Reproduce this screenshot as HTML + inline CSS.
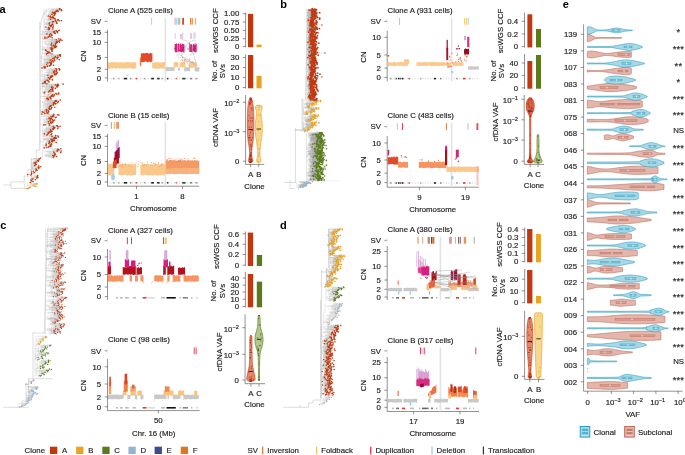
<!DOCTYPE html>
<html><head><meta charset="utf-8"><style>
html,body{margin:0;padding:0;background:#fff;}
svg{display:block;font-family:"Liberation Sans", sans-serif;will-change:transform;}
text{stroke:#231f20;stroke-width:0.18px;}
text.b{stroke:none;}
</style></head><body>
<svg width="685" height="455" viewBox="0 0 685 455">
<rect width="685" height="455" fill="#fff"/>
<text class="b" x="-0.6" y="12.9" font-size="11" text-anchor="start" font-weight="bold" fill="#000">a</text>
<text class="b" x="280.2" y="7.6" font-size="11" text-anchor="start" font-weight="bold" fill="#000">b</text>
<text class="b" x="0.2" y="229" font-size="11" text-anchor="start" font-weight="bold" fill="#000">c</text>
<text class="b" x="280" y="228.5" font-size="11" text-anchor="start" font-weight="bold" fill="#000">d</text>
<text class="b" x="562.8" y="7.6" font-size="11" text-anchor="start" font-weight="bold" fill="#000">e</text>
<line x1="39.8" y1="22" x2="39.8" y2="150" stroke="#a8a8a8" stroke-width="0.4"/>
<line x1="36.3" y1="150" x2="39.8" y2="150" stroke="#a8a8a8" stroke-width="0.4"/>
<line x1="36.3" y1="150" x2="36.3" y2="165" stroke="#a8a8a8" stroke-width="0.4"/>
<line x1="31.9" y1="163" x2="36.3" y2="163" stroke="#a8a8a8" stroke-width="0.4"/>
<line x1="31.9" y1="163" x2="31.9" y2="172" stroke="#a8a8a8" stroke-width="0.4"/>
<line x1="28" y1="170" x2="31.9" y2="170" stroke="#a8a8a8" stroke-width="0.4"/>
<line x1="28" y1="170" x2="28" y2="178" stroke="#a8a8a8" stroke-width="0.4"/>
<line x1="24.2" y1="176" x2="28" y2="176" stroke="#a8a8a8" stroke-width="0.4"/>
<line x1="24.2" y1="176" x2="24.2" y2="183" stroke="#a8a8a8" stroke-width="0.4"/>
<line x1="3.3" y1="185" x2="11" y2="185" stroke="#a8a8a8" stroke-width="0.4"/>
<line x1="11" y1="181.8" x2="11" y2="188.4" stroke="#a8a8a8" stroke-width="0.4"/>
<line x1="11" y1="181.8" x2="24.2" y2="181.8" stroke="#a8a8a8" stroke-width="0.4"/>
<line x1="11" y1="188.4" x2="27" y2="188.4" stroke="#a8a8a8" stroke-width="0.4"/>
<line x1="40" y1="30" x2="41.5" y2="20" stroke="#a8a8a8" stroke-width="0.4"/>
<line x1="41.5" y1="20" x2="44" y2="13" stroke="#a8a8a8" stroke-width="0.4"/>
<line x1="44" y1="13" x2="47.5" y2="9" stroke="#a8a8a8" stroke-width="0.4"/>
<g stroke="#aaaaaa" stroke-width="0.28" fill="none">
<path d="M44 8.6v21.4M46.1 8.6v10.7M44 14h2.1M47.8 8.8h11.7M51.6 9.1h8.4M49.8 9.5h9.9M57 9.9h4.7M57 9.9v-2.1M51.7 10.2h5.5M48.3 10.6h13.3M48.3 10.6v-1.8M50.3 10.9h5.9M50.3 10.9v1.8M52.2 11.3h6.1M45.5 11.6h11.4M50.1 12h5.1M50.1 12v1M50 12.4h2.8M51.7 12.7h2.6M48.6 13.1h6.8M49.3 13.4h5.5M47.2 13.8h6.7M49.4 14.1h5.6M48 14.5h4M49.1 14.9h5.7M48.3 15.2h6.1M46.9 15.6h7.4M45.5 15.9h3M49.4 16.3h1.2M47.3 16.6h5.6M47.1 17h3M47.1 17v-1M48.4 17.4h4.3M48.4 17.4v2.2M47.5 17.7h3.7M47 18.1h6.7M48.5 18.4h4.7M48.5 18.4v2M47.9 18.8h7.2M49.6 19.2h1M44.7 19.3v10.7M44 24.7h0.7M47.3 19.5h11M47.3 19.5v1.9M49.5 19.9h5.7M46.2 20.2h11.4M46.2 20.2v-1.3M52.8 20.6h6.5M48.9 20.9h12.5M48.9 20.9v-1.8M50.4 21.3h5.4M49.8 21.6h4M46.7 22h5.8M46.7 22v1.7M49.3 22.4h7.5M45.6 22.7h4M45.6 22.7v2.4M49.2 23.1h7.4M46 23.4h10.9M47.7 23.8h1.3M47 24.1h5.4M47 24.1v0.5M45.9 24.5h6M46.5 24.8h6.5M46.7 25.2h3M46.7 25.2v-3M47.5 25.6h3.7M48.3 25.9h2M48.3 25.9v0.4M50.1 26.3h3.1M48 26.6h2.9M44.6 27h1.3M49 27.3h3.8M49 27.3v0.4M44.6 27.7h3.9M44.6 27.7v-0.3M46.5 28h2.7M46.3 28.4h3.3M46.3 28.4v2.3M46.8 28.8h2.6M48 29.1h4.9M44.3 29.5h4M46.1 29.8h2.9M40.5 30v70M42.5 30v8.9M40.5 34.4h2M49.9 30.2h9.4M49.9 30.2v-2.1M52.1 30.5h6.7M52.1 30.5v-2.7M46.7 30.9h9.4M41.9 31.2h14.7M43.2 31.6h11.2M43.2 31.6v0.2M45.6 31.9h11.8M45.6 31.9v-1.8M47.5 32.3h6.1M47.5 32.3v-0.9M44.1 32.7h13.3M42 33h12.5M51.2 33.4h4.1M48 33.7h2.6M44 34.1h2.9M44 34.1v-2.2M43.9 34.4h7.7M42.4 34.8h7.2M42.4 34.8v-1.2M49.7 35.1h2.1M49.8 35.5h2.1M46.6 35.8h5M46.6 35.8v0M43.5 36.2h5.6M46.4 36.6h3.8M44 36.9h4.3M43.9 37.3h1M46.8 37.6h5.4M44.5 38h2.5M42.2 38.3h2.8M42.9 38.7h2.1M42.5 38.9v15.5M40.5 46.6h2M48.2 39h10.5M51.2 39.4h9.6M43.5 39.7h12.8M43.5 39.7v-1.4M46.8 40.1h13.3M50.6 40.4h11.4M53.1 40.8h6.5M44.8 41.2h13.9M44.8 41.2v1M48.8 41.5h8.4M43 41.9h13.1M51.6 42.2h7.9M53.7 42.6h3.5M53.7 42.6v0.5M48.8 42.9h3M43.2 43.3h12.4M48.2 43.6h8M46.8 44h9M52.2 44.3h3.2M45.7 44.7h5.6M45.6 45h7.5M45.6 45v-2.4M50.8 45.4h2.7M50.8 45.4v-1.4M48.2 45.7h6.6M49.1 46.1h6.5M51.3 46.4h5.2M51.2 46.8h2.9M51.2 46.8v-0.2M42.7 47.1h9.2M47.5 47.5h8.2M47.5 47.5v-2M51.1 47.8h3.1M44.4 48.2h6.2M44.4 48.2v-0.9M49.2 48.5h2.6M47.3 48.9h5.5M41.9 49.2h10.5M42.3 49.6h9M42.3 49.6v-1.5M43.2 50h2.4M43.2 50v-2.8M44 50.3h7.7M43.4 50.7h2.7M44.6 51h7.7M45.9 51.4h6.1M45.8 51.7h1.8M45.8 51.7v2.5M45.6 52.1h2.5M45.6 52.4h3.5M44.3 52.8h4M45.7 53.1h4.5M42 53.5h5.3M42 53.5v-0M45.2 53.8h6.8M44.2 54.2h2.5M41.6 54.4v14.1M40.5 61.4h1.1M56.1 54.5h4.1M44.5 54.9h15M46.4 55.2h14M46.1 55.6h13.6M43.9 55.9h14M51.6 56.3h8.7M47.3 56.6h8M47.3 56.6v1M43.1 57h12.8M43.1 57v-0.9M54.4 57.3h3.7M54.4 57.3v-0.9M48.4 57.7h9M46.1 58.1h8.1M41.4 58.4h11.2M41.4 58.4v-2.6M51.4 58.8h5.9M43.2 59.1h11.1M43.4 59.5h16.1M44.1 59.8h6.9M43.1 60.2h7.2M43.1 60.2v-0.4M46.9 60.5h7.7M43.3 60.9h9.3M48.7 61.2h4.2M48.7 61.2v-2.6M44.9 61.6h6.7M43.6 61.9h9.9M44.2 62.3h7.3M44.3 62.6h5.4M44.3 62.6v2M43.9 63h4M48 63.3h2.5M49.6 63.7h2.1M41.6 64h9.2M43.9 64.4h2.8M43.9 64.4v-1.2M48.7 64.7h2.3M45 65.1h8.6M42.2 65.4h8.2M43.8 65.8h5.7M45.1 66.1h2.6M45.1 66.1v-1.1M42.9 66.5h4.5M42.9 66.5v-2.4M42.1 66.8h1.9M42.8 67.2h2.7M43.5 67.6h0.8M43.6 67.9h1.3M43.6 67.9v-3M41.9 68.3h0.1M42.1 68.4v15.4M40.5 76.1h1.6M42.3 68.6h16.6M48.5 69h7.4M51.8 69.3h4.9M46.6 69.7h13.2M46.6 69.7v2.6M48 70h11.7M51.9 70.4h4.4M46.7 70.7h7.6M49.2 71.1h7.3M49.2 71.1v0.4M51.8 71.4h4.4M51.8 71.4v0.6M48 71.8h5.7M46.7 72.1h6.7M46.7 72.1v0.7M44.8 72.5h9.9M44.8 72.5v-0.2M48.3 72.8h9.2M48.3 72.8v-0.3M51 73.2h5.6M47.7 73.5h6.7M47.5 73.9h8.5M45.5 74.2h10.6M41.7 74.6h12.9M52 74.9h3.7M52 74.9v1.9M43.7 75.3h4.1M44.4 75.6h7.7M44.4 75.6v2.6M41.9 76h10.9M48.3 76.3h2.5M45.1 76.7h7M48.7 77h1.7M47.6 77.4h3.4M47.6 77.4v1.9M45.2 77.7h3.2M43.8 78.1h6.5M47.9 78.4h2.2M47.9 78.4v-1.6M43.5 78.8h6.4M45.9 79.1h3.6M45.9 79.1v0.7M44.2 79.5h8.2M44.2 79.5v0.8M43.8 79.8h8.8M43.8 79.8v-2.9M42.4 80.2h4.6M46.3 80.5h1.5M46.3 80.5v0.2M40.9 80.9h7.3M43.7 81.2h5M43.2 81.6h2.2M42.5 81.9h2.1M46.4 82.3h2.6M42.7 82.6h1.5M42.7 82.6v-1M41.5 83h3.9M41.3 83.3h1.5M41.3 83.3v0.9M43.5 83.7h3.5M43.5 83.7v1.5M42.6 83.8v9.2M40.5 88.4h2.1M48.1 84h15.1M45.8 84.4h11.9M44.8 84.7h10.6M42.1 85.1h15.2M45.4 85.4h13.2M51.1 85.8h6M41.9 86.1h14.8M42 86.5h15.5M41.8 86.8h10.3M41.8 86.8v-2.3M48.8 87.2h8.2M44.1 87.5h7.4M45.5 87.9h7.6M45.5 87.9v1.3M52.5 88.2h2.9M46.7 88.6h6M44.6 88.9h7.7M44.6 88.9v2.2M45 89.3h7.7M46.1 89.6h4.4M49.1 90h3M49.1 90v2.7M48.6 90.3h4.2M44.5 90.7h5.2M45.1 91h4.1M45.1 91.4h7.8M45.1 91.4v2.4M48.6 91.8h2.4M48.6 91.8v-0.2M42.4 92.1h6M42.2 92.5h2.4M42.9 92.8h1.4M45 93v7M40.5 96.5h4.5M49.9 93.2h8.9M49.9 93.2v-2.1M48.6 93.5h7.3M48.6 93.5v2.9M55.6 93.9h3.1M55.6 93.9v-0.7M47.8 94.2h9.1M47.8 94.6h4.7M47.8 94.6v-0.6M44.7 94.9h9.5M44.7 94.9v0.6M47 95.3h5.3M50.5 95.6h3.6M46.2 96h5.3M41.6 96.3h9.8M45.5 96.7h7.6M45.5 96.7v-0.5M46.2 97h4.4M46.2 97v0.9M47.3 97.4h2.9M45.9 97.7h4.1M47.5 98.1h2.8M46 98.4h1.7M42.2 98.8h4.6M46.7 99.1h4.2M46.4 99.5h2.1M44.8 99.8h3.3M40 100v48M40.5 100v14.2M40 107.1h0.5M50.3 100.2h10M50.3 100.2v2.8M44.9 100.5h11.1M44.9 100.5v0.3M43.7 100.9h11.5M44.2 101.2h12.4M44.2 101.2v1.3M46.1 101.6h12.3M51.4 101.9h3.6M47.9 102.3h6.5M42.3 102.7h15.2M42.7 103h10.6M42.7 103v-1.6M47.2 103.4h7.6M47.2 103.4v2.3M46.7 103.7h9.3M45.3 104.1h10.1M44.7 104.4h8.5M44.7 104.4v-1.6M43.1 104.8h10.2M49.7 105.1h3.9M49.7 105.1v2M42.7 105.5h7.7M46.6 105.8h5.1M42.3 106.2h7.7M47.5 106.6h2.6M47.5 106.6v1.3M44.4 106.9h5.1M46.2 107.3h8.4M43.2 107.6h8.5M47.2 108h1.9M45 108.3h4.3M47 108.7h4.2M42.9 109h8M44.6 109.4h4.9M42.5 109.7h4M41.9 110.1h4.4M44.5 110.5h3.6M43.8 110.8h4.1M42.9 111.2h3.5M44.6 111.5h4.1M44.6 111.5v-2.3M40.7 111.9h1.6M42.3 112.2h1.6M42 112.6h5.8M42 112.6v-3M45.5 112.9h1.4M45.5 112.9v2.2M45.1 113.3h2.9M45.1 113.3v-2.7M42.5 113.6h2.3M41.5 114h0.3M41.5 114v2.8M44.1 114.2v11.2M40 119.8h4.1M41.3 114.3h12.5M46.1 114.7h11.8M52.7 115h6.3M52.7 115v1.8M47.6 115.4h6M44.6 115.7h8.2M44.6 115.7v-2.6M49.2 116.1h4.6M42.4 116.5h8.6M46.6 116.8h5.5M47.6 117.2h8.6M51.9 117.5h3.6M45.8 117.9h4M45.3 118.2h6.2M47.2 118.6h1.8M45.7 118.9h4.8M45.7 118.9v1.5M45.2 119.3h5.5M46.7 119.6h5.8M46.6 120h8.1M46.6 120v-1.9M46.9 120.3h3.2M46.9 120.3v-2.7M45.8 120.7h7.7M48.1 121h4.6M48.1 121v-2.8M44.2 121.4h9M45.3 121.7h5.9M44.7 122.1h3.7M44.7 122.1v-1.9M43.8 122.4h8.8M47.6 122.8h3.2M48 123.1h3.2M46.2 123.5h2.9M46.2 123.5v2.8M45.9 123.8h3.4M40.7 124.2h8.8M44.4 124.5h0.9M40.8 124.9h3M45.2 125.2h4.5M42.8 125.4v9.9M40 130.4h2.8M51.6 125.6h5.8M51.6 125.6v-2.8M49 125.9h7.7M49 125.9v-0.3M50.4 126.3h9.8M48.5 126.6h4.8M48.5 126.6v-1.7M46.4 127h11.7M46.4 127v2.2M50.2 127.3h3.4M46.7 127.7h8.1M46.1 128.1h8.5M46.1 128.1v-0.1M45.4 128.4h8.1M47.4 128.8h10.4M42.7 129.1h10.1M43.9 129.5h9.3M45.9 129.8h4.5M48 130.2h2.9M44.2 130.5h6.9M44.8 130.9h6.1M44.2 131.2h7.9M42.4 131.6h7.9M43.6 132h5.9M48.3 132.3h2.6M45.7 132.7h2.6M45.7 132.7v0.1M44 133h4.1M42.2 133.4h6.4M47 133.7h4.9M44.1 134.1h0.4M44.1 134.1v-1.9M43.7 134.4h4.1M47.1 134.8h4M43 135.1h3.8M43 135.1v-2.3M43.2 135.3v12.7M40 141.7h3.2M45.7 135.5h10.1M42.5 135.8h15.4M49.1 136.2h9M42.8 136.6h9.1M42.8 136.6v-1M49 136.9h9.3M52.6 137.3h2.8M49.2 137.6h5M44.7 138h11.6M44.7 138v2.8M46 138.3h9M42.8 138.7h11.4M50.6 139h2.5M42.3 139.4h8.8M48.1 139.7h4.5M45.1 140.1h7.2M45.1 140.1v-2.2M46.6 140.4h7.9M46.6 140.4v-2.5M48.9 140.8h4.5M48.9 140.8v1.3M46.4 141.1h2.9M46.2 141.5h5.2M49.7 141.8h2.7M49.7 141.8v0.3M47.2 142.2h2.2M47.2 142.2v-2.6M45.1 142.5h11.1M48.5 142.9h1.5M45.2 143.2h3.7M48.4 143.6h3.2M45.1 143.9h1M48.6 144.3h3.1M44.2 144.7h7.3M46.1 145h4M44.2 145.4h1.7M42 145.7h4.1M44.7 146.1h5.8M48.5 146.4h2.4M45.5 146.8h3.5M47.4 147.1h1.4M42.3 147.5h4.5M43.6 147.8h0.7M42.5 148.5v9M45.6 148.7h15.2M51.2 149.2h6.3M51.9 149.6h6.3M55.4 150.1h3.5M53.2 150.5h4.1M46.4 151h14.7M46.4 151v0.1M45.8 151.4h11.3M43.3 151.9h10.6M53.1 152.3h7.6M53.1 152.3v-1.2M47.7 152.8h6.4M46.6 153.2h7.9M50.2 153.7h4.5M50.2 153.7v-2.4M51.2 154.1h4.2M45.3 154.6h9.5M45.9 155h8.4M45.9 155v2.4M43.9 155.5h8.9M46.1 155.9h8.7M45.6 156.4h10.9M48.3 156.8h5.3M49 157.3h4.3M49 157.3v-1.1M31 158v25M31.5 158v7.9M31 162h0.5M33 158.3h7.6M32.6 158.8h6.5M32.6 158.8v2M33.4 159.3h6.1M33.4 159.3v-1.6M35.7 159.8h2.9M35.7 159.8v-1.4M34 160.4h3.6M33 160.9h5.7M33.5 161.4h5.1M33.5 161.4v-0.3M33.1 162h3.6M31.7 162.5h3.7M33.2 163h1M32.7 163.5h2.5M33.9 164.1h1.9M33.9 164.1v0.4M33 164.6h3.4M33 164.6v-1.1M32.9 165.1h2.2M32.8 165.7h1.7M32.8 165.7v-1.3M31.5 165.9v9.4M31 170.6h0.5M32.5 166.2h6.4M32.5 166.7h8.3M32.5 166.7v2.5M33.1 167.2h6M33.1 167.2v-1.2M33.6 167.8h4.6M32.5 168.3h6.4M31.9 168.8h3.9M33.2 169.3h3.5M33.2 169.3v-1.5M31.9 169.8h4.5M35 170.4h2.1M34.8 170.9h1M32 171.4h1.5M31.2 171.9h0.4M33.3 172.5h1.2M33.4 173h0.5M31.6 173.5h0.1M31.6 173.5v-1.1M31.2 174h0.3M31.2 174v-1.5M30.3 174.5h-2.7M31.3 175.1h-0.4M31.5 175.3v7.7M31 179.2h0.5M34.4 175.6h3.3M34.4 175.6v-1.3M32.3 176.1h5M32.3 176.1v-1.8M33.8 176.6h3.1M32.1 177.1h5.1M33.6 177.6h4.6M33.6 177.6v-0.1M34 178.1h2.7M34 178.1v2.5M31.4 178.7h1.6M31.4 178.7v-2.2M31.7 179.2h0.6M31.7 179.2v-1.9M34.1 179.7h1.4M31.3 180.2h-0.5M31.5 180.7h0M31.5 180.7v-2.8M32.1 181.2h1.1M31.8 181.7h1M31.8 181.7v0.5M30.9 182.2h-0.6M31.3 182.7h-0.8M24.5 183.2v6M30.9 183.5h5.9M28.7 184.1h6.5M30.8 184.7h6.2M27.6 185.3h5.8M27.6 185.3v-2.5M32.3 185.9h2.2M30.1 186.5h5.7M30.1 186.5v1.1M27.5 187.1h3M28.1 187.7h1.4M28.1 187.7v-1.9M25.1 188.3h3.2M25.8 188.9h1.3"/>
</g>
<path d="M59.4 8.6h0M60.1 9h0M59.7 9.7h0M61.6 9.7h0M57.2 10.2h0M61.6 10.6h0M56.3 11h0M58.2 11.4h0M56.9 11.7h0M55.2 12.1h0M52.8 12.4h0M54.3 12.7h0M55.4 13.2h0M54.8 13.2h0M53.9 13.6h0M55 14h0M52 14.4h0M54.8 15h0M54.4 15.3h0M54.3 15.5h0M48.5 16h0M50.6 16.4h0M52.9 16.5h0M50 16.8h0M52.7 17.4h0M51.2 17.7h0M53.7 17.9h0M53.3 18.3h0M55.1 18.6h0M50.6 19.2h0M58.3 19.7h0M55.2 20h0M57.6 20.1h0M59.3 20.8h0M61.5 20.8h0M55.8 21.3h0M53.7 21.8h0M52.5 21.9h0M56.7 22.4h0M49.6 22.8h0M56.6 23.1h0M56.9 23.5h0M49 23.7h0M52.4 24h0M51.9 24.5h0M53 24.8h0M49.7 25.3h0M51.3 25.6h0M50.3 25.8h0M53.2 26.3h0M50.9 26.6h0M45.9 27h0M52.8 27.5h0M48.4 27.5h0M49.2 27.9h0M49.6 28.6h0M49.4 28.9h0M52.9 29h0M48.3 29.4h0M49 29.8h0M59.2 30.3h0M58.8 30.6h0M56.1 30.7h0M56.6 31.2h0M54.4 31.5h0M57.4 31.9h0M53.6 32.1h0M57.4 32.7h0M54.5 33h0M55.3 33.4h0M50.5 33.8h0M46.9 33.9h0M51.6 34.6h0M49.6 34.8h0M51.8 35.2h0M51.9 35.4h0M51.6 35.7h0M49.1 36h0M50.3 36.7h0M48.3 36.9h0M44.9 37.1h0M52.2 37.7h0M47 38.1h0M45 38.4h0M45 38.5h0M58.8 38.8h0M60.8 39.2h0M56.3 39.8h0M60.1 40.1h0M62 40.5h0M59.5 40.8h0M58.8 41.2h0M57.2 41.4h0M56.1 42h0M59.5 42.1h0M57.2 42.4h0M51.8 43.1h0M55.6 43.3h0M56.2 43.5h0M55.7 43.8h0M55.4 44.5h0M51.3 44.9h0M53.2 45.2h0M53.4 45.4h0M54.8 45.8h0M55.6 46.2h0M56.6 46.3h0M54.2 46.7h0M51.9 47.1h0M55.7 47.4h0M54.2 47.8h0M50.6 48h0M51.7 48.5h0M52.8 48.8h0M52.5 49.3h0M51.3 49.6h0M45.7 50h0M51.7 50.1h0M46.2 50.6h0M52.3 51.1h0M52.1 51.4h0M47.6 51.8h0M48.1 51.9h0M49.1 52.4h0M48.3 53h0M50.2 53h0M47.3 53.5h0M52 54h0M46.6 54.1h0M60.3 54.7h0M59.6 54.9h0M60.4 55.3h0M59.7 55.4h0M57.9 56.1h0M60.3 56.2h0M55.4 56.6h0M55.9 57.2h0M58.1 57.5h0M57.4 57.9h0M54.1 57.9h0M52.6 58.6h0M57.3 58.7h0M54.2 59h0M59.5 59.6h0M51 60h0M50.3 60.2h0M54.6 60.6h0M52.5 60.8h0M52.9 61h0M51.5 61.7h0M53.5 62h0M51.5 62.3h0M49.7 62.5h0M47.9 62.9h0M50.5 63.3h0M51.6 63.6h0M50.8 64.2h0M46.7 64.2h0M51 64.9h0M53.6 65.3h0M50.4 65.3h0M49.6 65.9h0M47.6 66h0M47.4 66.5h0M44.1 66.8h0M45.5 67.1h0M44.3 67.5h0M44.9 68.1h0M42 68.1h0M59 68.6h0M55.9 68.8h0M56.7 69.2h0M59.8 69.6h0M59.6 69.9h0M56.3 70.2h0M54.3 70.7h0M56.5 71.2h0M56.2 71.4h0M53.7 71.8h0M53.5 72.1h0M54.7 72.3h0M57.5 72.8h0M56.7 73.2h0M54.4 73.7h0M56 73.7h0M56.1 74.4h0M54.7 74.7h0M55.6 74.8h0M47.9 75.2h0M52 75.7h0M52.8 76h0M50.8 76.3h0M52 76.8h0M50.4 76.9h0M51 77.3h0M48.4 77.8h0M50.2 78h0M50.1 78.5h0M49.9 78.6h0M49.5 79.1h0M52.4 79.6h0M52.5 79.9h0M47 80.2h0M47.8 80.5h0M48.3 81h0M48.7 81.2h0M45.4 81.4h0M44.6 81.7h0M49 82.1h0M44.2 82.7h0M45.4 82.9h0M42.8 83.5h0M47 83.8h0M63.2 84.1h0M57.7 84.4h0M55.5 84.7h0M57.3 84.9h0M58.6 85.4h0M57.1 85.8h0M56.7 86.1h0M57.4 86.6h0M52 86.6h0M57.1 87.1h0M51.5 87.4h0M53.1 87.8h0M55.4 88.4h0M52.7 88.5h0M52.3 88.8h0M52.7 89.5h0M50.6 89.8h0M52.1 89.9h0M52.9 90.2h0M49.7 90.7h0M49.2 91.2h0M52.9 91.4h0M51 91.8h0M48.5 92h0M44.6 92.3h0M44.2 93h0M58.8 93.1h0M55.9 93.6h0M58.7 94.1h0M56.9 94.1h0M52.4 94.7h0M54.2 94.9h0M52.3 95.3h0M54.1 95.7h0M51.5 96h0M51.4 96.4h0M53.1 96.6h0M50.6 97.1h0M50.2 97.2h0M50 97.6h0M50.3 98.1h0M47.7 98.3h0M46.7 98.6h0M51 98.9h0M48.5 99.4h0M48 99.7h0M60.3 100.1h0M56.1 100.4h0M55.3 100.8h0M56.6 101.2h0M58.4 101.6h0M55 101.8h0M54.3 102.2h0M57.6 102.7h0M53.3 103.1h0M54.8 103.4h0M56 103.8h0M55.4 104h0M53.2 104.3h0M53.2 104.8h0M53.6 105.1h0M50.4 105.7h0M51.6 105.7h0M50.1 106.2h0M50.1 106.6h0M49.5 107h0M54.6 107.3h0M51.6 107.5h0M49 108.1h0M49.3 108.4h0M51.3 108.7h0M51 109.1h0M49.5 109.4h0M46.5 109.6h0M46.3 109.9h0M48.1 110.4h0M48 110.7h0M46.4 111.3h0M48.7 111.6h0M42.3 111.9h0M43.9 112.2h0M47.9 112.7h0M46.9 112.8h0M48 113.4h0M44.8 113.5h0M41.9 114.1h0M53.8 114.4h0M57.8 114.7h0M59 115h0M53.6 115.6h0M52.8 115.9h0M53.7 116.2h0M51 116.6h0M52.1 116.7h0M56.2 117.2h0M55.5 117.6h0M49.7 118h0M51.5 118.3h0M49 118.4h0M50.4 119h0M50.7 119.4h0M52.6 119.6h0M54.6 120h0M50.1 120.5h0M53.5 120.8h0M52.8 121.2h0M53.2 121.3h0M51.1 121.9h0M48.4 121.9h0M52.7 122.6h0M50.8 122.6h0M51.2 123.2h0M49.1 123.7h0M49.3 124h0M49.5 124.2h0M45.2 124.7h0M43.8 125h0M49.6 125.1h0M57.4 125.7h0M56.8 125.8h0M60.2 126.3h0M53.3 126.5h0M58.1 126.9h0M53.6 127.2h0M54.8 127.5h0M54.6 128h0M53.5 128.6h0M57.8 128.6h0M52.8 128.9h0M53.2 129.5h0M50.5 129.7h0M50.9 130.1h0M51 130.5h0M50.9 130.9h0M52.2 131.2h0M50.3 131.7h0M49.5 131.9h0M50.9 132.2h0M48.3 132.6h0M48.1 132.9h0M48.7 133.2h0M51.9 133.7h0M44.5 133.9h0M47.7 134.3h0M51.1 134.8h0M46.8 135.1h0M55.7 135.6h0M57.9 136h0M58.1 136.2h0M51.9 136.5h0M58.3 137h0M55.4 137.2h0M54.2 137.6h0M56.4 138.1h0M55 138.5h0M54.2 138.6h0M53.2 138.9h0M51.1 139.4h0M52.6 139.7h0M52.3 140h0M54.5 140.4h0M53.4 140.8h0M49.3 141.1h0M51.4 141.3h0M52.4 141.8h0M49.4 142.3h0M56.2 142.5h0M50 142.8h0M48.8 143.3h0M51.6 143.7h0M46.2 144.1h0M51.7 144.3h0M51.4 144.8h0M50.1 145.1h0M46 145.3h0M46.1 145.6h0M50.5 146.1h0M50.8 146.6h0M49 146.6h0M48.8 147.1h0M46.8 147.5h0M44.3 147.9h0M60.8 148.7h0M57.5 149.2h0M58.2 149.6h0M59 150.1h0M57.3 150.7h0M61.1 151h0M57.2 151.5h0M53.9 152h0M60.7 152.5h0M54.2 152.7h0M54.6 153.3h0M54.7 153.5h0M55.4 154.2h0M54.8 154.5h0M54.3 155.1h0M52.8 155.5h0M54.8 155.8h0M56.6 156.5h0M53.6 156.8h0M53.3 157.4h0" stroke="#c1380f" stroke-width="1.6" stroke-linecap="round" fill="none"/>
<path d="M40.6 158.1h0M39.1 158.7h0M39.5 159.1h0M38.6 160h0M37.6 160.5h0M38.7 160.8h0M38.5 161.3h0M36.7 161.9h0M35.4 162.3h0M34.2 163.1h0M35.1 163.4h0M35.8 164h0M36.4 164.5h0M35.1 165.2h0M34.5 165.5h0M38.8 166.1h0M40.8 166.8h0M39.1 167.2h0M38.2 167.6h0M38.8 168.4h0M35.9 168.9h0M36.6 169.2h0M36.4 169.9h0M37.2 170.3h0M35.8 171.1h0M33.4 171.2h0M31.6 172.1h0M34.5 172.4h0M33.9 173h0M31.7 173.4h0M31.5 174h0M27.6 174.4h0M30.8 175.1h0M37.6 175.5h0M37.4 176.2h0M37 176.5h0M37.2 177.2h0M38.1 177.6h0M36.8 178.2h0M33 178.5h0M32.3 179.2h0M35.5 179.8h0M30.8 180.1h0M31.5 180.7h0M33.2 181.4h0M32.8 181.6h0M30.2 182.4h0M30.5 182.5h0" stroke="#c1380f" stroke-width="1.5" stroke-linecap="round" fill="none"/>
<path d="M36.8 183.5h0M35.2 184.1h0M36.9 184.6h0M33.4 185.2h0M34.5 186h0M35.8 186.5h0M30.5 187.1h0M29.5 187.8h0M28.3 188.2h0M27.1 188.7h0" stroke="#eba21f" stroke-width="1.5" stroke-linecap="round" fill="none"/>
<line x1="305" y1="180.7" x2="339.3" y2="180.7" stroke="#cfcfcf" stroke-width="0.3"/>
<line x1="308" y1="9" x2="305.4" y2="100" stroke="#a8a8a8" stroke-width="0.4"/>
<line x1="302" y1="98" x2="302" y2="132" stroke="#a8a8a8" stroke-width="0.4"/>
<line x1="302" y1="100" x2="305.4" y2="100" stroke="#a8a8a8" stroke-width="0.4"/>
<line x1="295.4" y1="128" x2="295.4" y2="183" stroke="#a8a8a8" stroke-width="0.4"/>
<line x1="295.4" y1="130" x2="302" y2="130" stroke="#a8a8a8" stroke-width="0.4"/>
<line x1="290" y1="182.5" x2="295.4" y2="182.5" stroke="#a8a8a8" stroke-width="0.4"/>
<line x1="284.4" y1="182.5" x2="290" y2="182.5" stroke="#a8a8a8" stroke-width="0.4"/>
<line x1="290" y1="180" x2="290" y2="188.4" stroke="#a8a8a8" stroke-width="0.4"/>
<line x1="290" y1="188.4" x2="295" y2="188.4" stroke="#a8a8a8" stroke-width="0.4"/>
<line x1="295.4" y1="130" x2="305.5" y2="130" stroke="#a8a8a8" stroke-width="0.4"/>
<g stroke="#a0a0a0" stroke-width="0.28" fill="none">
<path d="M306.6 8.8v91.7M310.8 8.9h1.6M310.3 9h4.1M310.3 9v-0.1M309.4 9.2h2.8M309.4 9.2v0.1M310.1 9.3h5.1M310.3 9.5h4.2M310.3 9.5v2.9M308.8 9.6h7.8M307.7 9.8h8M310.2 9.9h3.4M310.2 9.9v-1.2M313 10.1h2.5M307 10.2h2.1M308.7 10.4h2.9M308.6 10.5h2.4M308.6 10.5v0.6M312.7 10.6h3.1M312.7 10.6v2.6M311.2 10.8h2.1M308 10.9h6.7M307.9 11.1h3.8M307.9 11.1v2.3M309.7 11.2h3.1M311 11.4h1.8M311.8 11.5h2.5M308.1 11.7h4.1M308.9 11.8h4.7M308.9 11.8v2.4M310 12h4.6M307.3 12.1h6.4M307.3 12.3h8.4M307.3 12.3v1M309.8 12.4h3.9M309.8 12.4v0.4M313 12.6h6.6M308.6 12.7h3M310 12.9h2.6M311.4 13h5.7M307.3 13.2h4.5M309.4 13.3h6.1M307.3 13.5h6.2M310.9 13.6h4.4M311.7 13.8h3.3M312.2 13.9h1.9M308.6 14.1h6M307.4 14.2h8.5M308 14.3h5.1M308 14.3v1.2M308.6 14.5h6.4M310 14.6h2.5M309.6 14.8h2.7M309.7 14.9h4.6M312.3 15.1h3.4M308.9 15.2h3.6M308.9 15.2v0.8M309.2 15.4h2.4M309.2 15.4v-0.2M307.3 15.5h8.4M307.5 15.7h4.6M307.5 15.7v-2.1M311.4 15.8h5.2M310 16h5.5M309.7 16.1h3.5M309.6 16.3h7.1M309.6 16.3v0.1M310.5 16.4h3.1M307.8 16.6h5.8M310.2 16.7h4.3M308.3 16.9h5.2M308.3 16.9v-1.9M311.7 17h2.8M311.7 17v2.9M308.1 17.2h4.7M309.5 17.3h1.8M309.5 17.3v0.9M307.5 17.5h9.9M308.5 17.6h9.2M308.5 17.6v-1.4M307.6 17.7h3.3M309 17.9h2.4M309 17.9v2.2M314.9 18h4.9M307.4 18.2h4.8M311.1 18.3h4.4M310.9 18.5h3.9M310.9 18.5v2.2M307.2 18.6h4.8M307.2 18.6v2.8M307.4 18.8h7M307.4 18.8v1.1M311.1 18.9h1.6M311.4 19.1h2.5M308.4 19.2h4.9M316 19.4h3.7M316 19.4v-0.1M308.3 19.5h5.9M308.9 19.7h4.3M307.7 19.8h3.2M308.5 20h4.7M308.5 20v-2.7M309.1 20.1h2.6M309.3 20.3h2.9M308.3 20.4h2.2M307.3 20.6h1.1M307.1 20.7h9M308.4 20.9h4.9M308.4 20.9v-2.3M311.9 21h4.3M311.9 21v1.2M310.6 21.1h1.1M310.6 21.1v1.5M309 21.3h2.3M309.2 21.4h1.8M308.4 21.6h2.4M307.6 21.7h4.3M308.7 21.9h4.2M311.2 22h5.2M308.9 22.2h8.2M308.8 22.3h2M308.8 22.3v-0.7M307 22.5h3.3M307 22.5v-1.5M308.4 22.6h2.6M308.4 22.6v-0.6M309.5 22.8h6.8M308.3 22.9h5.1M308.5 23.1h3.7M308.3 23.2h5.9M309.1 23.4h6.8M308.2 23.5h2.4M307.1 23.7h3.1M310.1 23.8h2.8M309.1 24h2.5M312.3 24.1h4.3M308.2 24.3h4.6M311.5 24.4h4.7M307.9 24.6h3.4M309.6 24.7h1.4M307.6 24.8h6.7M308.4 25h5.3M308.4 25v1.9M308.6 25.1h1.2M307.3 25.3h4.6M309.6 25.4h0.7M307.4 25.6h7.1M309.2 25.7h5.6M309.2 25.7v2.2M308 25.9h3.1M307.9 26h5.3M307.9 26v-2.7M309.2 26.2h2.5M312.8 26.3h2.2M309.4 26.5h2.9M308.5 26.6h7.2M308 26.8h3.4M309.6 26.9h2.5M309.6 26.9v2.2M308.6 27.1h3.6M309.1 27.2h3.5M309.1 27.2v-1.7M308.2 27.4h7.9M308.2 27.4v1.7M312.5 27.5h4.6M312.5 27.5v2.4M307.1 27.7h6.6M310.3 27.8h3.6M313 28h2.9M313 28v1.8M307.9 28.1h9.2M309.6 28.2h4.1M307.7 28.4h8.3M311 28.5h8.5M311 28.5v-0.9M309.2 28.7h0.9M309.2 28.7v-0.1M307.5 28.8h3.7M307.5 28.8v2.4M310.5 29h1.3M310.5 29v0.6M306.9 29.1h3.6M313.4 29.3h4.1M313.4 29.3v1.7M311 29.4h4.7M307.6 29.6h6.9M308.7 29.7h3.9M307.9 29.9h4.5M308.4 30h7.2M308.4 30v2.3M308.1 30.2h1.6M308.1 30.2v-0.2M307.6 30.3h3.3M308.2 30.5h4.5M308.8 30.6h4.8M307.7 30.8h5.3M309.7 30.9h3.6M309.7 30.9v2.3M308.5 31.1h5.3M310 31.2h3.1M309.2 31.4h3.4M307 31.5h7.1M307.3 31.7h3.8M307.3 31.7v1.4M308.5 31.8h6M308.5 31.8v-1M310.6 31.9h4.3M309.6 32.1h4.5M309.6 32.1v0.8M306.8 32.2h2M311 32.4h5.2M311 32.4v2M311.8 32.5h6.1M308.9 32.7h2.5M308.5 32.8h3.6M313.7 33h3.2M313.7 33v-1.8M309.3 33.1h3.3M309.6 33.3h3.2M307.9 33.4h3.4M307.9 33.4v0.9M309.1 33.6h2.7M309.1 33.6v-0.1M312.7 33.7h3M308.3 33.9h3.2M307.8 34h6M307.8 34v1.2M309.3 34.2h2M309.3 34.2v1.9M309.3 34.3h0.8M309 34.5h6.5M310.4 34.6h1M310.4 34.6v2M311.7 34.8h1.6M308.9 34.9h4.4M308.9 34.9v0.3M309.1 35.1h2.1M308.5 35.2h4.6M309 35.3h2.7M308.1 35.5h2.7M310 35.6h4.9M308.4 35.8h2.1M308.4 35.8v-1M312.2 35.9h5.3M310 36.1h2M309.3 36.2h4.1M308.7 36.4h2.9M307.9 36.5h4.6M307.5 36.7h2.7M307.5 36.7v0.1M309.3 36.8h5.8M309.3 36.8v-1.2M312.2 37h4M312.2 37v-1.1M307.9 37.1h6M307.9 37.1v-0.6M308.3 37.3h6.8M308.3 37.3v2.5M308.4 37.4h6.4M308.4 37.4v1.5M308.9 37.6h1.8M307.7 37.7h2.5M307.3 37.9h9.5M307.6 38h2.7M307.6 38v0.3M309.5 38.2h7.7M308.8 38.3h3.4M313.8 38.5h2.3M307.5 38.6h2.9M311.7 38.8h3.9M309.4 38.9h3.4M309.4 39h4.5M307.8 39.2h7.6M309.2 39.3h1M307.6 39.5h7M307.4 39.6h3.1M307.4 39.6v0.6M307.7 39.8h5.4M308.6 39.9h6.1M310.7 40.1h3.5M310.7 40.1v-1.3M309.1 40.2h2.6M310.5 40.4h3.3M308.1 40.5h4.3M307.7 40.7h7.6M308 40.8h2.1M308 40.8v0.8M309.1 41h2.4M309.1 41v2.2M309.8 41.1h2.4M310.3 41.3h5.1M309.2 41.4h5.1M309.2 41.4v-0.6M309.8 41.6h4.6M309.8 41.6v1.2M311.5 41.7h5M309.5 41.9h3.6M306.8 42h1.4M307.8 42.2h4.3M307.3 42.3h4.7M307.3 42.3v-0.9M307.9 42.4h6.1M307.9 42.4v1.7M309.1 42.6h2M310.1 42.7h3.6M307.3 42.9h5M314.1 43h4.7M307.2 43.2h4.1M307.2 43.2v-1.7M309.7 43.3h3.3M309 43.5h4.5M309 43.5v-1.1M308 43.6h7.1M308 43.6v2.4M309.2 43.8h2.5M309.2 43.8v-1.8M307.8 43.9h2.9M307.8 43.9v1.3M308.5 44.1h3.2M308.7 44.2h4.7M308.7 44.2v2.5M309.2 44.4h7.1M308.1 44.5h2.3M313.6 44.7h1.9M308 44.8h6.7M310.6 45h3.2M310.6 45v-2.1M309.5 45.1h3.7M309.5 45.1v1.8M307.6 45.3h4.7M309 45.4h4.4M309.1 45.6h4.1M310 45.7h5.7M310 45.7v1.5M310.3 45.8h3.8M307.6 46h4.8M307.5 46.1h4.6M308.8 46.3h5M310 46.4h2.4M309.5 46.6h4.7M310.3 46.7h3.4M309.8 46.9h3M308.1 47h1.4M311.8 47.2h3.6M311.8 47.2v-1.2M308.5 47.3h9.3M308.6 47.5h1.9M307.3 47.6h1.9M308.3 47.8h5.5M311.9 47.9h5.6M308.5 48.1h5.6M309 48.2h2.6M310.3 48.4h4.9M308.3 48.5h4.1M307.5 48.7h5.5M311.2 48.8h5.4M307.7 49h5.5M307.7 49v2.8M310.6 49.1h3.1M307.3 49.3h5.7M309.9 49.4h4.1M307.6 49.5h5.1M309.6 49.7h7.2M307.2 49.8h7.8M309.5 50h3M307.7 50.1h6.9M307.6 50.3h5.7M307.6 50.3v-2.4M307.7 50.4h3.2M307.7 50.4v-2.9M313.3 50.6h2M309.8 50.7h5.8M312.8 50.9h3.2M312.8 50.9v-0.7M309.1 51h4.3M312.3 51.2h2.3M312.3 51.2v1M307.8 51.3h5.5M307.9 51.5h5.8M307.6 51.6h5.9M309.7 51.8h5.7M309.7 51.8v-1.7M308 51.9h1.3M308 51.9v2.7M307.7 52.1h3.9M309 52.2h5.6M309 52.4h5M309 52.4v1M309.1 52.5h8.5M309.1 52.5v0.9M311.2 52.7h6.1M309.4 52.8h4.1M309.4 52.8v1.8M311.3 52.9h4.3M311.9 53.1h1.9M311.9 53.1v-1.7M308.2 53.2h6.4M308.2 53.2v1.5M307.1 53.4h8.1M309.3 53.5h3.2M313.1 53.7h3M313.1 53.7v3M311.6 53.8h1.5M308.4 54h3.1M308.4 54v2M308.4 54.1h7.4M307.8 54.3h5.2M309.2 54.4h2.9M310.7 54.6h3.9M309.6 54.7h4.2M307.4 54.9h5.2M310.1 55h8.1M310.1 55v2.8M308.7 55.2h2.2M308.7 55.3h5.7M307.8 55.5h6.8M307.8 55.5v2.4M308 55.6h1M308 55.6v-1.6M308.7 55.8h1.3M309.6 55.9h3.1M309.6 55.9v-0.1M311.1 56.1h1.3M309.4 56.2h0.8M309.4 56.2v-0.5M308.5 56.4h5.9M308.1 56.5h4.2M308.1 56.5v-1.4M307.8 56.6h6.8M309.5 56.8h5.3M311 56.9h3.3M311 56.9v-0.8M311.1 57.1h4.3M309.8 57.2h1.8M307.1 57.4h0.8M309.2 57.5h2.8M307.2 57.7h5.2M307.2 57.7v1.2M310.6 57.8h2.8M310.6 57.8v-2.3M307.7 58h7.1M308.2 58.1h4.1M308.2 58.1v-2.5M311.2 58.3h4M309.9 58.4h4.1M309.9 58.4v2.6M307.3 58.6h2.6M309.7 58.7h3.2M309.7 58.7v0.5M309.1 58.9h2.6M308.4 59h7.4M308.4 59v0.5M308.1 59.2h6.8M308.1 59.2v-0.5M307.7 59.3h5.4M307.7 59.3v0.8M309.9 59.5h2.8M309.9 59.5v-1.1M310.8 59.6h2.3M310.4 59.8h4M307.2 59.9h5.8M307.2 59.9v0.1M309.7 60h2.7M309.6 60.2h5.4M307.5 60.3h7.4M307.5 60.3v-0.7M308.7 60.5h4.4M309.1 60.6h7.2M310.5 60.8h5.4M310.8 60.9h1.2M307.2 61.1h3.2M307.8 61.2h6M311.2 61.4h2.6M311.2 61.4v-2.4M309.6 61.5h3.4M309.4 61.7h5.5M309.4 61.7v-1.5M309.3 61.8h7M309.9 62h5.3M309.9 62v-0.2M307.2 62.1h4.6M307.2 62.1v2.7M308.6 62.3h5.3M310 62.4h1.5M309.2 62.6h3.9M307.1 62.7h4.1M314.1 62.9h3.3M307.9 63h2.2M308.7 63.2h5.6M308 63.3h6.1M311.5 63.5h5M311.5 63.5v0.9M307.4 63.6h5.6M310.4 63.7h3.6M308.8 63.9h2.6M311 64h6.2M310.7 64.2h3.7M310.7 64.2v-1M311.9 64.3h2.8M311.9 64.3v-2.6M307.8 64.5h6.4M311.1 64.6h3.8M307.3 64.8h0.9M310.5 64.9h1.8M311 65.1h1.7M308.9 65.2h3M308.9 65.2v2.5M309.9 65.4h4.8M310.8 65.5h4.5M310.5 65.7h4M310.5 65.7v2.3M309.2 65.8h2M309.2 65.8v-1.2M307.7 66h6.3M310.2 66.1h2.4M310.7 66.3h1.5M307.9 66.4h6.6M307.9 66.4v0M309.5 66.6h2.2M309.3 66.7h2.8M308.4 66.9h4.3M308.5 67h3.7M308.5 67.1h4.9M308.1 67.3h1.4M308.3 67.4h2.1M308.3 67.4v2M308.4 67.6h9.5M308.4 67.6v1.8M310.1 67.7h4.7M307.7 67.9h3.6M307.7 67.9v-0.5M308.7 68h7.6M308.7 68v-2.5M309 68.2h3.1M313.3 68.3h2.1M307.4 68.5h4.7M308.7 68.6h3.8M310.7 68.8h1.7M308.7 68.9h2.5M309.2 69.1h5.8M309.8 69.2h2.4M309.8 69.2v-0.8M308.3 69.4h5.5M307.5 69.5h3M307.5 69.5v2.4M310.3 69.7h4.6M309.8 69.8h3.6M309.1 70h2.2M309.1 70.1h4.3M309.9 70.3h1.6M309.9 70.3v1.1M307.5 70.4h5.3M310.7 70.5h2.6M309.2 70.7h4.7M311.9 70.8h3.2M310.5 71h1.6M307.9 71.1h5.8M307.9 71.1v1.2M308 71.3h5.1M308 71.3v0.7M309 71.4h6M311.4 71.6h1.3M309.1 71.7h4.7M311 71.9h3.3M311 71.9v-0.4M308.3 72h2.8M309.5 72.2h2.6M310.9 72.3h3.1M310.9 72.3v1.8M307.4 72.5h6.8M308 72.6h3.8M308.2 72.8h2.5M309.5 72.9h3.1M309.1 73.1h8.5M308.4 73.2h3.8M308.4 73.2v2.5M309.3 73.4h3.1M309.3 73.4v1.6M313.3 73.5h2.2M313.3 73.5v1.7M307.5 73.7h4.1M309.2 73.8h3.7M309.2 73.8v-0M309.3 74h2.2M309.3 74v-0.8M313.3 74.1h6.7M309.4 74.2h1.2M307.3 74.4h4.8M308.9 74.5h4.4M310.1 74.7h1.7M310.1 74.7v-0.1M309.3 74.8h2.3M309.3 74.8v-0.2M311 75h1.4M311 75v-2.2M307.3 75.1h2.4M312.5 75.3h3.2M312.5 75.3v2.5M310.7 75.4h6.5M308 75.6h3.3M308 75.6v2.5M308.7 75.7h2.5M308.7 75.7v-0.2M313 75.9h4.7M307.7 76h4.3M310.6 76.2h2.3M308.7 76.3h6.4M308.8 76.5h6.1M308.7 76.6h6.5M308.7 76.6v-1.3M307 76.8h1.3M309.8 76.9h1.3M307.5 77.1h4.2M309.2 77.2h2.8M309.2 77.2v0M311.1 77.4h3.6M306.8 77.5h3.6M306.8 77.5v-0.4M308.7 77.6h3.3M307.1 77.8h8.5M307.1 77.8v-1.9M314.1 77.9h3M309.2 78.1h6.8M312.4 78.2h3.5M312.4 78.2v-2.1M307.4 78.4h0.6M309.2 78.5h1.7M307.4 78.7h3.5M307.4 78.7v-2.1M308.1 78.8h1.8M308.8 79h2.3M308.8 79v-2.7M311.2 79.1h2.2M311.2 79.1v-2.4M310 79.3h6.7M308.7 79.4h2.5M307 79.6h2.6M307 79.6v-1M309 79.7h2.8M308.1 79.9h3.2M307.4 80h5.1M307.4 80v2.1M308.9 80.2h2M308.9 80.2v0M309.7 80.3h6.2M309.7 80.3v1M307.5 80.5h7.7M307.7 80.6h5.7M309.1 80.8h6.1M307.4 80.9h3.1M307.4 80.9v0.3M307.5 81.1h7.5M311.6 81.2h2.5M311.6 81.2v2.6M308.5 81.3h7.5M310.7 81.5h1.1M310.7 81.5v1.3M307.7 81.6h2.4M307.7 81.6v0.5M309.4 81.8h1.9M309.4 81.8v2.9M308.1 81.9h7.6M309.1 82.1h3.2M309.1 82.1v-0.7M307.3 82.2h4.8M310.6 82.4h4.3M309.2 82.5h3.8M309.1 82.7h4.9M308.9 82.8h6.6M308.9 82.8v0M308.4 83h2M308.4 83v1.6M309.3 83.1h5.3M309.3 83.1v2.6M309.7 83.3h2.1M307.9 83.4h6.4M309.2 83.6h3.2M309.2 83.6v-1.6M310.1 83.7h4.8M307.4 83.9h5.6M310.8 84h3M309.3 84.2h3.2M309.8 84.3h4.1M310.1 84.5h5.4M307.2 84.6h2.4M307.2 84.6v2.5M307.9 84.7h3.2M307.9 84.7v1.6M314 84.9h2.7M308.5 85h3.2M310.1 85.2h2M309.7 85.3h2.4M310.4 85.5h1.7M307.1 85.6h3.6M308.3 85.8h3.4M308.3 85.8v-1.7M307.1 85.9h4.2M308 86.1h6.1M308.6 86.2h8.1M307.2 86.4h6.8M308 86.5h2.5M307.7 86.7h2.8M308.4 86.8h5.5M308.4 86.8v-2.4M309.2 87h3.8M307.4 87.1h4.9M309.4 87.3h1.2M309.4 87.3v2.3M308.1 87.4h3.5M308.1 87.4v2.7M311.6 87.6h3.9M308.4 87.7h2.8M308.7 87.9h7.9M309.5 88h1.5M311 88.2h2.8M311 88.2v-1.7M308.8 88.3h2.9M308.8 88.3v-2M307.3 88.4h2.9M308.4 88.6h3.7M309.6 88.7h2.6M309.6 88.7v-1.1M307.9 88.9h2.3M307.9 88.9v-0.3M310.1 89h2.1M307.7 89.2h9.2M309.9 89.3h2.4M309 89.5h4.8M309 89.5v2.3M308.9 89.6h3.1M307.5 89.8h6.8M312.4 89.9h5M312.4 89.9v-2M309.6 90.1h2.6M308.9 90.2h8.8M311.3 90.4h1.6M307.2 90.5h4.3M312 90.7h1.6M312 90.7v1.5M309.1 90.8h1.7M310 91h4.1M311.9 91.1h6.2M309.5 91.3h4.1M312.8 91.4h2.1M308.3 91.6h5.1M309.4 91.7h2.3M307.1 91.8h4.6M308.6 92h3.7M312.9 92.1h2.7M309.2 92.3h6.4M309.7 92.4h3.7M309.7 92.4v-1.7M308.1 92.6h5.8M308.1 92.6v0.5M308.3 92.7h2.1M307.7 92.9h5.7M307.7 92.9v1.6M307.7 93h3.9M310 93.2h2.7M307.8 93.3h8M311.8 93.5h2.4M307.6 93.6h5.4M309.7 93.8h4.2M307.3 93.9h5.6M309.2 94.1h2.8M314 94.2h2.4M312.1 94.4h1.7M307.6 94.5h2.1M307.6 94.5v-0.6M311 94.7h3.4M310.1 94.8h1.5M310.1 94.8v-0.8M306.9 95h5.4M309 95.1h5.3M309 95.2h2M311.1 95.4h4.2M308 95.5h5.3M308.3 95.7h1.1M308.3 95.7v2.6M307.9 95.8h4M307.9 95.8v-0.6M308.3 96h3.8M308.4 96.1h5.2M309.1 96.3h1.5M309.1 96.3v-2.3M308.9 96.4h0.9M308.9 96.4v-0.4M309.1 96.6h3.7M310.3 96.7h3.9M307.6 96.9h1M307.5 97h7.1M310.2 97.2h4.8M310.2 97.2v-2.1M307.7 97.3h5.6M307.7 97.3v0.1M308.6 97.5h5.4M307.1 97.6h4M307 97.8h2.6M307.4 97.9h3.2M308.1 98.1h3.3M308.1 98.1v0.9M308.9 98.2h4.8M308.9 98.2v-2.3M307.8 98.4h1.9M310 98.5h2.9M307.6 98.7h5.2M310.3 98.8h6.6M310.3 98.8v2.2M309.2 98.9h3.6M307.6 99.1h8.3M311.4 99.2h1.4M310 99.4h2.4M307.6 99.5h3.2M311.4 99.7h3.2M310.3 99.8h2.9M313 100h3.4M308.6 100.1h1.9M311.2 100.3h4.6M311.2 100.3v-1M312.3 100.4h2.5M303 100.5v30.8M306.8 100.5v7.1M303 104h3.8M307.5 100.6h13.1M307.5 100.6v2.8M313.4 100.9h4.5M310.1 101.2h7.8M316.4 101.5h4.3M316.4 101.5v1.3M307.8 101.8h8.8M308.7 102.1h6.4M308 102.3h7.7M314 102.6h2.4M310.6 102.9h2.6M305.9 103.2h6.9M307.5 103.5h3.5M304.3 103.7h9.7M304.3 103.7v-0M310.9 104h5.3M304.4 104.3h8.2M304.4 104.3v-0.3M308.8 104.6h3.3M308.7 104.9h5.5M308.4 105.2h1.3M306.9 105.4h0.3M306.9 105.4v-2.4M307.4 105.7h0.3M307.3 106h4.8M303.5 106.3h5.1M307.8 106.6h0.6M308.4 106.8h1.5M305.7 107.1h3.7M305.7 107.1v2.5M304 107.4h4.4M303.5 107.6v6.9M303 111h0.5M307.8 107.7h8.5M304 108h14.7M307 108.2h8.8M307.9 108.5h3.7M307.9 108.5v-1.1M311.7 108.8h6.6M306.8 109.1h9.4M311.1 109.3h2.3M308 109.6h5.3M310.3 109.9h3.8M307.4 110.2h4.9M311.2 110.4h2.6M311.2 110.4v-1M305.8 110.7h5.1M305.6 111h8.5M311.2 111.3h2.5M304.2 111.5h10.3M306.9 111.8h3.8M308.5 112.1h3.6M304.4 112.4h2.1M304.4 112.4v0.3M308.2 112.6h3.3M304.5 112.9h1.6M306.4 113.2h1.4M306.4 113.2v-2.4M304.1 113.5h6.7M304.1 113.5v1.5M305.6 113.7h1.6M303.9 114h2.6M304.5 114.3h2.8M305.2 114.4v7.5M303 118.2h2.2M304.9 114.6h9.5M310 114.9h8.3M309.8 115.1h4.7M312.1 115.4h3.9M312.1 115.4v-0.4M309.4 115.7h7.1M308.4 116h6.4M310 116.2h5.6M310 116.2v-0.3M307.6 116.5h10.2M306.8 116.8h5.6M308.7 117.1h5.7M310.5 117.4h3.1M304.1 117.6h10.2M309.4 117.9h6.5M306.9 118.2h8M306.9 118.2v0.1M310.2 118.5h1.3M306 118.7h5M307.4 119h4.7M306.3 119.3h7.1M306.3 119.3v-0.9M304.4 119.6h6.3M305.7 119.8h2.9M308.6 120.1h1.2M304.5 120.4h7.4M304.5 120.4v-0.1M305.9 120.7h4.5M305.9 120.7v-0.3M305 121h4.7M305.6 121.2h4.3M304.9 121.5h2.6M306.1 121.8h1.7M306.1 121.8v2.1M303.5 121.9v9.4M303 126.6h0.5M311.1 122.1h5.2M311.1 122.1v1.3M307.3 122.4h7.5M309.7 122.6h2.5M309.7 122.6v0.3M306.5 122.9h12.3M306.5 122.9v1.7M310.9 123.2h4.2M310.9 123.2v-0.2M308.7 123.5h4M304.4 123.8h7.3M304.9 124.1h10M307.4 124.3h7.5M307.4 124.3v1.4M304.5 124.6h9.7M304.5 124.6v-1.5M304.9 124.9h7.5M307 125.2h9M305.9 125.5h7.7M309.2 125.8h2.6M305.1 126h7.4M305.4 126.3h4.9M306.1 126.6h3.8M306.3 126.9h5.9M304 127.2h8.3M308.6 127.5h3.6M308.6 127.5v0.2M303.8 127.8h4.2M304.1 128h6.3M305.8 128.3h2.6M305.8 128.3v1.8M306.1 128.6h2.8M306.1 128.6v-1.7M303.6 128.9h0.2M305.8 129.2h2.3M305.8 129.2v0.3M306 129.5h3.5M303.6 129.7h5.2M304.6 130h0.6M304.6 130v2.6M304.6 130.3h3.6M303.8 130.6h1.4M304.7 130.9h0.3M304.6 131.2h2.5M304.6 131.2v2.5M306.5 132.4v48.1M316.9 132.5h5.1M316.9 132.5v-2.8M317.2 132.6h2.7M316.9 132.8h3.9M307.3 132.9h14.6M308.2 133h13.9M310.8 133.2h9.1M314.9 133.3h4.3M314.9 133.3v2.3M313.8 133.5h5.9M313.6 133.6h8.4M309.5 133.7h12.9M310.8 133.9h9.4M314.4 134h5M314.4 134v0.3M307.8 134.2h7.7M310.4 134.3h12M310.4 134.3v1.3M309.6 134.5h3.4M312.8 134.6h10.6M308.7 134.7h9.4M310.3 134.9h6.4M308 135h13.4M308 135v1.3M309.2 135.2h7.3M309.2 135.2v2.2M312.7 135.3h8.4M311.4 135.4h12.6M310.3 135.6h6.4M310.3 135.6v1.8M317.8 135.7h3M308.3 135.9h10.6M317.3 136h4.1M311.5 136.1h4.7M311 136.3h12.8M311.2 136.4h6.8M313.9 136.6h5.5M310.8 136.7h6.8M312.9 136.9h6.6M312.9 136.9v-1.2M311.2 137h9.3M311.2 137v0.5M312.1 137.1h8.1M308.8 137.3h9.6M308.8 137.3v-1M311.6 137.4h8.4M314.4 137.6h2.7M314.4 137.6v2.9M308.9 137.7h9.9M309.8 137.8h7.6M311.5 138h9.4M311.5 138v1.3M310.9 138.1h11.2M310.9 138.1v1.9M310.2 138.3h8.8M313.1 138.4h8.6M310.4 138.6h10.1M312.1 138.7h8.3M312.1 138.7v2.9M309 138.8h10.5M310 139h10.6M315.2 139.1h6.1M310.7 139.3h10.2M310.7 139.3v2.9M311.1 139.4h6.8M312.8 139.5h5.4M310 139.7h12.2M310 139.7v0.1M317.7 139.8h7.2M312.4 140h12.4M312.4 140v0.6M311 140.1h10.2M311 140.3h12M311 140.3v1M309.9 140.4h12.5M310.6 140.5h6.6M318.2 140.7h3.8M311.5 140.8h8.7M311.5 140.8v-1.5M308.8 141h7.7M314.7 141.1h8.6M316.5 141.2h5.8M310.3 141.4h8.7M313.2 141.5h7.9M314.1 141.7h3.2M311.3 141.8h11.8M316.5 141.9h2.9M316.5 141.9v1.9M313.4 142.1h7.5M310.1 142.2h14.8M313.6 142.4h9.4M308.5 142.5h13.2M312.8 142.7h7.1M314.9 142.8h2.5M315.8 142.9h5.9M309.4 143.1h6.8M320 143.2h4M320 143.2v2.4M309.2 143.4h5.3M317.3 143.5h2.8M311.1 143.6h9.5M311.1 143.6v-0.3M313.7 143.8h6.9M315.9 143.9h2.6M308 144.1h15.2M308 144.1v-0.9M310.1 144.2h2.7M310.1 144.2v-1.7M308.9 144.4h14.6M310.1 144.5h8M309.6 144.6h7M309 144.8h13.7M313.5 144.9h7M307.9 145.1h11.2M307.9 145.1v-0.9M309.6 145.2h14.5M309.9 145.3h11.9M307.5 145.5h10.9M313.6 145.6h12.5M308.9 145.8h10.2M308.9 145.8v2.7M314.7 145.9h2.7M314.8 146.1h4M314.8 146.1v-0.5M310 146.2h9.6M318.3 146.3h4M318.3 146.3v1.2M313.3 146.5h7.1M314.4 146.6h6.2M308.9 146.8h3.3M315 146.9h3.8M315 146.9v2.2M313.8 147h2.5M312.9 147.2h6M311.2 147.3h12.1M308.8 147.5h13.3M308.8 147.5v1.5M309.9 147.6h9.4M308.6 147.7h11.5M309.6 147.9h10.5M312.6 148h9.9M313.9 148.2h6.3M313.7 148.3h4.3M311.4 148.5h10.9M311 148.6h11.4M311 148.6v-0.2M313.1 148.7h13.5M313.1 148.7v0.8M311.1 148.9h3.3M314.8 149h7.5M314.8 149v-0.9M310.3 149.2h8.3M307 149.3h8.5M307 149.3v-2.8M310.5 149.4h4.6M310.2 149.6h11.2M313.6 149.7h3.9M313.6 149.7v-1.5M311.3 149.9h10.7M313.6 150h3.9M312.4 150.2h4.7M308.4 150.3h12.7M308.4 150.3v2M315.1 150.4h2.9M310.4 150.6h7.5M310.4 150.6v2.9M308.9 150.7h10.9M312.8 150.9h6.6M312.8 150.9v-2.9M310.7 151h11.7M307.4 151.1h8M317.4 151.3h2.9M307.3 151.4h7.5M307.5 151.6h11M311.4 151.7h10.4M314.8 151.9h5.1M313.9 152h3.3M308.2 152.1h8.5M315.5 152.3h6M312.1 152.4h8.7M312.1 152.4v0.4M310 152.6h13.7M313.2 152.7h7.9M313.2 152.7v-1.2M315.6 152.8h3.3M307.4 153h8.1M308.4 153.1h8.8M308.4 153.1v0.9M311.1 153.3h11.6M310.3 153.4h9.7M310.3 153.4v-1.1M314.4 153.5h3.6M310.4 153.7h11M308.2 153.8h12.7M312.3 154h12.1M308 154.1h8.9M308 154.1v2M307.4 154.3h9.4M312.5 154.4h6M309.3 154.5h11.7M315.3 154.7h4.6M315.3 154.7v-2.2M312.8 154.8h9.4M309.4 155h10.2M309.4 155v-2.1M314.6 155.1h3.1M308.1 155.2h12.1M308.1 155.2v0.4M317.1 155.4h5.9M317.1 155.4v0.5M310.3 155.5h5.7M315.3 155.7h9.8M310.5 155.8h4.6M310.5 155.8v0.4M311.5 156h2.8M311.5 156v1.3M312 156.1h3.7M315 156.2h6.4M311 156.4h6.1M312.6 156.5h7.8M312.6 156.5v-2M310.6 156.7h7M310.6 156.7v-2.9M309.7 156.8h12.4M307.2 156.9h12.2M307.2 156.9v-1.8M310.1 157.1h6.2M309.1 157.2h4.2M314.1 157.4h2.3M315.9 157.5h7.7M315.9 157.5v2.5M317.2 157.7h4.1M317.2 157.7v-1.4M315.9 157.8h4.9M315.9 157.8v-0.5M312.7 157.9h6.6M312.7 157.9v2.3M310.9 158.1h9.7M310.9 158.1v-2.1M308.7 158.2h8M312.5 158.4h8M312.5 158.4v-1.4M310.4 158.5h7.9M318.2 158.6h4.8M318.2 158.6v-1.6M312.5 158.8h5.9M311.5 158.9h10.7M316.1 159.1h6.6M316.1 159.1v-0.7M308.1 159.2h11.1M311.7 159.4h12.2M311.7 159.4v-0.3M317 159.5h2.8M317 159.5v0.7M309.7 159.6h8.1M308.8 159.8h12M308.8 159.8v-0.7M313.5 159.9h4.6M313.5 159.9v0.1M311.7 160.1h10.6M309.1 160.2h12.4M309.1 160.2v-1.4M308.9 160.3h17.5M315.7 160.5h2.3M311.7 160.6h8M317.7 160.8h3.1M317.7 160.8v-1.4M312.5 160.9h10.6M312.7 161h9.8M307.8 161.2h13M307.8 161.2v-1.5M311.5 161.3h9.2M309.8 161.5h9.8M313.1 161.6h9.8M313.1 161.6v0.5M310.5 161.8h4.7M310.7 161.9h9.4M309.8 162h9.5M311 162.2h11.6M314.5 162.3h6.8M314.5 162.3v2.1M311.4 162.5h7.2M310.1 162.6h6.1M310.1 162.6v-1.7M315.5 162.7h7.4M309.8 162.9h3.9M309.8 162.9v-0.2M307.6 163h9.7M314.4 163.2h2.7M312.8 163.3h4.3M314.8 163.5h3.8M315.9 163.6h3.4M311 163.7h6.7M311.1 163.9h2.3M308.8 164h13.4M311.7 164.2h4.5M311.7 164.2v0.5M308.1 164.3h10.5M313.2 164.4h7.5M313.2 164.4v2.2M315.8 164.6h6.4M315.8 164.6v2.9M310.2 164.7h7.9M311.3 164.9h7.3M310.9 165h5.6M314.1 165.2h4.3M320.6 165.3h5.8M313.1 165.4h5.1M307.6 165.6h8.1M309.7 165.7h6.7M310.5 165.9h7.5M310.5 165.9v3M308.9 166h9.5M311.8 166.1h6.2M311.8 166.1v2M311.5 166.3h8M309.8 166.4h4.4M314.4 166.6h5.7M309.6 166.7h9M310.2 166.8h14.5M308.1 167h8.9M316.3 167.1h3.2M316.3 167.1v2.1M314.3 167.3h2.4M313.2 167.4h2.8M315.8 167.6h5.1M309.9 167.7h10.3M313.7 167.8h6M313.7 167.8v0.4M314.2 168h7.6M312.3 168.1h10.8M309.9 168.3h6.6M308.6 168.4h7.8M318 168.5h3.5M311.2 168.7h9M309.4 168.8h3.3M313.1 169h7.9M319.9 169.1h5.2M319.9 169.1v0.9M312.4 169.3h9.1M309.6 169.4h7.3M313.3 169.5h7.3M319 169.7h4.2M313 169.8h7.2M313 169.8v1M312.4 170h6.2M308.2 170.1h8.9M308.2 170.1v-2.1M317 170.2h3.8M317 170.2v-1.5M315.9 170.4h6.9M314 170.5h6.7M309.7 170.7h5.8M312.8 170.8h5.7M309.8 171h8.5M309.8 171v-2.2M309.7 171.1h2.8M308.8 171.2h10M310.4 171.4h6M310.4 171.4v0.3M313.7 171.5h3M314.5 171.7h3.7M314.5 171.7v0.9M309 171.8h13.6M310.7 171.9h9.2M307.2 172.1h10.3M307.2 172.1v1.2M310.5 172.2h11M308.4 172.4h12.7M315.1 172.5h2.8M311.6 172.6h9.4M311.6 172.6v-2.8M308.2 172.8h12.8M308.2 172.8v0.9M313 172.9h9.2M307.6 173.1h14.5M311 173.2h7.3M311 173.2v0.5M311.2 173.4h7.4M312.9 173.5h4.7M310.7 173.6h10.6M308.5 173.8h6.5M312.2 173.9h9.5M312.6 174.1h2.5M312.6 174.1v-2.9M318.6 174.2h4.8M318.6 174.2v-2.2M310.8 174.3h11.3M313.1 174.5h9M313.3 174.6h4.8M308.2 174.8h8.5M308.3 174.9h10.1M309 175.1h4.9M310.6 175.2h9.1M313 175.3h4.4M308 175.5h12.1M307.4 175.6h5.2M307.4 175.6v-2.1M307.9 175.8h9.3M307.9 175.8v0.1M309.3 175.9h7.8M316.5 176h8.1M316.5 176v0.3M311.3 176.2h7.7M311.3 176.2v-1.9M307.2 176.3h8.1M311 176.5h2.7M310 176.6h10.2M308.1 176.8h10.1M309.3 176.9h8.3M315.6 177h5.2M315.6 177v1.5M310.7 177.2h7.8M310.7 177.2v-0.2M312.8 177.3h6M312.8 177.3v2.5M310.9 177.5h5M310.9 177.5v-1.1M315.3 177.6h5M317.6 177.7h4.9M314.3 177.9h5.1M317 178h6.2M317 178v0.8M311.7 178.2h6.8M309.4 178.3h7.3M309.8 178.4h9.8M313.5 178.6h7.4M313.5 178.6v2.6M315.1 178.7h6.5M315.1 178.7v2.5M316.4 178.9h4.8M307.5 179h10.2M309.6 179.2h4.2M312.1 179.3h9.8M308.4 179.4h2.4M311.8 179.6h6.9M316.5 179.7h7.7M316.5 179.7v-0.3M310.2 179.9h9.6M314 180h7.9M317.9 180.1h3.5M307.7 180.3h10.2M307.7 180.3v-2.4M308.4 180.4h10.6M297 181.6v6M299.4 181.7h13.2M298.8 181.9h7.8M299 182.1h8.2M299 182.1v-0.1M306.1 182.3h3.5M306.1 182.3v1.5M302.4 182.5h5.9M302.7 182.7h1.7M304.2 182.9h5.7M300.9 183.1h8M306 183.3h4.9M302.8 183.5h5.2M302 183.7h4.8M303.1 183.9h2.7M304 184.1h2.6M299.7 184.3h7M300.5 184.5h4.6M298.6 184.7h7.2M298.6 184.7v1.8M302.7 184.9h2.9M297.9 185.1h5.6M301.5 185.3h5.2M301.5 185.3v-2.4M298.4 185.5h6.7M300.3 185.7h5M300.1 185.9h6.1M299.5 186.1h4.7M299.5 186.1v0.1M300.4 186.3h4.2M300.4 186.3v0M299.3 186.5h3.2M299.8 186.7h3.8M299.8 186.7v-1.4M298.6 186.9h2.1M298.6 186.9v3M297.4 187.1h2.6M301.3 187.3h1.7M299 187.5h3.8"/>
</g>
<path d="M312.3 8.7h0M314.4 9h0M312.2 9.2h0M315.3 9.3h0M314.4 9.6h0M316.6 9.6h0M315.8 9.6h0M313.6 10h0M315.4 10.2h0M309.1 10.1h0M311.6 10.2h0M311 10.3h0M315.8 10.7h0M313.4 10.6h0M314.8 10.8h0M311.8 11.1h0M312.8 11h0M312.7 11.2h0M314.4 11.5h0M312.2 11.7h0M313.6 11.9h0M314.6 11.9h0M313.7 12.1h0M315.7 12.2h0M313.7 12.4h0M319.7 12.7h0M311.6 12.7h0M312.6 12.8h0M317 13.1h0M311.8 13.1h0M315.5 13.2h0M313.6 13.4h0M315.3 13.5h0M315 13.9h0M314.1 13.7h0M314.6 14h0M315.9 14.4h0M313.1 14.2h0M315 14.6h0M312.5 14.5h0M312.3 14.6h0M314.4 14.8h0M315.8 15h0M312.5 15.2h0M311.7 15.2h0M315.8 15.6h0M312.1 15.8h0M316.6 15.8h0M315.4 16.1h0M313.2 16.2h0M316.7 16.4h0M313.6 16.4h0M313.6 16.4h0M314.5 16.6h0M313.6 17h0M314.5 17h0M312.8 17.1h0M311.3 17.3h0M317.4 17.4h0M317.8 17.6h0M310.9 17.8h0M311.3 18h0M319.8 18h0M312.2 18.2h0M315.5 18.2h0M314.8 18.7h0M312 18.4h0M314.4 18.6h0M312.7 19.1h0M313.9 18.9h0M313.3 19.1h0M319.7 19.2h0M314.2 19.4h0M313.2 19.8h0M310.9 20h0M313.2 20h0M311.7 19.9h0M312.2 20.5h0M310.5 20.3h0M308.4 20.4h0M316.1 20.9h0M313.3 21h0M316.2 20.9h0M311.7 21.3h0M311.2 21.2h0M311 21.5h0M310.8 21.6h0M311.9 21.7h0M312.9 21.8h0M316.4 22.2h0M317.1 22.2h0M310.8 22.5h0M310.3 22.3h0M311 22.8h0M316.3 22.9h0M313.4 22.8h0M312.1 22.9h0M314.2 23.1h0M315.9 23.2h0M310.6 23.6h0M310.2 23.6h0M312.9 23.8h0M311.6 23.8h0M316.6 23.9h0M312.7 24.3h0M316.2 24.4h0M311.3 24.7h0M311.1 24.8h0M314.2 24.9h0M313.8 24.8h0M309.8 25h0M311.9 25.3h0M310.3 25.6h0M314.5 25.5h0M314.8 25.8h0M311.1 26h0M313.2 26h0M311.7 26.3h0M315 26.1h0M312.3 26.4h0M315.7 26.7h0M311.4 26.6h0M312.1 26.7h0M312.2 27.1h0M312.6 27.3h0M316.2 27.5h0M317 27.6h0M313.7 27.6h0M313.9 27.8h0M315.9 28.1h0M317.1 28.2h0M313.8 28.2h0M315.9 28.2h0M319.5 28.6h0M310.1 28.8h0M311.2 29h0M311.8 29.2h0M310.5 29.1h0M317.5 29.2h0M315.7 29.5h0M314.4 29.4h0M312.6 29.8h0M312.4 29.8h0M315.6 29.9h0M309.7 30h0M310.9 30.2h0M312.8 30.5h0M313.6 30.6h0M313.1 30.6h0M313.3 30.7h0M313.8 31.2h0M313.1 31h0M312.6 31.3h0M314.2 31.5h0M311.1 31.7h0M314.4 32h0M314.9 31.9h0M314.1 32.2h0M308.8 32.2h0M316.2 32.6h0M317.9 32.7h0M311.4 32.6h0M312.1 32.7h0M316.9 33h0M312.6 33.2h0M312.8 33.5h0M311.3 33.6h0M311.8 33.4h0M315.7 33.8h0M311.5 33.9h0M313.8 34h0M311.3 34h0M310.1 34.2h0M315.5 34.6h0M311.4 34.5h0M313.2 34.9h0M313.3 35h0M311.3 34.9h0M313.1 35.1h0M311.7 35.5h0M310.8 35.3h0M314.9 35.8h0M310.5 35.6h0M317.5 35.8h0M312 36h0M313.4 36.3h0M311.5 36.6h0M312.5 36.7h0M310.2 36.8h0M315.1 36.8h0M316.2 37.2h0M313.9 37.1h0M315 37.3h0M314.8 37.4h0M310.7 37.5h0M310.2 37.6h0M316.8 37.9h0M310.3 38.1h0M317.2 38h0M312.2 38.4h0M316.1 38.4h0M310.3 38.6h0M315.6 38.6h0M312.9 39h0M313.9 39h0M315.3 39.3h0M310.2 39.4h0M314.6 39.6h0M310.5 39.8h0M313.1 40h0M314.7 39.8h0M314.2 39.9h0M311.7 40h0M313.7 40.3h0M312.4 40.4h0M315.3 40.5h0M310 40.9h0M311.4 41.2h0M312.2 41.3h0M315.4 41.3h0M314.3 41.3h0M314.4 41.4h0M316.5 41.9h0M313.2 41.7h0M308.1 42.1h0M312.1 42.3h0M312.1 42.5h0M314 42.4h0M311.1 42.6h0M313.7 42.6h0M312.3 43h0M318.8 43.2h0M311.3 43.2h0M313 43.2h0M313.4 43.5h0M315.1 43.6h0M311.7 43.8h0M310.7 43.7h0M311.7 44.2h0M313.4 44.3h0M316.3 44.3h0M310.4 44.3h0M315.6 44.5h0M314.7 45h0M313.7 44.8h0M313.3 45h0M312.3 45.4h0M313.4 45.4h0M313.2 45.4h0M315.7 45.5h0M314.1 45.7h0M312.4 46h0M312.1 46.3h0M313.8 46.2h0M312.4 46.2h0M314.2 46.6h0M313.7 46.9h0M312.8 46.7h0M309.5 47.2h0M315.4 47.1h0M317.8 47.5h0M310.5 47.6h0M309.2 47.4h0M313.8 47.9h0M317.6 47.8h0M314.1 48.3h0M311.6 48.2h0M315.2 48.2h0M312.4 48.3h0M313 48.7h0M316.5 48.7h0M313.2 49h0M313.7 49.2h0M313 49.1h0M313.9 49.5h0M312.7 49.5h0M316.8 49.5h0M315 49.7h0M312.4 49.9h0M314.6 50.2h0M313.3 50.5h0M311 50.6h0M315.3 50.7h0M315.6 50.6h0M316 51h0M313.4 51.1h0M314.6 51.3h0M313.3 51.4h0M313.7 51.3h0M313.5 51.6h0M315.5 51.9h0M309.3 51.9h0M311.6 51.9h0M314.6 52h0M314 52.3h0M317.6 52.5h0M317.3 52.7h0M313.5 53h0M315.7 53.1h0M313.8 52.9h0M314.6 53.3h0M315.2 53.3h0M312.4 53.5h0M316.1 53.7h0M313.1 53.8h0M311.5 53.8h0M315.8 54.2h0M312.9 54.1h0M312.1 54.6h0M314.6 54.5h0M313.7 54.9h0M312.6 54.7h0M318.2 55.2h0M310.9 55.2h0M314.4 55.4h0M314.6 55.5h0M308.9 55.6h0M310.1 55.7h0M312.7 56h0M312.4 55.9h0M310.3 56.4h0M314.4 56.5h0M312.3 56.3h0M314.6 56.8h0M314.8 56.8h0M314.3 57.1h0M315.3 57.1h0M311.7 57.1h0M307.9 57.5h0M312 57.4h0M312.4 57.5h0M313.4 58h0M314.8 58h0M312.3 58h0M315.2 58.2h0M314.1 58.4h0M309.9 58.5h0M312.9 58.6h0M311.7 58.8h0M315.8 58.9h0M314.9 59.2h0M313.1 59.4h0M312.7 59.5h0M313.1 59.7h0M314.4 59.7h0M313 59.8h0M312.5 59.9h0M315 60.2h0M314.9 60.3h0M313.1 60.6h0M316.3 60.8h0M315.8 60.7h0M312 60.8h0M310.3 61.2h0M313.8 61.1h0M313.8 61.2h0M313 61.4h0M314.8 61.9h0M316.3 62h0M315.1 62.1h0M311.8 62h0M313.9 62.5h0M311.4 62.3h0M313.1 62.7h0M311.2 62.8h0M317.3 62.8h0M310.1 63h0M314.3 63.3h0M314.1 63.4h0M316.5 63.4h0M313 63.5h0M314 63.6h0M311.4 64h0M317.2 64.2h0M314.4 64.1h0M314.7 64.2h0M314.3 64.4h0M314.8 64.6h0M308.2 64.9h0M312.3 64.9h0M312.7 65h0M311.9 65h0M314.7 65.3h0M315.3 65.4h0M314.6 65.9h0M311.3 65.7h0M314 66h0M312.6 66.2h0M312.1 66.4h0M314.5 66.6h0M311.7 66.7h0M312.1 66.7h0M312.7 66.9h0M312.2 67.1h0M313.3 67h0M309.5 67.4h0M310.4 67.6h0M317.9 67.7h0M314.8 67.9h0M311.3 67.9h0M316.2 67.9h0M312.1 68.4h0M315.4 68.2h0M312.2 68.7h0M312.5 68.6h0M312.4 68.6h0M311.2 69h0M315 69.1h0M312.1 69.4h0M313.9 69.4h0M310.4 69.6h0M315 69.8h0M313.4 69.9h0M311.3 69.9h0M313.4 70.3h0M311.5 70.1h0M312.7 70.3h0M313.2 70.7h0M313.8 70.5h0M315.1 70.8h0M312.1 71h0M313.7 71.2h0M313 71.4h0M315.1 71.3h0M312.7 71.7h0M313.7 71.6h0M314.3 72h0M311.1 72h0M312.1 72.2h0M313.9 72.4h0M314.1 72.4h0M311.8 72.8h0M310.7 72.7h0M312.6 73.1h0M317.6 73h0M312.2 73h0M312.3 73.4h0M315.4 73.3h0M311.6 73.6h0M312.9 73.9h0M311.5 74.1h0M320 74.2h0M310.5 74.4h0M312.1 74.2h0M313.3 74.4h0M311.8 74.5h0M311.6 74.8h0M312.4 75.1h0M309.8 75.1h0M315.6 75.2h0M317.3 75.5h0M311.3 75.7h0M311.2 75.9h0M317.7 75.8h0M312 76h0M312.9 76h0M315.1 76.5h0M314.9 76.4h0M315.2 76.7h0M308.4 76.8h0M311.1 76.9h0M311.7 76.9h0M312 77.1h0M314.7 77.4h0M310.4 77.7h0M312 77.7h0M315.6 77.9h0M317 77.9h0M316 77.9h0M316 78.2h0M307.9 78.6h0M310.9 78.5h0M311 78.5h0M309.9 78.9h0M311.1 78.9h0M313.4 79.1h0M316.6 79.2h0M311.2 79.5h0M309.6 79.4h0M311.8 79.6h0M311.3 80h0M312.5 80.1h0M310.9 80.1h0M315.9 80.3h0M315.2 80.3h0M313.4 80.8h0M315.2 80.6h0M310.5 81.1h0M315 81h0M314.2 81.3h0M316 81.2h0M311.8 81.6h0M310.1 81.7h0M311.2 81.8h0M315.7 82.1h0M312.3 82.2h0M312.2 82.4h0M314.9 82.4h0M313 82.6h0M313.9 82.7h0M315.5 82.8h0M310.4 83.1h0M314.6 83.1h0M311.8 83.3h0M314.3 83.4h0M312.4 83.7h0M314.9 83.8h0M313 83.9h0M313.8 83.9h0M312.5 84.1h0M313.9 84.5h0M315.5 84.6h0M309.6 84.7h0M311.1 84.7h0M316.6 84.9h0M311.7 84.8h0M312.2 85.3h0M312.1 85.3h0M312.1 85.4h0M310.7 85.7h0M311.7 85.7h0M311.3 85.8h0M314.1 86h0M316.7 86.2h0M313.9 86.3h0M310.5 86.6h0M310.5 86.6h0M314 86.7h0M313 86.9h0M312.3 87.1h0M310.6 87.2h0M311.6 87.4h0M315.5 87.5h0M311.1 87.7h0M316.6 87.9h0M311 88.1h0M313.8 88.3h0M311.8 88.4h0M310.2 88.3h0M312.1 88.4h0M312.2 88.8h0M310.3 89h0M312.2 89h0M316.9 89h0M312.3 89.2h0M313.8 89.5h0M312 89.8h0M314.4 89.6h0M317.3 89.8h0M312.2 90h0M317.7 90.3h0M312.9 90.4h0M311.5 90.5h0M313.6 90.8h0M310.8 90.7h0M314.1 90.8h0M318.1 91.1h0M313.5 91.3h0M314.9 91.4h0M313.4 91.4h0M311.7 91.7h0M311.7 91.7h0M312.3 92h0M315.6 92.2h0M315.6 92.5h0M313.4 92.6h0M313.9 92.5h0M310.5 92.5h0M313.4 92.9h0M311.6 92.9h0M312.7 93.2h0M315.8 93.4h0M314.2 93.3h0M313 93.5h0M313.9 93.9h0M312.9 93.8h0M312 93.9h0M316.5 94.1h0M313.8 94.3h0M309.7 94.7h0M314.4 94.6h0M311.6 95h0M312.3 95h0M314.3 95.2h0M311 95.3h0M315.3 95.2h0M313.3 95.5h0M309.4 95.5h0M311.9 95.8h0M312.1 95.9h0M313.6 96.1h0M310.6 96.1h0M309.9 96.5h0M312.8 96.7h0M314.2 96.5h0M308.6 96.7h0M314.6 97.1h0M315 97.1h0M313.3 97.2h0M314 97.3h0M311 97.6h0M309.6 97.8h0M310.6 97.8h0M311.4 97.9h0M313.7 98.2h0M309.7 98.3h0M312.9 98.7h0M312.8 98.7h0M316.9 98.7h0M312.8 98.8h0M315.9 99.2h0M312.8 99.2h0M312.4 99.5h0M310.8 99.7h0M314.6 99.8h0M313.2 100h0M316.5 99.9h0M310.5 100h0M315.8 100.1h0M314.9 100.6h0" stroke="#c1380f" stroke-width="1.7" stroke-linecap="round" fill="none"/>
<path d="M320.6 100.5h0M317.9 100.9h0M317.9 101.2h0M320.7 101.6h0M316.5 101.6h0M315.1 102.1h0M315.7 102.5h0M316.4 102.5h0M313.2 103h0M312.7 103.3h0M311 103.6h0M314.1 103.7h0M316.2 104.1h0M312.6 104.1h0M312.1 104.6h0M314.2 104.9h0M309.7 105.1h0M307.2 105.3h0M307.8 105.9h0M312.1 105.9h0M308.6 106.2h0M308.4 106.6h0M309.9 107h0M309.4 107.3h0M308.5 107.4h0M316.3 107.7h0M318.7 108h0M315.8 108.3h0M311.5 108.7h0M318.3 108.7h0M316.2 109.1h0M313.5 109.5h0M313.3 109.6h0M314.1 109.7h0M312.3 110h0M313.8 110.3h0M311 110.8h0M314.2 111.1h0M313.6 111.2h0M314.5 111.7h0M310.6 111.8h0M312.1 112.2h0M306.4 112.2h0M311.6 112.5h0M306.1 112.8h0M307.8 113.1h0M310.8 113.3h0M307.2 113.7h0M306.4 113.9h0M307.3 114.1h0M314.4 114.5h0M318.3 115h0M314.5 115h0M316 115.6h0M316.5 115.8h0M314.7 116h0M315.6 116.2h0M317.8 116.4h0M312.4 116.8h0M314.4 117.2h0M313.6 117.3h0M314.3 117.5h0M315.9 118.1h0M314.9 118.2h0M311.5 118.4h0M311.1 118.7h0M312.1 119h0M313.5 119.4h0M310.7 119.5h0M308.6 119.9h0M309.8 120h0M311.9 120.2h0M310.5 120.6h0M309.7 120.9h0M309.9 121.2h0M307.5 121.6h0M307.8 121.6h0M316.3 122h0M314.8 122.6h0M312.2 122.6h0M318.9 122.9h0M315.1 123h0M312.7 123.5h0M311.7 123.8h0M314.9 124h0M314.9 124.2h0M314.1 124.6h0M312.4 125h0M316 125.4h0M313.6 125.6h0M311.9 125.6h0M312.5 125.9h0M310.2 126.3h0M310 126.8h0M312.2 126.8h0M312.3 127.3h0M312.2 127.6h0M308 127.7h0M310.4 127.9h0M308.3 128.2h0M308.9 128.7h0M303.9 128.8h0M308.1 129.3h0M309.4 129.3h0M308.9 129.8h0M305.2 130h0M308.2 130.2h0M305.2 130.7h0M305.1 131.1h0M307.1 131.1h0" stroke="#eba21f" stroke-width="1.6" stroke-linecap="round" fill="none"/>
<path d="M322.1 132.6h0M319.9 132.5h0M320.8 132.8h0M321.9 132.7h0M322 133.2h0M319.9 133h0M319.2 133.3h0M319.8 133.6h0M322 133.5h0M322.4 133.6h0M320.2 134h0M319.4 134.1h0M315.4 134.3h0M322.5 134.4h0M312.9 134.5h0M323.4 134.7h0M318.1 134.7h0M316.8 134.8h0M321.4 135h0M316.5 135.3h0M321.1 135.1h0M323.9 135.6h0M316.7 135.7h0M320.8 135.7h0M318.9 135.7h0M321.4 136.1h0M316.2 136h0M323.9 136.3h0M318 136.3h0M319.5 136.6h0M317.5 136.8h0M319.5 136.9h0M320.5 136.9h0M320.2 137h0M318.4 137.2h0M320.1 137.6h0M317.2 137.6h0M318.8 137.6h0M317.5 137.7h0M321 138h0M322.1 138.1h0M318.9 138.4h0M321.7 138.5h0M320.5 138.7h0M320.4 138.8h0M319.4 138.7h0M320.6 138.9h0M321.3 139.2h0M320.9 139.1h0M317.9 139.3h0M318.2 139.5h0M322.2 139.7h0M324.8 139.8h0M324.8 140.1h0M321.2 140.2h0M323 140.2h0M322.4 140.2h0M317.3 140.4h0M322.1 140.8h0M320.1 140.7h0M316.5 141h0M323.2 141h0M322.3 141.2h0M319 141.3h0M321.1 141.7h0M317.3 141.7h0M323.1 141.9h0M319.4 142h0M320.9 142.1h0M324.9 142.3h0M323 142.2h0M321.8 142.6h0M319.9 142.8h0M317.3 142.9h0M321.6 143.1h0M316.1 143.2h0M324 143.3h0M314.5 143.5h0M320.1 143.3h0M320.5 143.5h0M320.5 143.8h0M318.4 144h0M323.2 143.9h0M312.8 144h0M323.4 144.3h0M318.2 144.6h0M316.7 144.6h0M322.7 144.9h0M320.5 144.8h0M319.2 145h0M324.1 145.1h0M321.8 145.4h0M318.4 145.6h0M326 145.6h0M319.1 145.7h0M317.3 146.1h0M318.8 146.2h0M319.6 146.3h0M322.3 146.3h0M320.4 146.6h0M320.6 146.5h0M312.1 146.7h0M318.8 146.7h0M316.3 146.9h0M318.9 147h0M323.3 147.5h0M322 147.5h0M319.3 147.8h0M320.1 147.6h0M320.2 147.9h0M322.5 148h0M320.2 148.3h0M318 148.3h0M322.2 148.5h0M322.3 148.6h0M326.6 148.8h0M314.4 148.8h0M322.3 149.2h0M318.6 149.3h0M315.4 149.3h0M315.1 149.3h0M321.4 149.6h0M317.4 149.7h0M322 150h0M317.5 150h0M317.1 150.2h0M321 150.4h0M318 150.2h0M317.9 150.7h0M319.7 150.8h0M319.4 150.7h0M322.4 150.9h0M315.4 151.1h0M320.3 151.5h0M314.8 151.3h0M318.5 151.4h0M321.8 151.7h0M319.9 152h0M317.2 152h0M316.7 152h0M321.5 152.3h0M320.8 152.4h0M323.7 152.6h0M321.1 152.7h0M318.9 152.9h0M315.5 153.1h0M317.2 153h0M322.7 153.1h0M320 153.4h0M318 153.5h0M321.4 153.7h0M320.9 153.9h0M324.4 154h0M317 154.3h0M316.8 154.1h0M318.5 154.4h0M321 154.6h0M319.8 154.6h0M322.2 155h0M319.6 154.8h0M317.7 154.9h0M320.2 155.3h0M323.1 155.4h0M316 155.7h0M325 155.8h0M315.1 155.8h0M314.3 156h0M315.7 156.2h0M321.4 156.4h0M317.1 156.3h0M320.3 156.5h0M317.7 156.7h0M322.1 156.7h0M319.3 156.9h0M316.3 157.1h0M313.3 157.2h0M316.3 157.4h0M323.6 157.5h0M321.3 157.6h0M320.8 157.9h0M319.3 157.9h0M320.7 158.1h0M316.7 158.2h0M320.5 158.5h0M318.3 158.6h0M322.9 158.5h0M318.4 158.8h0M322.2 159.1h0M322.8 159h0M319.3 159.4h0M323.9 159.4h0M319.8 159.3h0M317.7 159.5h0M320.8 160h0M318.1 159.9h0M322.3 160.1h0M321.5 160.3h0M326.4 160.4h0M318 160.3h0M319.7 160.4h0M320.8 160.9h0M323.1 160.7h0M322.5 161.1h0M320.8 161.3h0M320.7 161.4h0M319.6 161.5h0M322.9 161.5h0M315.2 161.8h0M320.1 161.8h0M319.3 162h0M322.6 162.3h0M321.3 162.4h0M318.6 162.3h0M316.2 162.5h0M322.9 162.9h0M313.7 163.1h0M317.3 162.9h0M317.1 163h0M317.1 163.4h0M318.6 163.3h0M319.3 163.5h0M317.7 163.6h0M313.4 163.7h0M322.1 164.2h0M316.2 164h0M318.6 164.4h0M320.7 164.5h0M322.2 164.6h0M318.1 164.8h0M318.6 164.8h0M316.4 164.8h0M318.3 165h0M326.5 165.1h0M318.2 165.3h0M315.7 165.7h0M316.4 165.7h0M318 166h0M318.4 166.1h0M318 166.2h0M319.5 166.1h0M314.1 166.4h0M320 166.6h0M318.6 166.6h0M324.7 166.7h0M317.1 167.2h0M319.5 167.3h0M316.7 167.2h0M316 167.3h0M320.9 167.6h0M320.2 167.9h0M319.7 167.9h0M321.8 168.2h0M323.1 168.2h0M316.5 168.4h0M316.3 168.2h0M321.5 168.5h0M320.2 168.7h0M312.7 168.7h0M320.9 168.9h0M325.1 169h0M321.5 169.2h0M316.8 169.3h0M320.6 169.6h0M323.2 169.7h0M320.2 169.8h0M318.6 170h0M317.1 170h0M320.8 170.1h0M322.8 170.3h0M320.7 170.5h0M315.4 170.6h0M318.5 170.8h0M318.3 171h0M312.5 171.2h0M318.8 171.4h0M316.4 171.3h0M316.7 171.7h0M318.2 171.7h0M322.6 171.8h0M319.9 171.8h0M317.5 172.1h0M321.5 172.2h0M321.2 172.4h0M317.9 172.5h0M321 172.7h0M321 172.8h0M322.1 172.7h0M322.2 173.1h0M318.3 173.1h0M318.6 173.5h0M317.6 173.7h0M321.2 173.8h0M315.1 173.9h0M321.7 174h0M315 174h0M323.4 174.3h0M322.1 174.4h0M322.2 174.6h0M318.1 174.7h0M316.7 174.9h0M318.4 175h0M313.8 175.1h0M319.8 175.2h0M317.4 175.4h0M320 175.4h0M312.6 175.8h0M317.2 175.6h0M317.1 175.7h0M324.6 176h0M319 176.3h0M315.4 176.2h0M313.7 176.4h0M320.2 176.6h0M318.3 176.9h0M317.7 176.7h0M320.8 176.8h0M318.6 177.1h0M318.8 177.5h0M315.9 177.3h0M320.3 177.7h0M322.6 177.8h0M319.4 177.7h0M323.2 178h0M318.5 178h0M316.7 178.2h0M319.6 178.5h0M320.9 178.6h0M321.5 178.8h0M321.2 178.8h0M317.7 178.9h0M313.8 179.3h0M321.9 179.4h0M310.8 179.3h0M318.7 179.6h0M324.2 179.9h0M319.8 179.7h0M321.9 179.9h0M321.4 180.2h0M317.9 180.4h0M319 180.4h0" stroke="#5a7a1c" stroke-width="1.56" stroke-linecap="round" fill="none"/>
<path d="M312.6 181.8h0M306.6 182h0M307.2 181.9h0M309.6 182.4h0M308.3 182.5h0M304.4 182.7h0M309.9 183h0M308.9 182.9h0M310.9 183.4h0M308 183.5h0M306.9 183.6h0M305.8 183.8h0M306.6 184.3h0M306.7 184.1h0M305.1 184.4h0M305.8 184.9h0M305.5 185h0M303.5 185h0M306.7 185.4h0M305.2 185.4h0M305.3 185.7h0M306.2 185.9h0M304.2 186h0M304.6 186.3h0M302.5 186.6h0M303.5 186.6h0M300.7 187h0M300.1 187.3h0M303.1 187.2h0M302.8 187.6h0" stroke="#93b4d1" stroke-width="1.4" stroke-linecap="round" fill="none"/>
<line x1="316" y1="53" x2="325" y2="53" stroke="#aaa" stroke-width="0.3"/>
<circle cx="325" cy="53" r="0.7" fill="#c1380f"/>
<line x1="316" y1="77" x2="322" y2="77" stroke="#aaa" stroke-width="0.3"/>
<circle cx="322" cy="77" r="0.7" fill="#c1380f"/>
<line x1="318" y1="25" x2="322" y2="25" stroke="#aaa" stroke-width="0.3"/>
<circle cx="322" cy="25" r="0.7" fill="#c1380f"/>
<line x1="47.5" y1="228" x2="44.2" y2="334" stroke="#a8a8a8" stroke-width="0.4"/>
<line x1="33" y1="332.6" x2="33" y2="378.7" stroke="#a8a8a8" stroke-width="0.4"/>
<line x1="33" y1="333" x2="44.2" y2="333" stroke="#a8a8a8" stroke-width="0.4"/>
<line x1="28.6" y1="378" x2="28.6" y2="401" stroke="#a8a8a8" stroke-width="0.4"/>
<line x1="28.6" y1="378.7" x2="33" y2="378.7" stroke="#a8a8a8" stroke-width="0.4"/>
<line x1="3.3" y1="407.3" x2="28.6" y2="407.3" stroke="#a8a8a8" stroke-width="0.4"/>
<line x1="22" y1="401" x2="22" y2="407.3" stroke="#a8a8a8" stroke-width="0.4"/>
<line x1="22" y1="401" x2="28.6" y2="401" stroke="#a8a8a8" stroke-width="0.4"/>
<line x1="33" y1="378.7" x2="52.7" y2="378.7" stroke="#a8a8a8" stroke-width="0.4"/>
<g stroke="#a9a9a9" stroke-width="0.28" fill="none">
<path d="M45.5 227.8v106.2M53.9 227.8v12.4M45.5 234h8.4M50.5 228h16.6M50.5 228v2M60.6 228.3h4.7M60.6 228.3v2.8M55.1 228.6h7.6M55.1 228.6v-0.5M62.8 228.9h2.5M48.5 229.2h17.1M48.5 229.2v-2.8M61.8 229.5h2.7M48 229.8h15.7M48 229.8v-0.7M61.8 230.1h4M60.5 230.4h4.3M60.3 230.7h2.8M46.8 231h17.1M48.2 231.4h14.3M48.2 231.4v0.8M57.3 231.7h1.5M51 232h7.9M54.8 232.3h6.4M56 232.6h4.4M60.2 232.9h2.8M60.2 232.9v0.1M59.7 233.2h1.7M54.8 233.5h4M51.8 233.8h11.1M50.3 234.1h8.2M52.7 234.4h10.1M52.7 234.4v-0.1M54.4 234.8h7.3M54.4 234.8v1.6M55.6 235.1h2.5M55.8 235.4h2.2M56.2 235.7h7M56.2 235.7v-1.7M51.6 236h4.7M54.9 236.3h1.5M54.9 236.3v-2.2M55.9 236.6h4.3M49.4 236.9h10.3M49.4 236.9v-0.1M46.5 237.2h12.2M46.5 237.2v-2.6M57.6 237.5h4M50 237.8h7.3M50 237.8v-0.4M54.8 238.2h1.3M57.4 238.5h2.1M54.6 238.8h0.6M54.6 238.8v-1.8M57.4 239.1h2.1M57.4 239.1v2.3M53.9 239.4h8M46.2 239.7h9.3M55.3 240h1.6M51.1 240.2v12.5M45.5 246.4h5.6M58.2 240.3h3.4M52.9 240.6h7.7M52.9 240.6v-1.3M49.9 240.9h13.2M51.5 241.3h14.1M51.5 241.3v0.4M46.5 241.6h12.9M53.9 241.9h5.7M51.4 242.2h11.5M54.7 242.5h7.3M52.7 242.8h6.4M53.5 243.1h10M49.1 243.4h17M49.1 243.4v0.8M56.8 243.8h7.2M55.7 244.1h5.2M51.8 244.4h6.6M47.6 244.7h16M47.6 244.7v-2.9M48.2 245h7.2M50.8 245.3h10.6M50.8 245.3v2.3M47.4 245.6h13.2M47.4 245.6v1.7M46.5 245.9h15.3M46.5 245.9v-1.1M55.1 246.3h6.8M53.7 246.6h7.5M53.7 246.6v-1.5M52.2 246.9h6M56.8 247.2h1.7M50.5 247.5h8.3M54 247.8h6M57.1 248.1h3.6M53.3 248.4h5.7M53 248.8h8.7M52.2 249.1h5.2M52.2 249.4h3M52.2 249.4v1.5M53.3 249.7h2.3M53.3 249.7v-1.4M48.3 250h6.8M53.7 250.3h1.4M54.4 250.6h2.4M50 250.9h5.6M48.9 251.3h8.5M48.9 251.3v-0.7M52.5 251.6h3.2M52.5 251.6v0.8M46.1 251.9h9.7M46.1 251.9v-2.9M52 252.2h2.4M46.9 252.5h14.2M51.1 252.7v11.6M45.5 258.5h5.6M53.7 252.8h11.1M54.5 253.1h9.6M56 253.4h5.5M49 253.8h11.3M57.4 254.1h4.6M48.4 254.4h11.7M48.4 254.4v-0.6M59.5 254.7h2.3M56.3 255h5.2M56.3 255v2.9M52.4 255.3h9.5M52.4 255.3v-1M56.8 255.6h5.8M52.5 256h10.8M52.5 256v0.9M58.2 256.3h3.1M58.2 256.3v0.9M48.6 256.6h7.4M51 256.9h8.5M51 256.9v-1.4M54.2 257.2h7.1M54.8 257.5h10.6M54.8 257.5v-0.3M52.2 257.8h5.8M52.2 257.8v-2.8M54 258.2h5.2M49.7 258.5h10.7M46.8 258.8h9.1M46.8 258.8v2.4M46.4 259.1h9.8M51.9 259.4h6.5M47.9 259.7h7M58.3 260h1.8M55.1 260.3h2.5M56.3 260.7h2.7M50.8 261h5.1M53.1 261.3h2.2M47.9 261.6h8.7M49.3 261.9h5.3M51.9 262.2h7.3M53.7 262.5h3.4M52.9 262.9h1M49 263.2h3.8M55 263.5h3.6M55 263.5v0.3M57.6 263.8h1.6M48.7 264.1h8.1M48.7 264.1v2.1M53.3 264.3v8.1M45.5 268.3h7.8M57 264.4h5.1M55.4 264.7h8.1M55.4 264.7v1.6M48.9 265h12.4M50.7 265.3h10.9M51.4 265.7h11.4M50 266h12.7M56.6 266.3h5.1M56.7 266.6h1.5M56.7 266.6v2.9M56.9 266.9h2.1M55.1 267.2h5.3M55.1 267.2v2.1M53.8 267.5h4.6M57.4 267.8h4.4M52.4 268.1h8M50.1 268.4h8.3M55.3 268.8h0.6M52.5 269.1h5.9M56.5 269.4h1.5M56.5 269.4v2.1M53.8 269.7h3.9M53.8 269.7v-1.4M55.7 270h4.3M47.2 270.3h11M47.2 270.3v0.5M46.6 270.6h12.1M55.3 270.9h3.2M55.3 270.9v-2.5M51.7 271.2h9.2M48.4 271.5h6M51.9 271.9h4.6M54.7 272.2h4.2M53 272.3v9.2M45.5 276.9h7.5M55.8 272.5h3.5M55.8 272.5v0.9M55 272.8h5.5M50.7 273.1h14.3M57.7 273.4h1.4M57.7 273.4v-0.6M54.3 273.7h8.1M51.9 274h7.9M59 274.3h1.9M54.6 274.6h8.8M50.3 274.9h10.9M53.7 275.2h7.3M51.1 275.5h7.2M55.8 275.9h3M58.2 276.2h2.3M50.2 276.5h7.2M47.7 276.8h10.9M47.7 276.8v-2.2M56 277.1h4.1M53.6 277.4h3.7M53.6 277.4v-0.6M54.2 277.7h4.2M46.7 278h11.3M57.2 278.3h1.6M57.2 278.3v1.3M56.7 278.6h4.3M53.3 278.9h2.1M53.3 278.9v-2.2M50.4 279.2h6.5M54.8 279.5h4.2M57.1 279.8h1.5M57.1 279.8v1.7M55.5 280.2h1.1M47.2 280.5h4.9M46.1 280.8h8.6M54.7 281.1h1.8M54.7 281.1v2.1M50.6 281.4h6.2M50.8 281.5v7M45.5 285.1h5.3M58.4 281.7h5.8M53.4 282h8M47.5 282.3h18M47.5 282.3v0.8M49.5 282.6h15.7M53.4 282.9h9.7M52.4 283.2h8.1M56.6 283.5h4.8M54.6 283.8h8.7M49 284.1h5.5M49 284.1v2.4M55.1 284.4h3.4M55.1 284.4v1.5M52.2 284.7h9.5M59 285.1h3.9M49.3 285.4h11.2M49.3 285.4v-0.3M52.3 285.7h7.2M51 286h8.1M51 286v0.8M47.3 286.3h10.2M54.8 286.6h1.6M54.8 286.6v-0.1M51.3 286.9h4.8M51.3 286.9v2.1M51.6 287.2h4.6M53.3 287.5h5.3M53.3 287.5v-1.1M51.9 287.8h4.3M52.3 288.1h1.2M52.3 288.1v2.4M56.1 288.4h5.6M51.8 288.6v8.2M45.5 292.7h6.3M53.8 288.7h10.9M53.8 288.7v-0.2M56 289h7.1M56 289v1.1M59.9 289.4h3.7M59.9 289.4v0.6M53.8 289.7h8M55.8 290h2.5M57.7 290.3h2.2M56.3 290.6h1.3M56.7 290.9h2.5M56.5 291.3h5.5M56.5 291.3v-2M50.1 291.6h12.6M47 291.9h13.7M56.9 292.2h4.8M54.2 292.5h8.5M47.3 292.8h7.1M47.3 293.1h15.2M53.8 293.5h3.2M51.8 293.8h5.5M51.8 293.8v-2.9M53.7 294.1h5.7M53.7 294.1v-0.4M52.8 294.4h8.5M52.8 294.4v2.3M55.2 294.7h2.3M55.2 294.7v-0.9M54.8 295h4.6M53.6 295.4h5.2M53.1 295.7h4.4M54.5 296h2.9M47.8 296.3h8M47.8 296.3v-1.8M52.3 296.6h1.1M53.5 296.8v9M45.5 301.3h8M54.6 296.9h7.5M60.8 297.2h5.2M60.8 297.2v-1.9M54.3 297.6h11.1M61.4 297.9h5.2M56.3 298.2h8.2M62.9 298.5h2.5M62.9 298.5v-0.6M58.1 298.8h1.9M58.1 298.8v0.5M55 299.1h5.5M61.3 299.4h2.2M61.3 299.4v-1.7M47 299.7h13.1M56.8 300.1h6.3M56.3 300.4h5.2M56.3 300.7h2.3M56.3 300.7v0.9M48.7 301h13.4M56.5 301.3h5.2M55.2 301.6h2.3M53.2 301.9h-0.2M53.2 301.9v0.3M51.2 302.2h10M51 302.5h7.3M50.6 302.9h7.6M49.7 303.2h8.3M51.3 303.5h7.6M49.6 303.8h5.6M51.7 304.1h10.3M55.5 304.4h3.4M55.5 304.4v0.6M53.6 304.7h0.5M53.6 304.7v2M53.6 305h0.9M53.6 305v-3M56 305.4h2.6M56 305.4v0.9M46.7 305.7h10.4M46.7 305.7v-2.4M52.3 305.8v8.1M45.5 309.9h6.8M53.2 306h8.1M53.2 306v0.5M52.9 306.3h12M55.5 306.6h4.2M55.5 306.6v1M46.4 306.9h14.5M51.4 307.2h11.3M47.9 307.5h14.7M52.4 307.8h8.1M49.1 308.1h10.4M54 308.5h2.2M49.5 308.8h13.2M56.2 309.1h5.6M56.2 309.1v1.3M47.5 309.4h14.1M47.5 309.4v0.5M52.2 309.7h6.7M53.7 310h3.1M53.7 310v1.2M56.1 310.3h1.3M50.9 310.6h6.2M54.7 310.9h2.9M57.5 311.2h1.5M57.5 311.2v-1.3M54.7 311.6h3.8M54.4 311.9h6.8M50.6 312.2h9.4M47.9 312.5h10.1M52.9 312.8h1.9M47 313.1h12.3M56.3 313.4h1.6M56.3 313.4v-0.3M53.6 313.7h1.4M51 313.9v9.9M45.5 318.8h5.5M56.3 314h3.7M54.5 314.3h7.2M54.5 314.3v1.6M52.5 314.7h6.9M51.2 315h11.5M57 315.3h3.4M53.5 315.6h9.3M57 315.9h2M52.8 316.2h8.7M57.1 316.5h4.1M57.1 316.5v0.6M60.1 316.8h4.2M47.6 317.1h12.1M47.6 317.1v-1.6M58.4 317.4h4.3M51 317.7h8.1M51 317.7v1M50.3 318h8.9M49.3 318.3h11M48.4 318.7h14.2M47.8 319h7.2M47.8 319v-1.5M53.6 319.3h7.2M47.7 319.6h9.4M55.3 319.9h1.8M52.7 320.2h7.2M51.3 320.5h5.8M50.1 320.8h8.6M54.6 321.1h3.3M51.1 321.4h6.3M51.9 321.7h3.8M51.8 322h3.2M54.4 322.4h1.4M54.4 322.4v-1.6M52.5 322.7h0.5M52.5 323h2.3M52.5 323v-1.4M50.7 323.3h4.2M50.7 323.3v-0.5M53.3 323.6h6.4M53.3 323.6v0.2M51.9 323.7v10.3M45.5 328.9h6.4M50.5 323.9h12.8M50.5 323.9v0.4M59.4 324.2h5.1M49.4 324.5h12M58.2 324.8h6.1M55.2 325.1h5.1M55.2 325.1v0.3M53.6 325.5h7M52.3 325.8h11.3M54.3 326.1h8.8M59.1 326.4h2.3M53.8 326.7h2.1M59.6 327h3.4M57.2 327.3h3M57.2 327.3v2.7M51.4 327.6h9.6M56.4 327.9h5M54.2 328.2h1.6M48.5 328.6h12.9M53 328.9h4.8M54 329.2h1.7M54 329.2v-2.7M54.7 329.5h4.3M46.7 329.8h10.9M50.1 330.1h3.7M47.3 330.4h7.3M50.1 330.7h8M53.5 331h5.9M53.5 331v2.2M54.5 331.4h5.7M54.5 331.4v-2.3M51 331.7h4M51 331.7v2.6M49.1 332h4.9M49.1 332v-2.4M53.8 332.3h6.2M52.5 332.6h5M52.5 332.6v0.3M52.9 332.9h7.5M51 333.2h3.9M48.1 333.5h7.6M53.7 333.8h2.5M36 335.9v8.8M37 336.3h8.6M43.3 337h3.3M41.6 337.7h4M39.1 338.5h4.3M37.7 339.2h4.7M37.7 339.2v0.3M38.7 339.9h4.2M38.8 340.7h4.5M37.1 341.4h3.6M37.1 341.4v-2.5M38 342.1h3.1M37.3 342.9h3.3M37.4 343.6h1.5M37.4 343.6v1.5M36.4 344.3h3M36.4 344.3v2.6M35 344.7v31.8M38.4 344.7v7.6M35 348.5h3.4M39.7 345h11.2M39.7 345v0.7M40.9 345.5h9.9M41.2 346.1h8.5M40.5 346.6h4.8M40.3 347.1h7.2M38.6 347.7h7M41.2 348.2h3.6M44.9 348.8h1.8M39.8 349.3h4.8M40.6 349.8h2.2M40.6 349.8v1M39.8 350.4h3.8M39.8 350.4v-0.2M35.4 350.9h5.2M35.4 350.9v0M37.3 351.5h5.5M37.3 351.5v-2.2M39.2 352h2M35.5 352.3v7.7M35 356.1h0.5M38.3 352.5h8.6M41.3 353.1h7.5M41.3 353.1v2.5M37 353.6h10.6M39.4 354.2h6.1M39.4 354.2v-1.1M37.2 354.7h5.1M37.2 354.7v2.2M36.2 355.3h7.9M40.2 355.8h5.4M40.2 356.4h1.4M37.3 356.9h4.9M35.7 357.5h2.6M37.4 358h4.9M37.4 358v-2.4M40.1 358.6h2.8M36.2 359.1h2.9M36.2 359.1v-0.9M37.1 359.7h0.7M37.2 359.9v8.9M35 364.4h2.2M41.6 360.2h6.8M41.6 360.2v-0.1M41.3 360.7h8.8M41.1 361.3h7.4M41.1 361.3v1.5M39.4 361.8h5.9M45.7 362.3h2.7M38.7 362.8h8M39.6 363.3h5.9M42.3 363.9h2.6M42.5 364.4h5.2M39 364.9h3.9M38.4 365.4h4.6M38.7 365.9h4.3M39.5 366.5h1.3M36.9 367h7.4M37.9 367.5h4.7M37.9 367.5v1M41.7 368h1.6M35.7 368.6h4.8M35.7 368.6v2.3M36.9 368.8v7.7M35 372.7h1.9M41.6 369.1h7.8M45.4 369.6h6.1M38.1 370.1h8.6M39.1 370.6h9.4M36.4 371.1h11.4M38 371.6h9.6M38.7 372.1h5.5M43.9 372.7h1.9M38.7 373.2h3.3M40 373.7h3.1M40 373.7v-0.2M38.1 374.2h6M42.6 374.7h1.5M42.6 374.7v-3M38.4 375.2h2.9M38.4 375.2v1.8M38.3 375.7h1.4M38 376.2h2.4M28.8 379.8v5.5M32.1 380.1h1.7M32.1 380.1v1.1M32.5 380.6h1.5M30.7 381.2h2.1M30.7 381.2v1.2M29.6 381.7h1.7M29.6 381.7v-1.9M30.1 382.3h1.3M30.3 382.8h1.4M29 383.4h2.4M27.4 383.9h-1.4M28.7 384.5h-1.9M26.9 385h-1.5M26 386.4v15.4M28.4 386.4v5.9M26 389.4h2.4M28.4 386.6h9.6M28.4 386.6v-0.3M26.8 387h11.2M26.8 387v-0.8M29.4 387.4h6.5M31 387.8h6.1M32.1 388.2h4.3M34.9 388.6h2.2M34.9 388.6v0.3M30.7 389h5.7M32.5 389.4h4.3M30.8 389.8h0.7M30.8 389.8v1.5M28.3 390.2h4.8M29.2 390.6h3.6M30.7 390.9h0.7M30.7 390.9v2.8M31.2 391.3h2.5M31.2 391.3v0M26.8 391.7h5.8M29.1 392.1h0.4M29.1 392.1v0.4M26.5 392.3v9.5M26 397.1h0.5M33.1 392.5h2.7M33.1 392.5v-0.7M29.2 392.9h4.5M28.5 393.3h6.3M33.3 393.7h4.4M33.3 393.7v1.8M28.7 394h8M30.6 394.4h2.1M31.2 394.8h2M29.8 395.2h2.4M27.4 395.5h2.4M26.3 395.9h5.8M31.2 396.3h1.2M28.8 396.7h3.8M28.8 396.7v2.4M28.1 397.1h4.2M29.4 397.4h1.7M27.5 397.8h0.6M27.9 398.2h1.9M26.7 398.6h1.6M26.7 398.6v1.6M28.4 399h3.2M28.4 399v2M28.4 399.3h2.9M26.9 399.7h1.7M26.9 399.7v-1.3M27.5 400.1h3.5M27.5 400.1v0.1M27 400.5h2.3M27.2 400.9h2M27.2 400.9v0.8M26.7 401.2h1.6M26.1 401.6h0.9M18 402.5v5M23.5 402.8h5.3M19.2 403.4h8M22.4 404.1h3.5M20.8 404.7h5.1M21.6 405.3h2.7M21 405.9h2M18.8 406.6h2.5M18.8 406.6v0.9M19.1 407.2h0.8"/>
</g>
<path d="M67.1 228.1h0M65.3 228.3h0M62.7 228.8h0M65.3 229h0M65.6 229.2h0M64.4 229.4h0M63.8 229.9h0M65.8 229.9h0M64.8 230.5h0M63.1 230.6h0M63.9 230.9h0M62.5 231.4h0M58.8 231.6h0M58.9 232.1h0M61.2 232.2h0M60.4 232.7h0M62.9 233h0M61.4 233.3h0M58.9 233.5h0M62.9 233.7h0M58.5 234h0M62.9 234.6h0M61.7 234.6h0M58.1 235.2h0M57.9 235.2h0M63.2 235.7h0M56.3 236.2h0M56.5 236.4h0M60.2 236.6h0M59.6 236.9h0M58.7 237.2h0M61.7 237.7h0M57.3 237.9h0M56.1 238.1h0M59.5 238.6h0M55.2 238.6h0M59.5 238.9h0M61.8 239.4h0M55.5 239.8h0M57 240.1h0M61.6 240.4h0M60.6 240.5h0M63.1 241h0M65.6 241.2h0M59.5 241.5h0M59.7 242.1h0M62.9 242.1h0M62.1 242.6h0M59.1 242.6h0M63.5 243h0M66.1 243.6h0M64 243.6h0M60.9 244.3h0M58.4 244.4h0M63.6 244.7h0M55.4 244.9h0M61.4 245.1h0M60.6 245.6h0M61.8 246.1h0M61.9 246.1h0M61.1 246.7h0M58.2 247h0M58.5 247.1h0M58.8 247.6h0M59.9 248h0M60.7 248.3h0M59 248.5h0M61.7 248.6h0M57.4 249.3h0M55.2 249.4h0M55.6 249.8h0M55 250h0M55 250.2h0M56.8 250.6h0M55.6 251h0M57.4 251.3h0M55.7 251.7h0M55.8 251.9h0M54.4 252h0M61.1 252.5h0M64.7 252.7h0M64.1 253.2h0M61.5 253.3h0M60.4 253.9h0M62 254h0M60.1 254.4h0M61.8 254.8h0M61.5 255.1h0M61.9 255.4h0M62.5 255.6h0M63.3 255.9h0M61.3 256.1h0M56.1 256.6h0M59.5 257.1h0M61.3 257.2h0M65.5 257.4h0M58 257.7h0M59.2 258.3h0M60.4 258.3h0M55.9 258.9h0M56.2 258.9h0M58.4 259.6h0M54.9 259.8h0M60.1 260h0M57.6 260.3h0M59 260.8h0M55.9 261.2h0M55.3 261.1h0M56.6 261.4h0M54.6 261.7h0M59.3 262.2h0M57.1 262.6h0M53.9 262.9h0M52.8 263.1h0M58.6 263.7h0M59.3 263.9h0M56.8 264.3h0M62.1 264.5h0M63.5 264.7h0M61.3 265h0M61.6 265.5h0M62.8 265.8h0M62.7 265.9h0M61.7 266.2h0M58.2 266.7h0M59 266.8h0M60.4 267.3h0M58.4 267.5h0M61.8 267.7h0M60.5 267.9h0M58.4 268.5h0M55.9 268.7h0M58.4 268.9h0M58 269.3h0M57.7 269.7h0M60 269.9h0M58.2 270.4h0M58.7 270.7h0M58.5 270.9h0M60.9 271.2h0M54.4 271.7h0M56.6 271.8h0M58.9 272.3h0M59.2 272.5h0M60.4 272.7h0M65 273h0M59.1 273.3h0M62.3 273.7h0M59.8 273.9h0M60.9 274.3h0M63.4 274.7h0M61.2 274.9h0M60.9 275.3h0M58.2 275.4h0M58.7 275.7h0M60.5 276.3h0M57.4 276.3h0M58.6 276.6h0M60 276.9h0M57.3 277.3h0M58.3 277.8h0M58 278.1h0M58.8 278.5h0M61 278.6h0M55.4 279.1h0M56.8 279.1h0M59 279.5h0M58.6 279.9h0M56.6 280.3h0M52.1 280.5h0M54.7 280.9h0M56.5 281h0M56.8 281.3h0M64.2 281.7h0M61.4 282.1h0M65.6 282.2h0M65.2 282.6h0M63.1 283.1h0M60.5 283h0M61.4 283.5h0M63.3 283.8h0M54.5 284h0M58.5 284.5h0M61.7 284.9h0M62.9 285.1h0M60.5 285.2h0M59.5 285.6h0M59.1 286h0M57.5 286.4h0M56.4 286.6h0M56.2 286.9h0M56.3 287.3h0M58.6 287.5h0M56.2 287.6h0M53.5 287.9h0M61.8 288.3h0M64.7 288.9h0M63.1 289h0M63.6 289.3h0M61.8 289.8h0M58.3 289.9h0M59.8 290.5h0M57.6 290.7h0M59.2 291.1h0M62 291.2h0M62.7 291.6h0M60.7 291.7h0M61.8 292.3h0M62.7 292.7h0M54.4 292.8h0M62.4 293.2h0M56.9 293.4h0M57.3 294h0M59.4 294.1h0M61.3 294.5h0M57.5 294.7h0M59.4 295h0M58.9 295.4h0M57.5 295.5h0M57.4 296h0M55.9 296.5h0M53.4 296.6h0M62.1 297h0M66 297.2h0M65.4 297.5h0M66.6 297.8h0M64.5 298.2h0M65.4 298.5h0M60 298.7h0M60.6 299.2h0M63.5 299.3h0M60.1 299.8h0M63.2 300.2h0M61.5 300.3h0M58.6 300.7h0M62.2 300.9h0M61.7 301.5h0M57.5 301.8h0M53 301.8h0M61.2 302.3h0M58.3 302.6h0M58.2 302.8h0M58 303.4h0M58.9 303.7h0M55.2 303.8h0M62 304.2h0M58.9 304.4h0M54.1 304.7h0M54.5 305.2h0M58.6 305.4h0M57.1 305.6h0M61.4 306.1h0M64.9 306.4h0M59.7 306.7h0M60.9 307h0M62.7 307h0M62.6 307.5h0M60.5 307.7h0M59.5 308.2h0M56.2 308.3h0M62.7 308.6h0M61.8 309.2h0M61.5 309.2h0M58.9 309.8h0M56.8 310.1h0M57.5 310.2h0M57.1 310.8h0M57.6 311.1h0M58.9 311.4h0M58.6 311.5h0M61.3 311.7h0M60 312.4h0M58 312.3h0M54.8 313h0M59.3 313h0M57.8 313.6h0M54.9 313.7h0M60 313.9h0M61.6 314.4h0M59.4 314.5h0M62.7 315.1h0M60.5 315.4h0M62.8 315.7h0M58.9 315.9h0M61.4 316.4h0M61.2 316.6h0M64.3 316.7h0M59.7 317.2h0M62.7 317.4h0M59.2 317.6h0M59.3 318.1h0M60.4 318.5h0M62.6 318.8h0M55 319h0M60.8 319.1h0M57.1 319.5h0M57.1 319.8h0M60 320.3h0M57.2 320.4h0M58.7 320.9h0M57.8 321h0M57.4 321.4h0M55.7 321.7h0M55 322h0M55.8 322.2h0M53.1 322.8h0M54.8 323.1h0M54.9 323.4h0M59.8 323.6h0M63.3 323.8h0M64.5 324.1h0M61.3 324.4h0M64.3 324.9h0M60.3 325.2h0M60.6 325.6h0M63.6 325.8h0M63.1 326.2h0M61.3 326.2h0M55.9 326.6h0M63 326.9h0M60.2 327.1h0M61.1 327.5h0M61.4 327.9h0M55.8 328.2h0M61.5 328.4h0M57.8 328.8h0M55.6 329.3h0M59 329.4h0M57.6 329.6h0M53.7 330.3h0M54.7 330.6h0M58.1 330.7h0M59.4 331h0M60.2 331.5h0M55 331.6h0M54 331.9h0M60 332.2h0M57.5 332.4h0M60.4 333h0M54.9 333.4h0M55.7 333.5h0M56.2 334h0" stroke="#c1380f" stroke-width="1.1" stroke-linecap="round" fill="none"/>
<path d="M45.6 336.4h0M46.6 337h0M45.6 337.7h0M43.4 338.6h0M42.4 339.1h0M42.9 339.9h0M43.3 340.8h0M40.6 341.3h0M41 342h0M40.6 342.9h0M38.8 343.5h0M39.4 344.2h0" stroke="#eba21f" stroke-width="1.4" stroke-linecap="round" fill="none"/>
<path d="M50.9 345.1h0M50.7 345.3h0M49.7 345.9h0M45.3 346.6h0M47.5 347.1h0M45.6 347.7h0M44.8 348.3h0M46.7 348.8h0M44.6 349.3h0M42.8 349.9h0M43.7 350.4h0M40.6 351.1h0M42.9 351.5h0M41.2 352.1h0M46.9 352.6h0M48.8 353.1h0M47.6 353.8h0M45.5 354.2h0M42.3 354.8h0M44 355.2h0M45.5 355.8h0M41.6 356.6h0M42.2 357.1h0M38.2 357.6h0M42.2 358.2h0M42.9 358.6h0M39.1 359.1h0M37.8 359.8h0M48.5 360.2h0M50.1 360.8h0M48.5 361.4h0M45.3 362h0M48.4 362.4h0M46.7 362.8h0M45.5 363.4h0M44.9 364h0M47.7 364.4h0M42.9 365h0M43 365.4h0M42.9 365.9h0M40.8 366.4h0M44.3 367.1h0M42.6 367.5h0M43.3 368h0M40.5 368.5h0M49.5 369h0M51.5 369.4h0M46.7 370.3h0M48.5 370.5h0M47.8 371h0M47.6 371.7h0M44.2 372.3h0M45.8 372.6h0M42 373.2h0M43.1 373.6h0M44.1 374.3h0M44.2 374.7h0M41.3 375.4h0M39.8 375.6h0M40.4 376.1h0" stroke="#5a7a1c" stroke-width="1.3" stroke-linecap="round" fill="none"/>
<path d="M33.8 379.9h0M34 380.6h0M32.8 381.1h0M31.3 381.9h0M31.4 382.3h0M31.6 383h0M31.4 383.5h0M26 383.9h0M26.8 384.3h0M25.4 384.9h0" stroke="#888" stroke-width="0.9" stroke-linecap="round" fill="none"/>
<path d="M38 386.8h0M38 387h0M35.9 387.3h0M37.1 387.8h0M36.3 388.2h0M37.1 388.4h0M36.4 389.1h0M36.7 389.3h0M31.4 389.7h0M33 390.1h0M32.8 390.4h0M31.4 390.9h0M33.7 391.4h0M32.6 391.7h0M29.5 392h0M35.7 392.4h0M33.8 392.8h0M34.8 393.4h0M37.7 393.5h0M36.7 394.2h0M32.8 394.3h0M33.2 394.7h0M32.1 395.1h0M29.9 395.7h0M32.1 395.8h0M32.5 396.3h0M32.6 396.6h0M32.2 396.9h0M31.1 397.6h0M28.1 398h0M29.8 398.1h0M28.3 398.5h0M31.5 399.1h0M31.3 399.1h0M28.6 399.8h0M31 400h0M29.3 400.5h0M29.2 400.7h0M28.3 401.1h0M27 401.7h0" stroke="#93b4d1" stroke-width="1.3" stroke-linecap="round" fill="none"/>
<path d="M28.8 402.9h0M27.2 403.3h0M25.9 404h0M25.9 404.8h0M24.2 405.4h0M23 406.1h0M21.3 406.4h0M19.9 407.2h0" stroke="#777" stroke-width="0.9" stroke-linecap="round" fill="none"/>
<line x1="329" y1="229" x2="329" y2="268" stroke="#a8a8a8" stroke-width="0.4"/>
<line x1="326.4" y1="268" x2="326.4" y2="287" stroke="#a8a8a8" stroke-width="0.4"/>
<line x1="326.4" y1="270" x2="329" y2="270" stroke="#a8a8a8" stroke-width="0.4"/>
<line x1="321.5" y1="270" x2="321.5" y2="398.5" stroke="#a8a8a8" stroke-width="0.4"/>
<line x1="321.5" y1="272" x2="326.4" y2="272" stroke="#a8a8a8" stroke-width="0.4"/>
<line x1="320.5" y1="300" x2="320.5" y2="398" stroke="#a8a8a8" stroke-width="0.4"/>
<line x1="283.3" y1="407.3" x2="308.6" y2="407.3" stroke="#a8a8a8" stroke-width="0.4"/>
<line x1="308.6" y1="403" x2="308.6" y2="407.3" stroke="#a8a8a8" stroke-width="0.4"/>
<line x1="308.6" y1="403" x2="313" y2="403" stroke="#a8a8a8" stroke-width="0.4"/>
<line x1="313" y1="400" x2="313" y2="403" stroke="#a8a8a8" stroke-width="0.4"/>
<line x1="313" y1="400" x2="320.5" y2="400" stroke="#a8a8a8" stroke-width="0.4"/>
<line x1="300" y1="405" x2="300" y2="407.3" stroke="#a8a8a8" stroke-width="0.4"/>
<g stroke="#aaaaaa" stroke-width="0.28" fill="none">
<path d="M328.5 228.6v26.4M329 228.6v6.6M328.5 231.9h0.5M333.8 228.7h6.2M332.2 229h10.3M332.2 229v-0.4M329.9 229.3h9.8M329.9 229.3v-1.8M331.3 229.5h7.5M329.4 229.8h12.9M334.2 230.1h5.2M333.5 230.3h4.6M332.1 230.6h2.5M332.1 230.6v2.4M334.5 230.9h2.4M334.5 230.9v-0.7M332.4 231.1h5.6M332.6 231.4h3.5M331 231.6h6.4M328.9 231.9h4.6M329.7 232.2h6.2M331.5 232.4h2.4M331.5 232.4v1.5M329.8 232.7h4.2M330.3 233h2.7M330.8 233.2h5.8M329.8 233.5h4.7M331.6 233.8h1.6M331.6 233.8v2.9M330.7 234h2.6M330.6 234.3h4M330.6 234.3v-2.5M329.9 234.6h4.7M329.9 234.6v0.2M329.4 234.8h3M328.5 235.1h-0.2M329 235.2v11.1M328.5 240.8h0.5M334.3 235.4h4.5M334.3 235.4v-1.7M331.7 235.6h8.8M331.7 235.6v0.5M333.4 235.9h4M332.8 236.2h2M332.8 236.4h2.5M332.8 236.4v-0.5M329.8 236.7h8.8M329.8 236.7v-1.7M329.6 236.9h5.2M331.3 237.2h2.1M331.3 237.2v1.8M331.4 237.5h1.9M333.2 237.7h3.4M333 238h4.3M330.1 238.3h3.1M330.1 238.3v-2.3M329.7 238.5h4.8M333.2 238.8h4M333.2 238.8v-2.6M332.9 239.1h2M329.7 239.3h5.1M330.3 239.6h2.6M330.3 239.6v-2.3M329.1 239.9h7.5M329.1 239.9v0.1M329.5 240.1h2.4M331.4 240.4h2.6M330.2 240.7h1.1M330.2 240.7v-0.1M331.8 240.9h5.1M330.3 241.2h4.4M330.3 241.2v-2.4M331 241.5h1.1M330.7 241.7h2.8M331 242h5.5M329.8 242.2h1.7M329.8 242.2v1.6M329.5 242.5h3.5M329.5 242.5v1.7M330.2 242.8h1.4M329.4 243h0.3M329.4 243v-2.7M331.5 243.3h1.7M329.2 243.6h2.7M329.2 243.6v-2.3M331.7 243.8h3.4M331.7 243.8v2.5M329.4 244.1h4.7M329.4 244.1v-2.2M328.9 244.4h1.8M328.9 244.4v0.1M330.5 244.6h2.7M330.5 244.6v-2.3M328.7 244.9h0.3M328.7 244.9v2.5M328.9 245.2h-0.3M328.4 245.4h-0.6M328.4 245.4v-1.6M330.7 245.7h1.4M331 246h1.1M330.2 246.2h2.6M329 246.4v8.6M328.5 250.7h0.5M337.4 246.5h3.3M332.7 246.7h5.8M332.9 247h6.1M332.4 247.3h6.7M331.7 247.5h2.4M330.3 247.8h7.8M331.4 248.1h5.5M333.5 248.3h4.4M333.2 248.6h6.6M330.4 248.8h7.7M332.2 249.1h4.5M332.2 249.1v-2.2M334.5 249.4h1.5M330.2 249.6h4.8M330 249.9h3.7M330.5 250.2h4.6M330.5 250.2v1.3M332.2 250.4h8.7M332.2 250.4v-1.7M329.4 250.7h3.9M329.4 250.7v-0.5M330 250.9h4.9M330 250.9v1M328.9 251.2h1.3M329.7 251.5h4.4M329.7 251.5v-2.1M329.2 251.7h3.7M331.9 252h1.8M329.6 252.2h3.3M329.6 252.2v-2.5M329.9 252.5h3.1M329.2 252.8h3M330.7 253h2.5M329.7 253.3h4.4M329.7 253.3v2.5M329.4 253.6h0.7M329.4 253.6v2.8M330.3 253.8h1.4M330.2 254.1h1.8M329.3 254.3h1.3M331.4 254.6h0.8M329.4 254.9h1.2M328.5 255v13M330.7 255v8.3M328.5 259.2h2.2M338 255.1h3.2M338 255.1v-0.2M333.1 255.4h10.9M333.1 255.4v0.5M332.1 255.6h7.6M333.4 255.9h7.5M333.5 256.2h9.3M333.5 256.2v-1.3M334.7 256.4h10.1M334.7 256.4v-1.9M333.9 256.7h4.3M335.6 256.9h4.9M338.8 257.2h3M329.2 257.5h10.9M329.5 257.7h12.5M329.5 257.7v1.7M330.4 258h7.3M334.7 258.2h6.6M333.9 258.5h4M333.9 258.5v1M332.3 258.8h3M332.7 259h4.8M332.1 259.3h11.1M332.1 259.3v-1M332.2 259.5h7.9M333.2 259.8h3.5M336.3 260.1h2.6M336.3 260.1v-2.6M334.9 260.3h2.6M330.3 260.6h10.2M330.3 260.6v2.9M332.5 260.8h5.8M333 261.1h2.9M333 261.4h4.2M333 261.4v0.3M330.8 261.6h3.2M335.7 261.9h5.1M335.7 261.9v2M329.7 262.1h7.2M329.7 262.1v0M336.9 262.4h1.6M336.9 262.4v-0.4M331 262.7h5.7M333.7 262.9h3.8M329.6 263.2h7.6M331.4 263.3v4.7M328.5 265.7h2.9M335.2 263.4h3M333.2 263.7h4.4M333.2 263.7v-1.5M332.6 264h5.5M332.5 264.2h6.8M334 264.5h5.8M335.7 264.7h5.9M335.7 264.7v2.7M331.8 265h3.5M334.6 265.3h4.1M333.5 265.5h3.9M333.5 265.5v0.6M332.5 265.8h1.4M332.4 266h3.7M336.1 266.3h1.6M336.1 266.3v2.4M332.5 266.6h0.5M332.5 266.6v-0M335.1 266.8h5.6M335.1 266.8v2.6M330.1 267.1h6.5M332 267.3h0.6M331.8 267.6h1.4M330.6 267.9h4.9M326.6 268v19M327.1 268v9.6M326.6 272.8h0.5M332.8 268.1h4.2M332.8 268.1v0.8M337.4 268.4h3M337.4 268.4v1.5M331.5 268.7h6M331.5 268.7v3M333.7 269h2.1M328.8 269.2h6.5M333.6 269.5h3.8M333.6 269.5v-1.8M329.3 269.8h9.3M329.3 269.8v-2.2M329.4 270.1h4.5M335.8 270.3h2.4M332.4 270.6h2.9M334.2 270.9h3.2M330.5 271.2h4.1M328.1 271.4h5.9M328.3 271.7h3M328.3 271.7v0.3M327.9 272h7.5M330.1 272.3h3.3M330.1 272.3v-1.1M329.2 272.5h5.6M329.2 272.8h2.8M329.2 273.1h4M329.2 273.1v-2.7M328.5 273.4h2.8M328.2 273.6h3.2M332 273.9h3.7M328.6 274.2h3.8M328.9 274.5h2.9M330.1 274.7h2.5M330.1 274.7v2.3M329.4 275h1.3M328.6 275.3h1.7M327 275.6h0.5M327.8 275.8h2M329.5 276.1h2.4M326.9 276.4h2.4M327.5 276.7h0.3M327.2 276.9h2.7M327.6 277.2h2M329 277.5h0.7M329 277.5v1.2M327.1 277.6v9.4M326.6 282.3h0.5M328.2 277.8h5.9M330.9 278h4.3M330.9 278v-1.2M333.7 278.3h2.6M333.7 278.3v2.6M328.6 278.6h7.8M329.1 278.8h8.1M329.1 278.8v-0.9M328.2 279.1h5.4M330.9 279.4h1.3M329.1 279.6h4M329.1 279.6v-0.1M328.4 279.9h2.5M328.4 279.9v-1.7M327.8 280.2h4.3M330.3 280.4h1.4M327.8 280.7h1.5M329.8 281h2.2M331.1 281.2h3.8M327.3 281.5h0.2M327.3 281.5v-1.1M328.1 281.8h1.4M328.1 281.8v-1.4M329.2 282h2.7M329.2 282v-1.2M328.8 282.3h1.7M328.8 282.3v0.7M329.2 282.6h2.2M328.4 282.9h4.1M327.2 283.1h0.1M327.2 283.4h1.5M327 283.7h1.9M328.7 283.9h3M327.1 284.2h0.4M329.2 284.5h1.1M329.2 284.5v2.3M326 284.7h-0.3M326 284.7v-2.6M327.6 285h1.4M327.2 285.3h0.2M327.2 285.3v2.9M327.5 285.5h1.8M329.6 285.8h0.7M328.1 286.1h1M328.1 286.1v2.3M327.2 286.3h0.8M326.6 286.6h-1.2M326.6 286.6v-2.4M326.1 286.9h-1.2M326 287v14M329.1 287v7.8M326 290.9h3.1M331.5 287.2h12M331.5 287.2v-1.8M332.7 287.5h6.1M339.7 287.9h4.4M330 288.2h10.9M333.2 288.6h8.7M335.4 289h4M335.4 289v2.8M327.9 289.3h10.2M327.9 289.3v2.1M331 289.7h10.4M332.4 290h6M332.4 290v-2.1M327.4 290.4h10.4M332.9 290.7h4.2M332.9 290.7v2.5M328.5 291.1h8.3M331.5 291.4h3.5M330.2 291.8h6.1M330.2 291.8v-0M329.9 292.1h3.1M335.1 292.5h2.5M330.6 292.9h5.6M336.1 293.2h1.9M336.1 293.2v1.6M330 293.6h4M327.6 293.9h8.5M330.6 294.3h6.7M330.6 294.3v2.6M330 294.6h5.6M329.6 294.8v6.2M326 297.9h3.6M338 295h2.4M338 295v1.2M332.1 295.3h8.9M335.3 295.7h6.6M331.5 296h7.3M331.5 296v-0.7M326.8 296.4h12.4M335.4 296.7h4M334.4 297h3.2M332.4 297.4h2M332 297.7h6.5M331.1 298.1h5.5M327.2 298.4h8.2M333.8 298.8h1.4M333.8 298.8v3M327.5 299.1h6.7M329 299.5h5.4M330.1 299.8h5.1M330.1 299.8v2M331 300.1h4.1M328.2 300.5h6.4M332.3 300.8h1.7M325 303.3v9.9M333.9 303.5h8.6M332.4 304h7.5M334.6 304.5h5.8M332.2 305h9.5M328.3 305.5h11.2M331.8 306h9.9M326.1 306.5h13.9M331 307h8.6M331 307v0.7M332.2 307.5h5.8M335.1 308h3.9M331.1 308.5h7.2M328 309h7.2M328 309v0.2M332.1 309.5h5.6M333.4 310h4.1M334.7 310.5h3.2M330.7 311h9.3M332.5 311.5h6M328.6 312h8.9M329.8 312.5h5.7M331 313h5.1M323.5 313.2v11.8M330.3 313.6h6.7M329 314.3h7M327.2 315h11.8M325.3 315.8h10.9M328.8 316.5h6.3M328.8 316.5v1.6M329.4 317.3h8M325 318h9M327.7 318.7h6.2M326.3 319.5h6.4M324.7 320.2h6.9M328.4 320.9h3.6M324.2 321.7h5.2M324.2 321.7v1.4M324.4 322.4h3.4M324.4 322.4v-0.6M326.4 323.2h2.5M326.4 323.2v0.9M328.4 323.9h1.3M328.4 323.9v-0.3M326.2 324.6h2.1M321.5 325v15M332.6 325.1h5.4M332.6 325.1v0.3M328.6 325.4h12.2M333 325.8h3M323.6 326.1h14.2M327.6 326.4h10.1M327.6 326.4v1M329.9 326.6h7.8M331.8 326.9h6.7M331.8 326.9v-2.4M327.9 327.2h6.7M327.9 327.2v-1.7M327.8 327.6h7.8M323.6 327.9h13.1M323.6 327.9v-1.9M332.3 328.1h3.5M327.3 328.4h10.8M325.9 328.8h11.1M322.8 329.1h14.3M322.8 329.1v0.8M330.2 329.4h6.9M327.5 329.6h10.3M326 329.9h10.2M324.7 330.2h11.7M330.9 330.6h3.3M332.1 330.9h4.5M333.3 331.1h3.3M327.1 331.4h10.8M323.3 331.8h14.9M323.2 332.1h9.4M323.2 332.1v1.1M329.1 332.4h5.8M323.2 332.6h12.1M330 332.9h5.7M326.7 333.2h4.9M327.6 333.6h5.4M330.9 333.9h4.4M329.4 334.1h3.9M329.4 334.1v-0.6M328.2 334.4h3M324.9 334.8h9.2M325.8 335.1h9.7M324.2 335.4h9.7M328.1 335.6h7.2M328.1 335.6v0.9M331.4 335.9h4.4M331.4 335.9v-1.8M330.8 336.2h3.5M330.8 336.2v-0.1M322.2 336.6h7.8M322.2 336.6v-1.9M328.2 336.9h5.6M328.2 336.9v2.4M326.2 337.1h5.1M326.4 337.4h3.5M325.3 337.8h8.9M324.4 338.1h7.4M326.2 338.4h5.4M324.3 338.6h7.2M324.3 338.9h9.9M329.7 339.2h5.2M323 339.6h11.2M327.6 339.9h4.7M321.2 340v55M324.3 340.1h2.5M325.9 340.4h5.4M326.2 340.6h6M326.2 340.6v0.6M322 340.9h2.5M322.4 341.1h3.2M324.8 341.4h5.3M324.8 341.4v-3M323.4 341.6h5.8M328.3 341.9h6.7M322.6 342.1h5.6M322.6 342.1v-2.2M323.2 342.4h8.7M326.9 342.6h3.7M330.5 342.9h2.7M321.9 343.1h5.3M324 343.4h6.2M322.9 343.6h7.6M323 343.9h1.5M323 343.9v-1.2M324.1 344.1h3.4M324.1 344.1v1.1M324.1 344.4h5.8M323.8 344.6h9.3M327.6 344.9h4.5M327.6 344.9v1.9M326.9 345.1h4.3M326.6 345.4h2.7M324.7 345.6h7M323.9 345.9h5.8M322.7 346.1h5M325.9 346.4h3.9M324.2 346.6h4.3M321.9 346.9h6.2M321.9 346.9v-1.6M324.5 347.1h7.7M322 347.4h6.6M322.9 347.6h5.3M325 347.9h4.3M322 348.1h8.9M327.3 348.4h4.4M327.3 348.4v-0.7M324 348.6h6.6M324 348.6v1.7M325.1 348.9h5M325.1 348.9v-1.5M330.2 349.1h4.3M323.4 349.4h7.1M325.6 349.6h2.3M323.7 349.9h5.5M323.7 349.9v-1.7M321.9 350.1h5.3M321.9 350.1v0.5M330.4 350.4h4.6M323.3 350.6h6.1M323.5 350.9h7.4M322.3 351.1h3.8M323 351.4h7M323.9 351.6h2.1M323.9 351.6v-1.8M322.1 351.9h4.1M322.1 351.9v2.1M324.5 352.1h4.1M324.5 352.1v-0.8M324.8 352.4h3.1M324.8 352.4v3M327.7 352.6h2.6M322.7 352.9h4.9M328.5 353.1h3.8M322 353.4h4.3M325.5 353.6h5.9M325.2 353.9h3.7M325.2 353.9v-1.2M323.5 354.1h3.8M323.5 354.1v2.8M326.9 354.4h3.3M326.9 354.4v2M325.1 354.6h6.9M325.1 354.6v-2.8M322.7 354.9h10M323.3 355.1h6.7M326.4 355.4h4.3M326.4 355.4v0.4M323.9 355.6h7.2M329.2 355.9h2.5M329.2 355.9v-2.2M323.8 356.1h5.4M326.7 356.4h2.4M323.5 356.6h6.6M322.5 356.9h5.3M322 357.1h4.4M325.2 357.4h3.8M325 357.6h3.2M323.8 357.9h3.6M323.8 357.9v-2.4M324 358.1h8.5M325.8 358.4h1.2M326.9 358.6h2M322.7 358.9h7.6M324.6 359.1h6.3M324 359.4h4.5M322.7 359.6h1M322.7 359.6v-0.2M324 359.9h3.4M323.2 360.1h5.6M322 360.4h4.5M326 360.6h8M326 360.6v2.3M324.2 360.9h6M321.8 361.1h4M327.2 361.4h2.4M324.1 361.6h1.2M324.1 361.6v-2M326.4 361.9h2M326.4 361.9v2.3M323.6 362.1h4M323.6 362.1v-1M323.1 362.4h4.6M323.1 362.4v1.2M323.4 362.6h5.8M323.4 362.6v1.3M325.7 362.9h1.2M326.6 363.1h5.8M322.7 363.4h4.8M328.1 363.6h2.7M328.1 363.6v-0.1M324 363.9h4.4M323 364.1h4.4M322.5 364.4h5.9M331.1 364.6h2.6M323 364.9h7.8M323.1 365.1h3.1M323.1 365.1v1.7M321.4 365.4h1.8M324.3 365.6h6M326 365.9h3.2M326 365.9v-1.7M322.7 366.1h7.1M322.7 366.1v1.2M327.9 366.4h5.2M322.7 366.6h11M326 366.9h2.4M322.4 367.1h8.9M324.1 367.4h7.4M323.2 367.6h5.8M325.2 367.9h5.6M325.2 367.9v-2.1M322.9 368.1h5M322.9 368.1v0.1M321.7 368.4h4.2M321.7 368.4v1.8M324.1 368.6h5.8M321.8 368.9h4.4M321.8 368.9v0.8M326.4 369.1h5.1M326.2 369.4h8.1M326.2 369.4v0.7M322.3 369.6h5.9M323.8 369.9h3.4M328.1 370.1h2.8M328.1 370.1v-1.8M323.7 370.4h3M325.1 370.6h2.5M325.1 370.6v-0.7M324.6 370.9h6.7M324.6 370.9v-0.6M324.8 371.1h1.8M324.8 371.1v-0.7M324.4 371.4h5.7M321.9 371.6h0.2M321.8 371.9h5.5M322.5 372.1h3.2M325.7 372.4h3.3M325.7 372.4v-3M326.2 372.6h2.9M324.8 372.9h6.2M324.7 373.1h4.1M324.7 373.1v-1.6M324.3 373.4h2.3M324.3 373.4v-1.8M324.3 373.6h7.2M323.6 373.9h3.5M324 374.1h6M322.3 374.4h2.7M325.3 374.6h2.2M325.3 374.6v-0.9M324.4 374.9h4.3M325 375.1h1.5M324.7 375.4h4.7M324.7 375.4v-0.5M322.9 375.6h8.3M321.9 375.9h9.6M324.2 376.1h5.2M324.2 376.1v-1.6M326.1 376.4h4.4M322 376.6h6.1M322.8 376.9h1.8M322.8 376.9v1.9M323.5 377.1h6.7M322.1 377.4h2.3M324.6 377.6h3.5M324 377.9h3.6M325.4 378.1h5.1M325.4 378.1v-0.9M324.4 378.4h6.6M323.2 378.6h7.2M323.2 378.6v-2.5M323.5 378.9h6.1M323.5 378.9v-2.5M321.6 379.1h3.8M326.2 379.4h3.8M323.8 379.6h8.5M323.8 379.6v-3M322.9 379.9h3.8M322.9 379.9v-2.1M324.7 380.1h4M324.7 380.1v-0.9M321.9 380.4h5.5M323.5 380.6h6.6M326.6 380.9h2.8M325.1 381.1h4.3M325.1 381.1v-0.3M321.3 381.4h1M323.6 381.6h8M326.4 381.9h1.5M324.6 382.1h4.9M325.9 382.4h4.1M322.7 382.6h9.7M325.1 382.9h5.1M322.7 383.1h6.3M324.1 383.4h7.4M324.1 383.4v-2.6M325.2 383.6h4.4M321.8 383.9h5.6M323.8 384.1h6.8M325.1 384.4h3.8M325.1 384.4v-2.1M325.1 384.6h4.8M321.6 384.9h0.9M321.6 384.9v0.6M324.7 385.1h4.4M323.2 385.4h2.5M323.3 385.6h2.5M323.3 385.6v-0M322.2 385.9h6.2M321.6 386.1h6.6M326.9 386.4h4.3M326.9 386.4v1.9M325 386.6h3.6M325 386.6v-1.4M324.4 386.9h4.9M326.8 387.1h4.1M322.1 387.4h7.8M325.9 387.6h2.1M325 387.9h5.9M322 388.1h5.9M323.6 388.4h1.8M328.8 388.6h2.4M322.6 388.9h9.8M322.8 389.1h7.5M322.8 389.1v-0.3M323.6 389.4h6.2M322.8 389.6h3.9M321.8 389.9h8.8M321.8 390.1h3.7M324.8 390.4h6.5M327.4 390.6h4.8M323.3 390.9h4M324.3 391.1h3.1M322.6 391.4h2.9M327.4 391.6h2.7M325.8 391.9h1.7M325.8 391.9v-2M323.7 392.1h4.3M323.7 392.1v1.7M324.6 392.4h2M324.6 392.4v-1.2M326.7 392.6h7.2M323.8 392.9h5.7M322.6 393.1h5.8M323.9 393.4h8.4M323.5 393.6h8.3M322.4 393.9h0.6M327.8 394.1h5.3M327.8 394.1v0.6M321.9 394.4h4.6M324.9 394.6h4M324 394.9h1.6M320.8 395v10M325.5 395.4h7.5M328.2 396.1h4.8M328.2 396.1v-1.4M324.1 396.8h4.9M324.4 397.5h7M324.4 398.2h4.8M324 398.9h3.8M322.6 399.6h7M322.6 399.6v-0.2M322 400.4h4.7M324 401.1h2.9M323.2 401.8h3.5M321.5 402.5h2.4M322.5 403.2h1.9M321.2 403.9h1.6M321.2 403.9v-0.5M320.3 404.6h-0.8"/>
</g>
<path d="M340 228.5h0M342.4 229.1h0M339.7 229.4h0M338.9 229.4h0M342.3 229.7h0M339.4 230.2h0M338.1 230.3h0M334.6 230.7h0M336.9 230.9h0M338 231h0M336.1 231.5h0M337.4 231.8h0M333.5 231.8h0M335.9 232.4h0M333.9 232.3h0M333.9 232.5h0M332.9 233.1h0M336.6 233.3h0M334.6 233.3h0M333.1 233.7h0M333.3 234.1h0M334.5 234.2h0M334.6 234.4h0M332.4 235h0M328.2 235.2h0M338.8 235.5h0M340.6 235.5h0M337.3 235.8h0M334.8 236.3h0M335.3 236.5h0M338.5 236.8h0M334.9 236.8h0M333.5 237.1h0M333.3 237.3h0M336.6 237.8h0M337.2 238h0M333.3 238.2h0M334.5 238.7h0M337.2 238.7h0M334.8 239.2h0M334.8 239.3h0M332.8 239.7h0M336.5 239.8h0M331.9 240.3h0M334 240.4h0M331.3 240.6h0M336.9 240.9h0M334.6 241.4h0M332.1 241.5h0M333.6 241.9h0M336.5 242.1h0M331.5 242.2h0M333 242.6h0M331.6 242.9h0M329.7 243.2h0M333.3 243.5h0M331.9 243.5h0M335.2 243.7h0M334.1 244.1h0M330.7 244.3h0M333.3 244.7h0M329 244.9h0M328.6 245.4h0M327.8 245.3h0M332.1 245.8h0M332.1 245.9h0M332.8 246.2h0M340.7 246.6h0M338.5 246.6h0M339 247h0M339.2 247.1h0M334 247.5h0M338.1 247.9h0M336.9 247.9h0M337.9 248.5h0M339.8 248.7h0M338 248.7h0M336.8 249.3h0M336 249.5h0M335 249.7h0M333.7 250.1h0M335.1 250.3h0M340.9 250.3h0M333.3 250.5h0M334.8 250.8h0M330.1 251.2h0M334.1 251.3h0M332.9 251.8h0M333.8 252h0M332.9 252.1h0M333 252.6h0M332.2 252.9h0M333.2 253.2h0M334.1 253.3h0M330 253.5h0M331.6 253.8h0M332 254h0M330.7 254.2h0M332.3 254.7h0M330.5 254.9h0M341.2 255h0M344 255.5h0M339.7 255.7h0M340.9 255.9h0M342.8 256.2h0M344.8 256.4h0M338.2 256.5h0M340.5 256.8h0M341.8 257.2h0M340 257.6h0M342 257.6h0M337.7 258.1h0M341.3 258.4h0M337.9 258.4h0M335.2 258.7h0M337.5 259.2h0M343.2 259.2h0M340 259.5h0M336.7 260h0M338.9 259.9h0M337.5 260.5h0M340.5 260.7h0M338.3 260.7h0M336 261.2h0M337.2 261.2h0M333.9 261.5h0M340.8 261.8h0M336.8 262h0M338.5 262.3h0M336.8 262.7h0M337.5 262.8h0M337.3 263h0M338.2 263.4h0M337.5 263.8h0M338.1 263.9h0M339.3 264.2h0M339.8 264.4h0M341.5 264.6h0M335.3 265h0M338.7 265.1h0M337.4 265.4h0M333.9 265.9h0M336.1 265.9h0M337.7 266.2h0M333 266.4h0M340.7 266.8h0M336.7 267h0M332.6 267.5h0M333.3 267.8h0M335.5 267.9h0M337 268.1h0M340.5 268.5h0M337.5 268.5h0M335.8 269h0M335.3 269.1h0M337.4 269.5h0M338.5 269.7h0M333.9 269.9h0M338.2 270.3h0M335.3 270.7h0M337.4 270.8h0M334.7 271.3h0M334 271.3h0M331.3 271.7h0M335.4 272h0M333.4 272.3h0M334.7 272.4h0M332 272.8h0M333.2 273.1h0M331.3 273.3h0M331.5 273.6h0M335.7 274h0M332.4 274.2h0M331.7 274.3h0M332.7 274.9h0M330.7 275.1h0M330.3 275.4h0M327.5 275.4h0M329.8 275.7h0M331.9 276.3h0M329.3 276.2h0M327.9 276.8h0M329.9 276.8h0M329.6 277.4h0M329.7 277.6h0M334 277.8h0M335.3 278.1h0M336.2 278.5h0M336.5 278.4h0M337.1 279h0M333.7 278.9h0M332.2 279.6h0M333.1 279.8h0M330.9 279.8h0M332.1 280.4h0M331.7 280.6h0M329.3 280.6h0M332.1 280.9h0M334.9 281.4h0M327.5 281.5h0M329.5 281.9h0M331.9 282.1h0M330.4 282.4h0M331.5 282.6h0M332.5 282.8h0M327.3 283.1h0M328.8 283.3h0M328.9 283.7h0M331.7 283.7h0M327.5 284.3h0M330.3 284.5h0M325.8 284.8h0M328.9 285h0M327.4 285.4h0M329.2 285.7h0M330.3 285.8h0M329.1 286h0M328 286.4h0M325.4 286.5h0M324.9 286.7h0" stroke="#eba21f" stroke-width="1.5" stroke-linecap="round" fill="none"/>
<path d="M343.5 287h0M338.8 287.4h0M344 287.8h0M340.9 288.2h0M341.9 288.5h0M339.3 289h0M338.1 289.5h0M341.4 289.5h0M338.4 290h0M337.8 290.2h0M337.1 290.9h0M336.9 291.1h0M334.9 291.6h0M336.2 291.9h0M333 292.1h0M337.6 292.5h0M336.1 292.8h0M337.9 293.2h0M334 293.7h0M336.1 293.9h0M337.3 294.4h0M335.7 294.7h0M340.4 295h0M341.1 295.2h0M341.8 295.6h0M338.8 295.9h0M339.2 296.2h0M339.4 296.9h0M337.5 296.9h0M334.3 297.5h0M338.5 297.6h0M336.7 297.9h0M335.5 298.2h0M335.2 298.8h0M334.2 299.2h0M334.3 299.6h0M335.2 299.9h0M335.1 300.2h0M334.5 300.3h0M334 300.9h0" stroke="#5a7a1c" stroke-width="1.44" stroke-linecap="round" fill="none"/>
<path d="M342.5 303.6h0M339.9 303.9h0M340.3 304.6h0M341.7 305h0M339.5 305.6h0M341.7 306.1h0M339.9 306.4h0M339.6 306.9h0M338 307.4h0M339 308.2h0M338.3 308.5h0M335.2 309h0M337.7 309.3h0M337.5 310h0M337.9 310.5h0M340 310.9h0M338.4 311.4h0M337.5 312h0M335.5 312.6h0M336.1 313.1h0" stroke="#93b4d1" stroke-width="1.44" stroke-linecap="round" fill="none"/>
<path d="M337.1 313.5h0M336 314.1h0M339 315.2h0M336.1 315.8h0M335.1 316.6h0M337.3 317.3h0M334.1 318h0M333.8 318.8h0M332.7 319.5h0M331.7 320.1h0M332 320.8h0M329.4 321.8h0M327.8 322.3h0M328.9 323h0M329.7 324h0M328.3 324.7h0M333 395.3h0M333 396h0M329 396.9h0M331.4 397.6h0M329.2 398h0M327.8 398.8h0M329.6 399.5h0M326.7 400.2h0M326.9 400.9h0M326.7 401.7h0M323.8 402.7h0M324.4 403.1h0M322.8 404.1h0M319.5 404.7h0" stroke="#888" stroke-width="0.9" stroke-linecap="round" fill="none"/>
<path d="M337.9 325.2h0M340.8 325.4h0M335.9 325.6h0M337.7 326.2h0M337.7 326.5h0M337.6 326.7h0M338.5 326.8h0M334.6 327.3h0M335.6 327.5h0M336.6 327.8h0M335.8 328.1h0M338.1 328.5h0M337.1 328.7h0M337 329.1h0M337.1 329.4h0M337.8 329.7h0M336.2 330.1h0M336.4 330.4h0M334.3 330.7h0M336.7 330.8h0M336.6 331.1h0M337.9 331.6h0M338.3 331.9h0M332.6 332.2h0M334.9 332.2h0M335.3 332.7h0M335.7 332.8h0M331.6 333.1h0M333 333.6h0M335.3 333.7h0M333.3 334.3h0M331.2 334.6h0M334.2 334.7h0M335.5 335.2h0M333.9 335.3h0M335.3 335.5h0M335.7 335.8h0M334.3 336.3h0M330.1 336.7h0M333.8 337h0M331.3 337.3h0M329.9 337.6h0M334.2 337.8h0M331.7 338.2h0M331.6 338.2h0M331.5 338.6h0M334.1 339h0M334.9 339.4h0M334.1 339.5h0M332.3 339.8h0M326.8 339.9h0M331.3 340.3h0M332.2 340.8h0M324.5 340.8h0M325.7 341.2h0M330.1 341.5h0M329.3 341.7h0M335 341.7h0M328.2 342.1h0M331.9 342.5h0M330.6 342.4h0M333.3 342.9h0M327.2 343.2h0M330.2 343.5h0M330.5 343.7h0M324.5 343.8h0M327.5 343.9h0M329.9 344.5h0M333.1 344.8h0M332.1 344.9h0M331.1 345.2h0M329.3 345.3h0M331.7 345.7h0M329.7 345.8h0M327.7 346.1h0M329.8 346.5h0M328.5 346.7h0M328.1 347h0M332.2 347.2h0M328.6 347.3h0M328.2 347.5h0M329.3 347.7h0M330.9 348h0M331.7 348.5h0M330.6 348.8h0M330.1 348.8h0M334.5 349.1h0M330.5 349.4h0M327.9 349.6h0M329.2 350.1h0M327.2 350.1h0M335 350.5h0M329.5 350.7h0M330.9 350.9h0M326.1 351.3h0M330 351.4h0M326.1 351.5h0M326.1 351.9h0M328.6 352h0M327.9 352.6h0M330.4 352.7h0M327.6 352.7h0M332.3 353.2h0M326.3 353.3h0M331.4 353.8h0M328.9 353.9h0M327.3 354.2h0M330.1 354.5h0M332 354.7h0M332.6 354.9h0M330 355h0M330.7 355.3h0M331.1 355.4h0M331.6 355.9h0M329.2 356.3h0M329.1 356.2h0M330.1 356.6h0M327.9 357h0M326.3 357h0M328.9 357.5h0M328.2 357.7h0M327.4 357.9h0M332.5 358h0M327 358.5h0M329 358.8h0M330.3 358.7h0M330.9 358.9h0M328.5 359.3h0M323.7 359.5h0M327.4 360h0M328.8 360h0M326.5 360.3h0M334 360.6h0M330.2 361h0M325.8 361.2h0M329.6 361.6h0M325.3 361.6h0M328.4 361.8h0M327.5 362h0M327.7 362.3h0M329.2 362.8h0M326.9 362.7h0M332.4 363h0M327.5 363.4h0M330.8 363.5h0M328.4 363.7h0M327.4 364.3h0M328.4 364.3h0M333.6 364.6h0M330.8 364.8h0M326.2 365.3h0M323.2 365.3h0M330.3 365.5h0M329.2 365.8h0M329.8 366.2h0M333.1 366.4h0M333.7 366.6h0M328.4 366.7h0M331.3 367h0M331.5 367.2h0M329 367.6h0M330.9 367.9h0M327.9 368.1h0M325.9 368.5h0M329.9 368.8h0M326.2 368.9h0M331.5 369.3h0M334.3 369.4h0M328.2 369.7h0M327.2 369.8h0M331 370h0M326.7 370.4h0M327.6 370.5h0M331.3 370.7h0M326.6 370.9h0M330.1 371.3h0M322.1 371.6h0M327.4 372h0M325.7 372.1h0M329 372.3h0M329.1 372.6h0M331 372.8h0M328.8 373h0M326.6 373.3h0M331.5 373.8h0M327.1 373.8h0M329.9 374.2h0M325 374.5h0M327.5 374.6h0M328.7 374.9h0M326.5 375h0M329.4 375.5h0M331.2 375.4h0M331.5 376h0M329.3 376.3h0M330.5 376.3h0M328.1 376.6h0M324.6 377h0M330.2 377.3h0M324.4 377.5h0M328.1 377.7h0M327.6 378h0M330.6 378.1h0M331.1 378.5h0M330.4 378.8h0M329.5 378.8h0M325.4 379h0M330 379.3h0M332.3 379.5h0M326.7 380h0M328.7 380.1h0M327.5 380.6h0M330.1 380.5h0M329.4 380.8h0M329.4 381.3h0M322.3 381.5h0M331.6 381.5h0M327.9 381.9h0M329.6 382h0M330 382.3h0M332.4 382.7h0M330.2 383.1h0M329 383.2h0M331.5 383.5h0M329.6 383.7h0M327.3 383.9h0M330.5 384h0M328.8 384.3h0M329.9 384.7h0M322.5 384.9h0M329.1 385.3h0M325.8 385.3h0M325.8 385.5h0M328.4 385.7h0M328.2 386h0M331.2 386.4h0M328.5 386.5h0M329.3 386.9h0M330.8 387.1h0M329.9 387.5h0M328.1 387.8h0M330.9 387.9h0M327.9 388.3h0M325.4 388.4h0M331.2 388.7h0M332.4 388.9h0M330.3 388.9h0M329.8 389.4h0M326.7 389.7h0M330.5 389.7h0M325.5 390.1h0M331.2 390.4h0M332.1 390.8h0M327.2 390.9h0M327.3 391.3h0M325.5 391.3h0M330.1 391.8h0M327.5 391.9h0M328 392.2h0M326.6 392.5h0M333.9 392.4h0M329.5 392.7h0M328.5 393.1h0M332.3 393.3h0M331.9 393.6h0M323 393.8h0M333.1 394.2h0M326.6 394.3h0M328.9 394.7h0M325.6 395.1h0" stroke="#c1380f" stroke-width="1.5" stroke-linecap="round" fill="none"/>
<text x="107.9" y="13.2" font-size="7.8" text-anchor="start" font-weight="normal" fill="#231f20">Clone A (525 cells)</text>
<text x="101.2" y="24.05" font-size="7.8" text-anchor="end" font-weight="normal" fill="#231f20">SV</text>
<line x1="104.7" y1="21.3" x2="107.5" y2="21.3" stroke="#4a4a4a" stroke-width="0.6"/>
<line x1="107.5" y1="18.3" x2="107.5" y2="24.3" stroke="#dddddd" stroke-width="0.5"/>
<line x1="107.5" y1="29.8" x2="107.5" y2="81.6" stroke="#4a4a4a" stroke-width="0.6"/>
<line x1="104.7" y1="32.3" x2="107.5" y2="32.3" stroke="#4a4a4a" stroke-width="0.6"/>
<text x="101.2" y="35.05" font-size="7.8" text-anchor="end" font-weight="normal" fill="#231f20">15</text>
<line x1="104.7" y1="42.4" x2="107.5" y2="42.4" stroke="#4a4a4a" stroke-width="0.6"/>
<text x="101.2" y="45.15" font-size="7.8" text-anchor="end" font-weight="normal" fill="#231f20">10</text>
<line x1="104.7" y1="57.4" x2="107.5" y2="57.4" stroke="#4a4a4a" stroke-width="0.6"/>
<text x="101.2" y="60.15" font-size="7.8" text-anchor="end" font-weight="normal" fill="#231f20">5</text>
<line x1="104.7" y1="69.3" x2="107.5" y2="69.3" stroke="#4a4a4a" stroke-width="0.6"/>
<text x="101.2" y="72.05" font-size="7.8" text-anchor="end" font-weight="normal" fill="#231f20">2</text>
<line x1="104.7" y1="77.9" x2="107.5" y2="77.9" stroke="#4a4a4a" stroke-width="0.6"/>
<text x="101.2" y="80.65" font-size="7.8" text-anchor="end" font-weight="normal" fill="#231f20">0</text>
<text x="86" y="56.2" font-size="7.8" text-anchor="middle" font-weight="normal" fill="#231f20" transform="rotate(-90 86 56.2)">CN</text>
<rect x="164.6" y="17.8" width="1.6" height="63.8" fill="#e3e3e3"/>
<path d="M108 62.1 108.5 62 109 62.7 109.5 62.7 110 62.7 110.5 62.3 111 62 111.5 61.9 112 62.2 112.5 62 113.1 62.3 113.6 62.4 114.1 62.5 114.6 62.1 115.1 62.6 115.6 62.2 116.1 62 116.6 62.2 117.1 62.3 117.6 62.7 118.1 62.3 118.6 62 119.1 62.7 119.6 62.4 120.1 62 120.6 62.2 121.1 62.5 121.6 62.5 122.2 62.5 122.7 62.2 123.2 62.1 123.7 62.7 124.2 62.5 124.7 62.4 125.2 62.2 125.7 62.7 126.2 62.1 126.7 62.1 127.2 61.8 127.7 62 128.2 61.9 128.7 62.1 129.2 62.2 129.7 62.4 130.2 62.5 130.7 62.2 131.2 62.5 131.8 62.5 132.3 62 132.8 62 133.3 62.5 133.8 61.8 134.3 62.4 134.8 62.7 135.3 62 135.8 62 136.3 62 136.3 68.2 135.8 68.3 135.3 68.2 134.8 68.3 134.3 68.9 133.8 68.9 133.3 68.2 132.8 68.9 132.3 68.6 131.8 68.6 131.2 68.8 130.7 68.1 130.2 68.1 129.7 68.2 129.2 68.2 128.7 68.1 128.2 68.9 127.7 68.5 127.2 68.1 126.7 68.1 126.2 68.8 125.7 68.6 125.2 68.7 124.7 68.9 124.2 68.3 123.7 68.6 123.2 68.3 122.7 68.6 122.2 68.4 121.6 68.3 121.1 68.4 120.6 68.2 120.1 68.1 119.6 68.9 119.1 68.2 118.6 68.1 118.1 68.6 117.6 68.1 117.1 68.2 116.6 68.9 116.1 68.7 115.6 68.1 115.1 68.9 114.6 68.2 114.1 68.3 113.6 68.2 113.1 68.3 112.5 68.4 112 68.5 111.5 68.4 111 68.3 110.5 68.2 110 68.7 109.5 68.6 109 68.9 108.5 68.9 108 68.5Z" fill="#fbc88c"/>
<path d="M140.8 53.2 141.3 53.2 141.8 53.7 142.3 52.9 142.8 53.5 143.3 53.3 143.8 53 144.3 52.9 144.8 53.7 145.3 53.2 145.8 53.1 146.3 53 146.9 53.1 147.4 52.8 147.9 53.2 148.4 53.5 148.9 53.5 149.4 53.5 149.9 53.2 150.4 52.8 150.9 53 151.4 53.7 151.9 52.9 152.4 53.3 152.4 61.6 151.9 61.6 151.4 62.1 150.9 62.4 150.4 62.2 149.9 61.5 149.4 61.8 148.9 61.5 148.4 62.4 147.9 62.3 147.4 61.9 146.9 61.7 146.3 61.5 145.8 61.6 145.3 61.5 144.8 61.5 144.3 61.9 143.8 62.2 143.3 61.7 142.8 62.2 142.3 62 141.8 62.2 141.3 62.3 140.8 62Z" fill="#e04a2a"/>
<path d="M139.8 57.5 140.5 57.6 141.2 57.7 141.2 66.4 140.5 66.1 139.8 66.2Z" fill="#f07a40"/>
<path d="M152.2 62.4 152.7 62.7 153.2 62.4 153.7 62.4 154.2 62.6 154.7 62.6 155.2 62.4 155.7 62.1 156.2 62 156.7 62.4 157.2 62.2 157.7 61.9 158.2 62.2 158.7 62.3 159.2 62.7 159.7 62.3 160.2 61.9 160.7 62.6 161.2 62.7 161.7 62.7 162.2 62.3 162.7 62.1 163.2 62 163.7 62.1 164.2 62.1 164.7 62.2 165.2 62.5 165.2 68.4 164.7 68.8 164.2 68.4 163.7 68.8 163.2 68.6 162.7 68.7 162.2 68.2 161.7 68.3 161.2 68.2 160.7 68.6 160.2 68.3 159.7 68.9 159.2 68.7 158.7 68.2 158.2 68.9 157.7 68.7 157.2 68.6 156.7 68.8 156.2 68.9 155.7 68.3 155.2 69 154.7 68.3 154.2 68.6 153.7 68.4 153.2 68.2 152.7 68.6 152.2 68.3Z" fill="#fbc88c"/>
<path d="M165.8 67.4 166.3 67.3 166.8 67.3 167.3 66.8 167.8 66.7 168.4 67 168.9 67 169.4 67.3 169.9 67.2 170.4 67.3 170.9 66.8 171.4 67.3 171.9 67.2 172.5 66.8 173 67.1 173.5 67.3 174 67.1 174.5 67.2 174.5 71.1 174 70.7 173.5 71 173 71.1 172.5 71.1 171.9 71 171.4 70.8 170.9 71 170.4 71.2 169.9 70.8 169.4 71.1 168.9 71.3 168.4 71 167.8 71.2 167.3 70.9 166.8 70.8 166.3 71 165.8 71.1Z" fill="#c8c8c8"/>
<path d="M173.6 62 174.1 62.5 174.6 62.4 175.2 61.7 175.7 61.8 176.2 61.9 176.7 62 177.3 62.3 177.8 62.2 178.3 62.4 178.3 67.1 177.8 67.3 177.3 67.2 176.7 66.9 176.2 67.6 175.7 67.1 175.2 67.5 174.6 66.9 174.1 67.3 173.6 67.1Z" fill="#fbc88c"/>
<path d="M179.6 62.5 180.1 62.4 180.7 62.5 181.2 62.3 181.7 62.1 182.3 62.1 182.8 62.3 183.4 61.9 183.9 62.2 184.4 62 185 61.9 185.5 61.9 185.5 67.2 185 67.5 184.4 67.2 183.9 67.3 183.4 67.3 182.8 67.4 182.3 67.5 181.7 66.9 181.2 67.3 180.7 67.6 180.1 67.1 179.6 67.2Z" fill="#fbc88c"/>
<path d="M178 67.5 178.6 67.4 179.2 67.6 179.8 67.5 179.8 70.7 179.2 70.6 178.6 70.7 178 70.5Z" fill="#c8c8c8"/>
<path d="M184.2 67.5 184.7 67.6 185.3 67.1 185.8 67.3 186.3 67 186.9 67.4 187.4 67.1 188 67.2 188.5 67.5 189 67.3 189.6 67.5 190.1 67.3 190.1 71.4 189.6 71.4 189 70.9 188.5 71.3 188 71.1 187.4 70.9 186.9 71 186.3 71.3 185.8 71.6 185.3 71.5 184.7 71.1 184.2 71.5Z" fill="#c8c8c8"/>
<path d="M188.8 62 189.3 62.2 189.9 62.3 190.4 61.7 190.9 62 191.4 61.7 192 62.5 192.5 62 193 62.4 193.5 62.1 194.1 62.4 194.6 62.5 195.1 62.4 195.6 62.4 196.2 62 196.7 61.9 196.7 67.4 196.2 67.7 195.6 67.9 195.1 67.4 194.6 67.7 194.1 67.5 193.5 67.6 193 67.5 192.5 68 192 67.9 191.4 67.6 190.9 67.7 190.4 67.6 189.9 67.5 189.3 67.9 188.8 67.4Z" fill="#fbc88c"/>
<path d="M194.7 67.3 195.2 67.6 195.7 67.3 196.3 67.6 196.8 67.1 197.3 67.3 197.8 67.3 198.4 67.4 198.9 67.2 199.4 67.2 199.4 71.6 198.9 71.3 198.4 71.7 197.8 71.5 197.3 71.5 196.8 71.5 196.3 71.7 195.7 71.3 195.2 71.2 194.7 71.7Z" fill="#c8c8c8"/>
<path d="M174.6 44h0.7v7.8h-0.7zM175.2 44.1h0.7v8.1h-0.7zM175.9 43.2h0.7v9.2h-0.7zM176.5 43.8h0.7v8.1h-0.7z" fill="#d81f7c"/>
<path d="M177.6 44h0.7v8.3h-0.7zM178.2 43.2h0.7v8.4h-0.7zM178.9 44h0.7v7.4h-0.7z" fill="#d81f7c"/>
<path d="M180 43.8h0.7v7.7h-0.7zM180.6 43.3h0.7v8.6h-0.7zM181.3 45h0.7v7.2h-0.7zM181.9 43.5h0.7v8.7h-0.7zM182.5 44h0.7v7.4h-0.7zM183.1 43.9h0.7v8.4h-0.7zM183.8 44.7h0.7v7.8h-0.7z" fill="#d81f7c"/>
<path d="M189.3 42.8h0.7v9.2h-0.7zM189.9 43.7h0.7v8.2h-0.7zM190.6 44.8h0.7v7.2h-0.7zM191.2 44.1h0.7v8.2h-0.7zM191.8 44.9h0.7v7.2h-0.7z" fill="#d81f7c"/>
<path d="M192.9 44.1h0.7v7.5h-0.7zM193.5 43.7h0.7v7.9h-0.7zM194.2 44.7h0.7v7.6h-0.7zM194.8 43.1h0.7v9h-0.7zM195.4 44.9h0.7v7.5h-0.7zM196 43.7h0.7v8.1h-0.7z" fill="#d81f7c"/>
<path d="M174.8 33.3h0.7v5.7h-0.7z" fill="#d2aede"/>
<path d="M180.2 34.1h0.7v5.2h-0.7zM181.3 34h0.7v5.5h-0.7zM182.4 32.4h0.7v7h-0.7z" fill="#d2aede"/>
<path d="M190.2 32.9h0.7v5.8h-0.7zM191.3 33.4h0.7v5.5h-0.7z" fill="#d2aede"/>
<path d="M193.6 32.6h0.7v6.9h-0.7zM194.7 32.6h0.7v6h-0.7z" fill="#d2aede"/>
<rect x="182.75" y="50.62" width="1" height="1" fill="#a01040"/>
<rect x="191.41" y="48.77" width="1" height="1" fill="#a01040"/>
<rect x="182.98" y="47.2" width="1" height="1" fill="#a01040"/>
<rect x="191.25" y="50.29" width="1" height="1" fill="#a01040"/>
<rect x="179.07" y="49.84" width="1" height="1" fill="#a01040"/>
<rect x="193.25" y="48.3" width="1" height="1" fill="#a01040"/>
<rect x="179.36" y="50.22" width="1" height="1" fill="#a01040"/>
<rect x="187.58" y="48.47" width="1" height="1" fill="#a01040"/>
<rect x="174.59" y="48.12" width="1" height="1" fill="#a01040"/>
<rect x="189.29" y="47.44" width="1" height="1" fill="#a01040"/>
<rect x="184.62" y="59.48" width="0.9" height="0.9" fill="#f08050"/>
<rect x="181.55" y="53.68" width="0.9" height="0.9" fill="#f08050"/>
<rect x="189.1" y="58.72" width="0.9" height="0.9" fill="#f08050"/>
<rect x="187.54" y="60.72" width="0.9" height="0.9" fill="#f08050"/>
<rect x="182.09" y="57.14" width="0.9" height="0.9" fill="#f08050"/>
<rect x="183.95" y="60.25" width="0.9" height="0.9" fill="#f08050"/>
<rect x="181.14" y="54.72" width="0.9" height="0.9" fill="#f08050"/>
<rect x="182.02" y="59.97" width="0.9" height="0.9" fill="#f08050"/>
<rect x="190.64" y="54.23" width="0.9" height="0.9" fill="#f08050"/>
<rect x="192.34" y="61.44" width="0.9" height="0.9" fill="#f08050"/>
<g stroke="#9a9a9a" stroke-width="0.35" fill="none">
<path d="M183 40 Q189.5 37 196 63"/>
<path d="M183 52 Q189.5 38 196 41"/>
<path d="M180 60 Q188 57 196 66"/>
<path d="M176 55 Q183 52 190 68"/>
<path d="M182 47 Q188 44 194 55"/>
<path d="M183 62 Q190.5 59 198 66"/>
<path d="M178 58 Q185 55 192 63"/>
</g>
<rect x="151.1" y="17.9" width="1" height="6.8" fill="#f6c662"/>
<rect x="174.5" y="17.9" width="1" height="6.8" fill="#e8a0b0"/>
<rect x="175.7" y="17.9" width="1" height="6.8" fill="#8fcbe6"/>
<rect x="177.7" y="17.9" width="1" height="6.8" fill="#aaa"/>
<rect x="179.2" y="17.9" width="1" height="6.8" fill="#9ab08a"/>
<rect x="182.2" y="17.9" width="1" height="6.8" fill="#e0461e"/>
<rect x="183" y="17.9" width="1" height="6.8" fill="#e0461e"/>
<rect x="190.1" y="17.9" width="1" height="6.8" fill="#d9772a"/>
<rect x="191.7" y="17.9" width="1" height="6.8" fill="#d9772a"/>
<rect x="194.9" y="17.9" width="1" height="6.8" fill="#f0a060"/>
<rect x="108.8" y="77.9" width="0.9" height="1.4" fill="#d6d6d6"/>
<rect x="111.4" y="77.9" width="0.9" height="1.4" fill="#d6d6d6"/>
<rect x="114" y="77.9" width="0.9" height="1.4" fill="#d6d6d6"/>
<rect x="116.6" y="77.9" width="0.9" height="1.4" fill="#d6d6d6"/>
<rect x="119.2" y="77.9" width="0.9" height="1.4" fill="#d6d6d6"/>
<rect x="121.8" y="77.9" width="0.9" height="1.4" fill="#d6d6d6"/>
<rect x="124.4" y="77.9" width="0.9" height="1.4" fill="#d6d6d6"/>
<rect x="127" y="77.9" width="0.9" height="1.4" fill="#d6d6d6"/>
<rect x="129.6" y="77.9" width="0.9" height="1.4" fill="#d6d6d6"/>
<rect x="132.2" y="77.9" width="0.9" height="1.4" fill="#d6d6d6"/>
<rect x="134.8" y="77.9" width="0.9" height="1.4" fill="#d6d6d6"/>
<rect x="137.4" y="77.9" width="0.9" height="1.4" fill="#d6d6d6"/>
<rect x="140" y="77.9" width="0.9" height="1.4" fill="#d6d6d6"/>
<rect x="142.6" y="77.9" width="0.9" height="1.4" fill="#d6d6d6"/>
<rect x="145.2" y="77.9" width="0.9" height="1.4" fill="#d6d6d6"/>
<rect x="147.8" y="77.9" width="0.9" height="1.4" fill="#d6d6d6"/>
<rect x="150.4" y="77.9" width="0.9" height="1.4" fill="#d6d6d6"/>
<rect x="153" y="77.9" width="0.9" height="1.4" fill="#d6d6d6"/>
<rect x="155.6" y="77.9" width="0.9" height="1.4" fill="#d6d6d6"/>
<rect x="158.2" y="77.9" width="0.9" height="1.4" fill="#d6d6d6"/>
<rect x="160.8" y="77.9" width="0.9" height="1.4" fill="#d6d6d6"/>
<rect x="163.4" y="77.9" width="0.9" height="1.4" fill="#d6d6d6"/>
<rect x="166" y="77.9" width="0.9" height="1.4" fill="#d6d6d6"/>
<rect x="168.6" y="77.9" width="0.9" height="1.4" fill="#d6d6d6"/>
<rect x="171.2" y="77.9" width="0.9" height="1.4" fill="#d6d6d6"/>
<rect x="173.8" y="77.9" width="0.9" height="1.4" fill="#d6d6d6"/>
<rect x="176.4" y="77.9" width="0.9" height="1.4" fill="#d6d6d6"/>
<rect x="179" y="77.9" width="0.9" height="1.4" fill="#d6d6d6"/>
<rect x="181.6" y="77.9" width="0.9" height="1.4" fill="#d6d6d6"/>
<rect x="184.2" y="77.9" width="0.9" height="1.4" fill="#d6d6d6"/>
<rect x="186.8" y="77.9" width="0.9" height="1.4" fill="#d6d6d6"/>
<rect x="189.4" y="77.9" width="0.9" height="1.4" fill="#d6d6d6"/>
<rect x="192" y="77.9" width="0.9" height="1.4" fill="#d6d6d6"/>
<rect x="194.6" y="77.9" width="0.9" height="1.4" fill="#d6d6d6"/>
<rect x="197.2" y="77.9" width="0.9" height="1.4" fill="#d6d6d6"/>
<rect x="123.8" y="77.8" width="3.3" height="1.6" fill="#222"/>
<rect x="135.7" y="77.8" width="1.5" height="1.6" fill="#e0403a"/>
<rect x="151.2" y="77.8" width="2.7" height="1.6" fill="#222"/>
<rect x="157.2" y="77.8" width="2.4" height="1.6" fill="#222"/>
<rect x="167" y="77.8" width="1.4" height="1.6" fill="#333"/>
<rect x="175.6" y="77.8" width="1.4" height="1.6" fill="#e0603a"/>
<rect x="182.2" y="77.8" width="3.3" height="1.6" fill="#333"/>
<rect x="190" y="77.8" width="2" height="1.6" fill="#888"/>
<rect x="195.4" y="77.8" width="2" height="1.6" fill="#aaa"/>
<rect x="113" y="77.8" width="1.5" height="1.6" fill="#aaa"/>
<rect x="118" y="77.8" width="1.5" height="1.6" fill="#bbb"/>
<rect x="130" y="77.8" width="1.5" height="1.6" fill="#999"/>
<rect x="144" y="77.8" width="1.5" height="1.6" fill="#aaa"/>
<rect x="161.5" y="77.8" width="1.5" height="1.6" fill="#aaa"/>
<rect x="126.51" y="74.87" width="1" height="1" fill="#8ec3e4"/>
<rect x="127.58" y="74.35" width="1" height="1" fill="#8ec3e4"/>
<text x="107.9" y="117.8" font-size="7.8" text-anchor="start" font-weight="normal" fill="#231f20">Clone B (15 cells)</text>
<text x="101.2" y="128.15" font-size="7.8" text-anchor="end" font-weight="normal" fill="#231f20">SV</text>
<line x1="104.7" y1="125.4" x2="107.5" y2="125.4" stroke="#4a4a4a" stroke-width="0.6"/>
<line x1="107.5" y1="122.4" x2="107.5" y2="128.4" stroke="#dddddd" stroke-width="0.5"/>
<line x1="107.5" y1="133.8" x2="107.5" y2="186.2" stroke="#4a4a4a" stroke-width="0.6"/>
<line x1="104.7" y1="136.3" x2="107.5" y2="136.3" stroke="#4a4a4a" stroke-width="0.6"/>
<text x="101.2" y="139.05" font-size="7.8" text-anchor="end" font-weight="normal" fill="#231f20">15</text>
<line x1="104.7" y1="146.4" x2="107.5" y2="146.4" stroke="#4a4a4a" stroke-width="0.6"/>
<text x="101.2" y="149.15" font-size="7.8" text-anchor="end" font-weight="normal" fill="#231f20">10</text>
<line x1="104.7" y1="161.5" x2="107.5" y2="161.5" stroke="#4a4a4a" stroke-width="0.6"/>
<text x="101.2" y="164.25" font-size="7.8" text-anchor="end" font-weight="normal" fill="#231f20">5</text>
<line x1="104.7" y1="173.4" x2="107.5" y2="173.4" stroke="#4a4a4a" stroke-width="0.6"/>
<text x="101.2" y="176.15" font-size="7.8" text-anchor="end" font-weight="normal" fill="#231f20">2</text>
<line x1="104.7" y1="182" x2="107.5" y2="182" stroke="#4a4a4a" stroke-width="0.6"/>
<text x="101.2" y="184.75" font-size="7.8" text-anchor="end" font-weight="normal" fill="#231f20">0</text>
<text x="86" y="160.4" font-size="7.8" text-anchor="middle" font-weight="normal" fill="#231f20" transform="rotate(-90 86 160.4)">CN</text>
<line x1="107.5" y1="186.2" x2="199.2" y2="186.2" stroke="#4a4a4a" stroke-width="0.6"/>
<line x1="136.5" y1="186.2" x2="136.5" y2="189" stroke="#4a4a4a" stroke-width="0.6"/>
<text x="136.5" y="198.7" font-size="7.8" text-anchor="middle" font-weight="normal" fill="#231f20">1</text>
<line x1="182.5" y1="186.2" x2="182.5" y2="189" stroke="#4a4a4a" stroke-width="0.6"/>
<text x="182.5" y="198.7" font-size="7.8" text-anchor="middle" font-weight="normal" fill="#231f20">8</text>
<text x="153.5" y="210.8" font-size="7.8" text-anchor="middle" font-weight="normal" fill="#231f20">Chromosome</text>
<rect x="164.6" y="121.8" width="1.6" height="64.4" fill="#e3e3e3"/>
<path d="M108 164.5 108.5 163.7 109 163.8 109.6 163.8 110.1 163.9 110.6 163.6 111.2 163.7 111.7 163.7 112.2 164.6 112.7 164.1 113.2 164.4 113.8 164.6 114.3 163.8 114.3 174.9 113.8 175.5 113.2 174.5 112.7 175.6 112.2 175.5 111.7 174.5 111.2 174.8 110.6 175.5 110.1 175.4 109.6 175.3 109 175.4 108.5 174.8 108 174.4Z" fill="#fbc88c"/>
<path d="M118.5 164 119 163.7 119.5 164.5 120 164.2 120.5 163.9 121 163.8 121.5 164.3 122 163.9 122.5 163.8 123.1 164.4 123.6 163.8 124.1 163.9 124.6 163.6 125.1 163.7 125.6 164.2 126.1 164.5 126.6 164.5 127.1 164.1 127.6 163.9 128.1 164.1 128.6 164.1 129.1 164.4 129.6 164.4 130.1 164.2 130.6 164 131.1 164.1 131.6 164.4 132.2 164.1 132.7 164.2 133.2 163.6 133.7 163.8 134.2 164.4 134.7 163.6 135.2 164.1 135.7 164 136.2 164.1 136.2 174.7 135.7 175.3 135.2 175.1 134.7 175 134.2 175 133.7 175.2 133.2 174.7 132.7 174.9 132.2 175.2 131.6 175.4 131.1 175.8 130.6 175.8 130.1 175.3 129.6 175.2 129.1 175 128.6 175.2 128.1 175.4 127.6 175.8 127.1 175.5 126.6 175.4 126.1 175 125.6 174.9 125.1 175.1 124.6 175.5 124.1 175.2 123.6 174.8 123.1 175.2 122.5 175.1 122 175.5 121.5 175.7 121 175 120.5 174.8 120 175.2 119.5 175.2 119 175 118.5 174.7Z" fill="#fbc88c"/>
<path d="M140.3 164.7 140.8 164.8 141.3 164.4 141.8 164.4 142.3 164.6 142.8 164 143.3 163.8 143.9 164.1 144.4 164 144.9 164.1 145.4 164.3 145.9 164 146.4 164.3 146.9 164 147.4 164.4 147.9 164 148.4 164.2 148.9 164.1 149.4 164.4 150 164.3 150.5 163.8 151 164.6 151.5 163.8 152 164.6 152.5 163.7 153 164.4 153.5 164.5 154 164.6 154.5 164.4 155 163.9 155.5 164.1 156.1 164.1 156.6 163.9 157.1 164.2 157.6 164.1 158.1 163.7 158.6 164.2 159.1 163.9 159.6 164.6 160.1 164.6 160.6 164.8 161.1 163.8 161.6 163.7 162.2 164 162.7 164.7 163.2 164.7 163.7 163.9 164.2 164.3 164.7 163.7 165.2 163.6 165.2 174.6 164.7 175.6 164.2 175.1 163.7 175.8 163.2 175.4 162.7 174.8 162.2 174.9 161.6 175.6 161.1 175.2 160.6 175.7 160.1 175.6 159.6 175.4 159.1 175 158.6 175.4 158.1 174.9 157.6 175.1 157.1 175.2 156.6 175.8 156.1 174.7 155.5 175 155 175.3 154.5 175.6 154 175.1 153.5 175.7 153 175.6 152.5 175.6 152 175.6 151.5 175.5 151 174.9 150.5 174.7 150 175.7 149.4 174.9 148.9 175.8 148.4 175.4 147.9 175 147.4 174.9 146.9 175.5 146.4 175.2 145.9 175.8 145.4 174.9 144.9 174.8 144.4 175 143.9 174.7 143.3 175.8 142.8 175.5 142.3 175 141.8 174.7 141.3 175.5 140.8 175.2 140.3 175.4Z" fill="#fbc88c"/>
<rect x="162.45" y="163.62" width="0.9" height="0.9" fill="#f49a68"/>
<rect x="155.16" y="162.59" width="0.9" height="0.9" fill="#f49a68"/>
<rect x="143.23" y="165.31" width="0.9" height="0.9" fill="#f49a68"/>
<rect x="151.53" y="165.03" width="0.9" height="0.9" fill="#f49a68"/>
<rect x="122.18" y="166.12" width="0.9" height="0.9" fill="#f49a68"/>
<rect x="120.6" y="165.65" width="0.9" height="0.9" fill="#f49a68"/>
<rect x="144.33" y="164.66" width="0.9" height="0.9" fill="#f49a68"/>
<rect x="128.38" y="165.49" width="0.9" height="0.9" fill="#f49a68"/>
<rect x="153.39" y="162.8" width="0.9" height="0.9" fill="#f49a68"/>
<rect x="161.29" y="163.63" width="0.9" height="0.9" fill="#f49a68"/>
<rect x="158.04" y="162.71" width="0.9" height="0.9" fill="#f49a68"/>
<rect x="135.42" y="162.61" width="0.9" height="0.9" fill="#f49a68"/>
<rect x="119.65" y="162.26" width="0.9" height="0.9" fill="#f49a68"/>
<rect x="125.17" y="164.13" width="0.9" height="0.9" fill="#f49a68"/>
<rect x="140.48" y="162.08" width="0.9" height="0.9" fill="#f49a68"/>
<rect x="160.68" y="164.72" width="0.9" height="0.9" fill="#f49a68"/>
<rect x="142.13" y="162.92" width="0.9" height="0.9" fill="#f49a68"/>
<rect x="137.47" y="166.1" width="0.9" height="0.9" fill="#f49a68"/>
<rect x="137.76" y="164.06" width="0.9" height="0.9" fill="#f49a68"/>
<rect x="160.95" y="163.55" width="0.9" height="0.9" fill="#f49a68"/>
<rect x="157.73" y="161.89" width="0.9" height="0.9" fill="#f49a68"/>
<rect x="151" y="162.15" width="0.9" height="0.9" fill="#f49a68"/>
<rect x="130.76" y="161.98" width="0.9" height="0.9" fill="#f49a68"/>
<rect x="159.02" y="166.02" width="0.9" height="0.9" fill="#f49a68"/>
<rect x="154.94" y="164.04" width="0.9" height="0.9" fill="#f49a68"/>
<rect x="123.24" y="164.15" width="0.9" height="0.9" fill="#f49a68"/>
<rect x="159.85" y="165.16" width="0.9" height="0.9" fill="#f49a68"/>
<rect x="118.13" y="166.49" width="0.9" height="0.9" fill="#f49a68"/>
<rect x="162.16" y="164.49" width="0.9" height="0.9" fill="#f49a68"/>
<rect x="119.08" y="165.12" width="0.9" height="0.9" fill="#f49a68"/>
<rect x="147.09" y="161.57" width="0.9" height="0.9" fill="#f49a68"/>
<rect x="138.7" y="161.64" width="0.9" height="0.9" fill="#f49a68"/>
<rect x="120.93" y="164.94" width="0.9" height="0.9" fill="#f49a68"/>
<rect x="153.64" y="163.18" width="0.9" height="0.9" fill="#f49a68"/>
<rect x="125.32" y="162.92" width="0.9" height="0.9" fill="#f49a68"/>
<rect x="128.66" y="164.33" width="0.9" height="0.9" fill="#f49a68"/>
<rect x="130.76" y="166.11" width="0.9" height="0.9" fill="#f49a68"/>
<rect x="118.77" y="162.7" width="0.9" height="0.9" fill="#f49a68"/>
<rect x="147.08" y="163.79" width="0.9" height="0.9" fill="#f49a68"/>
<rect x="121.91" y="163.49" width="0.9" height="0.9" fill="#f49a68"/>
<rect x="131.16" y="174.39" width="0.8" height="0.8" fill="#cccccc"/>
<rect x="129.24" y="173.84" width="0.8" height="0.8" fill="#cccccc"/>
<rect x="149.48" y="173.06" width="0.8" height="0.8" fill="#cccccc"/>
<rect x="120.21" y="173.47" width="0.8" height="0.8" fill="#cccccc"/>
<rect x="123.13" y="172.44" width="0.8" height="0.8" fill="#cccccc"/>
<rect x="161.1" y="172.21" width="0.8" height="0.8" fill="#cccccc"/>
<rect x="162.63" y="172.16" width="0.8" height="0.8" fill="#cccccc"/>
<rect x="119.57" y="171.71" width="0.8" height="0.8" fill="#cccccc"/>
<rect x="157.12" y="174.74" width="0.8" height="0.8" fill="#cccccc"/>
<rect x="130.76" y="172.81" width="0.8" height="0.8" fill="#cccccc"/>
<rect x="133.96" y="173.82" width="0.8" height="0.8" fill="#cccccc"/>
<rect x="132.23" y="173.24" width="0.8" height="0.8" fill="#cccccc"/>
<rect x="148.43" y="172.56" width="0.8" height="0.8" fill="#cccccc"/>
<rect x="124.35" y="173.89" width="0.8" height="0.8" fill="#cccccc"/>
<rect x="148.4" y="171.61" width="0.8" height="0.8" fill="#cccccc"/>
<rect x="138.23" y="174.56" width="0.8" height="0.8" fill="#cccccc"/>
<rect x="145.7" y="173.96" width="0.8" height="0.8" fill="#cccccc"/>
<rect x="163.49" y="172.31" width="0.8" height="0.8" fill="#cccccc"/>
<rect x="136.48" y="172.12" width="0.8" height="0.8" fill="#cccccc"/>
<rect x="159.87" y="173.65" width="0.8" height="0.8" fill="#cccccc"/>
<path d="M165.6 159.8 166.1 160.5 166.6 160.6 167.1 160.1 167.6 160.7 168.1 160.2 168.6 160.9 169.1 160.9 169.6 159.9 170.1 160.4 170.6 160.2 171.1 159.8 171.6 160.5 172.1 160.1 172.6 160 173.1 159.8 173.6 160.3 174.1 160.5 174.6 159.8 175.1 160.2 175.6 160.2 176.1 160.8 176.6 160.6 177.1 160.9 177.6 160.5 178.1 161 178.6 159.8 179.1 160.5 179.6 160.6 180.1 159.7 180.6 160.3 181.1 159.9 181.6 160.6 182.1 160.4 182.7 160.4 183.2 160.1 183.7 160.6 184.2 160.7 184.7 159.8 185.2 160.2 185.7 159.7 186.2 160.8 186.7 161 187.2 160 187.7 160.4 188.2 159.9 188.7 160.2 189.2 160.1 189.7 160.8 190.2 160.3 190.7 160.6 191.2 160.9 191.7 159.8 192.2 160 192.7 160.4 193.2 160.9 193.7 160.8 194.2 160 194.7 160.1 195.2 160.2 195.7 160.2 196.2 160.6 196.7 160.8 197.2 159.9 197.7 160.2 198.2 160.8 198.7 161 199.2 160.8 199.2 173.2 198.7 173.8 198.2 172.9 197.7 173.3 197.2 173.1 196.7 173.7 196.2 173.3 195.7 173.6 195.2 173.4 194.7 173.5 194.2 173.1 193.7 173.9 193.2 173.2 192.7 174 192.2 173.8 191.7 173.2 191.2 174 190.7 173.7 190.2 174.1 189.7 172.9 189.2 173.6 188.7 173.1 188.2 173.9 187.7 174.1 187.2 173.1 186.7 174.2 186.2 173.7 185.7 173.6 185.2 173.2 184.7 173.4 184.2 173.1 183.7 173.1 183.2 173.3 182.7 173 182.1 172.9 181.6 173.2 181.1 173.8 180.6 173.4 180.1 173.7 179.6 173.1 179.1 173.7 178.6 173.4 178.1 173.8 177.6 174.1 177.1 174.2 176.6 173.6 176.1 173.3 175.6 173.7 175.1 173 174.6 173.4 174.1 173.2 173.6 173.3 173.1 172.9 172.6 173.7 172.1 173.1 171.6 172.9 171.1 173.7 170.6 174.2 170.1 173.7 169.6 173.3 169.1 173.7 168.6 173.5 168.1 173.7 167.6 173.8 167.1 173.9 166.6 173.5 166.1 173.8 165.6 173.7Z" fill="#f49a66"/>
<path d="M165.6 168.1 166.1 168.1 166.6 168.4 167.1 168 167.6 168.3 168.1 168 168.6 168.6 169.1 168.2 169.6 168.6 170.1 168.5 170.6 168.4 171.1 168.3 171.6 168.2 172.1 167.7 172.6 168.5 173.1 168.5 173.6 167.9 174.1 168.1 174.6 167.9 175.1 168 175.6 167.9 176.1 168.3 176.6 167.7 177.1 167.7 177.6 168 178.1 168.4 178.6 168 179.1 168.4 179.6 167.8 180.1 168.5 180.6 168.6 181.1 168.4 181.6 168.1 182.1 168.2 182.7 167.8 183.2 168.6 183.7 167.9 184.2 167.7 184.7 167.8 185.2 167.7 185.7 168 186.2 168.4 186.7 168.5 187.2 167.7 187.7 168.2 188.2 168.4 188.7 168.4 189.2 168.1 189.7 168.1 190.2 168.2 190.7 167.8 191.2 168.1 191.7 168.3 192.2 168.3 192.7 167.9 193.2 168 193.7 168.5 194.2 168.1 194.7 167.7 195.2 167.7 195.7 167.9 196.2 167.7 196.7 168.3 197.2 168 197.7 168.4 198.2 167.7 198.7 167.7 199.2 167.7 199.2 173.5 198.7 174.2 198.2 173.8 197.7 174.1 197.2 173.5 196.7 173.9 196.2 173.5 195.7 174.3 195.2 174.3 194.7 174.1 194.2 173.5 193.7 174.1 193.2 173.6 192.7 174.3 192.2 173.5 191.7 173.5 191.2 174.1 190.7 174.2 190.2 173.8 189.7 173.8 189.2 173.8 188.7 173.8 188.2 173.8 187.7 173.7 187.2 174.1 186.7 173.8 186.2 173.8 185.7 174.2 185.2 174.3 184.7 173.5 184.2 174.3 183.7 174.2 183.2 173.9 182.7 174.3 182.1 173.4 181.6 173.8 181.1 174.2 180.6 173.8 180.1 173.9 179.6 173.5 179.1 173.5 178.6 173.8 178.1 173.6 177.6 173.7 177.1 174.1 176.6 173.7 176.1 174.2 175.6 173.7 175.1 174.2 174.6 174.2 174.1 174.1 173.6 174.3 173.1 174.1 172.6 174.1 172.1 173.8 171.6 173.6 171.1 173.6 170.6 173.9 170.1 173.9 169.6 174.2 169.1 173.4 168.6 173.7 168.1 173.9 167.6 174.1 167.1 174.3 166.6 174 166.1 173.8 165.6 173.5Z" fill="#f7b27e"/>
<rect x="178.23" y="160.2" width="0.9" height="0.9" fill="#ee7a48"/>
<rect x="192.36" y="160.88" width="0.9" height="0.9" fill="#ee7a48"/>
<rect x="169.52" y="160.26" width="0.9" height="0.9" fill="#ee7a48"/>
<rect x="166.39" y="158.79" width="0.9" height="0.9" fill="#ee7a48"/>
<rect x="167.27" y="159.59" width="0.9" height="0.9" fill="#ee7a48"/>
<rect x="169.71" y="160.19" width="0.9" height="0.9" fill="#ee7a48"/>
<rect x="179.01" y="160.79" width="0.9" height="0.9" fill="#ee7a48"/>
<rect x="176.24" y="161.51" width="0.9" height="0.9" fill="#ee7a48"/>
<rect x="169.47" y="157.88" width="0.9" height="0.9" fill="#ee7a48"/>
<rect x="182.05" y="159.56" width="0.9" height="0.9" fill="#ee7a48"/>
<rect x="193.43" y="157.66" width="0.9" height="0.9" fill="#ee7a48"/>
<rect x="171.51" y="158.53" width="0.9" height="0.9" fill="#ee7a48"/>
<rect x="179.87" y="160.83" width="0.9" height="0.9" fill="#ee7a48"/>
<rect x="187.45" y="158.5" width="0.9" height="0.9" fill="#ee7a48"/>
<rect x="178.35" y="160.62" width="0.9" height="0.9" fill="#ee7a48"/>
<rect x="183.9" y="157.98" width="0.9" height="0.9" fill="#ee7a48"/>
<rect x="177.44" y="157.65" width="0.9" height="0.9" fill="#ee7a48"/>
<rect x="180.59" y="158.48" width="0.9" height="0.9" fill="#ee7a48"/>
<rect x="175.49" y="158.91" width="0.9" height="0.9" fill="#ee7a48"/>
<rect x="194.09" y="157.88" width="0.9" height="0.9" fill="#ee7a48"/>
<rect x="168.5" y="158.08" width="0.9" height="0.9" fill="#ee7a48"/>
<rect x="179.68" y="159.29" width="0.9" height="0.9" fill="#ee7a48"/>
<ellipse cx="113" cy="177.2" rx="1.9" ry="3.1" fill="#a6cfe6"/>
<path d="M115.8 143.7h0.7v7.5h-0.7zM116.4 141.6h0.7v9h-0.7zM117.1 141.4h0.7v9.9h-0.7zM117.7 140h0.7v11.2h-0.7zM118.3 139.6h0.7v11.9h-0.7z" fill="#dab0da"/>
<path d="M114.6 152.1h0.7v7.1h-0.7zM115.2 151.3h0.7v8h-0.7zM115.9 150.2h0.7v8.9h-0.7zM116.5 150.5h0.7v8.4h-0.7zM117.1 149.4h0.7v9.3h-0.7zM117.7 148.1h0.7v10.6h-0.7zM118.4 147.7h0.7v10.9h-0.7zM119 147h0.7v11.1h-0.7z" fill="#960f50"/>
<path d="M113.8 157.6h0.7v8h-0.7zM114.4 157.7h0.7v7.7h-0.7zM115.1 157.5h0.7v7.8h-0.7zM115.7 155.9h0.7v8.5h-0.7zM116.3 156h0.7v8.6h-0.7zM116.9 155.3h0.7v8.4h-0.7zM117.6 155h0.7v8.4h-0.7zM118.2 153.8h0.7v9.7h-0.7z" fill="#a50f1e"/>
<path d="M112.8 162.1h0.7v6.1h-0.7zM113.4 161.1h0.7v6.8h-0.7zM114.1 160.6h0.7v7.7h-0.7zM114.7 160.6h0.7v7.5h-0.7zM115.3 159.5h0.7v8.5h-0.7zM115.9 159.5h0.7v8.6h-0.7z" fill="#e0502a"/>
<rect x="110.85" y="122" width="0.9" height="6.8" fill="#999"/>
<rect x="113.85" y="122" width="0.9" height="6.8" fill="#e0b050"/>
<rect x="116.55" y="122" width="0.9" height="6.8" fill="#e0203a"/>
<rect x="117.85" y="122" width="0.9" height="6.8" fill="#d9772a"/>
<rect x="108.8" y="182.1" width="0.9" height="1.4" fill="#d6d6d6"/>
<rect x="111.4" y="182.1" width="0.9" height="1.4" fill="#d6d6d6"/>
<rect x="114" y="182.1" width="0.9" height="1.4" fill="#d6d6d6"/>
<rect x="116.6" y="182.1" width="0.9" height="1.4" fill="#d6d6d6"/>
<rect x="119.2" y="182.1" width="0.9" height="1.4" fill="#d6d6d6"/>
<rect x="121.8" y="182.1" width="0.9" height="1.4" fill="#d6d6d6"/>
<rect x="124.4" y="182.1" width="0.9" height="1.4" fill="#d6d6d6"/>
<rect x="127" y="182.1" width="0.9" height="1.4" fill="#d6d6d6"/>
<rect x="129.6" y="182.1" width="0.9" height="1.4" fill="#d6d6d6"/>
<rect x="132.2" y="182.1" width="0.9" height="1.4" fill="#d6d6d6"/>
<rect x="134.8" y="182.1" width="0.9" height="1.4" fill="#d6d6d6"/>
<rect x="137.4" y="182.1" width="0.9" height="1.4" fill="#d6d6d6"/>
<rect x="140" y="182.1" width="0.9" height="1.4" fill="#d6d6d6"/>
<rect x="142.6" y="182.1" width="0.9" height="1.4" fill="#d6d6d6"/>
<rect x="145.2" y="182.1" width="0.9" height="1.4" fill="#d6d6d6"/>
<rect x="147.8" y="182.1" width="0.9" height="1.4" fill="#d6d6d6"/>
<rect x="150.4" y="182.1" width="0.9" height="1.4" fill="#d6d6d6"/>
<rect x="153" y="182.1" width="0.9" height="1.4" fill="#d6d6d6"/>
<rect x="155.6" y="182.1" width="0.9" height="1.4" fill="#d6d6d6"/>
<rect x="158.2" y="182.1" width="0.9" height="1.4" fill="#d6d6d6"/>
<rect x="160.8" y="182.1" width="0.9" height="1.4" fill="#d6d6d6"/>
<rect x="163.4" y="182.1" width="0.9" height="1.4" fill="#d6d6d6"/>
<rect x="166" y="182.1" width="0.9" height="1.4" fill="#d6d6d6"/>
<rect x="168.6" y="182.1" width="0.9" height="1.4" fill="#d6d6d6"/>
<rect x="171.2" y="182.1" width="0.9" height="1.4" fill="#d6d6d6"/>
<rect x="173.8" y="182.1" width="0.9" height="1.4" fill="#d6d6d6"/>
<rect x="176.4" y="182.1" width="0.9" height="1.4" fill="#d6d6d6"/>
<rect x="179" y="182.1" width="0.9" height="1.4" fill="#d6d6d6"/>
<rect x="181.6" y="182.1" width="0.9" height="1.4" fill="#d6d6d6"/>
<rect x="184.2" y="182.1" width="0.9" height="1.4" fill="#d6d6d6"/>
<rect x="186.8" y="182.1" width="0.9" height="1.4" fill="#d6d6d6"/>
<rect x="189.4" y="182.1" width="0.9" height="1.4" fill="#d6d6d6"/>
<rect x="192" y="182.1" width="0.9" height="1.4" fill="#d6d6d6"/>
<rect x="194.6" y="182.1" width="0.9" height="1.4" fill="#d6d6d6"/>
<rect x="197.2" y="182.1" width="0.9" height="1.4" fill="#d6d6d6"/>
<rect x="123.8" y="182" width="3.3" height="1.6" fill="#222"/>
<rect x="135.7" y="182" width="1.5" height="1.6" fill="#e0403a"/>
<rect x="151.2" y="182" width="2.7" height="1.6" fill="#222"/>
<rect x="157.2" y="182" width="2.4" height="1.6" fill="#222"/>
<rect x="167" y="182" width="1.4" height="1.6" fill="#333"/>
<rect x="175.6" y="182" width="1.4" height="1.6" fill="#e0603a"/>
<rect x="182.2" y="182" width="3.3" height="1.6" fill="#333"/>
<rect x="190" y="182" width="2" height="1.6" fill="#888"/>
<rect x="195.4" y="182" width="2" height="1.6" fill="#aaa"/>
<rect x="113" y="182" width="1.5" height="1.6" fill="#aaa"/>
<rect x="118" y="182" width="1.5" height="1.6" fill="#bbb"/>
<rect x="130" y="182" width="1.5" height="1.6" fill="#999"/>
<rect x="144" y="182" width="1.5" height="1.6" fill="#aaa"/>
<rect x="161.5" y="182" width="1.5" height="1.6" fill="#aaa"/>
<line x1="245.6" y1="12.6" x2="245.6" y2="47.4" stroke="#4a4a4a" stroke-width="0.6"/>
<line x1="242.8" y1="13.7" x2="245.6" y2="13.7" stroke="#4a4a4a" stroke-width="0.6"/>
<text x="239.3" y="16.45" font-size="7.8" text-anchor="end" font-weight="normal" fill="#231f20">1.00</text>
<line x1="242.8" y1="22" x2="245.6" y2="22" stroke="#4a4a4a" stroke-width="0.6"/>
<text x="239.3" y="24.75" font-size="7.8" text-anchor="end" font-weight="normal" fill="#231f20">0.75</text>
<line x1="242.8" y1="30.4" x2="245.6" y2="30.4" stroke="#4a4a4a" stroke-width="0.6"/>
<text x="239.3" y="33.15" font-size="7.8" text-anchor="end" font-weight="normal" fill="#231f20">0.50</text>
<line x1="242.8" y1="38.7" x2="245.6" y2="38.7" stroke="#4a4a4a" stroke-width="0.6"/>
<text x="239.3" y="41.45" font-size="7.8" text-anchor="end" font-weight="normal" fill="#231f20">0.25</text>
<line x1="242.8" y1="46.4" x2="245.6" y2="46.4" stroke="#4a4a4a" stroke-width="0.6"/>
<text x="239.3" y="49.15" font-size="7.8" text-anchor="end" font-weight="normal" fill="#231f20">0</text>
<rect x="248" y="13.9" width="5.2" height="33.3" fill="#c1380f"/>
<rect x="256.5" y="44.6" width="5.1" height="2.6" fill="#eba21f"/>
<text x="217.8" y="30.6" font-size="7.8" text-anchor="middle" font-weight="normal" fill="#231f20" transform="rotate(-90 217.8 30.6)">scWGS CCF</text>
<line x1="245.6" y1="54.5" x2="245.6" y2="88.6" stroke="#4a4a4a" stroke-width="0.6"/>
<line x1="242.8" y1="57.6" x2="245.6" y2="57.6" stroke="#4a4a4a" stroke-width="0.6"/>
<text x="239.3" y="60.35" font-size="7.8" text-anchor="end" font-weight="normal" fill="#231f20">30</text>
<line x1="242.8" y1="67.5" x2="245.6" y2="67.5" stroke="#4a4a4a" stroke-width="0.6"/>
<text x="239.3" y="70.25" font-size="7.8" text-anchor="end" font-weight="normal" fill="#231f20">20</text>
<line x1="242.8" y1="77.4" x2="245.6" y2="77.4" stroke="#4a4a4a" stroke-width="0.6"/>
<text x="239.3" y="80.15" font-size="7.8" text-anchor="end" font-weight="normal" fill="#231f20">10</text>
<line x1="242.8" y1="87.5" x2="245.6" y2="87.5" stroke="#4a4a4a" stroke-width="0.6"/>
<text x="239.3" y="90.25" font-size="7.8" text-anchor="end" font-weight="normal" fill="#231f20">0</text>
<rect x="248" y="55" width="5.2" height="33.3" fill="#c1380f"/>
<rect x="256.5" y="75.8" width="5.1" height="12.5" fill="#eba21f"/>
<text x="216.6" y="71.2" font-size="7.8" text-anchor="middle" font-weight="normal" fill="#231f20" transform="rotate(-90 216.6 71.2)">No. of</text>
<text x="224.6" y="71.2" font-size="7.8" text-anchor="middle" font-weight="normal" fill="#231f20" transform="rotate(-90 224.6 71.2)">SVs</text>
<line x1="245.6" y1="95" x2="245.6" y2="164.4" stroke="#4a4a4a" stroke-width="0.6"/>
<line x1="242.8" y1="102.2" x2="245.6" y2="102.2" stroke="#4a4a4a" stroke-width="0.6"/>
<text x="239.3" y="106.15" font-size="7.8" text-anchor="end" fill="#231f20">10<tspan font-size="5.62" dy="-3">−2</tspan></text>
<line x1="242.8" y1="131.7" x2="245.6" y2="131.7" stroke="#4a4a4a" stroke-width="0.6"/>
<text x="239.3" y="135.65" font-size="7.8" text-anchor="end" fill="#231f20">10<tspan font-size="5.62" dy="-3">−3</tspan></text>
<line x1="242.8" y1="161.2" x2="245.6" y2="161.2" stroke="#4a4a4a" stroke-width="0.6"/>
<text x="239.3" y="163.95" font-size="7.8" text-anchor="end" font-weight="normal" fill="#231f20">0</text>
<line x1="245.6" y1="164.4" x2="264.3" y2="164.4" stroke="#4a4a4a" stroke-width="0.6"/>
<line x1="250.6" y1="164.4" x2="250.6" y2="167.2" stroke="#4a4a4a" stroke-width="0.6"/>
<text x="250.6" y="176.8" font-size="7.8" text-anchor="middle" font-weight="normal" fill="#231f20">A</text>
<line x1="258.8" y1="164.4" x2="258.8" y2="167.2" stroke="#4a4a4a" stroke-width="0.6"/>
<text x="258.8" y="176.8" font-size="7.8" text-anchor="middle" font-weight="normal" fill="#231f20">B</text>
<text x="254.5" y="188.7" font-size="7.8" text-anchor="middle" font-weight="normal" fill="#231f20">Clone</text>
<text x="218.4" y="127.5" font-size="7.8" text-anchor="middle" font-weight="normal" fill="#231f20" transform="rotate(-90 218.4 127.5)">cfDNA VAF</text>
<path d="M250.1 97.8 L249.98 97.97 L249.8 98.21 L249.6 98.55 L249.4 99 L249.21 99.55 L249.01 100.2 L248.8 101 L248.6 102 L248.39 103.2 L248.17 104.56 L247.97 106.15 L247.8 108 L247.66 110.17 L247.55 112.62 L247.46 115.27 L247.4 118 L247.36 120.91 L247.34 124 L247.35 127.09 L247.4 130 L247.49 132.69 L247.62 135.25 L247.79 137.69 L248 140 L248.28 142.19 L248.61 144.25 L248.94 146.19 L249.2 148 L249.38 149.69 L249.51 151.25 L249.59 152.69 L249.6 154 L249.52 155.18 L249.36 156.22 L249.17 157.15 L249 158 L248.83 158.76 L248.64 159.42 L248.48 159.99 L248.4 160.5 L248.41 160.93 L248.49 161.28 L248.62 161.56 L248.8 161.8 L249.07 161.99 L249.42 162.13 L249.77 162.23 L250 162.3 L251.2 162.3 L251.43 162.23 L251.78 162.13 L252.13 161.99 L252.4 161.8 L252.58 161.56 L252.71 161.28 L252.79 160.93 L252.8 160.5 L252.72 159.99 L252.56 159.42 L252.37 158.76 L252.2 158 L252.03 157.15 L251.84 156.22 L251.68 155.18 L251.6 154 L251.61 152.69 L251.69 151.25 L251.82 149.69 L252 148 L252.26 146.19 L252.59 144.25 L252.92 142.19 L253.2 140 L253.41 137.69 L253.57 135.25 L253.71 132.69 L253.8 130 L253.85 127.09 L253.86 124 L253.84 120.91 L253.8 118 L253.74 115.27 L253.65 112.62 L253.54 110.17 L253.4 108 L253.23 106.15 L253.03 104.56 L252.81 103.2 L252.6 102 L252.4 101 L252.19 100.2 L251.99 99.55 L251.8 99 L251.6 98.55 L251.4 98.21 L251.22 97.97 L251.1 97.8Z" fill="#e48a6c" stroke="#c8441c" stroke-width="0.65"/>
<circle cx="249" cy="115.27" r="0.6" fill="#b82a0a" fill-opacity="0.85"/>
<circle cx="250.13" cy="159.42" r="0.6" fill="#b82a0a" fill-opacity="0.85"/>
<circle cx="251.29" cy="154" r="0.6" fill="#b82a0a" fill-opacity="0.85"/>
<circle cx="249.9" cy="118" r="0.6" fill="#b82a0a" fill-opacity="0.85"/>
<circle cx="249.99" cy="98.55" r="0.6" fill="#b82a0a" fill-opacity="0.85"/>
<circle cx="251.32" cy="156.22" r="0.6" fill="#b82a0a" fill-opacity="0.85"/>
<circle cx="250.95" cy="160.5" r="0.6" fill="#b82a0a" fill-opacity="0.85"/>
<circle cx="251.28" cy="102" r="0.6" fill="#b82a0a" fill-opacity="0.85"/>
<circle cx="249.99" cy="104.56" r="0.6" fill="#b82a0a" fill-opacity="0.85"/>
<circle cx="250.73" cy="98.21" r="0.6" fill="#b82a0a" fill-opacity="0.85"/>
<circle cx="249.86" cy="104.56" r="0.6" fill="#b82a0a" fill-opacity="0.85"/>
<circle cx="252.58" cy="130" r="0.6" fill="#b82a0a" fill-opacity="0.85"/>
<circle cx="250.75" cy="161.8" r="0.6" fill="#b82a0a" fill-opacity="0.85"/>
<circle cx="250.28" cy="99" r="0.6" fill="#b82a0a" fill-opacity="0.85"/>
<circle cx="250.92" cy="99" r="0.6" fill="#b82a0a" fill-opacity="0.85"/>
<circle cx="250.95" cy="162.13" r="0.6" fill="#b82a0a" fill-opacity="0.85"/>
<circle cx="252.37" cy="137.69" r="0.6" fill="#b82a0a" fill-opacity="0.85"/>
<circle cx="249.14" cy="140" r="0.6" fill="#b82a0a" fill-opacity="0.85"/>
<circle cx="250.76" cy="162.13" r="0.6" fill="#b82a0a" fill-opacity="0.85"/>
<circle cx="250.84" cy="140" r="0.6" fill="#b82a0a" fill-opacity="0.85"/>
<circle cx="251.17" cy="159.99" r="0.6" fill="#b82a0a" fill-opacity="0.85"/>
<circle cx="251.26" cy="146.19" r="0.6" fill="#b82a0a" fill-opacity="0.85"/>
<circle cx="250.9" cy="144.25" r="0.6" fill="#b82a0a" fill-opacity="0.85"/>
<circle cx="249.96" cy="137.69" r="0.6" fill="#b82a0a" fill-opacity="0.85"/>
<circle cx="249.79" cy="157.15" r="0.6" fill="#b82a0a" fill-opacity="0.85"/>
<circle cx="249.77" cy="161.8" r="0.6" fill="#b82a0a" fill-opacity="0.85"/>
<circle cx="249.93" cy="161.99" r="0.6" fill="#b82a0a" fill-opacity="0.85"/>
<circle cx="252.32" cy="120.91" r="0.6" fill="#b82a0a" fill-opacity="0.85"/>
<circle cx="250.87" cy="98.55" r="0.6" fill="#b82a0a" fill-opacity="0.85"/>
<circle cx="251.21" cy="158.76" r="0.6" fill="#b82a0a" fill-opacity="0.85"/>
<circle cx="251.02" cy="146.19" r="0.6" fill="#b82a0a" fill-opacity="0.85"/>
<circle cx="250.57" cy="159.99" r="0.6" fill="#b82a0a" fill-opacity="0.85"/>
<circle cx="251.25" cy="130" r="0.6" fill="#b82a0a" fill-opacity="0.85"/>
<circle cx="248.66" cy="137.69" r="0.6" fill="#b82a0a" fill-opacity="0.85"/>
<circle cx="249.53" cy="135.25" r="0.6" fill="#b82a0a" fill-opacity="0.85"/>
<circle cx="251.05" cy="100.2" r="0.6" fill="#b82a0a" fill-opacity="0.85"/>
<circle cx="250.51" cy="162.3" r="0.6" fill="#b82a0a" fill-opacity="0.85"/>
<circle cx="249.29" cy="161.56" r="0.6" fill="#b82a0a" fill-opacity="0.85"/>
<circle cx="250.25" cy="155.18" r="0.6" fill="#b82a0a" fill-opacity="0.85"/>
<circle cx="250.99" cy="98.21" r="0.6" fill="#b82a0a" fill-opacity="0.85"/>
<circle cx="250.68" cy="155.18" r="0.6" fill="#b82a0a" fill-opacity="0.85"/>
<circle cx="250.72" cy="161.99" r="0.6" fill="#b82a0a" fill-opacity="0.85"/>
<circle cx="250.4" cy="99.55" r="0.6" fill="#b82a0a" fill-opacity="0.85"/>
<circle cx="251.08" cy="148" r="0.6" fill="#b82a0a" fill-opacity="0.85"/>
<circle cx="249.64" cy="159.42" r="0.6" fill="#b82a0a" fill-opacity="0.85"/>
<circle cx="250.23" cy="144.25" r="0.6" fill="#b82a0a" fill-opacity="0.85"/>
<circle cx="251.2" cy="154" r="0.6" fill="#b82a0a" fill-opacity="0.85"/>
<circle cx="251.78" cy="118" r="0.6" fill="#b82a0a" fill-opacity="0.85"/>
<circle cx="249.61" cy="161.8" r="0.6" fill="#b82a0a" fill-opacity="0.85"/>
<circle cx="251.15" cy="149.69" r="0.6" fill="#b82a0a" fill-opacity="0.85"/>
<circle cx="250.48" cy="156.22" r="0.6" fill="#b82a0a" fill-opacity="0.85"/>
<circle cx="251.79" cy="108" r="0.6" fill="#b82a0a" fill-opacity="0.85"/>
<circle cx="251.38" cy="127.09" r="0.6" fill="#b82a0a" fill-opacity="0.85"/>
<circle cx="250.95" cy="161.56" r="0.6" fill="#b82a0a" fill-opacity="0.85"/>
<circle cx="250.03" cy="161.28" r="0.6" fill="#b82a0a" fill-opacity="0.85"/>
<circle cx="250.65" cy="132.69" r="0.6" fill="#b82a0a" fill-opacity="0.85"/>
<circle cx="250.23" cy="155.18" r="0.6" fill="#b82a0a" fill-opacity="0.85"/>
<circle cx="251.91" cy="130" r="0.6" fill="#b82a0a" fill-opacity="0.85"/>
<circle cx="250.93" cy="161.28" r="0.6" fill="#b82a0a" fill-opacity="0.85"/>
<circle cx="250.26" cy="162.13" r="0.6" fill="#b82a0a" fill-opacity="0.85"/>
<circle cx="250.58" cy="120.91" r="0.6" fill="#b82a0a" fill-opacity="0.85"/>
<circle cx="249.89" cy="156.22" r="0.6" fill="#b82a0a" fill-opacity="0.85"/>
<circle cx="249.72" cy="158.76" r="0.6" fill="#b82a0a" fill-opacity="0.85"/>
<circle cx="251.81" cy="110.17" r="0.6" fill="#b82a0a" fill-opacity="0.85"/>
<circle cx="252.44" cy="118" r="0.6" fill="#b82a0a" fill-opacity="0.85"/>
<circle cx="249.71" cy="103.2" r="0.6" fill="#b82a0a" fill-opacity="0.85"/>
<circle cx="250.63" cy="160.93" r="0.6" fill="#b82a0a" fill-opacity="0.85"/>
<circle cx="250.15" cy="101" r="0.6" fill="#b82a0a" fill-opacity="0.85"/>
<circle cx="249.54" cy="137.69" r="0.6" fill="#b82a0a" fill-opacity="0.85"/>
<circle cx="251.92" cy="160.93" r="0.6" fill="#b82a0a" fill-opacity="0.85"/>
<circle cx="251.15" cy="162.13" r="0.6" fill="#b82a0a" fill-opacity="0.85"/>
<circle cx="251.67" cy="161.28" r="0.6" fill="#b82a0a" fill-opacity="0.85"/>
<circle cx="249.88" cy="161.56" r="0.6" fill="#b82a0a" fill-opacity="0.85"/>
<circle cx="251.61" cy="159.42" r="0.6" fill="#b82a0a" fill-opacity="0.85"/>
<circle cx="250.59" cy="102" r="0.6" fill="#b82a0a" fill-opacity="0.85"/>
<circle cx="251.25" cy="152.69" r="0.6" fill="#b82a0a" fill-opacity="0.85"/>
<circle cx="251.63" cy="108" r="0.6" fill="#b82a0a" fill-opacity="0.85"/>
<circle cx="250.89" cy="101" r="0.6" fill="#b82a0a" fill-opacity="0.85"/>
<circle cx="250.54" cy="156.22" r="0.6" fill="#b82a0a" fill-opacity="0.85"/>
<circle cx="250.88" cy="152.69" r="0.6" fill="#b82a0a" fill-opacity="0.85"/>
<circle cx="250.34" cy="103.2" r="0.6" fill="#b82a0a" fill-opacity="0.85"/>
<circle cx="249.84" cy="158.76" r="0.6" fill="#b82a0a" fill-opacity="0.85"/>
<circle cx="251.35" cy="140" r="0.6" fill="#b82a0a" fill-opacity="0.85"/>
<circle cx="251.61" cy="100.2" r="0.6" fill="#b82a0a" fill-opacity="0.85"/>
<circle cx="250.56" cy="158" r="0.6" fill="#b82a0a" fill-opacity="0.85"/>
<circle cx="248.41" cy="120.91" r="0.6" fill="#b82a0a" fill-opacity="0.85"/>
<circle cx="250.02" cy="161.99" r="0.6" fill="#b82a0a" fill-opacity="0.85"/>
<circle cx="249.08" cy="127.09" r="0.6" fill="#b82a0a" fill-opacity="0.85"/>
<circle cx="249.66" cy="103.2" r="0.6" fill="#b82a0a" fill-opacity="0.85"/>
<circle cx="250.68" cy="162.13" r="0.6" fill="#b82a0a" fill-opacity="0.85"/>
<line x1="248.4" y1="129.5" x2="252.8" y2="129.5" stroke="#111" stroke-width="0.8"/>
<path d="M258.3 105.3 L257.8 105.35 L257.07 105.41 L256.33 105.54 L255.8 105.8 L255.55 106.21 L255.45 106.74 L255.45 107.35 L255.5 108 L255.61 108.72 L255.81 109.51 L256.02 110.3 L256.2 111 L256.34 111.5 L256.48 111.88 L256.58 112.31 L256.6 113 L256.52 113.97 L256.37 115.12 L256.18 116.47 L256 118 L255.81 119.77 L255.59 121.75 L255.41 123.86 L255.3 126 L255.28 128.16 L255.32 130.38 L255.42 132.66 L255.6 135 L255.89 137.5 L256.28 140.12 L256.68 142.69 L257 145 L257.23 147.01 L257.4 148.81 L257.53 150.46 L257.6 152 L257.62 153.44 L257.59 154.75 L257.51 155.94 L257.4 157 L257.22 157.92 L256.98 158.7 L256.74 159.38 L256.6 160 L256.55 160.56 L256.56 161.06 L256.64 161.47 L256.8 161.8 L257.1 162.03 L257.51 162.16 L257.92 162.24 L258.2 162.3 L259.4 162.3 L259.68 162.24 L260.09 162.16 L260.5 162.03 L260.8 161.8 L260.96 161.47 L261.04 161.06 L261.05 160.56 L261 160 L260.86 159.38 L260.62 158.7 L260.38 157.92 L260.2 157 L260.09 155.94 L260.01 154.75 L259.98 153.44 L260 152 L260.07 150.46 L260.2 148.81 L260.38 147.01 L260.6 145 L260.92 142.69 L261.32 140.12 L261.71 137.5 L262 135 L262.18 132.66 L262.28 130.38 L262.32 128.16 L262.3 126 L262.19 123.86 L262.01 121.75 L261.79 119.77 L261.6 118 L261.42 116.47 L261.23 115.12 L261.08 113.97 L261 113 L261.02 112.31 L261.12 111.88 L261.26 111.5 L261.4 111 L261.58 110.3 L261.79 109.51 L261.99 108.72 L262.1 108 L262.15 107.35 L262.15 106.74 L262.05 106.21 L261.8 105.8 L261.27 105.54 L260.53 105.41 L259.8 105.35 L259.3 105.3Z" fill="#f8d68e" stroke="#eaa624" stroke-width="0.65"/>
<circle cx="259.14" cy="105.35" r="0.6" fill="#e59a10" fill-opacity="0.85"/>
<circle cx="258.9" cy="162.03" r="0.6" fill="#e59a10" fill-opacity="0.85"/>
<circle cx="259.13" cy="107.35" r="0.6" fill="#e59a10" fill-opacity="0.85"/>
<circle cx="258.73" cy="121.75" r="0.6" fill="#e59a10" fill-opacity="0.85"/>
<circle cx="257.87" cy="140.12" r="0.6" fill="#e59a10" fill-opacity="0.85"/>
<circle cx="258.25" cy="130.38" r="0.6" fill="#e59a10" fill-opacity="0.85"/>
<circle cx="258.79" cy="115.12" r="0.6" fill="#e59a10" fill-opacity="0.85"/>
<circle cx="258.18" cy="155.94" r="0.6" fill="#e59a10" fill-opacity="0.85"/>
<circle cx="259.07" cy="153.44" r="0.6" fill="#e59a10" fill-opacity="0.85"/>
<circle cx="259.44" cy="148.81" r="0.6" fill="#e59a10" fill-opacity="0.85"/>
<circle cx="258.22" cy="105.54" r="0.6" fill="#e59a10" fill-opacity="0.85"/>
<circle cx="257.72" cy="161.06" r="0.6" fill="#e59a10" fill-opacity="0.85"/>
<circle cx="258.64" cy="162.3" r="0.6" fill="#e59a10" fill-opacity="0.85"/>
<circle cx="258.59" cy="109.51" r="0.6" fill="#e59a10" fill-opacity="0.85"/>
<circle cx="258.05" cy="148.81" r="0.6" fill="#e59a10" fill-opacity="0.85"/>
<circle cx="260.21" cy="115.12" r="0.6" fill="#e59a10" fill-opacity="0.85"/>
<line x1="256.6" y1="129" x2="261" y2="129" stroke="#111" stroke-width="0.8"/>
<text x="387.6" y="12.6" font-size="7.8" text-anchor="start" font-weight="normal" fill="#231f20">Clone A (931 cells)</text>
<text x="380.9" y="24.15" font-size="7.8" text-anchor="end" font-weight="normal" fill="#231f20">SV</text>
<line x1="384.4" y1="21.4" x2="387.2" y2="21.4" stroke="#4a4a4a" stroke-width="0.6"/>
<line x1="387.2" y1="18.4" x2="387.2" y2="24.4" stroke="#dddddd" stroke-width="0.5"/>
<line x1="387.2" y1="30.8" x2="387.2" y2="81.2" stroke="#4a4a4a" stroke-width="0.6"/>
<line x1="384.4" y1="37.4" x2="387.2" y2="37.4" stroke="#4a4a4a" stroke-width="0.6"/>
<text x="380.9" y="40.15" font-size="7.8" text-anchor="end" font-weight="normal" fill="#231f20">10</text>
<line x1="384.4" y1="55" x2="387.2" y2="55" stroke="#4a4a4a" stroke-width="0.6"/>
<text x="380.9" y="57.75" font-size="7.8" text-anchor="end" font-weight="normal" fill="#231f20">5</text>
<line x1="384.4" y1="68.1" x2="387.2" y2="68.1" stroke="#4a4a4a" stroke-width="0.6"/>
<text x="380.9" y="70.85" font-size="7.8" text-anchor="end" font-weight="normal" fill="#231f20">2</text>
<line x1="384.4" y1="77.4" x2="387.2" y2="77.4" stroke="#4a4a4a" stroke-width="0.6"/>
<text x="380.9" y="80.15" font-size="7.8" text-anchor="end" font-weight="normal" fill="#231f20">0</text>
<text x="365.7" y="57" font-size="7.8" text-anchor="middle" font-weight="normal" fill="#231f20" transform="rotate(-90 365.7 57)">CN</text>
<rect x="450.8" y="17.8" width="1.6" height="63.4" fill="#e3e3e3"/>
<path d="M387.6 62 388.1 62.3 388.6 62.1 389.1 62 389.6 62.6 390.2 62.4 390.7 62.1 391.2 62.6 391.7 62.4 392.2 62.4 392.7 62.4 393.2 61.9 393.7 61.9 394.2 61.9 394.7 62 395.2 62.5 395.8 62.3 396.3 62.4 396.8 62.5 397.3 61.9 397.8 62.6 398.3 62.6 398.8 61.8 399.3 62.2 399.8 62 400.4 62 400.9 61.8 401.4 62.5 401.9 62 402.4 62.3 402.9 62.1 403.4 62.6 403.9 62.3 404.4 62.3 404.9 62.3 405.4 62.4 406 62.2 406.5 61.9 407 62.3 407.5 62.4 408 61.9 408 66 407.5 65.6 407 65.6 406.5 66.3 406 65.8 405.4 66.1 404.9 65.6 404.4 66.2 403.9 65.8 403.4 65.9 402.9 65.9 402.4 66.2 401.9 66.1 401.4 65.5 400.9 66.1 400.4 65.6 399.8 66 399.3 65.8 398.8 65.6 398.3 65.9 397.8 65.6 397.3 66.1 396.8 65.6 396.3 66 395.8 65.6 395.2 66 394.7 66.2 394.2 66.2 393.7 66 393.2 65.7 392.7 65.9 392.2 65.6 391.7 65.8 391.2 65.7 390.7 66 390.2 65.9 389.6 65.8 389.1 66 388.6 66.2 388.1 65.7 387.6 66.1Z" fill="#fbc88c"/>
<path d="M404 59.4 404.5 58.9 405 59.5 405.5 59.1 406 59.2 406.5 59.3 407 59.3 407.5 59.3 408 59.5 408.5 59.4 409 59.6 409 63.7 408.5 64.1 408 63.8 407.5 64 407 63.6 406.5 63.8 406 63.7 405.5 63.7 405 63.7 404.5 64.2 404 63.9Z" fill="#fbc88c"/>
<path d="M416.5 61.8 417 62.4 417.5 62.2 418 62.5 418.5 62.4 419 61.8 419.5 62.2 420 62.1 420.5 62.3 421 62.4 421.5 62.4 422 62.4 422.5 62.6 423 62.1 423.5 62 424 62.1 424.5 61.9 425 62 425.5 62.3 426 61.9 426.5 62.5 427 62.5 427.5 62.2 428 61.9 428.5 61.9 429 62.4 429.5 62.1 430 62.4 430.5 62.3 431 61.9 431.5 62.1 432 62 432.5 61.8 433 62.3 433.5 62.4 434 62.1 434.5 61.9 435 62 435.5 62.2 436 62.3 436.5 62.5 437 62.3 437.5 62.4 438 62.6 438.5 62.2 439 62.4 439.5 62 440 62.3 440.5 62.3 441 62.2 441.5 62.2 442 61.9 442.5 62.5 443 62.1 443.5 62.3 444 62.4 444.5 62.6 445 62.4 445.5 62.4 446 62.3 446.5 61.8 447 62 447.5 62 448 62.6 448.5 62.5 449 62.3 449.5 62.5 450 62.4 450.5 62.3 451 62.5 451 66 450.5 65.7 450 65.6 449.5 66.3 449 65.8 448.5 66 448 65.8 447.5 66 447 65.9 446.5 66 446 66 445.5 65.6 445 65.5 444.5 65.5 444 65.8 443.5 65.8 443 65.9 442.5 65.6 442 66.1 441.5 65.5 441 65.5 440.5 65.8 440 66.2 439.5 65.9 439 66.2 438.5 66 438 66 437.5 65.7 437 65.8 436.5 65.6 436 66.1 435.5 65.5 435 65.7 434.5 66.3 434 65.5 433.5 65.6 433 66.2 432.5 66.2 432 66.1 431.5 66 431 65.9 430.5 66.3 430 65.5 429.5 65.5 429 65.6 428.5 66.1 428 65.5 427.5 65.8 427 65.6 426.5 66.3 426 66.1 425.5 65.7 425 65.6 424.5 66 424 65.5 423.5 65.8 423 66.1 422.5 65.7 422 66 421.5 65.8 421 65.7 420.5 66 420 66.1 419.5 66 419 66.2 418.5 65.8 418 65.5 417.5 65.6 417 66.1 416.5 66Z" fill="#fbc88c"/>
<path d="M452.7 62.3 453.2 61.9 453.7 61.9 454.2 62.2 454.8 62.6 455.3 62 455.8 62.5 456.3 62.6 456.8 62.1 457.3 62.2 457.8 62.4 458.4 62.6 458.9 61.9 459.4 62.3 459.9 62.1 460.4 62.4 460.9 62.3 461.4 62.2 462 61.9 462.5 62.2 463 62.6 463.5 62.5 463.5 65.6 463 66.1 462.5 65.8 462 65.6 461.4 65.9 460.9 66.1 460.4 66.1 459.9 66.1 459.4 66 458.9 65.6 458.4 66.1 457.8 65.9 457.3 65.9 456.8 65.8 456.3 66.1 455.8 65.7 455.3 66 454.8 65.6 454.2 66.1 453.7 66.3 453.2 65.6 452.7 65.5Z" fill="#fbc88c"/>
<path d="M468 66.6 468.5 66.2 469 66.4 469.5 66.4 470.1 66.5 470.6 66.5 471.1 66.3 471.6 66.3 472.1 66.3 472.6 66.5 473.1 66.4 473.7 66.4 474.2 66.4 474.7 66.6 475.2 66.5 475.7 66.2 476.2 66.6 476.7 66 477.3 66.5 477.8 66.4 478.3 66.3 478.8 66.5 478.8 69.7 478.3 69.7 477.8 69.8 477.3 69.4 476.7 69.3 476.2 69.6 475.7 69.5 475.2 69.7 474.7 69.7 474.2 69.9 473.7 69.3 473.1 69.8 472.6 69.5 472.1 69.8 471.6 69.8 471.1 69.6 470.6 69.8 470.1 70 469.5 69.3 469 69.5 468.5 69.5 468 69.8Z" fill="#c8c8c8"/>
<path d="M446.5 39.6 447 40.1 447.5 39.8 448 39.7 448 50.1 447.5 50.5 447 50.5 446.5 50.1Z" fill="#c0306a"/>
<path d="M446.3 48 446.9 47.6 447.6 48.1 448.2 47.8 448.2 60 447.6 60.1 446.9 60.3 446.3 60.5Z" fill="#a8102a"/>
<path d="M464.2 48.9 464.7 49.2 465.3 48.3 465.8 48.5 466.3 49.2 466.9 48.4 467.4 49.4 467.9 49.5 468.5 48.3 469 49.5 469 54.2 468.5 54.5 467.9 54.4 467.4 54.8 466.9 54.1 466.3 54.4 465.8 54.2 465.3 54.9 464.7 54.5 464.2 54.4Z" fill="#9a0a12"/>
<circle cx="466.6" cy="51.6" r="2.6" fill="#9a0a12"/>
<path d="M467.2 36.5 467.7 37.1 468.2 36.7 468.8 37 469.3 36.8 469.3 47.6 468.8 47.1 468.2 47 467.7 47.2 467.2 47.4Z" fill="#d82a84"/>
<path d="M464.2 35.9 464.8 36.1 465.4 36 466 35.9 466 40.3 465.4 39.9 464.8 40.2 464.2 40.4Z" fill="#c8a0d8"/>
<rect x="456.39" y="55.09" width="1" height="1" fill="#e05030"/>
<rect x="457.96" y="58.84" width="1" height="1" fill="#e05030"/>
<rect x="459.74" y="58.71" width="1" height="1" fill="#e05030"/>
<rect x="449.67" y="59.54" width="1" height="1" fill="#e05030"/>
<rect x="460.91" y="60.4" width="1" height="1" fill="#e05030"/>
<rect x="457.04" y="53.63" width="1" height="1" fill="#e05030"/>
<rect x="459.76" y="56.94" width="1" height="1" fill="#e05030"/>
<rect x="457.97" y="60.83" width="1" height="1" fill="#e05030"/>
<rect x="451.27" y="52.71" width="1" height="1" fill="#e05030"/>
<rect x="460.68" y="60.52" width="1" height="1" fill="#e05030"/>
<rect x="449.61" y="56.62" width="1" height="1" fill="#e05030"/>
<rect x="459.65" y="58.03" width="1" height="1" fill="#e05030"/>
<rect x="455.28" y="61.47" width="1" height="1" fill="#e05030"/>
<rect x="448.88" y="55.85" width="1" height="1" fill="#e05030"/>
<rect x="456.03" y="48.25" width="1.2" height="1.2" fill="#a81040"/>
<rect x="457.74" y="45.45" width="1.2" height="1.2" fill="#a81040"/>
<rect x="458.87" y="48.06" width="1.2" height="1.2" fill="#a81040"/>
<rect x="457.33" y="48.2" width="1.2" height="1.2" fill="#a81040"/>
<rect x="464.15" y="59.34" width="1" height="1" fill="#e05030"/>
<rect x="466.48" y="56.11" width="1" height="1" fill="#e05030"/>
<rect x="465.61" y="60.3" width="1" height="1" fill="#e05030"/>
<rect x="466.09" y="56.37" width="1" height="1" fill="#e05030"/>
<rect x="464.65" y="55.3" width="1" height="1" fill="#e05030"/>
<circle cx="452.3" cy="72.2" r="1.1" fill="#9ecae1"/>
<circle cx="388.4" cy="55.8" r="0.9" fill="#e05030"/>
<rect x="448.94" y="66.3" width="1.2" height="1.2" fill="#f08a50"/>
<rect x="447.48" y="66.45" width="1.2" height="1.2" fill="#f08a50"/>
<rect x="447.26" y="63.16" width="1.2" height="1.2" fill="#f08a50"/>
<rect x="450.03" y="65.89" width="1.2" height="1.2" fill="#f08a50"/>
<rect x="451.99" y="62.25" width="1.2" height="1.2" fill="#f08a50"/>
<rect x="448.14" y="65.47" width="1.2" height="1.2" fill="#f08a50"/>
<rect x="450.97" y="65.72" width="1.2" height="1.2" fill="#f08a50"/>
<rect x="447.27" y="66.31" width="1.2" height="1.2" fill="#f08a50"/>
<rect x="399.15" y="18" width="0.9" height="6.8" fill="#8fcbe6"/>
<rect x="464.15" y="18" width="0.9" height="6.8" fill="#f6c662"/>
<rect x="465.95" y="18" width="0.9" height="6.8" fill="#f6c662"/>
<rect x="467.75" y="18" width="0.9" height="6.8" fill="#8fcbe6"/>
<rect x="388.8" y="77.9" width="0.9" height="1.4" fill="#d6d6d6"/>
<rect x="391.4" y="77.9" width="0.9" height="1.4" fill="#d6d6d6"/>
<rect x="394" y="77.9" width="0.9" height="1.4" fill="#d6d6d6"/>
<rect x="396.6" y="77.9" width="0.9" height="1.4" fill="#d6d6d6"/>
<rect x="399.2" y="77.9" width="0.9" height="1.4" fill="#d6d6d6"/>
<rect x="401.8" y="77.9" width="0.9" height="1.4" fill="#d6d6d6"/>
<rect x="404.4" y="77.9" width="0.9" height="1.4" fill="#d6d6d6"/>
<rect x="407" y="77.9" width="0.9" height="1.4" fill="#d6d6d6"/>
<rect x="409.6" y="77.9" width="0.9" height="1.4" fill="#d6d6d6"/>
<rect x="412.2" y="77.9" width="0.9" height="1.4" fill="#d6d6d6"/>
<rect x="414.8" y="77.9" width="0.9" height="1.4" fill="#d6d6d6"/>
<rect x="417.4" y="77.9" width="0.9" height="1.4" fill="#d6d6d6"/>
<rect x="420" y="77.9" width="0.9" height="1.4" fill="#d6d6d6"/>
<rect x="422.6" y="77.9" width="0.9" height="1.4" fill="#d6d6d6"/>
<rect x="425.2" y="77.9" width="0.9" height="1.4" fill="#d6d6d6"/>
<rect x="427.8" y="77.9" width="0.9" height="1.4" fill="#d6d6d6"/>
<rect x="430.4" y="77.9" width="0.9" height="1.4" fill="#d6d6d6"/>
<rect x="433" y="77.9" width="0.9" height="1.4" fill="#d6d6d6"/>
<rect x="435.6" y="77.9" width="0.9" height="1.4" fill="#d6d6d6"/>
<rect x="438.2" y="77.9" width="0.9" height="1.4" fill="#d6d6d6"/>
<rect x="440.8" y="77.9" width="0.9" height="1.4" fill="#d6d6d6"/>
<rect x="443.4" y="77.9" width="0.9" height="1.4" fill="#d6d6d6"/>
<rect x="446" y="77.9" width="0.9" height="1.4" fill="#d6d6d6"/>
<rect x="448.6" y="77.9" width="0.9" height="1.4" fill="#d6d6d6"/>
<rect x="451.2" y="77.9" width="0.9" height="1.4" fill="#d6d6d6"/>
<rect x="453.8" y="77.9" width="0.9" height="1.4" fill="#d6d6d6"/>
<rect x="456.4" y="77.9" width="0.9" height="1.4" fill="#d6d6d6"/>
<rect x="459" y="77.9" width="0.9" height="1.4" fill="#d6d6d6"/>
<rect x="461.6" y="77.9" width="0.9" height="1.4" fill="#d6d6d6"/>
<rect x="464.2" y="77.9" width="0.9" height="1.4" fill="#d6d6d6"/>
<rect x="466.8" y="77.9" width="0.9" height="1.4" fill="#d6d6d6"/>
<rect x="469.4" y="77.9" width="0.9" height="1.4" fill="#d6d6d6"/>
<rect x="472" y="77.9" width="0.9" height="1.4" fill="#d6d6d6"/>
<rect x="474.6" y="77.9" width="0.9" height="1.4" fill="#d6d6d6"/>
<rect x="477.2" y="77.9" width="0.9" height="1.4" fill="#d6d6d6"/>
<rect x="395.5" y="77.8" width="1.5" height="1.6" fill="#555"/>
<rect x="398" y="77.8" width="1.5" height="1.6" fill="#222"/>
<rect x="400" y="77.8" width="1.5" height="1.6" fill="#555"/>
<rect x="402" y="77.8" width="1.5" height="1.6" fill="#222"/>
<rect x="408.5" y="77.8" width="1.5" height="1.6" fill="#e03a30"/>
<rect x="420" y="77.8" width="1.5" height="1.6" fill="#aaa"/>
<rect x="434" y="77.8" width="2" height="1.6" fill="#222"/>
<rect x="440" y="77.8" width="1.5" height="1.6" fill="#888"/>
<rect x="456" y="77.8" width="2" height="1.6" fill="#aaa"/>
<rect x="463" y="77.8" width="2.5" height="1.6" fill="#e03a30"/>
<rect x="469" y="77.8" width="1.5" height="1.6" fill="#aaa"/>
<rect x="390" y="77.8" width="1.5" height="1.6" fill="#999"/>
<text x="387.6" y="118.1" font-size="7.8" text-anchor="start" font-weight="normal" fill="#231f20">Clone C (483 cells)</text>
<text x="380.9" y="129.35" font-size="7.8" text-anchor="end" font-weight="normal" fill="#231f20">SV</text>
<line x1="384.4" y1="126.6" x2="387.2" y2="126.6" stroke="#4a4a4a" stroke-width="0.6"/>
<line x1="387.2" y1="123.6" x2="387.2" y2="129.6" stroke="#dddddd" stroke-width="0.5"/>
<line x1="387.2" y1="136" x2="387.2" y2="187.2" stroke="#4a4a4a" stroke-width="0.6"/>
<line x1="384.4" y1="143" x2="387.2" y2="143" stroke="#4a4a4a" stroke-width="0.6"/>
<text x="380.9" y="145.75" font-size="7.8" text-anchor="end" font-weight="normal" fill="#231f20">10</text>
<line x1="384.4" y1="160" x2="387.2" y2="160" stroke="#4a4a4a" stroke-width="0.6"/>
<text x="380.9" y="162.75" font-size="7.8" text-anchor="end" font-weight="normal" fill="#231f20">5</text>
<line x1="384.4" y1="173.2" x2="387.2" y2="173.2" stroke="#4a4a4a" stroke-width="0.6"/>
<text x="380.9" y="175.95" font-size="7.8" text-anchor="end" font-weight="normal" fill="#231f20">2</text>
<line x1="384.4" y1="182.6" x2="387.2" y2="182.6" stroke="#4a4a4a" stroke-width="0.6"/>
<text x="380.9" y="185.35" font-size="7.8" text-anchor="end" font-weight="normal" fill="#231f20">0</text>
<text x="365.7" y="162" font-size="7.8" text-anchor="middle" font-weight="normal" fill="#231f20" transform="rotate(-90 365.7 162)">CN</text>
<line x1="387.2" y1="187.2" x2="479" y2="187.2" stroke="#4a4a4a" stroke-width="0.6"/>
<line x1="419.4" y1="187.2" x2="419.4" y2="190" stroke="#4a4a4a" stroke-width="0.6"/>
<text x="419.4" y="199.7" font-size="7.8" text-anchor="middle" font-weight="normal" fill="#231f20">9</text>
<line x1="465.4" y1="187.2" x2="465.4" y2="190" stroke="#4a4a4a" stroke-width="0.6"/>
<text x="465.4" y="199.7" font-size="7.8" text-anchor="middle" font-weight="normal" fill="#231f20">19</text>
<text x="432.6" y="212.3" font-size="7.8" text-anchor="middle" font-weight="normal" fill="#231f20">Chromosome</text>
<rect x="450.8" y="122.8" width="1.6" height="64.4" fill="#e3e3e3"/>
<path d="M387.6 156.8 388.1 157.3 388.6 157.6 389.1 157.2 389.6 157 390.1 157.3 390.6 157.5 391.1 156.9 391.6 156.6 392.1 157.3 392.6 157.3 393.2 157.5 393.7 156.5 394.2 156.6 394.7 156.8 395.2 156.9 395.7 157.5 396.2 156.5 396.7 156.5 397.2 156.9 397.7 156.8 398.2 156.6 398.2 164.3 397.7 164.6 397.2 164.8 396.7 164.2 396.2 164.7 395.7 164.4 395.2 164.1 394.7 164.8 394.2 164.8 393.7 164.7 393.2 164 392.6 164.1 392.1 163.8 391.6 164.3 391.1 163.9 390.6 163.9 390.1 164.2 389.6 164 389.1 164.5 388.6 164.5 388.1 164.5 387.6 164.3Z" fill="#e04a2a"/>
<path d="M398 161.6 398.5 161.6 399 162.2 399.5 161.7 400 162 400.5 161.6 401 161.8 401.5 162.4 402 161.6 402.5 162.4 403 162.2 403.5 161.5 404 162 404.5 161.6 405 162 405.5 162.3 406 161.6 406.5 162.4 407 161.8 407.5 162 408 162 408 167.6 407.5 167.7 407 167.9 406.5 167.3 406 167.8 405.5 167.9 405 167.8 404.5 167.9 404 167.1 403.5 167.2 403 167.6 402.5 167.9 402 167.2 401.5 167.8 401 167.9 400.5 167.7 400 167.3 399.5 167.7 399 167.9 398.5 167.5 398 167.4Z" fill="#f59461"/>
<path d="M418.8 162.2 419.3 161.6 419.8 162.1 420.3 162.1 420.8 162.3 421.3 162.1 421.8 162.1 422.3 161.6 422.8 161.7 423.3 162.1 423.8 161.8 424.3 161.9 424.8 162.3 425.3 162 425.9 162.1 426.4 161.6 426.9 161.9 427.4 162.1 427.9 161.6 428.4 161.6 428.9 161.6 429.4 161.9 429.9 161.7 430.4 162.2 430.9 161.6 431.4 162.2 431.9 162.1 432.4 162.2 432.9 162.1 433.4 162.1 433.9 162.4 434.4 162.1 434.9 161.6 435.4 161.5 435.9 161.7 436.4 162.2 436.9 162.1 437.4 162 437.9 161.7 438.4 161.7 438.9 162.4 439.4 161.6 440 161.9 440.5 161.5 441 162.4 441.5 162.2 442 161.8 442.5 162.4 443 161.8 443.5 161.6 444 161.5 444.5 162 445 162.2 445.5 161.7 446 162.1 446.5 161.9 446.5 167.6 446 168 445.5 168.4 445 168.4 444.5 168 444 167.8 443.5 168.4 443 168 442.5 167.9 442 167.7 441.5 167.9 441 168 440.5 168 440 168.4 439.4 168.1 438.9 168.3 438.4 168 437.9 167.8 437.4 168.2 436.9 167.9 436.4 167.8 435.9 167.8 435.4 167.6 434.9 167.9 434.4 168 433.9 167.8 433.4 168.1 432.9 168 432.4 168.3 431.9 168.3 431.4 168.2 430.9 167.8 430.4 168.4 429.9 168.1 429.4 167.6 428.9 167.5 428.4 168.1 427.9 167.6 427.4 168 426.9 167.6 426.4 167.7 425.9 168.2 425.3 168.1 424.8 167.8 424.3 168.1 423.8 168.4 423.3 167.8 422.8 168.4 422.3 167.8 421.8 167.5 421.3 167.8 420.8 167.9 420.3 168 419.8 167.7 419.3 168 418.8 167.7Z" fill="#f59461"/>
<path d="M446.5 166.9 447 166.2 447.5 166.8 448 166.7 448.5 167 449 167.1 449.5 167.1 450 166.5 450.5 166.8 451 166.8 451.5 166.3 452.1 166.6 452.6 166.2 453.1 167.1 453.6 166.2 454.1 166.4 454.6 166.4 455.1 166.6 455.6 166.4 456.1 166.5 456.6 167 457.1 166.2 457.6 166.7 458.1 166.6 458.6 166.2 459.1 166.3 459.6 166.7 460.1 166.5 460.6 166.6 461.1 166.8 461.6 167 462.1 166.6 462.6 166.7 463.2 166.7 463.7 166.2 464.2 167 464.7 166.6 465.2 167 465.7 166.3 466.2 166.8 466.7 166.9 467.2 166.8 467.7 166.4 468.2 166.3 468.7 166.8 469.2 166.4 469.7 166.6 470.2 166.4 470.7 166.9 471.2 166.7 471.7 166.6 472.2 167.1 472.7 166.7 473.2 166.8 473.8 166.9 474.3 166.4 474.8 166.2 475.3 166.8 475.8 166.8 476.3 166.4 476.8 166.7 477.3 167.1 477.8 166.3 478.3 167.1 478.8 166.5 478.8 171.8 478.3 171.9 477.8 171.6 477.3 172 476.8 172.1 476.3 171.9 475.8 172.2 475.3 171.5 474.8 171.9 474.3 172 473.8 172.2 473.2 172.1 472.7 172.2 472.2 171.5 471.7 172 471.2 171.6 470.7 172.4 470.2 172 469.7 172 469.2 171.6 468.7 171.6 468.2 171.6 467.7 171.9 467.2 171.8 466.7 171.5 466.2 171.9 465.7 172 465.2 172.1 464.7 171.8 464.2 171.7 463.7 171.5 463.2 171.8 462.6 171.8 462.1 172.3 461.6 172.3 461.1 171.5 460.6 171.6 460.1 171.7 459.6 172.3 459.1 172.4 458.6 171.6 458.1 171.8 457.6 171.7 457.1 171.5 456.6 171.7 456.1 172.3 455.6 172.4 455.1 172.1 454.6 171.9 454.1 171.9 453.6 172.1 453.1 171.7 452.6 171.7 452.1 171.8 451.5 171.7 451 172.3 450.5 172.1 450 171.9 449.5 172.3 449 171.7 448.5 171.8 448 171.7 447.5 172 447 171.5 446.5 172.1Z" fill="#fbc88c"/>
<path d="M445 147.8 445.6 147.3 446.1 148 446.6 147.9 447.2 147.6 447.2 164.9 446.6 165.2 446.1 164.7 445.6 165.3 445 165.2Z" fill="#a8101e"/>
<path d="M445.2 146 445.8 145.5 446.4 145.9 447 145.6 447 150.1 446.4 149.9 445.8 150 445.2 150.4Z" fill="#d81f7c"/>
<path d="M455.8 150 456.3 149.6 456.8 149.9 457.3 149.8 457.8 149.6 458.3 149.3 458.8 149.9 458.8 157.1 458.3 157.2 457.8 157.2 457.3 157.5 456.8 157.6 456.3 157.2 455.8 157.6Z" fill="#c0307a"/>
<rect x="454.64" y="158.66" width="1" height="1" fill="#b82030"/>
<rect x="458.22" y="160.61" width="1" height="1" fill="#b82030"/>
<rect x="455.89" y="157.62" width="1" height="1" fill="#b82030"/>
<rect x="457.72" y="161.25" width="1" height="1" fill="#b82030"/>
<rect x="455.75" y="157.25" width="1" height="1" fill="#b82030"/>
<path d="M387.7 149.9 388.2 149.8 388.7 149.7 389.2 149.8 389.2 154.9 388.7 155.4 388.2 155.3 387.7 155.4Z" fill="#b0306a"/>
<ellipse cx="452.3" cy="177.8" rx="1.3" ry="2.0" fill="#9ecae1"/>
<rect x="400.75" y="154.85" width="1" height="1" fill="#e05030"/>
<rect x="404.59" y="156.04" width="1" height="1" fill="#e05030"/>
<rect x="401.25" y="156.4" width="1" height="1" fill="#e05030"/>
<rect x="404.53" y="156.86" width="1" height="1" fill="#e05030"/>
<rect x="405.85" y="156.89" width="1" height="1" fill="#e05030"/>
<rect x="392.58" y="156.61" width="1" height="1" fill="#e05030"/>
<rect x="428.05" y="161.31" width="0.9" height="0.9" fill="#f07a48"/>
<rect x="433.6" y="160.77" width="0.9" height="0.9" fill="#f07a48"/>
<rect x="421.07" y="159.6" width="0.9" height="0.9" fill="#f07a48"/>
<rect x="422.01" y="159.35" width="0.9" height="0.9" fill="#f07a48"/>
<rect x="441.98" y="161.78" width="0.9" height="0.9" fill="#f07a48"/>
<rect x="428" y="160.42" width="0.9" height="0.9" fill="#f07a48"/>
<rect x="434.04" y="161.14" width="0.9" height="0.9" fill="#f07a48"/>
<rect x="420.85" y="161.97" width="0.9" height="0.9" fill="#f07a48"/>
<rect x="419.37" y="159.39" width="0.9" height="0.9" fill="#f07a48"/>
<rect x="438.06" y="160.04" width="0.9" height="0.9" fill="#f07a48"/>
<path d="M476.5 166.2 477 166.3 477.6 166.1 478.1 166.1 478.6 166.1 478.6 185 478.1 185.3 477.6 185.2 477 185.2 476.5 185.2Z" fill="#f09080" fill-opacity="0.5"/>
<rect x="396.85" y="123.2" width="0.9" height="6.8" fill="#8fcbe6"/>
<rect x="401.95" y="123.2" width="0.9" height="6.8" fill="#e0203a"/>
<rect x="446.05" y="123.2" width="0.9" height="6.8" fill="#d9772a"/>
<rect x="467.55" y="123.2" width="0.9" height="6.8" fill="#bbb"/>
<rect x="476.55" y="123.2" width="0.9" height="6.8" fill="#e0203a"/>
<rect x="477.35" y="123.2" width="0.9" height="6.8" fill="#e0203a"/>
<rect x="388.8" y="182.3" width="0.9" height="1.4" fill="#d6d6d6"/>
<rect x="391.4" y="182.3" width="0.9" height="1.4" fill="#d6d6d6"/>
<rect x="394" y="182.3" width="0.9" height="1.4" fill="#d6d6d6"/>
<rect x="396.6" y="182.3" width="0.9" height="1.4" fill="#d6d6d6"/>
<rect x="399.2" y="182.3" width="0.9" height="1.4" fill="#d6d6d6"/>
<rect x="401.8" y="182.3" width="0.9" height="1.4" fill="#d6d6d6"/>
<rect x="404.4" y="182.3" width="0.9" height="1.4" fill="#d6d6d6"/>
<rect x="407" y="182.3" width="0.9" height="1.4" fill="#d6d6d6"/>
<rect x="409.6" y="182.3" width="0.9" height="1.4" fill="#d6d6d6"/>
<rect x="412.2" y="182.3" width="0.9" height="1.4" fill="#d6d6d6"/>
<rect x="414.8" y="182.3" width="0.9" height="1.4" fill="#d6d6d6"/>
<rect x="417.4" y="182.3" width="0.9" height="1.4" fill="#d6d6d6"/>
<rect x="420" y="182.3" width="0.9" height="1.4" fill="#d6d6d6"/>
<rect x="422.6" y="182.3" width="0.9" height="1.4" fill="#d6d6d6"/>
<rect x="425.2" y="182.3" width="0.9" height="1.4" fill="#d6d6d6"/>
<rect x="427.8" y="182.3" width="0.9" height="1.4" fill="#d6d6d6"/>
<rect x="430.4" y="182.3" width="0.9" height="1.4" fill="#d6d6d6"/>
<rect x="433" y="182.3" width="0.9" height="1.4" fill="#d6d6d6"/>
<rect x="435.6" y="182.3" width="0.9" height="1.4" fill="#d6d6d6"/>
<rect x="438.2" y="182.3" width="0.9" height="1.4" fill="#d6d6d6"/>
<rect x="440.8" y="182.3" width="0.9" height="1.4" fill="#d6d6d6"/>
<rect x="443.4" y="182.3" width="0.9" height="1.4" fill="#d6d6d6"/>
<rect x="446" y="182.3" width="0.9" height="1.4" fill="#d6d6d6"/>
<rect x="448.6" y="182.3" width="0.9" height="1.4" fill="#d6d6d6"/>
<rect x="451.2" y="182.3" width="0.9" height="1.4" fill="#d6d6d6"/>
<rect x="453.8" y="182.3" width="0.9" height="1.4" fill="#d6d6d6"/>
<rect x="456.4" y="182.3" width="0.9" height="1.4" fill="#d6d6d6"/>
<rect x="459" y="182.3" width="0.9" height="1.4" fill="#d6d6d6"/>
<rect x="461.6" y="182.3" width="0.9" height="1.4" fill="#d6d6d6"/>
<rect x="464.2" y="182.3" width="0.9" height="1.4" fill="#d6d6d6"/>
<rect x="466.8" y="182.3" width="0.9" height="1.4" fill="#d6d6d6"/>
<rect x="469.4" y="182.3" width="0.9" height="1.4" fill="#d6d6d6"/>
<rect x="472" y="182.3" width="0.9" height="1.4" fill="#d6d6d6"/>
<rect x="474.6" y="182.3" width="0.9" height="1.4" fill="#d6d6d6"/>
<rect x="477.2" y="182.3" width="0.9" height="1.4" fill="#d6d6d6"/>
<rect x="395.5" y="182.2" width="1.5" height="1.6" fill="#555"/>
<rect x="398" y="182.2" width="1.5" height="1.6" fill="#222"/>
<rect x="400" y="182.2" width="1.5" height="1.6" fill="#555"/>
<rect x="402" y="182.2" width="1.5" height="1.6" fill="#222"/>
<rect x="408.5" y="182.2" width="1.5" height="1.6" fill="#e03a30"/>
<rect x="420" y="182.2" width="1.5" height="1.6" fill="#aaa"/>
<rect x="434" y="182.2" width="2" height="1.6" fill="#222"/>
<rect x="440" y="182.2" width="1.5" height="1.6" fill="#888"/>
<rect x="456" y="182.2" width="2" height="1.6" fill="#aaa"/>
<rect x="463" y="182.2" width="2.5" height="1.6" fill="#e03a30"/>
<rect x="469" y="182.2" width="1.5" height="1.6" fill="#aaa"/>
<rect x="390" y="182.2" width="1.5" height="1.6" fill="#999"/>
<line x1="524.5" y1="12.6" x2="524.5" y2="47.6" stroke="#4a4a4a" stroke-width="0.6"/>
<line x1="521.7" y1="21.3" x2="524.5" y2="21.3" stroke="#4a4a4a" stroke-width="0.6"/>
<text x="518.2" y="24.05" font-size="7.8" text-anchor="end" font-weight="normal" fill="#231f20">0.4</text>
<line x1="521.7" y1="34" x2="524.5" y2="34" stroke="#4a4a4a" stroke-width="0.6"/>
<text x="518.2" y="36.75" font-size="7.8" text-anchor="end" font-weight="normal" fill="#231f20">0.2</text>
<line x1="521.7" y1="46.6" x2="524.5" y2="46.6" stroke="#4a4a4a" stroke-width="0.6"/>
<text x="518.2" y="49.35" font-size="7.8" text-anchor="end" font-weight="normal" fill="#231f20">0</text>
<rect x="527.4" y="14.3" width="4.9" height="33.1" fill="#c1380f"/>
<rect x="536" y="29" width="5" height="18.4" fill="#5a7a1c"/>
<text x="502.9" y="31" font-size="7.8" text-anchor="middle" font-weight="normal" fill="#231f20" transform="rotate(-90 502.9 31)">scWGS CCF</text>
<line x1="524.5" y1="54" x2="524.5" y2="89" stroke="#4a4a4a" stroke-width="0.6"/>
<line x1="521.7" y1="63" x2="524.5" y2="63" stroke="#4a4a4a" stroke-width="0.6"/>
<text x="518.2" y="65.75" font-size="7.8" text-anchor="end" font-weight="normal" fill="#231f20">40</text>
<line x1="521.7" y1="75.4" x2="524.5" y2="75.4" stroke="#4a4a4a" stroke-width="0.6"/>
<text x="518.2" y="78.15" font-size="7.8" text-anchor="end" font-weight="normal" fill="#231f20">20</text>
<line x1="521.7" y1="87.9" x2="524.5" y2="87.9" stroke="#4a4a4a" stroke-width="0.6"/>
<text x="518.2" y="90.65" font-size="7.8" text-anchor="end" font-weight="normal" fill="#231f20">0</text>
<rect x="527.4" y="61" width="4.9" height="27.7" fill="#c1380f"/>
<rect x="536" y="55" width="5" height="33.7" fill="#5a7a1c"/>
<text x="496.4" y="71" font-size="7.8" text-anchor="middle" font-weight="normal" fill="#231f20" transform="rotate(-90 496.4 71)">No. of</text>
<text x="503.6" y="71" font-size="7.8" text-anchor="middle" font-weight="normal" fill="#231f20" transform="rotate(-90 503.6 71)">SVs</text>
<line x1="524.2" y1="95" x2="524.2" y2="164.4" stroke="#4a4a4a" stroke-width="0.6"/>
<line x1="521.4" y1="99.2" x2="524.2" y2="99.2" stroke="#4a4a4a" stroke-width="0.6"/>
<text x="517.9" y="103.15" font-size="7.8" text-anchor="end" fill="#231f20">10<tspan font-size="5.62" dy="-3">−1</tspan></text>
<line x1="521.4" y1="119.8" x2="524.2" y2="119.8" stroke="#4a4a4a" stroke-width="0.6"/>
<text x="517.9" y="123.75" font-size="7.8" text-anchor="end" fill="#231f20">10<tspan font-size="5.62" dy="-3">−2</tspan></text>
<line x1="521.4" y1="140.1" x2="524.2" y2="140.1" stroke="#4a4a4a" stroke-width="0.6"/>
<text x="517.9" y="144.05" font-size="7.8" text-anchor="end" fill="#231f20">10<tspan font-size="5.62" dy="-3">−3</tspan></text>
<line x1="521.4" y1="161.2" x2="524.2" y2="161.2" stroke="#4a4a4a" stroke-width="0.6"/>
<text x="517.9" y="163.95" font-size="7.8" text-anchor="end" font-weight="normal" fill="#231f20">0</text>
<line x1="524.2" y1="164.4" x2="544" y2="164.4" stroke="#4a4a4a" stroke-width="0.6"/>
<line x1="530.2" y1="164.4" x2="530.2" y2="167.2" stroke="#4a4a4a" stroke-width="0.6"/>
<text x="530.2" y="176.8" font-size="7.8" text-anchor="middle" font-weight="normal" fill="#231f20">A</text>
<line x1="538" y1="164.4" x2="538" y2="167.2" stroke="#4a4a4a" stroke-width="0.6"/>
<text x="538" y="176.8" font-size="7.8" text-anchor="middle" font-weight="normal" fill="#231f20">C</text>
<text x="534" y="187.8" font-size="7.8" text-anchor="middle" font-weight="normal" fill="#231f20">Clone</text>
<text x="498.4" y="122" font-size="7.8" text-anchor="middle" font-weight="normal" fill="#231f20" transform="rotate(-90 498.4 122)">cfDNA VAF</text>
<path d="M529.7 97.5 L529.39 97.73 L528.94 98.06 L528.44 98.48 L528 99 L527.61 99.62 L527.22 100.34 L526.87 101.14 L526.6 102 L526.41 102.93 L526.29 103.94 L526.22 104.98 L526.2 106 L526.22 107.02 L526.29 108.06 L526.41 109.07 L526.6 110 L526.88 110.82 L527.24 111.56 L527.63 112.27 L528 113 L528.36 113.73 L528.72 114.44 L529.05 115.18 L529.3 116 L529.45 116.32 L529.53 116.31 L529.57 117.15 L529.6 120 L529.63 126.21 L529.63 134.81 L529.62 143.51 L529.6 150 L529.59 153.47 L529.58 155.22 L529.53 156.11 L529.4 157 L529.17 157.95 L528.86 158.56 L528.52 159.02 L528.2 159.5 L527.85 160.06 L527.48 160.6 L527.16 161.09 L527 161.5 L527.04 161.81 L527.21 162.05 L527.48 162.24 L527.8 162.4 L528.22 162.54 L528.75 162.66 L529.25 162.74 L529.6 162.8 L530.8 162.8 L531.15 162.74 L531.65 162.66 L532.18 162.54 L532.6 162.4 L532.92 162.24 L533.19 162.05 L533.36 161.81 L533.4 161.5 L533.24 161.09 L532.93 160.6 L532.55 160.06 L532.2 159.5 L531.88 159.02 L531.54 158.56 L531.23 157.95 L531 157 L530.88 156.11 L530.83 155.22 L530.81 153.47 L530.8 150 L530.78 143.51 L530.77 134.81 L530.77 126.21 L530.8 120 L530.83 117.15 L530.87 116.31 L530.95 116.32 L531.1 116 L531.35 115.18 L531.68 114.44 L532.04 113.73 L532.4 113 L532.77 112.27 L533.16 111.56 L533.52 110.82 L533.8 110 L533.99 109.07 L534.11 108.06 L534.18 107.02 L534.2 106 L534.18 104.98 L534.11 103.94 L533.99 102.93 L533.8 102 L533.53 101.14 L533.18 100.34 L532.79 99.62 L532.4 99 L531.96 98.48 L531.46 98.06 L531.01 97.73 L530.7 97.5Z" fill="#d9664a" stroke="#c8441c" stroke-width="0.65"/>
<circle cx="529.96" cy="111.56" r="0.6" fill="#b82a0a" fill-opacity="0.85"/>
<circle cx="529.75" cy="156.11" r="0.6" fill="#b82a0a" fill-opacity="0.85"/>
<circle cx="530.32" cy="155.22" r="0.6" fill="#b82a0a" fill-opacity="0.85"/>
<circle cx="529.22" cy="113" r="0.6" fill="#b82a0a" fill-opacity="0.85"/>
<circle cx="531.98" cy="102.93" r="0.6" fill="#b82a0a" fill-opacity="0.85"/>
<circle cx="530.26" cy="156.11" r="0.6" fill="#b82a0a" fill-opacity="0.85"/>
<circle cx="529.93" cy="116.31" r="0.6" fill="#b82a0a" fill-opacity="0.85"/>
<circle cx="529.95" cy="162.24" r="0.6" fill="#b82a0a" fill-opacity="0.85"/>
<circle cx="529.89" cy="143.51" r="0.6" fill="#b82a0a" fill-opacity="0.85"/>
<circle cx="532.2" cy="111.56" r="0.6" fill="#b82a0a" fill-opacity="0.85"/>
<circle cx="530.81" cy="157.95" r="0.6" fill="#b82a0a" fill-opacity="0.85"/>
<circle cx="531.18" cy="98.48" r="0.6" fill="#b82a0a" fill-opacity="0.85"/>
<circle cx="528.67" cy="100.34" r="0.6" fill="#b82a0a" fill-opacity="0.85"/>
<circle cx="528.66" cy="104.98" r="0.6" fill="#b82a0a" fill-opacity="0.85"/>
<circle cx="528.57" cy="103.94" r="0.6" fill="#b82a0a" fill-opacity="0.85"/>
<circle cx="529.6" cy="107.02" r="0.6" fill="#b82a0a" fill-opacity="0.85"/>
<circle cx="530.55" cy="162.24" r="0.6" fill="#b82a0a" fill-opacity="0.85"/>
<circle cx="529.1" cy="162.05" r="0.6" fill="#b82a0a" fill-opacity="0.85"/>
<circle cx="530.74" cy="116" r="0.6" fill="#b82a0a" fill-opacity="0.85"/>
<circle cx="528.79" cy="160.6" r="0.6" fill="#b82a0a" fill-opacity="0.85"/>
<circle cx="529.08" cy="161.09" r="0.6" fill="#b82a0a" fill-opacity="0.85"/>
<circle cx="531.41" cy="162.24" r="0.6" fill="#b82a0a" fill-opacity="0.85"/>
<circle cx="530.67" cy="156.11" r="0.6" fill="#b82a0a" fill-opacity="0.85"/>
<circle cx="527.95" cy="103.94" r="0.6" fill="#b82a0a" fill-opacity="0.85"/>
<circle cx="528.91" cy="110.82" r="0.6" fill="#b82a0a" fill-opacity="0.85"/>
<circle cx="527.84" cy="103.94" r="0.6" fill="#b82a0a" fill-opacity="0.85"/>
<circle cx="530.58" cy="162.54" r="0.6" fill="#b82a0a" fill-opacity="0.85"/>
<circle cx="530.08" cy="155.22" r="0.6" fill="#b82a0a" fill-opacity="0.85"/>
<circle cx="528.8" cy="161.81" r="0.6" fill="#b82a0a" fill-opacity="0.85"/>
<circle cx="530.72" cy="116" r="0.6" fill="#b82a0a" fill-opacity="0.85"/>
<circle cx="532.32" cy="108.06" r="0.6" fill="#b82a0a" fill-opacity="0.85"/>
<circle cx="531.55" cy="108.06" r="0.6" fill="#b82a0a" fill-opacity="0.85"/>
<circle cx="528.97" cy="111.56" r="0.6" fill="#b82a0a" fill-opacity="0.85"/>
<circle cx="528.43" cy="162.24" r="0.6" fill="#b82a0a" fill-opacity="0.85"/>
<circle cx="530.98" cy="161.5" r="0.6" fill="#b82a0a" fill-opacity="0.85"/>
<circle cx="529.97" cy="150" r="0.6" fill="#b82a0a" fill-opacity="0.85"/>
<circle cx="530.56" cy="158.56" r="0.6" fill="#b82a0a" fill-opacity="0.85"/>
<circle cx="530.34" cy="109.07" r="0.6" fill="#b82a0a" fill-opacity="0.85"/>
<circle cx="530.05" cy="162.24" r="0.6" fill="#b82a0a" fill-opacity="0.85"/>
<circle cx="530.58" cy="116.31" r="0.6" fill="#b82a0a" fill-opacity="0.85"/>
<circle cx="529.93" cy="153.47" r="0.6" fill="#b82a0a" fill-opacity="0.85"/>
<circle cx="531.21" cy="107.02" r="0.6" fill="#b82a0a" fill-opacity="0.85"/>
<circle cx="529.38" cy="107.02" r="0.6" fill="#b82a0a" fill-opacity="0.85"/>
<circle cx="530.04" cy="99" r="0.6" fill="#b82a0a" fill-opacity="0.85"/>
<circle cx="529.65" cy="157.95" r="0.6" fill="#b82a0a" fill-opacity="0.85"/>
<circle cx="530.49" cy="134.81" r="0.6" fill="#b82a0a" fill-opacity="0.85"/>
<circle cx="530.65" cy="116.32" r="0.6" fill="#b82a0a" fill-opacity="0.85"/>
<circle cx="531.2" cy="162.66" r="0.6" fill="#b82a0a" fill-opacity="0.85"/>
<circle cx="530.26" cy="115.18" r="0.6" fill="#b82a0a" fill-opacity="0.85"/>
<circle cx="529.35" cy="99.62" r="0.6" fill="#b82a0a" fill-opacity="0.85"/>
<circle cx="531.89" cy="109.07" r="0.6" fill="#b82a0a" fill-opacity="0.85"/>
<circle cx="531.56" cy="99.62" r="0.6" fill="#b82a0a" fill-opacity="0.85"/>
<circle cx="529.82" cy="157.95" r="0.6" fill="#b82a0a" fill-opacity="0.85"/>
<circle cx="529.07" cy="107.02" r="0.6" fill="#b82a0a" fill-opacity="0.85"/>
<circle cx="529.34" cy="113" r="0.6" fill="#b82a0a" fill-opacity="0.85"/>
<circle cx="528.89" cy="102" r="0.6" fill="#b82a0a" fill-opacity="0.85"/>
<circle cx="529.57" cy="160.06" r="0.6" fill="#b82a0a" fill-opacity="0.85"/>
<circle cx="530.6" cy="116.31" r="0.6" fill="#b82a0a" fill-opacity="0.85"/>
<circle cx="530.21" cy="157" r="0.6" fill="#b82a0a" fill-opacity="0.85"/>
<circle cx="531.25" cy="101.14" r="0.6" fill="#b82a0a" fill-opacity="0.85"/>
<line x1="528" y1="111" x2="532.4" y2="111" stroke="#111" stroke-width="0.8"/>
<path d="M537.6 134.5 L537.52 134.66 L537.41 134.88 L537.3 135.27 L537.2 136 L537.13 137.14 L537.08 138.59 L537.03 140.25 L537 142 L537 143.95 L537.02 146.12 L537.03 148.23 L537 150 L536.92 151.3 L536.81 152.31 L536.67 153.16 L536.5 154 L536.29 154.83 L536.04 155.59 L535.77 156.31 L535.5 157 L535.22 157.67 L534.92 158.31 L534.64 158.92 L534.4 159.5 L534.17 160.06 L533.96 160.59 L533.81 161.08 L533.8 161.5 L533.95 161.83 L534.21 162.09 L534.57 162.31 L535 162.5 L535.57 162.67 L536.27 162.81 L536.94 162.92 L537.4 163 L538.6 163 L539.06 162.92 L539.73 162.81 L540.43 162.67 L541 162.5 L541.43 162.31 L541.79 162.09 L542.05 161.83 L542.2 161.5 L542.19 161.08 L542.04 160.59 L541.83 160.06 L541.6 159.5 L541.36 158.92 L541.08 158.31 L540.78 157.67 L540.5 157 L540.23 156.31 L539.96 155.59 L539.71 154.83 L539.5 154 L539.33 153.16 L539.19 152.31 L539.08 151.3 L539 150 L538.97 148.23 L538.98 146.12 L539 143.95 L539 142 L538.97 140.25 L538.92 138.59 L538.87 137.14 L538.8 136 L538.7 135.27 L538.59 134.88 L538.48 134.66 L538.4 134.5Z" fill="#b5c78f" stroke="#5a7a1c" stroke-width="0.65"/>
<circle cx="538" cy="162.67" r="0.6" fill="#46660c" fill-opacity="0.85"/>
<circle cx="537.52" cy="136" r="0.6" fill="#46660c" fill-opacity="0.85"/>
<circle cx="538.63" cy="146.12" r="0.6" fill="#46660c" fill-opacity="0.85"/>
<circle cx="538.7" cy="160.59" r="0.6" fill="#46660c" fill-opacity="0.85"/>
<circle cx="538.6" cy="162.92" r="0.6" fill="#46660c" fill-opacity="0.85"/>
<circle cx="539.57" cy="157" r="0.6" fill="#46660c" fill-opacity="0.85"/>
<circle cx="538.95" cy="160.59" r="0.6" fill="#46660c" fill-opacity="0.85"/>
<circle cx="538.13" cy="152.31" r="0.6" fill="#46660c" fill-opacity="0.85"/>
<circle cx="537.59" cy="162.81" r="0.6" fill="#46660c" fill-opacity="0.85"/>
<circle cx="539.12" cy="154.83" r="0.6" fill="#46660c" fill-opacity="0.85"/>
<circle cx="536.63" cy="158.31" r="0.6" fill="#46660c" fill-opacity="0.85"/>
<circle cx="536.95" cy="161.83" r="0.6" fill="#46660c" fill-opacity="0.85"/>
<line x1="535.8" y1="160" x2="540.2" y2="160" stroke="#111" stroke-width="0.8"/>
<text x="107.9" y="232.7" font-size="7.8" text-anchor="start" font-weight="normal" fill="#231f20">Clone A (327 cells)</text>
<text x="101.2" y="243.45" font-size="7.8" text-anchor="end" font-weight="normal" fill="#231f20">SV</text>
<line x1="104.7" y1="240.7" x2="107.5" y2="240.7" stroke="#4a4a4a" stroke-width="0.6"/>
<line x1="107.5" y1="237.7" x2="107.5" y2="243.7" stroke="#dddddd" stroke-width="0.5"/>
<line x1="107.5" y1="249" x2="107.5" y2="300" stroke="#4a4a4a" stroke-width="0.6"/>
<line x1="104.7" y1="257" x2="107.5" y2="257" stroke="#4a4a4a" stroke-width="0.6"/>
<text x="101.2" y="259.75" font-size="7.8" text-anchor="end" font-weight="normal" fill="#231f20">10</text>
<line x1="104.7" y1="274.5" x2="107.5" y2="274.5" stroke="#4a4a4a" stroke-width="0.6"/>
<text x="101.2" y="277.25" font-size="7.8" text-anchor="end" font-weight="normal" fill="#231f20">5</text>
<line x1="104.7" y1="287" x2="107.5" y2="287" stroke="#4a4a4a" stroke-width="0.6"/>
<text x="101.2" y="289.75" font-size="7.8" text-anchor="end" font-weight="normal" fill="#231f20">2</text>
<line x1="104.7" y1="296.6" x2="107.5" y2="296.6" stroke="#4a4a4a" stroke-width="0.6"/>
<text x="101.2" y="299.35" font-size="7.8" text-anchor="end" font-weight="normal" fill="#231f20">0</text>
<text x="86" y="275.5" font-size="7.8" text-anchor="middle" font-weight="normal" fill="#231f20" transform="rotate(-90 86 275.5)">CN</text>
<path d="M108 275.8 108.5 275.3 109 275.1 109.5 275.5 110 275.3 110.5 275.1 111 275.7 111.5 275 112 275.6 112.5 275.7 113 275.9 113.5 275.9 114 275.7 114.5 275.2 115 275.7 115.5 275.3 116 275.8 116.5 275.6 117 275.3 117.5 275.3 118 275.4 118.5 275.9 119 275.4 119.5 275.1 120 275.6 120.5 275.3 121 275.8 121.5 275.3 122 275.2 122.5 275.2 123 275.1 123.5 275.1 123.5 282 123 281.2 122.5 281.5 122 281.2 121.5 281.8 121 281.4 120.5 281.9 120 281.3 119.5 281.3 119 281.5 118.5 281.1 118 281.7 117.5 281.6 117 281.9 116.5 281.5 116 281.2 115.5 281.5 115 281.8 114.5 281.2 114 281.9 113.5 281.9 113 281.5 112.5 281.8 112 281.8 111.5 281.3 111 281.1 110.5 281.3 110 281.9 109.5 281.3 109 281.9 108.5 281.3 108 281.3Z" fill="#f59461"/>
<path d="M129.6 275.3 130.2 275.6 130.8 275.1 131.4 275.5 132 275.4 132 281.8 131.4 281.4 130.8 281.2 130.2 281.4 129.6 281.2Z" fill="#f59461"/>
<path d="M135 275.9 135.5 275.9 136 275.3 136.5 275.2 137 275 137.5 275.8 138 275.3 138 281.4 137.5 281.7 137 281.1 136.5 281.2 136 281.8 135.5 281.5 135 281.3Z" fill="#f59461"/>
<path d="M140.4 275.3 140.9 275.6 141.4 275.5 141.9 275.2 142.5 275.4 143 275.1 143.5 275.8 143.5 281.9 143 281.9 142.5 282 141.9 281.2 141.4 281.2 140.9 281.4 140.4 281.5Z" fill="#f59461"/>
<path d="M154.2 275.9 154.7 275.7 155.2 275 155.8 275.5 156.3 275.2 156.8 275 157.3 275.8 157.8 275.2 158.3 275.1 158.8 275.5 159.4 275.5 159.9 275.3 160.4 275.2 160.9 275.2 161.4 275.4 161.9 275.9 162.5 275.9 163 275.7 163.5 275.1 163.5 281.3 163 281.2 162.5 281.8 161.9 281.3 161.4 281.5 160.9 281.1 160.4 281.9 159.9 281.5 159.4 281.3 158.8 281.8 158.3 281.5 157.8 281.8 157.3 281.9 156.8 281.4 156.3 281.1 155.8 281.3 155.2 281.3 154.7 281.7 154.2 281.3Z" fill="#f59461"/>
<path d="M167.3 275.3 167.9 275.3 168.4 275.7 169 275.6 169.6 275.5 169.6 281.1 169 281.4 168.4 281.9 167.9 281.1 167.3 281.7Z" fill="#f59461"/>
<path d="M172.7 275.2 173.2 275 173.7 275.3 174.2 275.1 174.8 275 175.3 275.4 175.8 275.8 176.3 275.4 176.8 275.4 177.3 275 177.8 275.8 178.3 275 178.9 275.5 179.4 275.7 179.9 275.9 180.4 275 180.4 281.7 179.9 281.6 179.4 281.9 178.9 281.9 178.3 281.5 177.8 281.4 177.3 281.1 176.8 281.4 176.3 281.8 175.8 281.4 175.3 281.6 174.8 281.6 174.2 281.5 173.7 282 173.2 281.4 172.7 281.8Z" fill="#f59461"/>
<path d="M183.5 275.7 184 275.1 184.5 275 185 275.8 185.5 275.2 186.1 275.9 186.6 275.5 187.1 275.9 187.6 275.6 188.1 275.5 188.6 275.5 189.1 275.9 189.6 275.7 190.1 275.6 190.6 275.6 191.2 275.7 191.7 275.9 192.2 275.2 192.7 275.6 193.2 275.2 193.7 275.1 194.2 275.8 194.7 275.7 195.2 275.1 195.7 275.1 196.2 275.7 196.8 275.6 197.3 275.7 197.8 275.3 198.3 275.7 198.8 275.3 198.8 281.2 198.3 281.1 197.8 281.2 197.3 281.3 196.8 281.6 196.2 281.6 195.7 281.4 195.2 281.7 194.7 281.6 194.2 281.7 193.7 282 193.2 281.4 192.7 281.3 192.2 281.7 191.7 281.3 191.2 282 190.6 281.7 190.1 281.3 189.6 281.3 189.1 281.4 188.6 281.6 188.1 281.4 187.6 281.7 187.1 281.5 186.6 282 186.1 281.4 185.5 281.7 185 281.8 184.5 281.5 184 281.3 183.5 281.3Z" fill="#f59461"/>
<path d="M108 266.4 108.5 266.1 109 266.3 109.5 265.7 110 266.5 110.5 265.8 111 265.6 111 274.3 110.5 274.6 110 274.2 109.5 274.5 109 274.6 108.5 274.6 108 275Z" fill="#b3121c"/>
<path d="M122.7 266.8 123.2 267.3 123.8 267.3 124.3 267.1 124.8 267.6 125.3 267.2 125.9 267.5 126.4 267.5 126.9 267 127.5 266.7 128 266.7 128 274.9 127.5 274.3 126.9 274.8 126.4 274.1 125.9 274.2 125.3 274.5 124.8 275.2 124.3 274.5 123.8 274.3 123.2 274.9 122.7 274.5Z" fill="#b3121c"/>
<path d="M128 266.6 128.5 266.4 129 265.8 129.6 266.4 130.1 265.9 130.6 265.5 131.1 266.3 131.6 266.1 132.2 265.7 132.7 265.6 133.2 266.2 133.7 266.3 134.2 265.5 134.8 265.5 135.3 265.8 135.8 266.3 135.8 274.6 135.3 275 134.8 274.6 134.2 275.1 133.7 274.9 133.2 275.2 132.7 274.7 132.2 274.3 131.6 274.5 131.1 274.3 130.6 275 130.1 274.5 129.6 274.2 129 274.1 128.5 275.1 128 274.3Z" fill="#b3121c"/>
<path d="M136.5 267.1 137 267.8 137.5 268 138 267.5 138.5 268.2 139 267.4 139.5 268 140 268.1 140.5 268.1 141 267.6 141.5 267.4 142 267.6 142 274.5 141.5 274.2 141 274.5 140.5 274.3 140 274.7 139.5 274.1 139 274.8 138.5 274.7 138 274.4 137.5 274.5 137 274.9 136.5 275Z" fill="#b3121c"/>
<path d="M163.2 266.4 163.7 265.6 164.2 266.4 164.8 265.8 165.3 266.3 165.8 265.7 165.8 274.7 165.3 274.4 164.8 275.1 164.2 274 163.7 275.2 163.2 275.1Z" fill="#b3121c"/>
<path d="M167.3 266 167.8 266.1 168.4 266 168.9 266.7 169.4 265.6 170 265.8 170.5 265.6 171 266.3 171.5 265.6 172.1 266.5 172.6 266.4 173.1 265.8 173.7 265.7 174.2 266.1 174.2 274.5 173.7 274.6 173.1 274.3 172.6 274.7 172.1 274.4 171.5 275.2 171 274.2 170.5 274.1 170 274.7 169.4 274.6 168.9 274.6 168.4 274.9 167.8 275 167.3 274.9Z" fill="#b3121c"/>
<path d="M178 267.6 178.5 268.1 179 267.8 179.5 267 180 268.1 180.5 267.7 181 267.8 181.5 267.9 182 267.5 182.5 267.3 183 267.4 183.5 268 184 267.2 184.5 267.2 185 267.3 185 274.2 184.5 275 184 274.3 183.5 274.5 183 274.3 182.5 274.7 182 274.8 181.5 274.9 181 274.2 180.5 274.8 180 275.1 179.5 274.4 179 274.4 178.5 275.2 178 274.1Z" fill="#b3121c"/>
<path d="M108.4 262 109 261.9 109.5 261.6 110 261.3 110.6 261.6 110.6 267.2 110 267.6 109.5 267.5 109 266.9 108.4 267.7Z" fill="#d81f7c"/>
<path d="M124.8 258.8 125.3 259.3 125.8 259.2 126.4 259.2 126.9 259.7 127.4 259.7 128 259.1 128.5 259.1 129 259.5 129 267.8 128.5 267.6 128 267.7 127.4 267.6 126.9 267.5 126.4 267.2 125.8 267.5 125.3 267 124.8 267.1Z" fill="#d81f7c"/>
<path d="M131 260.6 131.5 260.8 132 260.5 132.5 260.5 133 260.2 133.5 260.2 134 260.7 134.5 260.3 135 260.8 135.5 260.7 135.5 267.3 135 267.4 134.5 267.2 134 267.6 133.5 267.1 133 267 132.5 267.6 132 267.4 131.5 267.7 131 267.4Z" fill="#d81f7c"/>
<path d="M163.5 259.4 164 258.8 164.5 258.8 165 259.6 165.5 259.4 166 259.6 166.5 259.3 167 259.2 167.5 258.9 168 259.5 168 266.9 167.5 267.3 167 267.5 166.5 267 166 267.6 165.5 267 165 267 164.5 267.5 164 267.2 163.5 266.9Z" fill="#d81f7c"/>
<path d="M169 261.6 169.5 261.2 170 262.1 170.5 261.5 170.5 267.1 170 267.4 169.5 267.1 169 267.4Z" fill="#d81f7c"/>
<path d="M109.4 250.4 110.1 249.9 110.8 250.4 110.8 260.2 110.1 260.3 109.4 260Z" fill="#d8a8dc"/>
<path d="M125.8 250.4 126.3 250 126.8 250.4 127.4 249.9 127.9 250.1 128.4 250.4 128.4 260.5 127.9 260.6 127.4 260.1 126.8 260.2 126.3 260.5 125.8 259.9Z" fill="#d8a8dc"/>
<path d="M164.2 250.4 164.7 250.5 165.2 250.1 165.7 250.3 166.2 250.5 166.7 250.1 167.2 250.3 167.2 260.1 166.7 260.1 166.2 260.1 165.7 260.6 165.2 260.2 164.7 260 164.2 260.7Z" fill="#d8a8dc"/>
<rect x="137.12" y="265.08" width="1" height="1" fill="#c01860"/>
<rect x="130.08" y="266.02" width="1" height="1" fill="#c01860"/>
<rect x="140.75" y="262.6" width="1" height="1" fill="#c01860"/>
<rect x="138.94" y="262.66" width="1" height="1" fill="#c01860"/>
<rect x="140.29" y="267.19" width="1" height="1" fill="#c01860"/>
<rect x="137.98" y="263.37" width="1" height="1" fill="#c01860"/>
<rect x="133.65" y="261.79" width="1" height="1" fill="#c01860"/>
<rect x="140.08" y="267.02" width="1" height="1" fill="#c01860"/>
<rect x="138" y="266.93" width="1" height="1" fill="#c01860"/>
<rect x="133.51" y="261.08" width="1" height="1" fill="#c01860"/>
<rect x="151.22" y="282.6" width="0.8" height="0.8" fill="#f59461"/>
<rect x="161.74" y="282.27" width="0.8" height="0.8" fill="#f59461"/>
<rect x="166.7" y="281.42" width="0.8" height="0.8" fill="#f59461"/>
<rect x="151.97" y="281.08" width="0.8" height="0.8" fill="#f59461"/>
<rect x="143.13" y="282.52" width="0.8" height="0.8" fill="#f59461"/>
<rect x="191.41" y="281.83" width="0.8" height="0.8" fill="#f59461"/>
<rect x="171.91" y="281.25" width="0.8" height="0.8" fill="#f59461"/>
<rect x="166.21" y="282.4" width="0.8" height="0.8" fill="#f59461"/>
<rect x="114.53" y="282.55" width="0.8" height="0.8" fill="#f59461"/>
<rect x="123.34" y="280.69" width="0.8" height="0.8" fill="#f59461"/>
<rect x="109.68" y="281.41" width="0.8" height="0.8" fill="#f59461"/>
<rect x="174.86" y="281.08" width="0.8" height="0.8" fill="#f59461"/>
<rect x="126.85" y="237.3" width="0.9" height="6.8" fill="#e0203a"/>
<rect x="131.05" y="237.3" width="0.9" height="6.8" fill="#e0203a"/>
<rect x="162.95" y="237.3" width="0.9" height="6.8" fill="#e0203a"/>
<rect x="164.75" y="237.3" width="0.9" height="6.8" fill="#f0a060"/>
<rect x="165.95" y="237.3" width="0.9" height="6.8" fill="#f6c662"/>
<rect x="116" y="297" width="2" height="1.6" fill="#bbb"/>
<rect x="120" y="297" width="2.7" height="1.6" fill="#bbb"/>
<rect x="125" y="297" width="3.8" height="1.6" fill="#bbb"/>
<rect x="132.7" y="297" width="3.1" height="1.6" fill="#bbb"/>
<rect x="142.7" y="297" width="3.8" height="1.6" fill="#e03a30"/>
<rect x="147.3" y="297" width="7.7" height="1.6" fill="#dcdcdc"/>
<rect x="161" y="297" width="4" height="1.6" fill="#bbb"/>
<rect x="166.5" y="297" width="9.3" height="1.6" fill="#111"/>
<rect x="179.6" y="297" width="1.4" height="1.6" fill="#bbb"/>
<rect x="182.7" y="297" width="5.3" height="1.6" fill="#888"/>
<rect x="191" y="297" width="1.5" height="1.6" fill="#bbb"/>
<rect x="196.5" y="297" width="1" height="1.6" fill="#bbb"/>
<text x="107.9" y="342.2" font-size="7.8" text-anchor="start" font-weight="normal" fill="#231f20">Clone C (98 cells)</text>
<text x="101.2" y="353.55" font-size="7.8" text-anchor="end" font-weight="normal" fill="#231f20">SV</text>
<line x1="104.7" y1="350.8" x2="107.5" y2="350.8" stroke="#4a4a4a" stroke-width="0.6"/>
<line x1="107.5" y1="347.8" x2="107.5" y2="353.8" stroke="#dddddd" stroke-width="0.5"/>
<line x1="107.5" y1="359" x2="107.5" y2="410.6" stroke="#4a4a4a" stroke-width="0.6"/>
<line x1="104.7" y1="366.8" x2="107.5" y2="366.8" stroke="#4a4a4a" stroke-width="0.6"/>
<text x="101.2" y="369.55" font-size="7.8" text-anchor="end" font-weight="normal" fill="#231f20">10</text>
<line x1="104.7" y1="384" x2="107.5" y2="384" stroke="#4a4a4a" stroke-width="0.6"/>
<text x="101.2" y="386.75" font-size="7.8" text-anchor="end" font-weight="normal" fill="#231f20">5</text>
<line x1="104.7" y1="396.9" x2="107.5" y2="396.9" stroke="#4a4a4a" stroke-width="0.6"/>
<text x="101.2" y="399.65" font-size="7.8" text-anchor="end" font-weight="normal" fill="#231f20">2</text>
<line x1="104.7" y1="406.8" x2="107.5" y2="406.8" stroke="#4a4a4a" stroke-width="0.6"/>
<text x="101.2" y="409.55" font-size="7.8" text-anchor="end" font-weight="normal" fill="#231f20">0</text>
<text x="86" y="385.5" font-size="7.8" text-anchor="middle" font-weight="normal" fill="#231f20" transform="rotate(-90 86 385.5)">CN</text>
<line x1="107.5" y1="410.6" x2="199.6" y2="410.6" stroke="#4a4a4a" stroke-width="0.6"/>
<line x1="158.3" y1="410.6" x2="158.3" y2="413.4" stroke="#4a4a4a" stroke-width="0.6"/>
<text x="158.3" y="423.1" font-size="7.8" text-anchor="middle" font-weight="normal" fill="#231f20">50</text>
<text x="153.7" y="436.2" font-size="7.8" text-anchor="middle" font-weight="normal" fill="#231f20">Chr. 16 (Mb)</text>
<path d="M108 394.4 108.5 395 109 395 109.5 395.1 110 394.8 110.5 395.1 111 394.8 111.5 394.8 112 395.1 112.5 394.8 113 394.5 113.5 394.6 114 394.8 114.5 394.7 115 394.3 115.5 394.4 116 395 116.5 395.1 117 394.4 117.5 394.4 118 394.5 118.5 394.4 119 395 119.5 395 120 394.8 120.5 395 121 394.6 121.5 394.6 122 395.1 122.5 394.7 123 394.5 123.5 394.9 123.5 399.1 123 398.8 122.5 398.9 122 399.4 121.5 398.9 121 399 120.5 399 120 399.5 119.5 399.4 119 399 118.5 399 118 399.4 117.5 399.2 117 399.3 116.5 399.3 116 399.4 115.5 399.3 115 398.8 114.5 398.9 114 399.3 113.5 399.5 113 399.1 112.5 399.3 112 399.4 111.5 399.5 111 398.8 110.5 399.1 110 399.2 109.5 399.3 109 399.2 108.5 399.3 108 399.3Z" fill="#c8c8c8"/>
<path d="M127.3 394.4 127.8 394.8 128.3 394.4 128.8 395 129.4 395 129.9 394.6 130.4 395 130.4 398.7 129.9 399 129.4 398.9 128.8 399.1 128.3 399 127.8 399.2 127.3 399.1Z" fill="#c8c8c8"/>
<path d="M135 394.3 135.6 394.6 136.2 394.7 136.7 394.3 137.3 394.6 137.3 399.2 136.7 399.4 136.2 399.5 135.6 399.1 135 399.4Z" fill="#c8c8c8"/>
<path d="M140.4 394.4 140.9 394.7 141.4 394.9 141.9 394.7 142.5 394.8 143 394.7 143.5 395.1 143.5 398.7 143 398.7 142.5 399 141.9 399.4 141.4 399.2 140.9 399.1 140.4 398.9Z" fill="#c8c8c8"/>
<path d="M154.2 394.4 154.7 394.5 155.2 394.6 155.7 394.7 156.2 394.6 156.8 394.4 157.3 394.3 157.8 394.5 158.3 394.3 158.8 394.9 159.3 394.6 159.8 394.6 160.3 394.5 160.9 394.5 161.4 395 161.9 394.5 162.4 394.3 162.9 394.4 163.4 394.8 163.9 394.5 164.4 394.9 165 395.1 165.5 394.4 166 394.3 166.5 394.7 166.5 399.4 166 398.8 165.5 399.3 165 399.4 164.4 399.1 163.9 399.1 163.4 398.7 162.9 399.2 162.4 398.7 161.9 399.4 161.4 398.9 160.9 399 160.3 398.8 159.8 398.9 159.3 398.8 158.8 399.4 158.3 398.9 157.8 399.3 157.3 398.8 156.8 399.2 156.2 398.8 155.7 399.1 155.2 398.8 154.7 398.9 154.2 399.4Z" fill="#c8c8c8"/>
<path d="M167.5 394.4 168 395 168.5 394.7 169 394.9 169 398.9 168.5 399.1 168 399.1 167.5 399.2Z" fill="#c8c8c8"/>
<path d="M172.7 394.9 173.2 394.4 173.7 395 174.2 395 174.8 394.8 175.3 394.6 175.8 394.4 176.3 394.5 176.8 394.6 177.3 395 177.8 394.4 178.3 394.6 178.9 394.8 179.4 394.6 179.9 394.4 180.4 394.7 180.4 398.8 179.9 399.1 179.4 398.7 178.9 398.8 178.3 399.3 177.8 399 177.3 399.1 176.8 399.3 176.3 398.9 175.8 398.7 175.3 399.4 174.8 399.1 174.2 398.7 173.7 399.5 173.2 398.8 172.7 398.9Z" fill="#c8c8c8"/>
<path d="M183.5 394.7 184 394.6 184.5 394.9 185 394.5 185.5 395.1 186.1 394.8 186.6 394.3 187.1 394.8 187.6 394.7 188.1 395 188.6 394.4 189.1 394.6 189.6 395 190.1 395 190.6 395.1 191.2 394.9 191.7 394.6 192.2 394.5 192.7 394.8 193.2 394.6 193.7 394.8 194.2 395 194.7 394.8 195.2 394.9 195.7 394.6 196.2 395.1 196.8 394.4 197.3 395 197.8 394.7 198.3 395.1 198.8 394.7 198.8 399.1 198.3 399.1 197.8 399 197.3 398.7 196.8 399.1 196.2 398.7 195.7 398.9 195.2 398.7 194.7 399.2 194.2 399.1 193.7 399.2 193.2 399 192.7 399.2 192.2 398.9 191.7 399.2 191.2 399.2 190.6 399.4 190.1 399.3 189.6 399.4 189.1 399.1 188.6 398.8 188.1 399.2 187.6 399.1 187.1 398.9 186.6 399.3 186.1 399.2 185.5 399.4 185 399.2 184.5 399.1 184 398.8 183.5 399Z" fill="#c8c8c8"/>
<path d="M122.7 391 123.2 390.5 123.8 390.6 124.3 390.3 124.9 391 125.4 390.3 126 390.6 126.5 390.8 126.5 395.4 126 395.4 125.4 395.3 124.9 395.2 124.3 395.6 123.8 395.4 123.2 395.1 122.7 395.1Z" fill="#fbc378"/>
<path d="M130.4 390.5 130.9 390.8 131.5 390.3 132 390.4 132.6 390.8 133.1 390.5 133.6 390.9 134.2 390.6 134.7 390.8 135.3 391 135.8 390.3 135.8 396 135.3 395.7 134.7 396 134.2 395.8 133.6 395.1 133.1 396 132.6 395.8 132 395.8 131.5 396 130.9 395.4 130.4 395.4Z" fill="#fbc378"/>
<path d="M137.3 390.8 137.8 391 138.3 391 138.9 390.6 139.4 390.2 139.9 390.3 140.4 390.6 141 390.5 141.5 391 142 390.4 142 396 141.5 395.1 141 395.5 140.4 395.5 139.9 396 139.4 395.5 138.9 395.1 138.3 395.8 137.8 395.6 137.3 395.8Z" fill="#fbc378"/>
<path d="M163.5 390.4 164 390.3 164.5 390.9 165 390.3 165.5 390.6 166 390.8 166.5 391.1 167 390.3 167.5 390.4 168 390.5 168.5 390.7 169 390.3 169.5 391 170 390.4 170.5 390.6 171 390.5 171.5 390.9 172 390.3 172.5 390.6 173 390.2 173.5 390.5 173.5 395.8 173 395.8 172.5 395.8 172 395.9 171.5 395.6 171 395.5 170.5 395.4 170 395.2 169.5 395.2 169 395.1 168.5 395.7 168 395.2 167.5 395.8 167 395.4 166.5 395.6 166 395.5 165.5 395.7 165 395.6 164.5 395.8 164 395.4 163.5 395.6Z" fill="#fbc378"/>
<path d="M178 391 178.5 390.9 179 391.1 179.6 390.6 180.1 390.2 180.6 390.5 181.1 390.8 181.6 390.8 182.1 390.6 182.6 390.9 183.2 390.2 183.7 390.6 184.2 390.4 184.2 395.7 183.7 395.9 183.2 395.5 182.6 395.7 182.1 395.2 181.6 395.7 181.1 395.2 180.6 395.9 180.1 396 179.6 395.9 179 395.3 178.5 395.5 178 395.6Z" fill="#fbc378"/>
<path d="M194.2 390.6 194.7 390.8 195.2 390.3 195.8 391.1 196.3 390.7 196.8 391.1 197.3 390.3 197.3 395.8 196.8 395.2 196.3 395.5 195.8 396 195.2 395.7 194.7 395.1 194.2 395.9Z" fill="#fbc378"/>
<path d="M108.8 381.7 109.4 381.8 110 381.3 110.6 381.9 111.2 381.6 111.2 394.5 110.6 394.5 110 394 109.4 394.5 108.8 394.3Z" fill="#f3a060"/>
<path d="M109.2 377 109.8 376.7 110.4 376.7 111 376.7 111 386.5 110.4 386 109.8 385.9 109.2 386.2Z" fill="#e05838"/>
<path d="M123.8 381.1 124.3 380.4 124.8 381.1 125.3 380.7 125.8 380.7 126.3 380.8 126.8 380.7 127.3 380.6 127.8 380.4 127.8 392.2 127.3 391.6 126.8 391.6 126.3 391.5 125.8 392 125.3 392.3 124.8 392 124.3 391.7 123.8 392.3Z" fill="#f08048"/>
<path d="M124.6 373.5 125.1 374.1 125.6 373.7 126.2 374 126.7 373.3 127.2 373.8 127.2 384.1 126.7 384.2 126.2 384.5 125.6 384.8 125.1 384.6 124.6 384.1Z" fill="#e0402a"/>
<path d="M130.4 386.6 130.9 386.3 131.5 386.6 132 386.2 132.6 386.4 133.1 386.3 133.6 386.4 134.2 386.6 134.7 386.5 135.3 386 135.8 386.2 135.8 391.1 135.3 391.6 134.7 391.2 134.2 391.1 133.6 391.2 133.1 391.4 132.6 391.3 132 391.7 131.5 391.8 130.9 391.7 130.4 391.8Z" fill="#f0a060"/>
<path d="M164.8 386.4 165.3 385.9 165.9 386.3 166.4 386.4 166.9 386.2 167.5 386.6 168 386.4 168.5 386.4 169.1 386.2 169.6 386.3 169.6 391.7 169.1 391.8 168.5 391.7 168 391.8 167.5 391.6 166.9 391.8 166.4 391.9 165.9 391.9 165.3 392.1 164.8 392.1Z" fill="#f08850"/>
<path d="M132 384.7 132.5 384.6 133 385 133.5 384.7 134 384.5 134.5 384.7 134.5 388.3 134 388.3 133.5 388.3 133 388.1 132.5 388.3 132 388.3Z" fill="#e06040"/>
<rect x="132.07" y="399.75" width="0.8" height="0.8" fill="#cccccc"/>
<rect x="140.88" y="399.27" width="0.8" height="0.8" fill="#cccccc"/>
<rect x="127.74" y="400.51" width="0.8" height="0.8" fill="#cccccc"/>
<rect x="195.65" y="399.21" width="0.8" height="0.8" fill="#cccccc"/>
<rect x="154.41" y="398.74" width="0.8" height="0.8" fill="#cccccc"/>
<rect x="182.98" y="399.14" width="0.8" height="0.8" fill="#cccccc"/>
<rect x="185.1" y="399.07" width="0.8" height="0.8" fill="#cccccc"/>
<rect x="154.31" y="399.98" width="0.8" height="0.8" fill="#cccccc"/>
<rect x="161.81" y="400.41" width="0.8" height="0.8" fill="#cccccc"/>
<rect x="174.42" y="399.56" width="0.8" height="0.8" fill="#cccccc"/>
<rect x="193.8" y="347.4" width="0.8" height="6.8" fill="#e0203a"/>
<rect x="195.7" y="347.4" width="0.8" height="6.8" fill="#e0203a"/>
<rect x="116" y="407" width="2" height="1.6" fill="#bbb"/>
<rect x="120" y="407" width="2.7" height="1.6" fill="#bbb"/>
<rect x="125" y="407" width="3.8" height="1.6" fill="#bbb"/>
<rect x="132.7" y="407" width="3.1" height="1.6" fill="#bbb"/>
<rect x="142.7" y="407" width="3.8" height="1.6" fill="#e03a30"/>
<rect x="147.3" y="407" width="7.7" height="1.6" fill="#dcdcdc"/>
<rect x="161" y="407" width="4" height="1.6" fill="#bbb"/>
<rect x="166.5" y="407" width="9.3" height="1.6" fill="#111"/>
<rect x="179.6" y="407" width="1.4" height="1.6" fill="#bbb"/>
<rect x="182.7" y="407" width="5.3" height="1.6" fill="#888"/>
<rect x="191" y="407" width="1.5" height="1.6" fill="#bbb"/>
<rect x="196.5" y="407" width="1" height="1.6" fill="#bbb"/>
<line x1="245.4" y1="231.5" x2="245.4" y2="266" stroke="#4a4a4a" stroke-width="0.6"/>
<line x1="242.6" y1="233.8" x2="245.4" y2="233.8" stroke="#4a4a4a" stroke-width="0.6"/>
<text x="239.1" y="236.55" font-size="7.8" text-anchor="end" font-weight="normal" fill="#231f20">0.6</text>
<line x1="242.6" y1="244.2" x2="245.4" y2="244.2" stroke="#4a4a4a" stroke-width="0.6"/>
<text x="239.1" y="246.95" font-size="7.8" text-anchor="end" font-weight="normal" fill="#231f20">0.4</text>
<line x1="242.6" y1="254.5" x2="245.4" y2="254.5" stroke="#4a4a4a" stroke-width="0.6"/>
<text x="239.1" y="257.25" font-size="7.8" text-anchor="end" font-weight="normal" fill="#231f20">0.2</text>
<line x1="242.6" y1="265.2" x2="245.4" y2="265.2" stroke="#4a4a4a" stroke-width="0.6"/>
<text x="239.1" y="267.95" font-size="7.8" text-anchor="end" font-weight="normal" fill="#231f20">0</text>
<rect x="247.8" y="232.6" width="5.3" height="33.4" fill="#c1380f"/>
<rect x="256.8" y="255" width="5.3" height="11" fill="#5a7a1c"/>
<text x="219.2" y="246.6" font-size="7.8" text-anchor="middle" font-weight="normal" fill="#231f20" transform="rotate(-90 219.2 246.6)">scWGS CCF</text>
<line x1="245.4" y1="272" x2="245.4" y2="307.5" stroke="#4a4a4a" stroke-width="0.6"/>
<line x1="242.6" y1="278" x2="245.4" y2="278" stroke="#4a4a4a" stroke-width="0.6"/>
<text x="239.1" y="280.75" font-size="7.8" text-anchor="end" font-weight="normal" fill="#231f20">40</text>
<line x1="242.6" y1="285.2" x2="245.4" y2="285.2" stroke="#4a4a4a" stroke-width="0.6"/>
<text x="239.1" y="287.95" font-size="7.8" text-anchor="end" font-weight="normal" fill="#231f20">30</text>
<line x1="242.6" y1="292" x2="245.4" y2="292" stroke="#4a4a4a" stroke-width="0.6"/>
<text x="239.1" y="294.75" font-size="7.8" text-anchor="end" font-weight="normal" fill="#231f20">20</text>
<line x1="242.6" y1="299.2" x2="245.4" y2="299.2" stroke="#4a4a4a" stroke-width="0.6"/>
<text x="239.1" y="301.95" font-size="7.8" text-anchor="end" font-weight="normal" fill="#231f20">10</text>
<line x1="242.6" y1="306.5" x2="245.4" y2="306.5" stroke="#4a4a4a" stroke-width="0.6"/>
<text x="239.1" y="309.25" font-size="7.8" text-anchor="end" font-weight="normal" fill="#231f20">0</text>
<rect x="247.8" y="274" width="5.3" height="33.3" fill="#c1380f"/>
<rect x="256.8" y="281.6" width="5.3" height="25.7" fill="#5a7a1c"/>
<text x="216.1" y="291" font-size="7.8" text-anchor="middle" font-weight="normal" fill="#231f20" transform="rotate(-90 216.1 291)">No. of</text>
<text x="224.5" y="291" font-size="7.8" text-anchor="middle" font-weight="normal" fill="#231f20" transform="rotate(-90 224.5 291)">SVs</text>
<line x1="245.1" y1="314.3" x2="245.1" y2="383.7" stroke="#4a4a4a" stroke-width="0.6"/>
<line x1="242.3" y1="327.7" x2="245.1" y2="327.7" stroke="#4a4a4a" stroke-width="0.6"/>
<text x="238.8" y="331.65" font-size="7.8" text-anchor="end" fill="#231f20">10<tspan font-size="5.62" dy="-3">−2</tspan></text>
<line x1="242.3" y1="354.3" x2="245.1" y2="354.3" stroke="#4a4a4a" stroke-width="0.6"/>
<text x="238.8" y="358.25" font-size="7.8" text-anchor="end" fill="#231f20">10<tspan font-size="5.62" dy="-3">−3</tspan></text>
<line x1="242.3" y1="380" x2="245.1" y2="380" stroke="#4a4a4a" stroke-width="0.6"/>
<text x="238.8" y="382.75" font-size="7.8" text-anchor="end" font-weight="normal" fill="#231f20">0</text>
<line x1="245.1" y1="383.7" x2="265" y2="383.7" stroke="#4a4a4a" stroke-width="0.6"/>
<line x1="250.9" y1="383.7" x2="250.9" y2="386.5" stroke="#4a4a4a" stroke-width="0.6"/>
<text x="250.9" y="396.1" font-size="7.8" text-anchor="middle" font-weight="normal" fill="#231f20">A</text>
<line x1="259" y1="383.7" x2="259" y2="386.5" stroke="#4a4a4a" stroke-width="0.6"/>
<text x="259" y="396.1" font-size="7.8" text-anchor="middle" font-weight="normal" fill="#231f20">C</text>
<text x="254.5" y="407.1" font-size="7.8" text-anchor="middle" font-weight="normal" fill="#231f20">Clone</text>
<text x="222.2" y="352" font-size="7.8" text-anchor="middle" font-weight="normal" fill="#231f20" transform="rotate(-90 222.2 352)">cfDNA VAF</text>
<path d="M250.4 335.5 L250.3 335.62 L250.16 335.75 L250.01 336.13 L249.9 337 L249.85 338.5 L249.83 340.47 L249.82 342.71 L249.8 345 L249.78 347.36 L249.77 349.88 L249.75 352.45 L249.7 355 L249.64 357.62 L249.56 360.31 L249.45 362.85 L249.3 365 L249.09 366.6 L248.84 367.81 L248.56 368.87 L248.3 370 L248.04 371.27 L247.78 372.56 L247.52 373.82 L247.3 375 L247.08 376.12 L246.86 377.2 L246.71 378.18 L246.7 379 L246.85 379.64 L247.11 380.12 L247.47 380.49 L247.9 380.8 L248.47 381.03 L249.18 381.16 L249.84 381.24 L250.3 381.3 L251.5 381.3 L251.96 381.24 L252.62 381.16 L253.33 381.03 L253.9 380.8 L254.33 380.49 L254.69 380.12 L254.95 379.64 L255.1 379 L255.09 378.18 L254.94 377.2 L254.72 376.12 L254.5 375 L254.28 373.82 L254.03 372.56 L253.76 371.27 L253.5 370 L253.24 368.87 L252.96 367.81 L252.71 366.6 L252.5 365 L252.35 362.85 L252.24 360.31 L252.16 357.62 L252.1 355 L252.05 352.45 L252.03 349.88 L252.02 347.36 L252 345 L251.98 342.71 L251.97 340.47 L251.95 338.5 L251.9 337 L251.79 336.13 L251.64 335.75 L251.5 335.62 L251.4 335.5Z" fill="#e48a6c" stroke="#c8441c" stroke-width="0.65"/>
<circle cx="251.98" cy="376.12" r="0.6" fill="#b82a0a" fill-opacity="0.85"/>
<circle cx="251.49" cy="379.64" r="0.6" fill="#b82a0a" fill-opacity="0.85"/>
<circle cx="250.14" cy="352.45" r="0.6" fill="#b82a0a" fill-opacity="0.85"/>
<circle cx="251.11" cy="368.87" r="0.6" fill="#b82a0a" fill-opacity="0.85"/>
<circle cx="250.32" cy="340.47" r="0.6" fill="#b82a0a" fill-opacity="0.85"/>
<circle cx="248.85" cy="372.56" r="0.6" fill="#b82a0a" fill-opacity="0.85"/>
<circle cx="250.01" cy="381.03" r="0.6" fill="#b82a0a" fill-opacity="0.85"/>
<circle cx="249.98" cy="380.12" r="0.6" fill="#b82a0a" fill-opacity="0.85"/>
<circle cx="251.32" cy="381.3" r="0.6" fill="#b82a0a" fill-opacity="0.85"/>
<circle cx="251.24" cy="381.3" r="0.6" fill="#b82a0a" fill-opacity="0.85"/>
<circle cx="253.57" cy="379.64" r="0.6" fill="#b82a0a" fill-opacity="0.85"/>
<circle cx="250.07" cy="357.62" r="0.6" fill="#b82a0a" fill-opacity="0.85"/>
<circle cx="251.57" cy="378.18" r="0.6" fill="#b82a0a" fill-opacity="0.85"/>
<circle cx="250.2" cy="357.62" r="0.6" fill="#b82a0a" fill-opacity="0.85"/>
<circle cx="250.52" cy="381.3" r="0.6" fill="#b82a0a" fill-opacity="0.85"/>
<circle cx="250.14" cy="381.16" r="0.6" fill="#b82a0a" fill-opacity="0.85"/>
<circle cx="250.7" cy="335.75" r="0.6" fill="#b82a0a" fill-opacity="0.85"/>
<circle cx="250.78" cy="340.47" r="0.6" fill="#b82a0a" fill-opacity="0.85"/>
<circle cx="251.25" cy="338.5" r="0.6" fill="#b82a0a" fill-opacity="0.85"/>
<circle cx="251.2" cy="380.8" r="0.6" fill="#b82a0a" fill-opacity="0.85"/>
<circle cx="250.83" cy="349.88" r="0.6" fill="#b82a0a" fill-opacity="0.85"/>
<circle cx="250.81" cy="380.12" r="0.6" fill="#b82a0a" fill-opacity="0.85"/>
<circle cx="251.49" cy="366.6" r="0.6" fill="#b82a0a" fill-opacity="0.85"/>
<circle cx="250.7" cy="379" r="0.6" fill="#b82a0a" fill-opacity="0.85"/>
<circle cx="251.52" cy="352.45" r="0.6" fill="#b82a0a" fill-opacity="0.85"/>
<circle cx="250.3" cy="379.64" r="0.6" fill="#b82a0a" fill-opacity="0.85"/>
<circle cx="250.34" cy="357.62" r="0.6" fill="#b82a0a" fill-opacity="0.85"/>
<circle cx="250.49" cy="381.03" r="0.6" fill="#b82a0a" fill-opacity="0.85"/>
<circle cx="250.35" cy="342.71" r="0.6" fill="#b82a0a" fill-opacity="0.85"/>
<circle cx="251.29" cy="345" r="0.6" fill="#b82a0a" fill-opacity="0.85"/>
<circle cx="250.93" cy="352.45" r="0.6" fill="#b82a0a" fill-opacity="0.85"/>
<circle cx="251.15" cy="337" r="0.6" fill="#b82a0a" fill-opacity="0.85"/>
<circle cx="249.49" cy="379" r="0.6" fill="#b82a0a" fill-opacity="0.85"/>
<circle cx="250.37" cy="349.88" r="0.6" fill="#b82a0a" fill-opacity="0.85"/>
<circle cx="250.28" cy="381.24" r="0.6" fill="#b82a0a" fill-opacity="0.85"/>
<circle cx="249.82" cy="377.2" r="0.6" fill="#b82a0a" fill-opacity="0.85"/>
<circle cx="249.84" cy="367.81" r="0.6" fill="#b82a0a" fill-opacity="0.85"/>
<circle cx="252.12" cy="380.49" r="0.6" fill="#b82a0a" fill-opacity="0.85"/>
<circle cx="250.34" cy="342.71" r="0.6" fill="#b82a0a" fill-opacity="0.85"/>
<circle cx="251.56" cy="347.36" r="0.6" fill="#b82a0a" fill-opacity="0.85"/>
<line x1="248.7" y1="371.4" x2="253.1" y2="371.4" stroke="#111" stroke-width="0.8"/>
<path d="M258.5 315.5 L258.41 315.62 L258.27 315.75 L258.12 316.13 L258 317 L257.93 318.61 L257.88 320.78 L257.81 323.06 L257.7 325 L257.53 326.46 L257.32 327.69 L257.07 328.82 L256.8 330 L256.46 331.23 L256.07 332.44 L255.69 333.68 L255.4 335 L255.2 336.43 L255.05 337.94 L254.98 339.48 L255 341 L255.14 342.52 L255.38 344.06 L255.68 345.57 L256 347 L256.38 348.25 L256.82 349.38 L257.25 350.56 L257.6 352 L257.85 353.62 L258.04 355.38 L258.18 357.44 L258.3 360 L258.39 363.48 L258.44 367.66 L258.48 371.75 L258.5 375 L258.51 377.17 L258.51 378.69 L258.5 379.73 L258.5 380.5 L259.5 380.5 L259.5 379.73 L259.49 378.69 L259.49 377.17 L259.5 375 L259.52 371.75 L259.56 367.66 L259.61 363.48 L259.7 360 L259.82 357.44 L259.96 355.38 L260.15 353.62 L260.4 352 L260.75 350.56 L261.18 349.38 L261.62 348.25 L262 347 L262.32 345.57 L262.62 344.06 L262.86 342.52 L263 341 L263.02 339.48 L262.95 337.94 L262.8 336.43 L262.6 335 L262.31 333.68 L261.93 332.44 L261.54 331.23 L261.2 330 L260.93 328.82 L260.68 327.69 L260.47 326.46 L260.3 325 L260.19 323.06 L260.12 320.78 L260.07 318.61 L260 317 L259.88 316.13 L259.73 315.75 L259.59 315.62 L259.5 315.5Z" fill="#b5c78f" stroke="#5a7a1c" stroke-width="0.65"/>
<circle cx="258.76" cy="379.73" r="0.6" fill="#46660c" fill-opacity="0.85"/>
<circle cx="257.86" cy="337.94" r="0.6" fill="#46660c" fill-opacity="0.85"/>
<circle cx="260.52" cy="335" r="0.6" fill="#46660c" fill-opacity="0.85"/>
<circle cx="258.76" cy="315.5" r="0.6" fill="#46660c" fill-opacity="0.85"/>
<circle cx="259.12" cy="315.62" r="0.6" fill="#46660c" fill-opacity="0.85"/>
<circle cx="259.37" cy="325" r="0.6" fill="#46660c" fill-opacity="0.85"/>
<circle cx="259.8" cy="325" r="0.6" fill="#46660c" fill-opacity="0.85"/>
<circle cx="259.07" cy="315.5" r="0.6" fill="#46660c" fill-opacity="0.85"/>
<circle cx="260.17" cy="345.57" r="0.6" fill="#46660c" fill-opacity="0.85"/>
<circle cx="258.22" cy="350.56" r="0.6" fill="#46660c" fill-opacity="0.85"/>
<circle cx="259.44" cy="345.57" r="0.6" fill="#46660c" fill-opacity="0.85"/>
<circle cx="259.34" cy="379.73" r="0.6" fill="#46660c" fill-opacity="0.85"/>
<circle cx="258.83" cy="315.5" r="0.6" fill="#46660c" fill-opacity="0.85"/>
<circle cx="260.82" cy="341" r="0.6" fill="#46660c" fill-opacity="0.85"/>
<circle cx="258.32" cy="353.62" r="0.6" fill="#46660c" fill-opacity="0.85"/>
<circle cx="257.27" cy="347" r="0.6" fill="#46660c" fill-opacity="0.85"/>
<circle cx="258.36" cy="350.56" r="0.6" fill="#46660c" fill-opacity="0.85"/>
<circle cx="258.58" cy="355.38" r="0.6" fill="#46660c" fill-opacity="0.85"/>
<circle cx="258.98" cy="363.48" r="0.6" fill="#46660c" fill-opacity="0.85"/>
<circle cx="258.42" cy="318.61" r="0.6" fill="#46660c" fill-opacity="0.85"/>
<circle cx="259.25" cy="379.73" r="0.6" fill="#46660c" fill-opacity="0.85"/>
<circle cx="258.04" cy="349.38" r="0.6" fill="#46660c" fill-opacity="0.85"/>
<circle cx="258.57" cy="350.56" r="0.6" fill="#46660c" fill-opacity="0.85"/>
<circle cx="258.21" cy="350.56" r="0.6" fill="#46660c" fill-opacity="0.85"/>
<circle cx="258.85" cy="379.73" r="0.6" fill="#46660c" fill-opacity="0.85"/>
<circle cx="258.28" cy="348.25" r="0.6" fill="#46660c" fill-opacity="0.85"/>
<circle cx="260.84" cy="333.68" r="0.6" fill="#46660c" fill-opacity="0.85"/>
<circle cx="261.22" cy="337.94" r="0.6" fill="#46660c" fill-opacity="0.85"/>
<circle cx="258.39" cy="349.38" r="0.6" fill="#46660c" fill-opacity="0.85"/>
<circle cx="258.78" cy="377.17" r="0.6" fill="#46660c" fill-opacity="0.85"/>
<line x1="256.8" y1="339.4" x2="261.2" y2="339.4" stroke="#111" stroke-width="0.8"/>
<text x="387.6" y="232.3" font-size="7.8" text-anchor="start" font-weight="normal" fill="#231f20">Clone A (380 cells)</text>
<text x="380.9" y="243.05" font-size="7.8" text-anchor="end" font-weight="normal" fill="#231f20">SV</text>
<line x1="384.4" y1="240.3" x2="387.2" y2="240.3" stroke="#4a4a4a" stroke-width="0.6"/>
<line x1="387.2" y1="237.3" x2="387.2" y2="243.3" stroke="#dddddd" stroke-width="0.5"/>
<line x1="387.2" y1="246" x2="387.2" y2="300" stroke="#4a4a4a" stroke-width="0.6"/>
<line x1="384.4" y1="251.5" x2="387.2" y2="251.5" stroke="#4a4a4a" stroke-width="0.6"/>
<text x="380.9" y="254.25" font-size="7.8" text-anchor="end" font-weight="normal" fill="#231f20">25</text>
<line x1="384.4" y1="266.3" x2="387.2" y2="266.3" stroke="#4a4a4a" stroke-width="0.6"/>
<text x="380.9" y="269.05" font-size="7.8" text-anchor="end" font-weight="normal" fill="#231f20">10</text>
<line x1="384.4" y1="280" x2="387.2" y2="280" stroke="#4a4a4a" stroke-width="0.6"/>
<text x="380.9" y="282.75" font-size="7.8" text-anchor="end" font-weight="normal" fill="#231f20">5</text>
<line x1="384.4" y1="289.3" x2="387.2" y2="289.3" stroke="#4a4a4a" stroke-width="0.6"/>
<text x="380.9" y="292.05" font-size="7.8" text-anchor="end" font-weight="normal" fill="#231f20">2</text>
<line x1="384.4" y1="297" x2="387.2" y2="297" stroke="#4a4a4a" stroke-width="0.6"/>
<text x="380.9" y="299.75" font-size="7.8" text-anchor="end" font-weight="normal" fill="#231f20">0</text>
<text x="365.7" y="274.5" font-size="7.8" text-anchor="middle" font-weight="normal" fill="#231f20" transform="rotate(-90 365.7 274.5)">CN</text>
<rect x="439.6" y="236.8" width="1.6" height="63.2" fill="#e3e3e3"/>
<path d="M387.6 288 388.1 288.1 388.6 287.8 389.1 288.2 389.7 288 390.2 288.1 390.7 287.8 391.2 287.6 391.7 288.1 392.2 288 392.7 288.2 393.3 287.7 393.8 287.7 394.3 288.1 394.8 288 395.3 288.2 395.8 288 396.3 287.8 396.9 287.6 397.4 288.1 397.9 288.2 398.4 288 398.9 287.6 399.4 288 399.9 288.3 400.5 287.7 401 287.8 401.5 288.1 402 287.7 402 291 401.5 291 401 291.5 400.5 291.5 399.9 291.4 399.4 291.6 398.9 291.4 398.4 291.5 397.9 290.9 397.4 291.6 396.9 291.6 396.3 291.6 395.8 291 395.3 291.2 394.8 291 394.3 291.1 393.8 291.5 393.3 291.2 392.7 291.1 392.2 291.2 391.7 290.9 391.2 291.1 390.7 291.6 390.2 291.2 389.7 291 389.1 290.9 388.6 291.1 388.1 291.6 387.6 291.2Z" fill="#c8c8c8"/>
<path d="M403.5 288.2 404 288.1 404.5 287.9 405 288.1 405.5 287.9 406.1 288.2 406.6 287.6 407.1 287.7 407.6 287.7 408.1 287.7 408.6 287.9 409.1 288 409.6 287.8 410.1 287.8 410.7 288.2 411.2 288 411.7 287.7 412.2 288.1 412.7 287.7 413.2 287.8 413.7 287.7 414.2 288.2 414.7 287.9 415.3 287.6 415.8 287.7 416.3 288.2 416.8 288.2 417.3 287.6 417.3 291.3 416.8 291.5 416.3 291.6 415.8 291.2 415.3 291.2 414.7 291.5 414.2 291.3 413.7 291.1 413.2 291.4 412.7 291.3 412.2 291.4 411.7 291.5 411.2 290.9 410.7 291.6 410.1 291.6 409.6 291.2 409.1 291 408.6 291 408.1 291.1 407.6 291.2 407.1 291.4 406.6 291.1 406.1 291.2 405.5 291.1 405 291 404.5 291.2 404 291.5 403.5 291Z" fill="#c8c8c8"/>
<path d="M440.6 287.9 441.1 287.6 441.6 287.6 442.1 287.9 442.6 287.7 443.1 287.8 443.6 288.3 444.1 287.8 444.6 288 445.1 288.1 445.6 288 446.1 288 446.6 288.1 447.1 288.2 447.6 287.8 448.1 287.8 448.6 288.3 449.1 287.6 449.6 287.9 449.6 291.1 449.1 291.5 448.6 290.9 448.1 291 447.6 291.6 447.1 291.4 446.6 291.1 446.1 291.4 445.6 291.3 445.1 291.6 444.6 291.2 444.1 291.3 443.6 291 443.1 291.4 442.6 291 442.1 291.4 441.6 291 441.1 291.4 440.6 291Z" fill="#c8c8c8"/>
<path d="M468 287.8 468.5 288.2 469 288.3 469.5 288.2 470.1 287.9 470.6 287.7 471.1 288.2 471.6 288 472.1 287.8 472.6 288.3 473.1 288.2 473.7 288.2 474.2 288 474.7 287.8 475.2 287.9 475.7 288 476.2 287.7 476.7 288 477.3 287.8 477.8 288.1 478.3 287.7 478.8 287.6 478.8 291.2 478.3 291.2 477.8 290.9 477.3 291.1 476.7 291.3 476.2 291 475.7 291.1 475.2 290.9 474.7 291.1 474.2 291.1 473.7 291.5 473.1 291 472.6 291.3 472.1 291.3 471.6 291.4 471.1 291 470.6 291.5 470.1 291 469.5 290.9 469 291.2 468.5 291.1 468 290.9Z" fill="#c8c8c8"/>
<path d="M416.4 251.4h0.9v15.6h-0.9zM418.1 250.7h0.9v16.3h-0.9zM419.8 256.1h0.9v11.2h-0.9zM421.5 256.5h0.9v10.5h-0.9zM423.2 258.4h0.9v10.3h-0.9zM424.9 258.7h0.9v10.6h-0.9zM426.6 264.6h0.9v4.8h-0.9z" fill="#d9b4de"/>
<path d="M418.5 259.4h0.9v9.3h-0.9zM420.1 261h0.9v7.1h-0.9zM421.7 262.2h0.9v5.2h-0.9zM423.3 265.1h0.9v3.4h-0.9zM424.9 266.6h0.9v2.1h-0.9z" fill="#dc98cc"/>
<path d="M417.8 267.2h0.7v5.3h-0.7zM418.4 267.8h0.7v5.5h-0.7zM419.1 267h0.7v6.3h-0.7zM419.7 268.3h0.7v4.7h-0.7zM420.3 267.5h0.7v6.2h-0.7zM420.9 266.6h0.7v6.9h-0.7zM421.6 266.5h0.7v7.4h-0.7zM422.2 267.4h0.7v6.4h-0.7zM422.8 266.3h0.7v7.9h-0.7zM423.5 267.8h0.7v6.6h-0.7zM424.1 266.2h0.7v7.9h-0.7zM424.7 267.6h0.7v6.4h-0.7zM425.4 267.7h0.7v6.5h-0.7zM426 266.1h0.7v8.7h-0.7zM426.6 266.5h0.7v8.2h-0.7zM427.2 266h0.7v8.7h-0.7zM427.9 267.3h0.7v7.5h-0.7zM428.5 266.2h0.7v8.8h-0.7z" fill="#e0409a"/>
<path d="M421.5 267.8h0.7v7.9h-0.7zM422.1 267.3h0.7v8h-0.7zM422.8 266.9h0.7v8.8h-0.7zM423.4 266.7h0.7v8.9h-0.7zM424 267.3h0.7v8.2h-0.7zM424.6 266.7h0.7v8.4h-0.7zM425.3 267.4h0.7v8h-0.7zM425.9 266.5h0.7v8.8h-0.7zM426.5 266.3h0.7v9.2h-0.7zM427.2 266.4h0.7v9.4h-0.7zM427.8 267.3h0.7v8.3h-0.7zM428.4 266.2h0.7v8.9h-0.7z" fill="#d81f7c"/>
<rect x="425.14" y="277.21" width="1" height="1" fill="#d81f7c"/>
<rect x="426.8" y="277.08" width="1" height="1" fill="#d81f7c"/>
<rect x="425.3" y="277.01" width="1" height="1" fill="#d81f7c"/>
<rect x="420.4" y="277.67" width="1" height="1" fill="#d81f7c"/>
<rect x="426.33" y="277.81" width="1" height="1" fill="#d81f7c"/>
<rect x="425.45" y="276.39" width="1" height="1" fill="#d81f7c"/>
<path d="M431.5 272.5h0.7v8.2h-0.7zM432.1 271.4h0.7v9.5h-0.7zM432.8 271.2h0.7v9.5h-0.7zM433.4 271.2h0.7v9.9h-0.7zM434 273.2h0.7v7.5h-0.7zM434.6 272.9h0.7v7.7h-0.7zM435.3 272.3h0.7v7.6h-0.7zM435.9 271h0.7v8.9h-0.7z" fill="#a8101e"/>
<path d="M428 283.3h0.7v5.3h-0.7zM428.6 282.8h0.7v6.5h-0.7zM429.3 281.8h0.7v6.3h-0.7zM429.9 281.7h0.7v7.1h-0.7zM430.5 280.6h0.7v7.9h-0.7zM431.1 280.3h0.7v7.5h-0.7zM431.8 281.3h0.7v6h-0.7zM432.4 280.4h0.7v7.7h-0.7zM433 280.3h0.7v7.1h-0.7zM433.7 279h0.7v7.8h-0.7zM434.3 278.5h0.7v8.8h-0.7z" fill="#e8603a"/>
<path d="M434.8 284.9h0.7v3.5h-0.7zM435.4 284.8h0.7v3.4h-0.7zM436.1 285.7h0.7v2.8h-0.7zM436.7 285.4h0.7v3.1h-0.7zM437.3 285.4h0.7v3h-0.7zM437.9 285.4h0.7v2.7h-0.7zM438.6 285.7h0.7v2.6h-0.7zM439.2 285.5h0.7v2.7h-0.7zM439.8 285.6h0.7v2.6h-0.7z" fill="#f9c286"/>
<path d="M426.5 284.3h0.7v5.5h-0.7zM427.1 284.1h0.7v6.2h-0.7zM427.8 284.2h0.7v5.8h-0.7zM428.4 284.3h0.7v5.8h-0.7z" fill="#f8b878"/>
<path d="M448.5 281.3h0.7v5.9h-0.7zM449.4 282.5h0.7v4.3h-0.7zM450.3 281h0.7v6h-0.7zM451.2 283.1h0.7v3.7h-0.7zM452.1 282.7h0.7v5h-0.7zM453 282.6h0.7v4.1h-0.7zM453.9 282.4h0.7v4h-0.7zM454.8 282.3h0.7v4.7h-0.7zM455.7 283h0.7v4.4h-0.7zM456.6 282.5h0.7v3.8h-0.7zM457.5 283h0.7v4.3h-0.7zM458.4 282.2h0.7v4.8h-0.7zM459.3 282.8h0.7v4.4h-0.7zM460.2 282.8h0.7v4.1h-0.7zM461.1 282h0.7v5.1h-0.7zM462 281h0.7v5.7h-0.7zM462.9 282.8h0.7v4.5h-0.7zM463.8 282.5h0.7v4.2h-0.7zM464.7 283h0.7v3.4h-0.7zM465.6 279.9h0.7v7.2h-0.7zM466.5 280.1h0.7v7.5h-0.7zM467.4 282.4h0.7v3.9h-0.7zM468.3 279.9h0.7v6.9h-0.7zM469.2 282.3h0.7v5.3h-0.7zM470.1 280.5h0.7v5.8h-0.7zM471 282.5h0.7v4.3h-0.7zM471.9 282.3h0.7v5.1h-0.7z" fill="#ec7a42"/>
<path d="M450.8 271.4h0.7v8.7h-0.7zM451.4 270.1h0.7v10h-0.7zM452.1 271.5h0.7v8.7h-0.7zM452.7 270.9h0.7v8.7h-0.7z" fill="#9a0a3a"/>
<path d="M454 270.7h0.7v8.9h-0.7zM454.6 269.9h0.7v10.5h-0.7zM455.3 269.3h0.7v10.4h-0.7zM455.9 269.6h0.7v10.5h-0.7zM456.5 269h0.7v11.1h-0.7z" fill="#a00a40"/>
<path d="M457.5 274.2h0.7v10.8h-0.7zM458.1 274.5h0.7v10.1h-0.7zM458.8 274.6h0.7v10.6h-0.7zM459.4 274.3h0.7v10.5h-0.7zM460 274.7h0.7v9.9h-0.7z" fill="#c02a1e"/>
<path d="M462.8 275.1h0.7v10h-0.7zM463.4 274.6h0.7v10.7h-0.7zM464.1 274.1h0.7v11.1h-0.7zM464.7 274.6h0.7v10.6h-0.7zM465.3 274.4h0.7v11h-0.7zM465.9 275.9h0.7v9.6h-0.7z" fill="#c02a1e"/>
<path d="M450.5 285.4h0.7v4.7h-0.7zM451.1 285h0.7v5h-0.7zM451.8 285h0.7v5.2h-0.7zM452.4 285.4h0.7v4.7h-0.7zM453 284.4h0.7v5.4h-0.7zM453.6 285h0.7v4.8h-0.7zM454.3 285.5h0.7v4.3h-0.7zM454.9 285.3h0.7v4.6h-0.7zM455.5 285.1h0.7v5h-0.7zM456.2 285h0.7v5.2h-0.7z" fill="#f8c080"/>
<path d="M461 285.5h0.7v4.2h-0.7zM461.6 284.7h0.7v5.5h-0.7zM462.3 285.2h0.7v4.7h-0.7zM462.9 285.5h0.7v4.4h-0.7zM463.5 285.3h0.7v4.5h-0.7zM464.1 285h0.7v4.7h-0.7zM464.8 285h0.7v5.3h-0.7zM465.4 284.9h0.7v5.3h-0.7zM466 285.5h0.7v4.6h-0.7zM466.7 284.8h0.7v5.2h-0.7zM467.3 285.5h0.7v4.7h-0.7zM467.9 284.9h0.7v5.3h-0.7z" fill="#f8c080"/>
<path d="M473.3 279h0.7v8.8h-0.7zM473.9 278.8h0.7v9.4h-0.7zM474.6 277.7h0.7v9.9h-0.7zM475.2 278.6h0.7v9.7h-0.7z" fill="#d84a22"/>
<path d="M472.8 284.6h0.7v5.3h-0.7zM473.4 284.9h0.7v5h-0.7zM474.1 285.1h0.7v4.9h-0.7zM474.7 284.6h0.7v5.3h-0.7zM475.3 285.4h0.7v4.7h-0.7zM475.9 285.4h0.7v4.8h-0.7zM476.6 284.5h0.7v5.7h-0.7z" fill="#f9c080"/>
<path d="M397.6 280.6 398.2 280.5 398.8 280.4 398.8 284.8 398.2 285.1 397.6 284.6Z" fill="#f08050"/>
<path d="M398.3 291.5 398.8 291.5 399.3 291.2 399.3 294.5 398.8 294.5 398.3 294.8Z" fill="#7fb8d8"/>
<path d="M409.7 291.3 410.2 291.2 410.7 291.5 410.7 294.7 410.2 294.6 409.7 294.8Z" fill="#7fb8d8"/>
<path d="M429 291.3 429.5 291.3 430 291.3 430 294.6 429.5 294.6 429 294.7Z" fill="#7fb8d8"/>
<line x1="451" y1="284" x2="451" y2="297" stroke="#8fc8e0" stroke-width="0.5"/>
<g stroke="#8a8a8a" stroke-width="0.35" fill="none">
<path d="M430 272 L476 285"/>
<path d="M432 274 L468 278"/>
<path d="M436 278 L470 272"/>
<path d="M433 282 L477 289"/>
<path d="M430 286 L458 270"/>
<path d="M440 276 L478 278"/>
<path d="M429 280 L452 288"/>
<path d="M435 271 L462 270"/>
<path d="M436 285 L474 282"/>
<path d="M428 276 L466 274"/>
<path d="M434 273 L455 283"/>
<path d="M431 284 L463 279"/>
<path d="M437 280 L476 276"/>
</g>
<rect x="417.55" y="236.9" width="0.9" height="6.8" fill="#d9772a"/>
<rect x="422.25" y="236.9" width="0.9" height="6.8" fill="#c8a080"/>
<rect x="427.75" y="236.9" width="0.9" height="6.8" fill="#9a4a2a"/>
<rect x="428.95" y="236.9" width="0.9" height="6.8" fill="#d9772a"/>
<rect x="431" y="236.9" width="1" height="6.8" fill="#8a3a1a"/>
<rect x="432.2" y="236.9" width="1" height="6.8" fill="#d9772a"/>
<rect x="433.35" y="236.9" width="0.9" height="6.8" fill="#8a3a1a"/>
<rect x="449.15" y="236.9" width="0.9" height="6.8" fill="#a0a0a0"/>
<rect x="450.55" y="236.9" width="0.9" height="6.8" fill="#e0203a"/>
<rect x="455.05" y="236.9" width="0.9" height="6.8" fill="#c0b0a0"/>
<rect x="458.15" y="236.9" width="0.9" height="6.8" fill="#555"/>
<rect x="459.75" y="236.9" width="0.9" height="6.8" fill="#8a3a1a"/>
<rect x="463.8" y="236.9" width="1" height="6.8" fill="#d9772a"/>
<rect x="465.25" y="236.9" width="0.9" height="6.8" fill="#d9772a"/>
<rect x="473.75" y="236.9" width="0.9" height="6.8" fill="#9aa890"/>
<rect x="392" y="297" width="2" height="1.6" fill="#bbb"/>
<rect x="396" y="297" width="3" height="1.6" fill="#777"/>
<rect x="402" y="297" width="3" height="1.6" fill="#e03a30"/>
<rect x="410" y="297" width="4" height="1.6" fill="#bbb"/>
<rect x="419" y="297" width="1.5" height="1.6" fill="#bbb"/>
<rect x="422" y="297" width="6.5" height="1.6" fill="#666"/>
<rect x="431" y="297" width="2" height="1.6" fill="#777"/>
<rect x="436" y="297" width="1.5" height="1.6" fill="#bbb"/>
<rect x="445" y="297" width="5" height="1.6" fill="#bbb"/>
<rect x="456" y="297" width="3" height="1.6" fill="#e03a30"/>
<rect x="463" y="297" width="4" height="1.6" fill="#bbb"/>
<rect x="469" y="297" width="1.5" height="1.6" fill="#bbb"/>
<rect x="473" y="297" width="1" height="1.6" fill="#bbb"/>
<text x="387.6" y="342.7" font-size="7.8" text-anchor="start" font-weight="normal" fill="#231f20">Clone B (317 cells)</text>
<text x="380.9" y="353.65" font-size="7.8" text-anchor="end" font-weight="normal" fill="#231f20">SV</text>
<line x1="384.4" y1="350.9" x2="387.2" y2="350.9" stroke="#4a4a4a" stroke-width="0.6"/>
<line x1="387.2" y1="347.9" x2="387.2" y2="353.9" stroke="#dddddd" stroke-width="0.5"/>
<line x1="387.2" y1="357" x2="387.2" y2="411.5" stroke="#4a4a4a" stroke-width="0.6"/>
<line x1="384.4" y1="362.5" x2="387.2" y2="362.5" stroke="#4a4a4a" stroke-width="0.6"/>
<text x="380.9" y="365.25" font-size="7.8" text-anchor="end" font-weight="normal" fill="#231f20">25</text>
<line x1="384.4" y1="377.7" x2="387.2" y2="377.7" stroke="#4a4a4a" stroke-width="0.6"/>
<text x="380.9" y="380.45" font-size="7.8" text-anchor="end" font-weight="normal" fill="#231f20">10</text>
<line x1="384.4" y1="390.3" x2="387.2" y2="390.3" stroke="#4a4a4a" stroke-width="0.6"/>
<text x="380.9" y="393.05" font-size="7.8" text-anchor="end" font-weight="normal" fill="#231f20">5</text>
<line x1="384.4" y1="400.2" x2="387.2" y2="400.2" stroke="#4a4a4a" stroke-width="0.6"/>
<text x="380.9" y="402.95" font-size="7.8" text-anchor="end" font-weight="normal" fill="#231f20">2</text>
<line x1="384.4" y1="407.3" x2="387.2" y2="407.3" stroke="#4a4a4a" stroke-width="0.6"/>
<text x="380.9" y="410.05" font-size="7.8" text-anchor="end" font-weight="normal" fill="#231f20">0</text>
<text x="365.7" y="385.5" font-size="7.8" text-anchor="middle" font-weight="normal" fill="#231f20" transform="rotate(-90 365.7 385.5)">CN</text>
<line x1="387.2" y1="411.5" x2="479" y2="411.5" stroke="#4a4a4a" stroke-width="0.6"/>
<line x1="413.6" y1="411.5" x2="413.6" y2="414.3" stroke="#4a4a4a" stroke-width="0.6"/>
<text x="413.6" y="424" font-size="7.8" text-anchor="middle" font-weight="normal" fill="#231f20">17</text>
<line x1="460" y1="411.5" x2="460" y2="414.3" stroke="#4a4a4a" stroke-width="0.6"/>
<text x="460" y="424" font-size="7.8" text-anchor="middle" font-weight="normal" fill="#231f20">19</text>
<text x="432.8" y="435.5" font-size="7.8" text-anchor="middle" font-weight="normal" fill="#231f20">Chromosome</text>
<rect x="439.6" y="347.5" width="1.6" height="64" fill="#e3e3e3"/>
<path d="M387.6 398.9 388.1 398.6 388.6 399 389.1 399.1 389.7 398.9 390.2 399.1 390.7 398.7 391.2 399.3 391.7 399 392.2 399 392.7 399.1 393.3 399.2 393.8 399.2 394.3 398.9 394.8 398.7 395.3 399.1 395.8 399.2 396.3 398.9 396.9 398.9 397.4 398.8 397.9 399.1 398.4 398.8 398.9 398.7 399.4 399 399.9 399 400.5 398.9 401 398.6 401.5 399.2 402 399.2 402 402.3 401.5 402.6 401 402.3 400.5 402.6 399.9 402.3 399.4 402.2 398.9 402.5 398.4 402.6 397.9 402.5 397.4 402.7 396.9 402.7 396.3 402.3 395.8 402.7 395.3 402.6 394.8 402.7 394.3 402.2 393.8 402.1 393.3 402.8 392.7 402.8 392.2 402.5 391.7 402.1 391.2 402.1 390.7 402.4 390.2 402.3 389.7 402.4 389.1 402.5 388.6 402.3 388.1 402.5 387.6 402.5Z" fill="#c8c8c8"/>
<path d="M403.5 399.3 404 398.7 404.5 398.8 405 399.1 405.5 398.7 406.1 399.1 406.6 399 407.1 399 407.6 399.2 408.1 399.2 408.6 398.6 409.1 399.1 409.6 399.2 410.1 398.6 410.7 399.2 411.2 399.3 411.7 399.2 412.2 398.9 412.7 399.3 413.2 398.7 413.7 398.6 414.2 398.8 414.7 399.1 415.3 398.6 415.8 398.7 416.3 398.8 416.8 399 417.3 398.9 417.3 402.7 416.8 402.7 416.3 402.7 415.8 402.1 415.3 402.7 414.7 402.2 414.2 402.3 413.7 402.7 413.2 402.5 412.7 402.1 412.2 402.5 411.7 402.8 411.2 402.4 410.7 402.4 410.1 402.5 409.6 402.6 409.1 402.7 408.6 402.4 408.1 402.5 407.6 402.6 407.1 402.3 406.6 402.3 406.1 402.5 405.5 402.7 405 402.2 404.5 402.7 404 402.5 403.5 402.5Z" fill="#c8c8c8"/>
<path d="M428 398.8 428.5 399 429 399.1 429.5 398.7 430 398.8 430.5 399.2 430.5 402.6 430 402.4 429.5 402.6 429 402.8 428.5 402.5 428 402.2Z" fill="#c8c8c8"/>
<path d="M434.2 399 434.7 398.7 435.2 399.2 435.7 398.8 436.2 398.7 436.8 399.2 437.3 398.9 437.8 398.6 438.3 399.3 438.8 399 439.3 399.1 439.8 399 440.3 398.7 440.8 399 441.4 398.6 441.9 399.2 442.4 399.2 442.9 398.8 443.4 399.2 443.9 399 444.4 398.7 444.9 398.7 445.4 399 446 398.9 446.5 399 447 399 447.5 399.1 448 398.7 448 402.4 447.5 402.4 447 402.2 446.5 402.2 446 402.7 445.4 402.2 444.9 402.2 444.4 402.5 443.9 402.6 443.4 402.6 442.9 402.3 442.4 402.7 441.9 402.1 441.4 402.2 440.8 402.8 440.3 402.1 439.8 402.7 439.3 402.7 438.8 402.8 438.3 402.7 437.8 402.5 437.3 402.5 436.8 402.3 436.2 402.3 435.7 402.1 435.2 402.5 434.7 402.5 434.2 402.6Z" fill="#c8c8c8"/>
<path d="M468 398.8 468.5 399 469 398.8 469.5 399.2 470.1 399.1 470.6 399.3 471.1 399 471.6 398.6 472.1 399 472.6 398.8 473.1 399.1 473.7 398.9 474.2 399.2 474.7 398.7 475.2 399.3 475.7 399.2 476.2 398.7 476.7 398.7 477.3 398.9 477.8 399.1 478.3 398.9 478.8 399 478.8 402.4 478.3 402.1 477.8 402.2 477.3 402.7 476.7 402.6 476.2 402.8 475.7 402.4 475.2 402.5 474.7 402.7 474.2 402.2 473.7 402.4 473.1 402.3 472.6 402.2 472.1 402.6 471.6 402.6 471.1 402.8 470.6 402.5 470.1 402.6 469.5 402.2 469 402.6 468.5 402.5 468 402.4Z" fill="#c8c8c8"/>
<path d="M416.3 368.9h1v10.3h-1zM417.6 367.4h1v11.8h-1zM418.8 368.9h1v11.1h-1zM420.1 370.6h1v9.8h-1zM421.3 369.3h1v11.6h-1zM422.6 370.5h1v9.8h-1zM423.8 372.1h1v7.4h-1zM425.1 368.8h1v11.5h-1zM426.3 372.8h1v7.7h-1zM427.6 373.4h1v6.7h-1z" fill="#d9b4de"/>
<path d="M418.6 370.9h1v9.6h-1zM419.8 371.9h1v9.5h-1zM421 372.1h1v8.2h-1zM422.2 371.4h1v9.8h-1zM423.4 372.3h1v8.7h-1zM424.6 372h1v8.7h-1zM425.8 370.8h1v9.8h-1zM427 372.5h1v8.1h-1zM428.2 370.9h1v10h-1z" fill="#d898cc"/>
<path d="M416.3 379.5h0.7v6.4h-0.7zM416.9 379.3h0.7v6.7h-0.7zM417.6 378h0.7v8.4h-0.7zM418.2 379.5h0.7v6.6h-0.7zM418.8 379h0.7v7.1h-0.7zM419.4 377.6h0.7v8.8h-0.7zM420.1 378.7h0.7v7.3h-0.7zM420.7 378h0.7v8.1h-0.7zM421.3 379.3h0.7v6.3h-0.7zM422 379.3h0.7v6.9h-0.7zM422.6 379h0.7v7.2h-0.7zM423.2 379.4h0.7v6.4h-0.7zM423.9 378.8h0.7v7.4h-0.7zM424.5 378.6h0.7v6.9h-0.7zM425.1 377.8h0.7v8.2h-0.7zM425.7 377.9h0.7v7.8h-0.7zM426.4 378.9h0.7v6.7h-0.7zM427 378.8h0.7v6.8h-0.7zM427.6 378.5h0.7v7.7h-0.7zM428.3 378.7h0.7v7h-0.7zM428.9 379.2h0.7v6.4h-0.7z" fill="#da2a82"/>
<path d="M420 384.1h0.7v2.9h-0.7zM420.6 383.9h0.7v3.4h-0.7zM421.3 383.8h0.7v3.7h-0.7zM421.9 383.7h0.7v3.4h-0.7zM422.5 383.4h0.7v3.8h-0.7zM423.1 383.5h0.7v3.6h-0.7z" fill="#980a40"/>
<path d="M397.5 390.9 398.1 390.6 398.8 390.9 398.8 396 398.1 396 397.5 396.3Z" fill="#f08050"/>
<path d="M428 393.6h0.7v2.7h-0.7zM428.6 393h0.7v2.6h-0.7zM429.3 391.5h0.7v4.4h-0.7zM429.9 391.2h0.7v3.8h-0.7zM430.5 390.7h0.7v3.9h-0.7zM431.1 390.2h0.7v4.8h-0.7zM431.8 388.5h0.7v5.9h-0.7zM432.4 387.5h0.7v7.2h-0.7zM433 386.9h0.7v7.3h-0.7zM433.7 386.4h0.7v7.7h-0.7zM434.3 386h0.7v7.4h-0.7zM434.9 386.6h0.7v6.2h-0.7zM435.6 384.5h0.7v8.4h-0.7z" fill="#ec7040"/>
<path d="M429 392.8h0.7v5.8h-0.7zM429.6 393.1h0.7v5.6h-0.7zM430.3 392.6h0.7v5.8h-0.7z" fill="#f8c080"/>
<path d="M448.3 387.2h0.7v9h-0.7zM448.9 387.3h0.7v8.9h-0.7zM449.6 388.9h0.7v8.1h-0.7zM450.2 388.4h0.7v7.9h-0.7zM450.8 386.9h0.7v9.4h-0.7zM451.4 387h0.7v9.5h-0.7zM452.1 387h0.7v10.1h-0.7zM452.7 388.4h0.7v8.4h-0.7zM453.3 389.2h0.7v7.4h-0.7zM454 386.9h0.7v9.5h-0.7zM454.6 388.1h0.7v8.6h-0.7zM455.2 389h0.7v7.1h-0.7zM455.9 387.4h0.7v9.4h-0.7zM456.5 387.4h0.7v9.4h-0.7z" fill="#ee8048"/>
<path d="M450.5 383.8h0.7v7.9h-0.7zM451.1 384.5h0.7v7.6h-0.7zM451.8 384.4h0.7v7.3h-0.7z" fill="#c02a1a"/>
<path d="M453.5 386.8h0.7v6.1h-0.7zM454.1 386.3h0.7v7h-0.7zM454.8 386.4h0.7v6.3h-0.7zM455.4 386.2h0.7v6.7h-0.7z" fill="#c02a1a"/>
<path d="M448.3 393.6h0.7v5h-0.7zM448.9 394.4h0.7v3.8h-0.7zM449.6 393.6h0.7v5h-0.7zM450.2 394.2h0.7v4.5h-0.7z" fill="#f9c080"/>
<path d="M458 390.6h0.7v6.3h-0.7zM458.6 390.5h0.7v6.6h-0.7zM459.3 389.5h0.7v7.5h-0.7zM459.9 389.5h0.7v7.1h-0.7zM460.5 390.2h0.7v6.5h-0.7zM461.1 389.8h0.7v6.9h-0.7zM461.8 390.2h0.7v6.6h-0.7zM462.4 389.1h0.7v8.2h-0.7zM463 390.4h0.7v7h-0.7zM463.7 389.7h0.7v7.7h-0.7zM464.3 390.1h0.7v6.8h-0.7zM464.9 389.1h0.7v7.5h-0.7zM465.6 390.4h0.7v6.4h-0.7zM466.2 390.1h0.7v7.1h-0.7zM466.8 390h0.7v7.3h-0.7zM467.4 389h0.7v8.4h-0.7z" fill="#f29058"/>
<path d="M458 386.2h0.7v5.8h-0.7zM458.6 387h0.7v5.4h-0.7zM459.3 386.8h0.7v5.3h-0.7zM459.9 386.4h0.7v5.9h-0.7zM460.5 386.2h0.7v6.2h-0.7zM461.1 385.9h0.7v6.3h-0.7z" fill="#dd4a24"/>
<path d="M463.2 387.4h0.7v5.9h-0.7zM463.8 386.3h0.7v7.1h-0.7zM464.5 386h0.7v6.8h-0.7zM465.1 386.7h0.7v6.3h-0.7zM465.7 386.1h0.7v6.7h-0.7zM466.3 387.5h0.7v5.5h-0.7zM467 386.6h0.7v6.2h-0.7z" fill="#dd4a24"/>
<path d="M473 390.3h0.7v7.5h-0.7zM473.6 390.3h0.7v8h-0.7zM474.3 391h0.7v7.2h-0.7zM474.9 390.5h0.7v7.3h-0.7zM475.5 391.5h0.7v6.7h-0.7zM476.1 391.1h0.7v7h-0.7z" fill="#e0602c"/>
<path d="M473.5 394.8h0.7v5.2h-0.7zM474.1 394.6h0.7v5.4h-0.7zM474.8 395.1h0.7v4.9h-0.7zM475.4 395.2h0.7v5h-0.7zM476 395.2h0.7v4.9h-0.7zM476.6 395.3h0.7v4.7h-0.7z" fill="#f9c286"/>
<path d="M409.8 402.2 410.3 402.2 410.8 402.5 410.8 405.6 410.3 405.6 409.8 405.8Z" fill="#7fb8d8"/>
<rect x="419.95" y="347.5" width="0.9" height="6.8" fill="#e0203a"/>
<rect x="421.55" y="347.5" width="0.9" height="6.8" fill="#8fcbe6"/>
<rect x="423.75" y="347.5" width="0.9" height="6.8" fill="#e0203a"/>
<rect x="475.35" y="347.5" width="0.9" height="6.8" fill="#e0203a"/>
<rect x="392" y="407.6" width="2" height="1.6" fill="#bbb"/>
<rect x="396" y="407.6" width="3" height="1.6" fill="#777"/>
<rect x="402" y="407.6" width="3" height="1.6" fill="#e03a30"/>
<rect x="410" y="407.6" width="4" height="1.6" fill="#bbb"/>
<rect x="419" y="407.6" width="1.5" height="1.6" fill="#bbb"/>
<rect x="422" y="407.6" width="6.5" height="1.6" fill="#666"/>
<rect x="431" y="407.6" width="2" height="1.6" fill="#777"/>
<rect x="436" y="407.6" width="1.5" height="1.6" fill="#bbb"/>
<rect x="445" y="407.6" width="5" height="1.6" fill="#bbb"/>
<rect x="456" y="407.6" width="3" height="1.6" fill="#e03a30"/>
<rect x="463" y="407.6" width="4" height="1.6" fill="#bbb"/>
<rect x="469" y="407.6" width="1.5" height="1.6" fill="#bbb"/>
<rect x="473" y="407.6" width="1" height="1.6" fill="#bbb"/>
<line x1="524.7" y1="227.5" x2="524.7" y2="262.3" stroke="#4a4a4a" stroke-width="0.6"/>
<line x1="521.9" y1="229.7" x2="524.7" y2="229.7" stroke="#4a4a4a" stroke-width="0.6"/>
<text x="518.4" y="232.45" font-size="7.8" text-anchor="end" font-weight="normal" fill="#231f20">0.4</text>
<line x1="521.9" y1="237.4" x2="524.7" y2="237.4" stroke="#4a4a4a" stroke-width="0.6"/>
<text x="518.4" y="240.15" font-size="7.8" text-anchor="end" font-weight="normal" fill="#231f20">0.3</text>
<line x1="521.9" y1="245.4" x2="524.7" y2="245.4" stroke="#4a4a4a" stroke-width="0.6"/>
<text x="518.4" y="248.15" font-size="7.8" text-anchor="end" font-weight="normal" fill="#231f20">0.2</text>
<line x1="521.9" y1="253.3" x2="524.7" y2="253.3" stroke="#4a4a4a" stroke-width="0.6"/>
<text x="518.4" y="256.05" font-size="7.8" text-anchor="end" font-weight="normal" fill="#231f20">0.1</text>
<line x1="521.9" y1="261.5" x2="524.7" y2="261.5" stroke="#4a4a4a" stroke-width="0.6"/>
<text x="518.4" y="264.25" font-size="7.8" text-anchor="end" font-weight="normal" fill="#231f20">0</text>
<rect x="527.1" y="229" width="5.3" height="33.3" fill="#c1380f"/>
<rect x="536" y="234" width="4.9" height="28.3" fill="#eba21f"/>
<text x="501.6" y="244.5" font-size="7.8" text-anchor="middle" font-weight="normal" fill="#231f20" transform="rotate(-90 501.6 244.5)">scWGS CCF</text>
<line x1="524.7" y1="269" x2="524.7" y2="303.3" stroke="#4a4a4a" stroke-width="0.6"/>
<line x1="521.9" y1="279.2" x2="524.7" y2="279.2" stroke="#4a4a4a" stroke-width="0.6"/>
<text x="518.4" y="281.95" font-size="7.8" text-anchor="end" font-weight="normal" fill="#231f20">20</text>
<line x1="521.9" y1="290.8" x2="524.7" y2="290.8" stroke="#4a4a4a" stroke-width="0.6"/>
<text x="518.4" y="293.55" font-size="7.8" text-anchor="end" font-weight="normal" fill="#231f20">10</text>
<line x1="521.9" y1="302.6" x2="524.7" y2="302.6" stroke="#4a4a4a" stroke-width="0.6"/>
<text x="518.4" y="305.35" font-size="7.8" text-anchor="end" font-weight="normal" fill="#231f20">0</text>
<rect x="527.1" y="270" width="5.3" height="33.4" fill="#c1380f"/>
<rect x="536" y="296" width="4.9" height="7.4" fill="#eba21f"/>
<text x="496.6" y="286.3" font-size="7.8" text-anchor="middle" font-weight="normal" fill="#231f20" transform="rotate(-90 496.6 286.3)">No. of</text>
<text x="504.8" y="286.3" font-size="7.8" text-anchor="middle" font-weight="normal" fill="#231f20" transform="rotate(-90 504.8 286.3)">SVs</text>
<line x1="524.6" y1="310.8" x2="524.6" y2="379.4" stroke="#4a4a4a" stroke-width="0.6"/>
<line x1="521.8" y1="336.3" x2="524.6" y2="336.3" stroke="#4a4a4a" stroke-width="0.6"/>
<text x="518.3" y="340.25" font-size="7.8" text-anchor="end" fill="#231f20">10<tspan font-size="5.62" dy="-3">−3</tspan></text>
<line x1="521.8" y1="376.3" x2="524.6" y2="376.3" stroke="#4a4a4a" stroke-width="0.6"/>
<text x="518.3" y="379.05" font-size="7.8" text-anchor="end" font-weight="normal" fill="#231f20">0</text>
<line x1="524.6" y1="379.4" x2="544.5" y2="379.4" stroke="#4a4a4a" stroke-width="0.6"/>
<line x1="529.8" y1="379.4" x2="529.8" y2="382.2" stroke="#4a4a4a" stroke-width="0.6"/>
<text x="529.8" y="391.8" font-size="7.8" text-anchor="middle" font-weight="normal" fill="#231f20">A</text>
<line x1="538.5" y1="379.4" x2="538.5" y2="382.2" stroke="#4a4a4a" stroke-width="0.6"/>
<text x="538.5" y="391.8" font-size="7.8" text-anchor="middle" font-weight="normal" fill="#231f20">B</text>
<text x="534.1" y="402.6" font-size="7.8" text-anchor="middle" font-weight="normal" fill="#231f20">Clone</text>
<text x="501.8" y="347" font-size="7.8" text-anchor="middle" font-weight="normal" fill="#231f20" transform="rotate(-90 501.8 347)">cfDNA VAF</text>
<path d="M529.3 317.5 L529.1 317.66 L528.81 317.88 L528.49 318.27 L528.2 319 L527.93 320.09 L527.66 321.47 L527.41 323.11 L527.2 325 L527.04 327.22 L526.92 329.75 L526.84 332.41 L526.8 335 L526.8 337.5 L526.84 340 L526.91 342.5 L527 345 L527.12 347.5 L527.26 350 L527.43 352.5 L527.6 355 L527.8 357.57 L528.01 360.19 L528.22 362.71 L528.4 365 L528.55 367.05 L528.69 368.94 L528.78 370.6 L528.8 372 L528.71 373.05 L528.54 373.8 L528.35 374.4 L528.2 375 L528.09 375.64 L527.99 376.24 L527.94 376.77 L528 377.2 L528.23 377.52 L528.59 377.74 L528.95 377.89 L529.2 378 L530.4 378 L530.65 377.89 L531.01 377.74 L531.37 377.52 L531.6 377.2 L531.66 376.77 L531.61 376.24 L531.51 375.64 L531.4 375 L531.25 374.4 L531.06 373.8 L530.89 373.05 L530.8 372 L530.82 370.6 L530.91 368.94 L531.05 367.05 L531.2 365 L531.38 362.71 L531.59 360.19 L531.8 357.57 L532 355 L532.17 352.5 L532.34 350 L532.48 347.5 L532.6 345 L532.69 342.5 L532.76 340 L532.8 337.5 L532.8 335 L532.76 332.41 L532.67 329.75 L532.56 327.22 L532.4 325 L532.19 323.11 L531.94 321.47 L531.67 320.09 L531.4 319 L531.11 318.27 L530.79 317.88 L530.5 317.66 L530.3 317.5Z" fill="#e48a6c" stroke="#c8441c" stroke-width="0.65"/>
<circle cx="530.62" cy="376.24" r="0.6" fill="#b82a0a" fill-opacity="0.85"/>
<circle cx="529.55" cy="317.5" r="0.6" fill="#b82a0a" fill-opacity="0.85"/>
<circle cx="528.98" cy="347.5" r="0.6" fill="#b82a0a" fill-opacity="0.85"/>
<circle cx="529.65" cy="377.74" r="0.6" fill="#b82a0a" fill-opacity="0.85"/>
<circle cx="529.9" cy="317.88" r="0.6" fill="#b82a0a" fill-opacity="0.85"/>
<circle cx="528.04" cy="342.5" r="0.6" fill="#b82a0a" fill-opacity="0.85"/>
<circle cx="527.99" cy="325" r="0.6" fill="#b82a0a" fill-opacity="0.85"/>
<circle cx="528.09" cy="327.22" r="0.6" fill="#b82a0a" fill-opacity="0.85"/>
<circle cx="530.38" cy="377.89" r="0.6" fill="#b82a0a" fill-opacity="0.85"/>
<circle cx="530.01" cy="373.05" r="0.6" fill="#b82a0a" fill-opacity="0.85"/>
<circle cx="530.94" cy="377.2" r="0.6" fill="#b82a0a" fill-opacity="0.85"/>
<circle cx="530.44" cy="362.71" r="0.6" fill="#b82a0a" fill-opacity="0.85"/>
<circle cx="529.58" cy="350" r="0.6" fill="#b82a0a" fill-opacity="0.85"/>
<circle cx="529.09" cy="352.5" r="0.6" fill="#b82a0a" fill-opacity="0.85"/>
<circle cx="528.86" cy="352.5" r="0.6" fill="#b82a0a" fill-opacity="0.85"/>
<circle cx="529.91" cy="360.19" r="0.6" fill="#b82a0a" fill-opacity="0.85"/>
<circle cx="529.57" cy="357.57" r="0.6" fill="#b82a0a" fill-opacity="0.85"/>
<circle cx="530.43" cy="370.6" r="0.6" fill="#b82a0a" fill-opacity="0.85"/>
<circle cx="530.48" cy="376.24" r="0.6" fill="#b82a0a" fill-opacity="0.85"/>
<circle cx="529.61" cy="317.5" r="0.6" fill="#b82a0a" fill-opacity="0.85"/>
<circle cx="529.26" cy="372" r="0.6" fill="#b82a0a" fill-opacity="0.85"/>
<circle cx="529.44" cy="317.66" r="0.6" fill="#b82a0a" fill-opacity="0.85"/>
<circle cx="529.36" cy="373.8" r="0.6" fill="#b82a0a" fill-opacity="0.85"/>
<circle cx="529.75" cy="317.5" r="0.6" fill="#b82a0a" fill-opacity="0.85"/>
<circle cx="530.94" cy="350" r="0.6" fill="#b82a0a" fill-opacity="0.85"/>
<circle cx="529.55" cy="374.4" r="0.6" fill="#b82a0a" fill-opacity="0.85"/>
<circle cx="530.63" cy="374.4" r="0.6" fill="#b82a0a" fill-opacity="0.85"/>
<circle cx="530.75" cy="365" r="0.6" fill="#b82a0a" fill-opacity="0.85"/>
<circle cx="529.68" cy="319" r="0.6" fill="#b82a0a" fill-opacity="0.85"/>
<circle cx="530.42" cy="350" r="0.6" fill="#b82a0a" fill-opacity="0.85"/>
<circle cx="530.2" cy="368.94" r="0.6" fill="#b82a0a" fill-opacity="0.85"/>
<circle cx="530.54" cy="373.05" r="0.6" fill="#b82a0a" fill-opacity="0.85"/>
<circle cx="529.91" cy="317.88" r="0.6" fill="#b82a0a" fill-opacity="0.85"/>
<circle cx="529.12" cy="355" r="0.6" fill="#b82a0a" fill-opacity="0.85"/>
<circle cx="528.86" cy="365" r="0.6" fill="#b82a0a" fill-opacity="0.85"/>
<circle cx="529.65" cy="317.88" r="0.6" fill="#b82a0a" fill-opacity="0.85"/>
<circle cx="529.37" cy="317.66" r="0.6" fill="#b82a0a" fill-opacity="0.85"/>
<circle cx="531.55" cy="329.75" r="0.6" fill="#b82a0a" fill-opacity="0.85"/>
<circle cx="531.66" cy="342.5" r="0.6" fill="#b82a0a" fill-opacity="0.85"/>
<circle cx="530.16" cy="377.2" r="0.6" fill="#b82a0a" fill-opacity="0.85"/>
<circle cx="530.09" cy="340" r="0.6" fill="#b82a0a" fill-opacity="0.85"/>
<circle cx="529.98" cy="317.66" r="0.6" fill="#b82a0a" fill-opacity="0.85"/>
<circle cx="529.72" cy="375.64" r="0.6" fill="#b82a0a" fill-opacity="0.85"/>
<circle cx="529.16" cy="376.24" r="0.6" fill="#b82a0a" fill-opacity="0.85"/>
<circle cx="530.57" cy="347.5" r="0.6" fill="#b82a0a" fill-opacity="0.85"/>
<circle cx="528.98" cy="357.57" r="0.6" fill="#b82a0a" fill-opacity="0.85"/>
<circle cx="530.08" cy="376.24" r="0.6" fill="#b82a0a" fill-opacity="0.85"/>
<circle cx="529.27" cy="319" r="0.6" fill="#b82a0a" fill-opacity="0.85"/>
<circle cx="530.11" cy="350" r="0.6" fill="#b82a0a" fill-opacity="0.85"/>
<circle cx="530.19" cy="377.89" r="0.6" fill="#b82a0a" fill-opacity="0.85"/>
<circle cx="531.6" cy="329.75" r="0.6" fill="#b82a0a" fill-opacity="0.85"/>
<circle cx="529.39" cy="377.2" r="0.6" fill="#b82a0a" fill-opacity="0.85"/>
<circle cx="529.99" cy="377.52" r="0.6" fill="#b82a0a" fill-opacity="0.85"/>
<circle cx="529.29" cy="321.47" r="0.6" fill="#b82a0a" fill-opacity="0.85"/>
<circle cx="529.38" cy="317.66" r="0.6" fill="#b82a0a" fill-opacity="0.85"/>
<circle cx="529.59" cy="377.89" r="0.6" fill="#b82a0a" fill-opacity="0.85"/>
<circle cx="530.11" cy="350" r="0.6" fill="#b82a0a" fill-opacity="0.85"/>
<circle cx="531.12" cy="342.5" r="0.6" fill="#b82a0a" fill-opacity="0.85"/>
<circle cx="529.24" cy="335" r="0.6" fill="#b82a0a" fill-opacity="0.85"/>
<circle cx="530.87" cy="376.24" r="0.6" fill="#b82a0a" fill-opacity="0.85"/>
<circle cx="529.9" cy="375" r="0.6" fill="#b82a0a" fill-opacity="0.85"/>
<circle cx="529.92" cy="376.24" r="0.6" fill="#b82a0a" fill-opacity="0.85"/>
<circle cx="531.36" cy="337.5" r="0.6" fill="#b82a0a" fill-opacity="0.85"/>
<circle cx="528.84" cy="376.24" r="0.6" fill="#b82a0a" fill-opacity="0.85"/>
<circle cx="530.54" cy="327.22" r="0.6" fill="#b82a0a" fill-opacity="0.85"/>
<circle cx="529.35" cy="318.27" r="0.6" fill="#b82a0a" fill-opacity="0.85"/>
<circle cx="529.79" cy="323.11" r="0.6" fill="#b82a0a" fill-opacity="0.85"/>
<circle cx="527.89" cy="332.41" r="0.6" fill="#b82a0a" fill-opacity="0.85"/>
<circle cx="530.74" cy="325" r="0.6" fill="#b82a0a" fill-opacity="0.85"/>
<circle cx="528.88" cy="335" r="0.6" fill="#b82a0a" fill-opacity="0.85"/>
<circle cx="529.73" cy="317.66" r="0.6" fill="#b82a0a" fill-opacity="0.85"/>
<circle cx="530.34" cy="374.4" r="0.6" fill="#b82a0a" fill-opacity="0.85"/>
<circle cx="531" cy="376.24" r="0.6" fill="#b82a0a" fill-opacity="0.85"/>
<circle cx="529.95" cy="318.27" r="0.6" fill="#b82a0a" fill-opacity="0.85"/>
<circle cx="531.69" cy="329.75" r="0.6" fill="#b82a0a" fill-opacity="0.85"/>
<circle cx="528.16" cy="352.5" r="0.6" fill="#b82a0a" fill-opacity="0.85"/>
<circle cx="528.39" cy="347.5" r="0.6" fill="#b82a0a" fill-opacity="0.85"/>
<circle cx="529.67" cy="365" r="0.6" fill="#b82a0a" fill-opacity="0.85"/>
<circle cx="529.8" cy="362.71" r="0.6" fill="#b82a0a" fill-opacity="0.85"/>
<circle cx="529.53" cy="350" r="0.6" fill="#b82a0a" fill-opacity="0.85"/>
<line x1="527.6" y1="341.5" x2="532" y2="341.5" stroke="#111" stroke-width="0.8"/>
<path d="M538 312.8 L537.33 312.79 L536.36 312.74 L535.38 312.9 L534.7 313.5 L534.44 314.52 L534.43 315.86 L534.53 317.64 L534.6 320 L534.62 323.15 L534.67 326.97 L534.73 331.05 L534.8 335 L534.88 338.75 L534.98 342.5 L535.09 346.25 L535.2 350 L535.32 353.91 L535.45 357.94 L535.58 361.74 L535.7 365 L535.82 367.6 L535.93 369.72 L536.03 371.48 L536.1 373 L536.11 374.25 L536.07 375.19 L536.05 375.91 L536.1 376.5 L536.26 376.93 L536.49 377.18 L536.75 377.33 L537 377.5 L537.27 377.71 L537.56 377.91 L537.82 378.08 L538 378.2 L539 378.2 L539.18 378.08 L539.44 377.91 L539.73 377.71 L540 377.5 L540.25 377.33 L540.51 377.18 L540.74 376.93 L540.9 376.5 L540.95 375.91 L540.93 375.19 L540.89 374.25 L540.9 373 L540.97 371.48 L541.07 369.72 L541.18 367.6 L541.3 365 L541.42 361.74 L541.55 357.94 L541.68 353.91 L541.8 350 L541.91 346.25 L542.02 342.5 L542.12 338.75 L542.2 335 L542.27 331.05 L542.33 326.97 L542.38 323.15 L542.4 320 L542.47 317.64 L542.57 315.86 L542.56 314.52 L542.3 313.5 L541.62 312.9 L540.64 312.74 L539.67 312.79 L539 312.8Z" fill="#f8d68e" stroke="#eaa624" stroke-width="0.65"/>
<circle cx="538.94" cy="377.71" r="0.6" fill="#e59a10" fill-opacity="0.85"/>
<circle cx="539.54" cy="338.75" r="0.6" fill="#e59a10" fill-opacity="0.85"/>
<circle cx="539.53" cy="376.5" r="0.6" fill="#e59a10" fill-opacity="0.85"/>
<circle cx="538.07" cy="377.71" r="0.6" fill="#e59a10" fill-opacity="0.85"/>
<circle cx="539.92" cy="367.6" r="0.6" fill="#e59a10" fill-opacity="0.85"/>
<circle cx="539.79" cy="326.97" r="0.6" fill="#e59a10" fill-opacity="0.85"/>
<circle cx="539.06" cy="371.48" r="0.6" fill="#e59a10" fill-opacity="0.85"/>
<circle cx="538.03" cy="315.86" r="0.6" fill="#e59a10" fill-opacity="0.85"/>
<line x1="536.3" y1="338.8" x2="540.7" y2="338.8" stroke="#111" stroke-width="0.8"/>
<line x1="583.6" y1="24.3" x2="583.6" y2="391.2" stroke="#4a4a4a" stroke-width="0.6"/>
<line x1="583.6" y1="391.2" x2="682.6" y2="391.2" stroke="#4a4a4a" stroke-width="0.6"/>
<line x1="580.8" y1="34.3" x2="583.6" y2="34.3" stroke="#4a4a4a" stroke-width="0.6"/>
<text x="577" y="37.05" font-size="7.8" text-anchor="end" font-weight="normal" fill="#231f20">139</text>
<path d="M587.3 33.9 L587.75 34.02 L588.4 34.19 L589.17 34.42 L590 34.7 L590.93 35.08 L591.98 35.54 L593.04 36 L594 36.4 L594.32 36.72 L594.22 37 L594.76 37.23 L597 37.4 L602.19 37.49 L609.44 37.51 L616.59 37.5 L621.5 37.5 L621.5 38.3 L616.59 38.3 L609.44 38.29 L602.19 38.31 L597 38.4 L594.76 38.57 L594.22 38.8 L594.32 39.08 L594 39.4 L593.04 39.8 L591.98 40.26 L590.93 40.72 L590 41.1 L589.17 41.38 L588.4 41.61 L587.75 41.78 L587.3 41.9Z" fill="#e3b5ab" stroke="#b9604e" stroke-width="0.5" stroke-linejoin="round"/>
<path d="M587.3 26.9 L587.75 26.84 L588.4 26.75 L589.17 26.71 L590 26.8 L590.93 27.09 L591.98 27.51 L593.04 27.97 L594 28.4 L594.7 28.79 L595.25 29.19 L595.92 29.55 L597 29.8 L598.74 29.93 L600.94 29.97 L603.16 29.95 L605 29.9 L606.22 29.84 L607.09 29.74 L607.91 29.6 L609 29.4 L610.52 29.07 L612.28 28.64 L614.04 28.24 L615.6 28 L616.83 27.95 L617.87 28.04 L618.87 28.2 L620 28.4 L621.26 28.66 L622.59 28.99 L624 29.33 L625.5 29.6 L627.29 29.79 L629.29 29.92 L631.13 30.03 L632.4 30.1 L632.4 30.7 L631.13 30.77 L629.29 30.88 L627.29 31.01 L625.5 31.2 L624 31.47 L622.59 31.81 L621.26 32.14 L620 32.4 L618.87 32.6 L617.87 32.76 L616.83 32.85 L615.6 32.8 L614.04 32.56 L612.28 32.16 L610.52 31.73 L609 31.4 L607.91 31.2 L607.09 31.06 L606.22 30.96 L605 30.9 L603.16 30.85 L600.94 30.83 L598.74 30.87 L597 31 L595.92 31.25 L595.25 31.61 L594.7 32.01 L594 32.4 L593.04 32.83 L591.98 33.29 L590.93 33.71 L590 34 L589.17 34.09 L588.4 34.05 L587.75 33.96 L587.3 33.9Z" fill="#a6d8e6" stroke="#2196b9" stroke-width="0.5" stroke-linejoin="round"/>
<rect x="612" y="29.5" width="8" height="1.8" fill="#6cbcd4" fill-opacity="0.55" stroke="#2196b9" stroke-width="0.35"/>
<line x1="616" y1="29.5" x2="616" y2="31.3" stroke="#ffffff" stroke-width="0.7"/>
<text x="678.4" y="35.4" font-size="9.2" text-anchor="middle" font-weight="normal" fill="#231f20" letter-spacing="0.2">*</text>
<line x1="580.8" y1="50.85" x2="583.6" y2="50.85" stroke="#4a4a4a" stroke-width="0.6"/>
<text x="577" y="53.6" font-size="7.8" text-anchor="end" font-weight="normal" fill="#231f20">129</text>
<path d="M587.3 51.65 L588.07 51.47 L589.15 51.21 L590.48 50.99 L592 50.95 L593.81 51.18 L595.92 51.59 L598.06 52.06 L600 52.45 L601.64 52.77 L603.12 53.07 L604.55 53.32 L606 53.45 L607.45 53.44 L608.88 53.33 L610.36 53.15 L612 52.95 L613.86 52.7 L615.88 52.39 L617.95 52.09 L620 51.85 L622.11 51.69 L624.29 51.57 L626.32 51.49 L628 51.45 L629.25 51.46 L630.2 51.52 L630.9 51.6 L631.4 51.65 L631.4 57.25 L630.9 57.3 L630.2 57.37 L629.25 57.44 L628 57.45 L626.32 57.41 L624.29 57.33 L622.11 57.21 L620 57.05 L617.95 56.81 L615.88 56.51 L613.86 56.2 L612 55.95 L610.36 55.75 L608.88 55.57 L607.45 55.46 L606 55.45 L604.55 55.58 L603.12 55.82 L601.64 56.13 L600 56.45 L598.06 56.84 L595.92 57.31 L593.81 57.72 L592 57.95 L590.48 57.91 L589.15 57.69 L588.07 57.43 L587.3 57.25Z" fill="#e3b5ab" stroke="#b9604e" stroke-width="0.5" stroke-linejoin="round"/>
<rect x="618" y="53.55" width="12" height="1.8" fill="#c98a7e" fill-opacity="0.55" stroke="#b9604e" stroke-width="0.35"/>
<line x1="626" y1="53.55" x2="626" y2="55.35" stroke="#ffffff" stroke-width="0.7"/>
<path d="M587.3 46.45 L591.76 46.45 L598.24 46.46 L604.92 46.43 L610 46.35 L612.66 46.21 L613.98 46.02 L614.95 45.77 L616.6 45.45 L619.31 44.96 L622.49 44.33 L625.71 43.76 L628.5 43.45 L630.71 43.47 L632.6 43.7 L634.31 44.06 L636 44.45 L637.81 44.93 L639.62 45.51 L641.2 46.07 L642.3 46.45 L642.3 47.45 L641.2 47.83 L639.62 48.39 L637.81 48.97 L636 49.45 L634.31 49.84 L632.6 50.2 L630.71 50.43 L628.5 50.45 L625.71 50.14 L622.49 49.57 L619.31 48.94 L616.6 48.45 L614.95 48.13 L613.98 47.88 L612.66 47.69 L610 47.55 L604.92 47.47 L598.24 47.44 L591.76 47.45 L587.3 47.45Z" fill="#a6d8e6" stroke="#2196b9" stroke-width="0.5" stroke-linejoin="round"/>
<rect x="624" y="46.05" width="8" height="1.8" fill="#6cbcd4" fill-opacity="0.55" stroke="#2196b9" stroke-width="0.35"/>
<line x1="628" y1="46.05" x2="628" y2="47.85" stroke="#ffffff" stroke-width="0.7"/>
<text x="678.4" y="51.95" font-size="9.2" text-anchor="middle" font-weight="normal" fill="#231f20" letter-spacing="0.2">***</text>
<line x1="580.8" y1="67.4" x2="583.6" y2="67.4" stroke="#4a4a4a" stroke-width="0.6"/>
<text x="577" y="70.15" font-size="7.8" text-anchor="end" font-weight="normal" fill="#231f20">107</text>
<path d="M587.3 69.8 L587.61 69.92 L588.02 70.1 L588.75 70.28 L590 70.4 L592.06 70.46 L594.75 70.47 L597.56 70.46 L600 70.4 L601.87 70.31 L603.46 70.18 L604.99 70.01 L606.7 69.8 L608.65 69.52 L610.71 69.18 L612.84 68.83 L615 68.5 L617.29 68.19 L619.71 67.88 L622.01 67.61 L624 67.4 L625.59 67.25 L626.91 67.16 L628.03 67.13 L629 67.2 L629.84 67.43 L630.51 67.79 L631.03 68.15 L631.4 68.4 L631.4 73.6 L631.03 73.85 L630.51 74.21 L629.84 74.57 L629 74.8 L628.03 74.87 L626.91 74.84 L625.59 74.75 L624 74.6 L622.01 74.39 L619.71 74.12 L617.29 73.81 L615 73.5 L612.84 73.17 L610.71 72.82 L608.65 72.48 L606.7 72.2 L604.99 71.99 L603.46 71.82 L601.87 71.69 L600 71.6 L597.56 71.54 L594.75 71.53 L592.06 71.54 L590 71.6 L588.75 71.72 L588.02 71.9 L587.61 72.08 L587.3 72.2Z" fill="#e3b5ab" stroke="#b9604e" stroke-width="0.5" stroke-linejoin="round"/>
<rect x="618" y="70.1" width="10" height="1.8" fill="#c98a7e" fill-opacity="0.55" stroke="#b9604e" stroke-width="0.35"/>
<line x1="624" y1="70.1" x2="624" y2="71.9" stroke="#ffffff" stroke-width="0.7"/>
<path d="M587.3 63 L590.72 63.02 L595.67 63.06 L600.87 63.07 L605 63 L607.61 62.83 L609.44 62.59 L610.95 62.31 L612.6 62 L614.49 61.64 L616.37 61.23 L618.22 60.82 L620 60.5 L621.64 60.25 L623.18 60.04 L624.76 59.91 L626.5 59.9 L628.47 60.03 L630.57 60.28 L632.77 60.61 L635 61 L637.49 61.5 L640.18 62.12 L642.61 62.7 L644.3 63.1 L644.3 63.9 L642.61 64.3 L640.18 64.88 L637.49 65.5 L635 66 L632.77 66.39 L630.57 66.72 L628.47 66.97 L626.5 67.1 L624.76 67.09 L623.18 66.96 L621.64 66.75 L620 66.5 L618.22 66.18 L616.37 65.78 L614.49 65.36 L612.6 65 L610.95 64.69 L609.44 64.41 L607.61 64.17 L605 64 L600.87 63.93 L595.67 63.94 L590.72 63.98 L587.3 64Z" fill="#a6d8e6" stroke="#2196b9" stroke-width="0.5" stroke-linejoin="round"/>
<rect x="622" y="62.6" width="9" height="1.8" fill="#6cbcd4" fill-opacity="0.55" stroke="#2196b9" stroke-width="0.35"/>
<line x1="626.5" y1="62.6" x2="626.5" y2="64.4" stroke="#ffffff" stroke-width="0.7"/>
<text x="678.4" y="68.5" font-size="9.2" text-anchor="middle" font-weight="normal" fill="#231f20" letter-spacing="0.2">**</text>
<line x1="580.8" y1="83.95" x2="583.6" y2="83.95" stroke="#4a4a4a" stroke-width="0.6"/>
<text x="577" y="86.7" font-size="7.8" text-anchor="end" font-weight="normal" fill="#231f20">083</text>
<path d="M587.3 86.05 L588.1 85.97 L589.22 85.86 L590.57 85.72 L592 85.55 L593.52 85.34 L595.18 85.08 L596.95 84.81 L598.8 84.55 L600.76 84.28 L602.82 83.99 L604.93 83.73 L607 83.55 L608.97 83.46 L610.89 83.42 L612.86 83.46 L615 83.55 L617.43 83.73 L620.06 83.99 L622.66 84.28 L625 84.55 L627.02 84.8 L628.85 85.05 L630.5 85.3 L632 85.55 L633.39 85.82 L634.64 86.11 L635.67 86.37 L636.4 86.55 L636.4 88.55 L635.67 88.73 L634.64 88.99 L633.39 89.28 L632 89.55 L630.5 89.8 L628.85 90.05 L627.02 90.3 L625 90.55 L622.66 90.82 L620.06 91.11 L617.43 91.37 L615 91.55 L612.86 91.64 L610.89 91.67 L608.97 91.64 L607 91.55 L604.93 91.37 L602.82 91.11 L600.76 90.82 L598.8 90.55 L596.95 90.29 L595.18 90.02 L593.52 89.76 L592 89.55 L590.57 89.38 L589.22 89.24 L588.1 89.13 L587.3 89.05Z" fill="#e3b5ab" stroke="#b9604e" stroke-width="0.5" stroke-linejoin="round"/>
<rect x="600" y="86.65" width="18" height="1.8" fill="#c98a7e" fill-opacity="0.55" stroke="#b9604e" stroke-width="0.35"/>
<line x1="607" y1="86.65" x2="607" y2="88.45" stroke="#ffffff" stroke-width="0.7"/>
<path d="M604.7 79.25 L605.05 78.94 L605.54 78.48 L606.18 77.99 L607 77.55 L608.04 77.17 L609.27 76.81 L610.62 76.49 L612 76.25 L613.38 76.09 L614.81 76.01 L616.34 75.99 L618 76.05 L619.91 76.2 L622 76.44 L624.09 76.74 L626 77.05 L627.7 77.4 L629.29 77.81 L630.73 78.21 L632 78.55 L633.11 78.84 L634.08 79.09 L634.85 79.3 L635.4 79.45 L635.4 80.65 L634.85 80.8 L634.08 81.01 L633.11 81.26 L632 81.55 L630.73 81.89 L629.29 82.29 L627.7 82.7 L626 83.05 L624.09 83.36 L622 83.66 L619.91 83.9 L618 84.05 L616.34 84.11 L614.81 84.09 L613.38 84.01 L612 83.85 L610.62 83.61 L609.27 83.29 L608.04 82.93 L607 82.55 L606.18 82.11 L605.54 81.62 L605.05 81.16 L604.7 80.85Z" fill="#a6d8e6" stroke="#2196b9" stroke-width="0.5" stroke-linejoin="round"/>
<rect x="610" y="79.15" width="12" height="1.8" fill="#6cbcd4" fill-opacity="0.55" stroke="#2196b9" stroke-width="0.35"/>
<line x1="616.6" y1="79.15" x2="616.6" y2="80.95" stroke="#ffffff" stroke-width="0.7"/>
<text x="678.4" y="85.05" font-size="9.2" text-anchor="middle" font-weight="normal" fill="#231f20" letter-spacing="0.2">*</text>
<line x1="580.8" y1="100.5" x2="583.6" y2="100.5" stroke="#4a4a4a" stroke-width="0.6"/>
<text x="577" y="103.25" font-size="7.8" text-anchor="end" font-weight="normal" fill="#231f20">081</text>
<path d="M587.3 100.1 L588.11 100.16 L589.27 100.23 L590.62 100.34 L592 100.5 L593.41 100.76 L594.92 101.09 L596.47 101.41 L598 101.6 L599.45 101.64 L600.88 101.58 L602.36 101.46 L604 101.3 L605.74 101.09 L607.56 100.82 L609.6 100.55 L612 100.3 L614.97 100.08 L618.38 99.87 L621.84 99.7 L625 99.6 L627.77 99.58 L630.36 99.63 L632.76 99.74 L635 99.9 L637.19 100.16 L639.27 100.52 L641.05 100.86 L642.3 101.1 L642.3 107.1 L641.05 107.34 L639.27 107.68 L637.19 108.04 L635 108.3 L632.76 108.46 L630.36 108.57 L627.77 108.62 L625 108.6 L621.84 108.5 L618.38 108.33 L614.97 108.12 L612 107.9 L609.6 107.65 L607.56 107.38 L605.74 107.11 L604 106.9 L602.36 106.74 L600.88 106.62 L599.45 106.56 L598 106.6 L596.47 106.79 L594.92 107.11 L593.41 107.44 L592 107.7 L590.62 107.86 L589.27 107.97 L588.11 108.04 L587.3 108.1Z" fill="#e3b5ab" stroke="#b9604e" stroke-width="0.5" stroke-linejoin="round"/>
<rect x="600" y="103.2" width="40" height="1.8" fill="#c98a7e" fill-opacity="0.55" stroke="#b9604e" stroke-width="0.35"/>
<line x1="616" y1="103.2" x2="616" y2="105" stroke="#ffffff" stroke-width="0.7"/>
<path d="M587.3 96.1 L593.79 96.1 L603.24 96.11 L612.9 96.09 L620 96 L623.47 95.83 L624.89 95.61 L625.49 95.33 L626.5 95 L628.18 94.55 L629.91 93.99 L631.55 93.47 L633 93.1 L634.15 92.92 L635.09 92.86 L635.99 92.9 L637 93 L638.17 93.17 L639.43 93.42 L640.71 93.73 L642 94.1 L643.41 94.58 L644.91 95.17 L646.26 95.72 L647.2 96.1 L647.2 97.1 L646.26 97.48 L644.91 98.03 L643.41 98.62 L642 99.1 L640.71 99.47 L639.43 99.78 L638.17 100.03 L637 100.2 L635.99 100.3 L635.09 100.34 L634.15 100.28 L633 100.1 L631.55 99.73 L629.91 99.21 L628.18 98.65 L626.5 98.2 L625.49 97.87 L624.89 97.59 L623.47 97.37 L620 97.2 L612.9 97.11 L603.24 97.09 L593.79 97.1 L587.3 97.1Z" fill="#a6d8e6" stroke="#2196b9" stroke-width="0.5" stroke-linejoin="round"/>
<rect x="633" y="95.7" width="7" height="1.8" fill="#6cbcd4" fill-opacity="0.55" stroke="#2196b9" stroke-width="0.35"/>
<line x1="636.4" y1="95.7" x2="636.4" y2="97.5" stroke="#ffffff" stroke-width="0.7"/>
<text x="678.4" y="101.6" font-size="9.2" text-anchor="middle" font-weight="normal" fill="#231f20" letter-spacing="0.2">***</text>
<line x1="580.8" y1="117.05" x2="583.6" y2="117.05" stroke="#4a4a4a" stroke-width="0.6"/>
<text x="577" y="119.8" font-size="7.8" text-anchor="end" font-weight="normal" fill="#231f20">075</text>
<path d="M587.3 119.25 L589.65 119.3 L593.02 119.36 L596.72 119.42 L600 119.45 L602.74 119.45 L605.29 119.44 L607.7 119.38 L610 119.25 L612.09 119.02 L614 118.71 L615.91 118.37 L618 118.05 L620.36 117.72 L622.88 117.36 L625.45 117.05 L628 116.85 L630.57 116.78 L633.19 116.8 L635.71 116.9 L638 117.05 L640.05 117.27 L641.93 117.57 L643.59 117.91 L645 118.25 L646.14 118.62 L647.04 119.02 L647.71 119.39 L648.2 119.65 L648.2 121.65 L647.71 121.91 L647.04 122.27 L646.14 122.68 L645 123.05 L643.59 123.39 L641.93 123.72 L640.05 124.02 L638 124.25 L635.71 124.4 L633.19 124.5 L630.57 124.52 L628 124.45 L625.45 124.25 L622.88 123.94 L620.36 123.58 L618 123.25 L615.91 122.93 L614 122.59 L612.09 122.28 L610 122.05 L607.7 121.92 L605.29 121.86 L602.74 121.85 L600 121.85 L596.72 121.88 L593.02 121.94 L589.65 122 L587.3 122.05Z" fill="#e3b5ab" stroke="#b9604e" stroke-width="0.5" stroke-linejoin="round"/>
<rect x="615" y="119.75" width="22" height="1.8" fill="#c98a7e" fill-opacity="0.55" stroke="#b9604e" stroke-width="0.35"/>
<line x1="625" y1="119.75" x2="625" y2="121.55" stroke="#ffffff" stroke-width="0.7"/>
<path d="M587.3 112.65 L595.47 112.66 L607.4 112.67 L619.45 112.65 L628 112.55 L631.53 112.34 L632.17 112.05 L631.72 111.71 L632 111.35 L633.41 110.93 L635 110.44 L636.59 109.99 L638 109.65 L639.14 109.44 L640.12 109.31 L641.05 109.28 L642 109.35 L643 109.55 L643.99 109.86 L644.99 110.24 L646 110.65 L647.13 111.15 L648.35 111.73 L649.44 112.27 L650.2 112.65 L650.2 113.65 L649.44 114.03 L648.35 114.57 L647.13 115.15 L646 115.65 L644.99 116.06 L643.99 116.44 L643 116.75 L642 116.95 L641.05 117.02 L640.12 116.99 L639.14 116.86 L638 116.65 L636.59 116.31 L635 115.86 L633.41 115.37 L632 114.95 L631.72 114.59 L632.17 114.25 L631.53 113.96 L628 113.75 L619.45 113.65 L607.4 113.62 L595.47 113.64 L587.3 113.65Z" fill="#a6d8e6" stroke="#2196b9" stroke-width="0.5" stroke-linejoin="round"/>
<rect x="637" y="112.25" width="8" height="1.8" fill="#6cbcd4" fill-opacity="0.55" stroke="#2196b9" stroke-width="0.35"/>
<line x1="641.3" y1="112.25" x2="641.3" y2="114.05" stroke="#ffffff" stroke-width="0.7"/>
<text x="678.4" y="118.15" font-size="9.2" text-anchor="middle" font-weight="normal" fill="#231f20" letter-spacing="0.2">***</text>
<line x1="580.8" y1="133.6" x2="583.6" y2="133.6" stroke="#4a4a4a" stroke-width="0.6"/>
<text x="577" y="136.35" font-size="7.8" text-anchor="end" font-weight="normal" fill="#231f20">068</text>
<path d="M604.3 135.2 L604.75 135.08 L605.4 134.91 L606.17 134.75 L607 134.7 L607.96 134.79 L609.04 134.98 L610.11 135.2 L611 135.4 L611.59 135.6 L612 135.83 L612.41 135.99 L613 136 L613.84 135.8 L614.81 135.46 L615.88 135.06 L617 134.7 L618.18 134.37 L619.44 134.03 L620.73 133.75 L622 133.6 L623.22 133.6 L624.41 133.72 L625.65 133.93 L627 134.2 L628.65 134.61 L630.51 135.14 L632.22 135.65 L633.4 136 L633.4 138.4 L632.22 138.75 L630.51 139.26 L628.65 139.79 L627 140.2 L625.65 140.47 L624.41 140.68 L623.22 140.8 L622 140.8 L620.73 140.65 L619.44 140.37 L618.18 140.03 L617 139.7 L615.88 139.34 L614.81 138.94 L613.84 138.6 L613 138.4 L612.41 138.41 L612 138.58 L611.59 138.8 L611 139 L610.11 139.2 L609.04 139.42 L607.96 139.61 L607 139.7 L606.17 139.65 L605.4 139.49 L604.75 139.32 L604.3 139.2Z" fill="#e3b5ab" stroke="#b9604e" stroke-width="0.5" stroke-linejoin="round"/>
<rect x="618" y="136.3" width="10" height="1.8" fill="#c98a7e" fill-opacity="0.55" stroke="#b9604e" stroke-width="0.35"/>
<line x1="623" y1="136.3" x2="623" y2="138.1" stroke="#ffffff" stroke-width="0.7"/>
<path d="M587.3 129.1 L591.8 129.12 L598.36 129.16 L605.07 129.16 L610 129.1 L612.4 128.96 L613.38 128.76 L613.82 128.5 L614.6 128.2 L615.9 127.8 L617.28 127.32 L618.66 126.85 L620 126.5 L621.28 126.27 L622.52 126.13 L623.76 126.06 L625 126.1 L626.26 126.26 L627.54 126.52 L628.79 126.85 L630 127.2 L631.04 127.61 L631.96 128.09 L633 128.55 L634.4 128.9 L636.52 129.1 L639.12 129.21 L641.6 129.26 L643.3 129.3 L643.3 130.1 L641.6 130.14 L639.12 130.19 L636.52 130.3 L634.4 130.5 L633 130.85 L631.96 131.31 L631.04 131.79 L630 132.2 L628.79 132.55 L627.54 132.88 L626.26 133.14 L625 133.3 L623.76 133.34 L622.52 133.28 L621.28 133.13 L620 132.9 L618.66 132.55 L617.28 132.08 L615.9 131.6 L614.6 131.2 L613.82 130.9 L613.38 130.64 L612.4 130.44 L610 130.3 L605.07 130.24 L598.36 130.24 L591.8 130.28 L587.3 130.3Z" fill="#a6d8e6" stroke="#2196b9" stroke-width="0.5" stroke-linejoin="round"/>
<rect x="620" y="128.8" width="8" height="1.8" fill="#6cbcd4" fill-opacity="0.55" stroke="#2196b9" stroke-width="0.35"/>
<line x1="624.5" y1="128.8" x2="624.5" y2="130.6" stroke="#ffffff" stroke-width="0.7"/>
<text x="678.6" y="132.5" font-size="7.8" text-anchor="middle" font-weight="normal" fill="#231f20">NS</text>
<line x1="580.8" y1="150.15" x2="583.6" y2="150.15" stroke="#4a4a4a" stroke-width="0.6"/>
<text x="577" y="152.9" font-size="7.8" text-anchor="end" font-weight="normal" fill="#231f20">046</text>
<path d="M587.3 153.15 L594.78 153.13 L605.69 153.09 L616.82 153.04 L625 152.95 L628.98 152.82 L630.58 152.67 L631.25 152.48 L632.4 152.25 L634.28 151.96 L636.16 151.61 L638.07 151.25 L640 150.95 L642.04 150.68 L644.16 150.43 L646.2 150.24 L648 150.15 L649.46 150.17 L650.69 150.28 L651.82 150.47 L653 150.75 L654.2 151.19 L655.38 151.76 L656.61 152.32 L658 152.75 L659.77 152.99 L661.81 153.12 L663.7 153.2 L665 153.25 L665 154.25 L663.7 154.3 L661.81 154.38 L659.77 154.51 L658 154.75 L656.61 155.18 L655.38 155.74 L654.2 156.31 L653 156.75 L651.82 157.03 L650.69 157.22 L649.46 157.33 L648 157.35 L646.2 157.26 L644.16 157.07 L642.04 156.82 L640 156.55 L638.07 156.25 L636.16 155.89 L634.28 155.54 L632.4 155.25 L631.25 155.02 L630.58 154.83 L628.98 154.68 L625 154.55 L616.82 154.46 L605.69 154.41 L594.78 154.37 L587.3 154.35Z" fill="#e3b5ab" stroke="#b9604e" stroke-width="0.5" stroke-linejoin="round"/>
<rect x="643" y="152.85" width="9" height="1.8" fill="#c98a7e" fill-opacity="0.55" stroke="#b9604e" stroke-width="0.35"/>
<line x1="650" y1="152.85" x2="650" y2="154.65" stroke="#ffffff" stroke-width="0.7"/>
<path d="M629.8 145.85 L631.8 145.83 L634.71 145.81 L637.72 145.75 L640 145.65 L641.21 145.49 L641.83 145.29 L642.28 145.05 L643 144.75 L644.13 144.35 L645.43 143.87 L646.76 143.4 L648 143.05 L649.09 142.82 L650.11 142.68 L651.13 142.61 L652.2 142.65 L653.35 142.8 L654.55 143.06 L655.77 143.38 L657 143.75 L658.28 144.21 L659.61 144.75 L660.89 145.27 L662 145.65 L662.96 145.84 L663.81 145.92 L664.51 145.93 L665 145.95 L665 146.55 L664.51 146.57 L663.81 146.58 L662.96 146.66 L662 146.85 L660.89 147.23 L659.61 147.75 L658.28 148.29 L657 148.75 L655.77 149.12 L654.55 149.44 L653.35 149.7 L652.2 149.85 L651.13 149.89 L650.11 149.82 L649.09 149.68 L648 149.45 L646.76 149.1 L645.43 148.63 L644.13 148.15 L643 147.75 L642.28 147.45 L641.83 147.21 L641.21 147.01 L640 146.85 L637.72 146.75 L634.71 146.69 L631.8 146.67 L629.8 146.65Z" fill="#a6d8e6" stroke="#2196b9" stroke-width="0.5" stroke-linejoin="round"/>
<rect x="649" y="145.35" width="7" height="1.8" fill="#6cbcd4" fill-opacity="0.55" stroke="#2196b9" stroke-width="0.35"/>
<line x1="652" y1="145.35" x2="652" y2="147.15" stroke="#ffffff" stroke-width="0.7"/>
<text x="678.4" y="151.25" font-size="9.2" text-anchor="middle" font-weight="normal" fill="#231f20" letter-spacing="0.2">***</text>
<line x1="580.8" y1="166.7" x2="583.6" y2="166.7" stroke="#4a4a4a" stroke-width="0.6"/>
<text x="577" y="169.45" font-size="7.8" text-anchor="end" font-weight="normal" fill="#231f20">045</text>
<path d="M587.3 166.3 L588.07 166.42 L589.15 166.6 L590.48 166.82 L592 167.1 L593.72 167.48 L595.67 167.94 L597.78 168.39 L600 168.7 L602.36 168.86 L604.88 168.93 L607.45 168.91 L610 168.8 L612.45 168.57 L614.88 168.23 L617.36 167.85 L620 167.5 L622.84 167.16 L625.81 166.82 L628.88 166.51 L632 166.3 L635.32 166.21 L638.81 166.2 L642.15 166.24 L645 166.3 L647.2 166.37 L648.94 166.47 L650.46 166.59 L652 166.7 L653.71 166.81 L655.44 166.92 L656.95 167.03 L658 167.1 L658 173.5 L656.95 173.57 L655.44 173.67 L653.71 173.79 L652 173.9 L650.46 174.01 L648.94 174.12 L647.2 174.23 L645 174.3 L642.15 174.36 L638.81 174.4 L635.32 174.39 L632 174.3 L628.88 174.09 L625.81 173.78 L622.84 173.44 L620 173.1 L617.36 172.75 L614.88 172.37 L612.45 172.03 L610 171.8 L607.45 171.69 L604.88 171.67 L602.36 171.74 L600 171.9 L597.78 172.21 L595.67 172.66 L593.72 173.12 L592 173.5 L590.48 173.77 L589.15 174 L588.07 174.17 L587.3 174.3Z" fill="#e3b5ab" stroke="#b9604e" stroke-width="0.5" stroke-linejoin="round"/>
<rect x="620" y="169.4" width="25" height="1.8" fill="#c98a7e" fill-opacity="0.55" stroke="#b9604e" stroke-width="0.35"/>
<line x1="628" y1="169.4" x2="628" y2="171.2" stroke="#ffffff" stroke-width="0.7"/>
<path d="M587.3 162 L596.86 161.98 L610.82 161.95 L624.94 161.9 L635 161.8 L639.3 161.67 L640.27 161.5 L639.94 161.28 L640.3 161 L641.69 160.59 L643.11 160.07 L644.54 159.57 L646 159.2 L647.48 158.97 L648.98 158.82 L650.49 158.77 L652 158.8 L653.5 158.92 L655 159.14 L656.5 159.43 L658 159.8 L659.64 160.32 L661.38 160.96 L662.92 161.58 L664 162 L664 163.6 L662.92 164.02 L661.38 164.64 L659.64 165.28 L658 165.8 L656.5 166.17 L655 166.46 L653.5 166.68 L652 166.8 L650.49 166.83 L648.98 166.77 L647.48 166.63 L646 166.4 L644.54 166.02 L643.11 165.52 L641.69 165.01 L640.3 164.6 L639.94 164.32 L640.27 164.1 L639.3 163.93 L635 163.8 L624.94 163.7 L610.82 163.65 L596.86 163.62 L587.3 163.6Z" fill="#a6d8e6" stroke="#2196b9" stroke-width="0.5" stroke-linejoin="round"/>
<rect x="648" y="161.9" width="8" height="1.8" fill="#6cbcd4" fill-opacity="0.55" stroke="#2196b9" stroke-width="0.35"/>
<line x1="651" y1="161.9" x2="651" y2="163.7" stroke="#ffffff" stroke-width="0.7"/>
<text x="678.4" y="167.8" font-size="9.2" text-anchor="middle" font-weight="normal" fill="#231f20" letter-spacing="0.2">***</text>
<line x1="580.8" y1="183.25" x2="583.6" y2="183.25" stroke="#4a4a4a" stroke-width="0.6"/>
<text x="577" y="186" font-size="7.8" text-anchor="end" font-weight="normal" fill="#231f20">044</text>
<path d="M587.3 185.85 L589.53 185.83 L592.71 185.8 L596.37 185.75 L600 185.65 L603.59 185.5 L607.36 185.3 L611.2 185.08 L615 184.85 L618.75 184.61 L622.5 184.35 L626.25 184.09 L630 183.85 L633.87 183.62 L637.81 183.39 L641.6 183.19 L645 183.05 L647.88 182.96 L650.38 182.91 L652.69 182.93 L655 183.05 L657.53 183.33 L660.12 183.75 L662.41 184.17 L664 184.45 L664 189.25 L662.41 189.53 L660.12 189.95 L657.53 190.37 L655 190.65 L652.69 190.77 L650.38 190.79 L647.88 190.74 L645 190.65 L641.6 190.51 L637.81 190.31 L633.87 190.08 L630 189.85 L626.25 189.61 L622.5 189.35 L618.75 189.09 L615 188.85 L611.2 188.62 L607.36 188.4 L603.59 188.2 L600 188.05 L596.37 187.95 L592.71 187.9 L589.53 187.87 L587.3 187.85Z" fill="#e3b5ab" stroke="#b9604e" stroke-width="0.5" stroke-linejoin="round"/>
<rect x="630" y="185.95" width="25" height="1.8" fill="#c98a7e" fill-opacity="0.55" stroke="#b9604e" stroke-width="0.35"/>
<line x1="646" y1="185.95" x2="646" y2="187.75" stroke="#ffffff" stroke-width="0.7"/>
<path d="M587.3 178.85 L599.55 178.85 L617.45 178.86 L635.45 178.83 L648 178.75 L652.83 178.61 L653.15 178.42 L651.7 178.17 L651.2 177.85 L652.13 177.33 L653.11 176.67 L654.11 176.09 L655.1 175.85 L656.1 176.09 L657.11 176.67 L658.09 177.33 L659 177.85 L659.77 178.17 L660.43 178.41 L661.13 178.6 L662 178.75 L663.23 178.85 L664.69 178.91 L666.05 178.93 L667 178.95 L667 179.75 L666.05 179.77 L664.69 179.79 L663.23 179.85 L662 179.95 L661.13 180.1 L660.43 180.29 L659.77 180.53 L659 180.85 L658.09 181.37 L657.11 182.03 L656.1 182.61 L655.1 182.85 L654.11 182.61 L653.11 182.03 L652.13 181.37 L651.2 180.85 L651.7 180.53 L653.15 180.28 L652.83 180.09 L648 179.95 L635.45 179.87 L617.45 179.84 L599.55 179.85 L587.3 179.85Z" fill="#a6d8e6" stroke="#2196b9" stroke-width="0.5" stroke-linejoin="round"/>
<rect x="653" y="178.45" width="4" height="1.8" fill="#6cbcd4" fill-opacity="0.55" stroke="#2196b9" stroke-width="0.35"/>
<line x1="655" y1="178.45" x2="655" y2="180.25" stroke="#ffffff" stroke-width="0.7"/>
<text x="678.4" y="184.35" font-size="9.2" text-anchor="middle" font-weight="normal" fill="#231f20" letter-spacing="0.2">***</text>
<line x1="580.8" y1="199.8" x2="583.6" y2="199.8" stroke="#4a4a4a" stroke-width="0.6"/>
<text x="577" y="202.55" font-size="7.8" text-anchor="end" font-weight="normal" fill="#231f20">037</text>
<path d="M587.3 199.4 L587.75 199.53 L588.4 199.71 L589.17 199.94 L590 200.2 L590.91 200.52 L591.92 200.89 L592.97 201.26 L594 201.6 L594.93 201.9 L595.81 202.18 L596.79 202.42 L598 202.6 L599.11 202.71 L600.16 202.76 L601.89 202.78 L605 202.8 L610.65 202.83 L618.14 202.86 L625.4 202.88 L630.4 202.9 L630.4 203.9 L625.4 203.92 L618.14 203.94 L610.65 203.97 L605 204 L601.89 204.02 L600.16 204.04 L599.11 204.09 L598 204.2 L596.79 204.38 L595.81 204.62 L594.93 204.9 L594 205.2 L592.97 205.54 L591.92 205.91 L590.91 206.28 L590 206.6 L589.17 206.86 L588.4 207.09 L587.75 207.27 L587.3 207.4Z" fill="#e3b5ab" stroke="#b9604e" stroke-width="0.5" stroke-linejoin="round"/>
<path d="M587.3 192.9 L588.11 192.95 L589.27 193.03 L590.62 193.13 L592 193.3 L593.41 193.58 L594.92 193.94 L596.47 194.28 L598 194.5 L599.45 194.58 L600.88 194.56 L602.36 194.47 L604 194.3 L605.86 194.02 L607.88 193.64 L609.95 193.24 L612 192.9 L613.95 192.64 L615.88 192.43 L617.86 192.24 L620 192.1 L622.45 191.99 L625.12 191.93 L627.73 191.89 L630 191.9 L631.87 191.95 L633.48 192.05 L634.85 192.17 L636 192.3 L636.89 192.45 L637.52 192.62 L637.97 192.79 L638.3 192.9 L638.3 198.9 L637.97 199.01 L637.52 199.18 L636.89 199.35 L636 199.5 L634.85 199.63 L633.48 199.75 L631.87 199.85 L630 199.9 L627.73 199.91 L625.12 199.88 L622.45 199.81 L620 199.7 L617.86 199.56 L615.88 199.38 L613.95 199.16 L612 198.9 L609.95 198.56 L607.88 198.16 L605.86 197.78 L604 197.5 L602.36 197.33 L600.88 197.24 L599.45 197.22 L598 197.3 L596.47 197.52 L594.92 197.86 L593.41 198.22 L592 198.5 L590.62 198.67 L589.27 198.78 L588.11 198.85 L587.3 198.9Z" fill="#a6d8e6" stroke="#2196b9" stroke-width="0.5" stroke-linejoin="round"/>
<rect x="615" y="195" width="20" height="1.8" fill="#6cbcd4" fill-opacity="0.55" stroke="#2196b9" stroke-width="0.35"/>
<line x1="626" y1="195" x2="626" y2="196.8" stroke="#ffffff" stroke-width="0.7"/>
<text x="678.4" y="200.9" font-size="9.2" text-anchor="middle" font-weight="normal" fill="#231f20" letter-spacing="0.2">***</text>
<line x1="580.8" y1="216.35" x2="583.6" y2="216.35" stroke="#4a4a4a" stroke-width="0.6"/>
<text x="577" y="219.1" font-size="7.8" text-anchor="end" font-weight="normal" fill="#231f20">036</text>
<path d="M587.3 217.95 L588.63 217.93 L590.52 217.9 L592.73 217.85 L595 217.75 L597.34 217.6 L599.86 217.4 L602.45 217.18 L605 216.95 L607.5 216.69 L610 216.39 L612.5 216.12 L615 215.95 L617.5 215.9 L620 215.94 L622.5 216.03 L625 216.15 L627.5 216.29 L630 216.47 L632.5 216.69 L635 216.95 L637.59 217.29 L640.24 217.69 L642.77 218.1 L645 218.45 L646.96 218.74 L648.73 218.99 L650.18 219.2 L651.2 219.35 L651.2 220.55 L650.18 220.7 L648.73 220.91 L646.96 221.16 L645 221.45 L642.77 221.8 L640.24 222.21 L637.59 222.61 L635 222.95 L632.5 223.21 L630 223.43 L627.5 223.61 L625 223.75 L622.5 223.87 L620 223.96 L617.5 224 L615 223.95 L612.5 223.78 L610 223.51 L607.5 223.21 L605 222.95 L602.45 222.72 L599.86 222.5 L597.34 222.3 L595 222.15 L592.73 222.05 L590.52 222 L588.63 221.97 L587.3 221.95Z" fill="#e3b5ab" stroke="#b9604e" stroke-width="0.5" stroke-linejoin="round"/>
<rect x="608" y="219.05" width="20" height="1.8" fill="#c98a7e" fill-opacity="0.55" stroke="#b9604e" stroke-width="0.35"/>
<line x1="618" y1="219.05" x2="618" y2="220.85" stroke="#ffffff" stroke-width="0.7"/>
<path d="M587.3 211.95 L593.43 211.95 L602.37 211.96 L611.45 211.93 L618 211.85 L620.9 211.7 L621.7 211.5 L621.78 211.25 L622.5 210.95 L624.19 210.55 L626.13 210.07 L628.13 209.6 L630 209.25 L631.7 209.02 L633.32 208.88 L634.88 208.81 L636.4 208.85 L637.84 209.01 L639.21 209.28 L640.58 209.61 L642 209.95 L643.45 210.32 L644.9 210.73 L646.45 211.13 L648.2 211.45 L650.42 211.68 L652.99 211.84 L655.36 211.96 L657 212.05 L657 212.85 L655.36 212.94 L652.99 213.06 L650.42 213.22 L648.2 213.45 L646.45 213.77 L644.9 214.17 L643.45 214.58 L642 214.95 L640.58 215.29 L639.21 215.62 L637.84 215.89 L636.4 216.05 L634.88 216.09 L633.32 216.03 L631.7 215.88 L630 215.65 L628.13 215.3 L626.13 214.83 L624.19 214.35 L622.5 213.95 L621.78 213.65 L621.7 213.4 L620.9 213.2 L618 213.05 L611.45 212.97 L602.37 212.94 L593.43 212.95 L587.3 212.95Z" fill="#a6d8e6" stroke="#2196b9" stroke-width="0.5" stroke-linejoin="round"/>
<rect x="631" y="211.55" width="9" height="1.8" fill="#6cbcd4" fill-opacity="0.55" stroke="#2196b9" stroke-width="0.35"/>
<line x1="636" y1="211.55" x2="636" y2="213.35" stroke="#ffffff" stroke-width="0.7"/>
<text x="678.4" y="217.45" font-size="9.2" text-anchor="middle" font-weight="normal" fill="#231f20" letter-spacing="0.2">***</text>
<line x1="580.8" y1="232.9" x2="583.6" y2="232.9" stroke="#4a4a4a" stroke-width="0.6"/>
<text x="577" y="235.65" font-size="7.8" text-anchor="end" font-weight="normal" fill="#231f20">031</text>
<path d="M587.3 232.5 L587.93 232.67 L588.84 232.91 L589.9 233.19 L591 233.5 L592.16 233.89 L593.42 234.34 L594.72 234.75 L596 235 L597.16 235.02 L598.25 234.89 L599.47 234.69 L601 234.5 L602.95 234.31 L605.19 234.08 L607.59 233.86 L610 233.7 L612.48 233.6 L615.06 233.54 L617.62 233.51 L620 233.5 L622.25 233.52 L624.41 233.57 L626.37 233.63 L628 233.7 L629.25 233.78 L630.2 233.86 L630.9 233.94 L631.4 234 L631.4 239 L630.9 239.06 L630.2 239.14 L629.25 239.23 L628 239.3 L626.37 239.37 L624.41 239.43 L622.25 239.48 L620 239.5 L617.62 239.49 L615.06 239.46 L612.48 239.4 L610 239.3 L607.59 239.14 L605.19 238.92 L602.95 238.69 L601 238.5 L599.47 238.31 L598.25 238.11 L597.16 237.98 L596 238 L594.72 238.25 L593.42 238.66 L592.16 239.11 L591 239.5 L589.9 239.81 L588.84 240.09 L587.93 240.33 L587.3 240.5Z" fill="#e3b5ab" stroke="#b9604e" stroke-width="0.5" stroke-linejoin="round"/>
<rect x="605" y="235.6" width="20" height="1.8" fill="#c98a7e" fill-opacity="0.55" stroke="#b9604e" stroke-width="0.35"/>
<line x1="615" y1="235.6" x2="615" y2="237.4" stroke="#ffffff" stroke-width="0.7"/>
<path d="M606.7 228.4 L607.59 228.15 L608.85 227.79 L610.36 227.38 L612 227 L613.89 226.62 L616.05 226.23 L618.18 225.87 L620 225.6 L621.35 225.44 L622.41 225.36 L623.39 225.35 L624.5 225.4 L625.81 225.5 L627.19 225.65 L628.61 225.88 L630 226.2 L631.48 226.7 L633.04 227.35 L634.43 227.97 L635.4 228.4 L635.4 229.6 L634.43 230.03 L633.04 230.65 L631.48 231.3 L630 231.8 L628.61 232.12 L627.19 232.35 L625.81 232.5 L624.5 232.6 L623.39 232.65 L622.41 232.64 L621.35 232.56 L620 232.4 L618.18 232.13 L616.05 231.78 L613.89 231.38 L612 231 L610.36 230.62 L608.85 230.21 L607.59 229.85 L606.7 229.6Z" fill="#a6d8e6" stroke="#2196b9" stroke-width="0.5" stroke-linejoin="round"/>
<rect x="619" y="228.1" width="10" height="1.8" fill="#6cbcd4" fill-opacity="0.55" stroke="#2196b9" stroke-width="0.35"/>
<line x1="624" y1="228.1" x2="624" y2="229.9" stroke="#ffffff" stroke-width="0.7"/>
<text x="678.4" y="234" font-size="9.2" text-anchor="middle" font-weight="normal" fill="#231f20" letter-spacing="0.2">***</text>
<line x1="580.8" y1="249.45" x2="583.6" y2="249.45" stroke="#4a4a4a" stroke-width="0.6"/>
<text x="577" y="252.2" font-size="7.8" text-anchor="end" font-weight="normal" fill="#231f20">026</text>
<path d="M587.3 250.45 L588.29 250.46 L589.71 250.49 L591.35 250.49 L593 250.45 L594.59 250.35 L596.23 250.2 L598.01 250.03 L600 249.85 L602.29 249.64 L604.81 249.4 L607.43 249.18 L610 249.05 L612.5 249.02 L615 249.06 L617.5 249.15 L620 249.25 L622.56 249.37 L625.17 249.52 L627.69 249.69 L630 249.85 L632.19 250.01 L634.27 250.19 L636.05 250.34 L637.3 250.45 L637.3 255.65 L636.05 255.76 L634.27 255.91 L632.19 256.09 L630 256.25 L627.69 256.41 L625.17 256.57 L622.56 256.73 L620 256.85 L617.5 256.95 L615 257.04 L612.5 257.08 L610 257.05 L607.43 256.92 L604.81 256.7 L602.29 256.46 L600 256.25 L598.01 256.07 L596.23 255.9 L594.59 255.75 L593 255.65 L591.35 255.61 L589.71 255.61 L588.29 255.64 L587.3 255.65Z" fill="#e3b5ab" stroke="#b9604e" stroke-width="0.5" stroke-linejoin="round"/>
<rect x="600" y="252.15" width="22" height="1.8" fill="#c98a7e" fill-opacity="0.55" stroke="#b9604e" stroke-width="0.35"/>
<line x1="612" y1="252.15" x2="612" y2="253.95" stroke="#ffffff" stroke-width="0.7"/>
<path d="M587.3 245.05 L592.16 245.05 L599.24 245.06 L606.52 245.03 L612 244.95 L614.9 244.8 L616.38 244.6 L617.32 244.35 L618.6 244.05 L620.39 243.65 L622.25 243.17 L624.13 242.7 L626 242.35 L627.89 242.13 L629.81 241.99 L631.68 241.94 L633.4 241.95 L634.91 242.03 L636.27 242.19 L637.59 242.42 L639 242.75 L640.67 243.25 L642.5 243.9 L644.15 244.52 L645.3 244.95 L645.3 246.15 L644.15 246.58 L642.5 247.2 L640.67 247.85 L639 248.35 L637.59 248.68 L636.27 248.91 L634.91 249.07 L633.4 249.15 L631.68 249.16 L629.81 249.11 L627.89 248.97 L626 248.75 L624.13 248.4 L622.25 247.93 L620.39 247.45 L618.6 247.05 L617.32 246.75 L616.38 246.5 L614.9 246.3 L612 246.15 L606.52 246.07 L599.24 246.04 L592.16 246.05 L587.3 246.05Z" fill="#a6d8e6" stroke="#2196b9" stroke-width="0.5" stroke-linejoin="round"/>
<rect x="628" y="244.65" width="10" height="1.8" fill="#6cbcd4" fill-opacity="0.55" stroke="#2196b9" stroke-width="0.35"/>
<line x1="633" y1="244.65" x2="633" y2="246.45" stroke="#ffffff" stroke-width="0.7"/>
<text x="678.4" y="250.55" font-size="9.2" text-anchor="middle" font-weight="normal" fill="#231f20" letter-spacing="0.2">***</text>
<line x1="580.8" y1="266" x2="583.6" y2="266" stroke="#4a4a4a" stroke-width="0.6"/>
<text x="577" y="268.75" font-size="7.8" text-anchor="end" font-weight="normal" fill="#231f20">025</text>
<path d="M587.3 266 L587.73 266.09 L588.34 266.21 L589.1 266.37 L590 266.6 L591.12 266.96 L592.43 267.43 L593.78 267.86 L595 268.1 L595.98 268.09 L596.83 267.92 L597.71 267.66 L598.8 267.4 L600.16 267.1 L601.7 266.74 L603.34 266.41 L605 266.2 L606.72 266.14 L608.51 266.18 L610.3 266.28 L612 266.4 L613.61 266.54 L615.16 266.73 L616.63 266.93 L618 267.1 L619.34 267.25 L620.62 267.39 L621.73 267.51 L622.5 267.6 L622.5 271.6 L621.73 271.69 L620.62 271.81 L619.34 271.95 L618 272.1 L616.63 272.27 L615.16 272.47 L613.61 272.66 L612 272.8 L610.3 272.92 L608.51 273.02 L606.72 273.06 L605 273 L603.34 272.79 L601.7 272.46 L600.16 272.1 L598.8 271.8 L597.71 271.54 L596.83 271.28 L595.98 271.11 L595 271.1 L593.78 271.34 L592.43 271.77 L591.12 272.24 L590 272.6 L589.1 272.83 L588.34 272.99 L587.73 273.11 L587.3 273.2Z" fill="#e3b5ab" stroke="#b9604e" stroke-width="0.5" stroke-linejoin="round"/>
<rect x="600" y="268.7" width="12" height="1.8" fill="#c98a7e" fill-opacity="0.55" stroke="#b9604e" stroke-width="0.35"/>
<line x1="605" y1="268.7" x2="605" y2="270.5" stroke="#ffffff" stroke-width="0.7"/>
<path d="M587.3 259.7 L588.11 259.83 L589.27 260.03 L590.62 260.21 L592 260.3 L593.39 260.29 L594.86 260.21 L596.4 260.08 L598 259.9 L599.66 259.64 L601.38 259.31 L603.16 258.98 L605 258.7 L606.95 258.48 L609 258.29 L611.05 258.15 L613 258.1 L614.8 258.14 L616.5 258.26 L618.2 258.45 L620 258.7 L621.97 259.04 L624.04 259.46 L626.09 259.9 L628 260.3 L629.86 260.66 L631.7 261 L633.29 261.29 L634.4 261.5 L634.4 262.7 L633.29 262.91 L631.7 263.2 L629.86 263.54 L628 263.9 L626.09 264.3 L624.04 264.74 L621.97 265.16 L620 265.5 L618.2 265.75 L616.5 265.94 L614.8 266.06 L613 266.1 L611.05 266.05 L609 265.91 L606.95 265.72 L605 265.5 L603.16 265.22 L601.38 264.89 L599.66 264.56 L598 264.3 L596.4 264.12 L594.86 263.99 L593.39 263.91 L592 263.9 L590.62 263.99 L589.27 264.18 L588.11 264.37 L587.3 264.5Z" fill="#a6d8e6" stroke="#2196b9" stroke-width="0.5" stroke-linejoin="round"/>
<rect x="600" y="261.2" width="20" height="1.8" fill="#6cbcd4" fill-opacity="0.55" stroke="#2196b9" stroke-width="0.35"/>
<line x1="610" y1="261.2" x2="610" y2="263" stroke="#ffffff" stroke-width="0.7"/>
<text x="678.4" y="267.1" font-size="9.2" text-anchor="middle" font-weight="normal" fill="#231f20" letter-spacing="0.2">***</text>
<line x1="580.8" y1="282.55" x2="583.6" y2="282.55" stroke="#4a4a4a" stroke-width="0.6"/>
<text x="577" y="285.3" font-size="7.8" text-anchor="end" font-weight="normal" fill="#231f20">022</text>
<path d="M587.3 282.55 L588.11 282.74 L589.27 283.02 L590.62 283.34 L592 283.65 L593.27 284 L594.54 284.38 L596.05 284.73 L598 284.95 L600.66 285.03 L603.84 285 L607.1 284.9 L610 284.75 L612.37 284.52 L614.46 284.22 L616.47 283.9 L618.6 283.65 L620.93 283.47 L623.34 283.32 L625.73 283.21 L628 283.15 L630.21 283.15 L632.38 283.21 L634.36 283.28 L636 283.35 L637.23 283.4 L638.15 283.46 L638.82 283.51 L639.3 283.55 L639.3 288.75 L638.82 288.79 L638.15 288.84 L637.23 288.9 L636 288.95 L634.36 289.02 L632.38 289.09 L630.21 289.15 L628 289.15 L625.73 289.09 L623.34 288.98 L620.93 288.83 L618.6 288.65 L616.47 288.4 L614.46 288.08 L612.37 287.78 L610 287.55 L607.1 287.4 L603.84 287.3 L600.66 287.27 L598 287.35 L596.05 287.57 L594.54 287.92 L593.27 288.3 L592 288.65 L590.62 288.96 L589.27 289.28 L588.11 289.56 L587.3 289.75Z" fill="#e3b5ab" stroke="#b9604e" stroke-width="0.5" stroke-linejoin="round"/>
<rect x="610" y="285.25" width="25" height="1.8" fill="#c98a7e" fill-opacity="0.55" stroke="#b9604e" stroke-width="0.35"/>
<line x1="627" y1="285.25" x2="627" y2="287.05" stroke="#ffffff" stroke-width="0.7"/>
<path d="M587.3 278.15 L591.8 278.15 L598.36 278.16 L605.07 278.13 L610 278.05 L612.36 277.9 L613.26 277.69 L613.68 277.44 L614.6 277.15 L616.21 276.8 L618 276.38 L619.94 275.98 L622 275.65 L624.23 275.4 L626.63 275.19 L629.06 275.07 L631.4 275.05 L633.64 275.16 L635.84 275.39 L637.97 275.69 L640 276.05 L642.07 276.53 L644.14 277.11 L645.94 277.67 L647.2 278.05 L647.2 279.25 L645.94 279.63 L644.14 280.19 L642.07 280.77 L640 281.25 L637.97 281.61 L635.84 281.91 L633.64 282.14 L631.4 282.25 L629.06 282.23 L626.63 282.11 L624.23 281.9 L622 281.65 L619.94 281.32 L618 280.92 L616.21 280.5 L614.6 280.15 L613.68 279.86 L613.26 279.61 L612.36 279.4 L610 279.25 L605.07 279.17 L598.36 279.14 L591.8 279.15 L587.3 279.15Z" fill="#a6d8e6" stroke="#2196b9" stroke-width="0.5" stroke-linejoin="round"/>
<rect x="625" y="277.75" width="11" height="1.8" fill="#6cbcd4" fill-opacity="0.55" stroke="#2196b9" stroke-width="0.35"/>
<line x1="631" y1="277.75" x2="631" y2="279.55" stroke="#ffffff" stroke-width="0.7"/>
<text x="678.4" y="283.65" font-size="9.2" text-anchor="middle" font-weight="normal" fill="#231f20" letter-spacing="0.2">***</text>
<line x1="580.8" y1="299.1" x2="583.6" y2="299.1" stroke="#4a4a4a" stroke-width="0.6"/>
<text x="577" y="301.85" font-size="7.8" text-anchor="end" font-weight="normal" fill="#231f20">014</text>
<path d="M610.3 300.2 L611.14 300.16 L612.34 300.1 L613.69 300.02 L615 299.9 L616.25 299.71 L617.54 299.47 L618.81 299.24 L620 299.1 L621.02 299.07 L621.94 299.11 L622.88 299.2 L624 299.3 L625.37 299.43 L626.91 299.59 L628.5 299.76 L630 299.9 L631.52 300 L633.08 300.09 L634.44 300.15 L635.4 300.2 L635.4 305.2 L634.44 305.25 L633.08 305.31 L631.52 305.4 L630 305.5 L628.5 305.64 L626.91 305.81 L625.37 305.97 L624 306.1 L622.88 306.2 L621.94 306.29 L621.02 306.33 L620 306.3 L618.81 306.16 L617.54 305.93 L616.25 305.69 L615 305.5 L613.69 305.38 L612.34 305.3 L611.14 305.24 L610.3 305.2Z" fill="#e3b5ab" stroke="#b9604e" stroke-width="0.5" stroke-linejoin="round"/>
<rect x="616" y="301.8" width="10" height="1.8" fill="#c98a7e" fill-opacity="0.55" stroke="#b9604e" stroke-width="0.35"/>
<line x1="621" y1="301.8" x2="621" y2="303.6" stroke="#ffffff" stroke-width="0.7"/>
<path d="M613.6 294.8 L615.2 294.78 L617.52 294.76 L619.98 294.7 L622 294.6 L623.35 294.45 L624.37 294.26 L625.33 294.02 L626.5 293.7 L628.04 293.21 L629.78 292.58 L631.5 292.01 L633 291.7 L634.19 291.73 L635.2 291.98 L636.11 292.34 L637 292.7 L637.84 293.07 L638.61 293.5 L639.39 293.9 L640.3 294.2 L641.34 294.34 L642.47 294.37 L643.69 294.37 L645 294.4 L646.59 294.5 L648.39 294.61 L650.05 294.72 L651.2 294.8 L651.2 295.6 L650.05 295.68 L648.39 295.79 L646.59 295.9 L645 296 L643.69 296.03 L642.47 296.03 L641.34 296.06 L640.3 296.2 L639.39 296.5 L638.61 296.9 L637.84 297.33 L637 297.7 L636.11 298.06 L635.2 298.42 L634.19 298.67 L633 298.7 L631.5 298.39 L629.78 297.82 L628.04 297.19 L626.5 296.7 L625.33 296.38 L624.37 296.14 L623.35 295.95 L622 295.8 L619.98 295.7 L617.52 295.64 L615.2 295.62 L613.6 295.6Z" fill="#a6d8e6" stroke="#2196b9" stroke-width="0.5" stroke-linejoin="round"/>
<rect x="630" y="294.3" width="6" height="1.8" fill="#6cbcd4" fill-opacity="0.55" stroke="#2196b9" stroke-width="0.35"/>
<line x1="633" y1="294.3" x2="633" y2="296.1" stroke="#ffffff" stroke-width="0.7"/>
<text x="678.4" y="300.2" font-size="9.2" text-anchor="middle" font-weight="normal" fill="#231f20" letter-spacing="0.2">***</text>
<line x1="580.8" y1="315.65" x2="583.6" y2="315.65" stroke="#4a4a4a" stroke-width="0.6"/>
<text x="577" y="318.4" font-size="7.8" text-anchor="end" font-weight="normal" fill="#231f20">009</text>
<path d="M587.3 316.85 L589.6 316.83 L592.9 316.81 L596.58 316.76 L600 316.65 L603.03 316.45 L605.98 316.19 L608.95 315.9 L612 315.65 L615.13 315.42 L618.31 315.2 L621.59 315 L625 314.85 L628.68 314.74 L632.56 314.68 L636.41 314.64 L640 314.65 L643.3 314.7 L646.44 314.8 L649.35 314.92 L652 315.05 L654.35 315.19 L656.44 315.34 L658.3 315.5 L660 315.65 L661.58 315.81 L663 315.99 L664.17 316.14 L665 316.25 L665 322.25 L664.17 322.36 L663 322.51 L661.58 322.69 L660 322.85 L658.3 323 L656.44 323.16 L654.35 323.31 L652 323.45 L649.35 323.58 L646.44 323.7 L643.3 323.8 L640 323.85 L636.41 323.86 L632.56 323.83 L628.68 323.76 L625 323.65 L621.59 323.5 L618.31 323.3 L615.13 323.08 L612 322.85 L608.95 322.6 L605.98 322.31 L603.03 322.05 L600 321.85 L596.58 321.74 L592.9 321.69 L589.6 321.67 L587.3 321.65Z" fill="#e3b5ab" stroke="#b9604e" stroke-width="0.5" stroke-linejoin="round"/>
<rect x="615" y="318.35" width="40" height="1.8" fill="#c98a7e" fill-opacity="0.55" stroke="#b9604e" stroke-width="0.35"/>
<line x1="632" y1="318.35" x2="632" y2="320.15" stroke="#ffffff" stroke-width="0.7"/>
<path d="M587.3 311.25 L598.9 311.25 L615.84 311.26 L632.93 311.24 L645 311.15 L649.93 310.98 L650.73 310.74 L649.91 310.46 L650 310.15 L651.48 309.76 L653.06 309.31 L654.62 308.88 L656 308.55 L657.14 308.32 L658.12 308.15 L659.05 308.08 L660 308.15 L661.02 308.41 L662.06 308.84 L663.07 309.32 L664 309.75 L664.84 310.14 L665.62 310.54 L666.34 310.89 L667 311.15 L667.62 311.29 L668.19 311.34 L668.66 311.34 L669 311.35 L669 312.15 L668.66 312.16 L668.19 312.16 L667.62 312.21 L667 312.35 L666.34 312.61 L665.62 312.96 L664.84 313.36 L664 313.75 L663.07 314.18 L662.06 314.66 L661.02 315.09 L660 315.35 L659.05 315.42 L658.12 315.35 L657.14 315.18 L656 314.95 L654.62 314.62 L653.06 314.19 L651.48 313.74 L650 313.35 L649.91 313.04 L650.73 312.76 L649.93 312.52 L645 312.35 L632.93 312.26 L615.84 312.24 L598.9 312.25 L587.3 312.25Z" fill="#a6d8e6" stroke="#2196b9" stroke-width="0.5" stroke-linejoin="round"/>
<rect x="655" y="310.85" width="7" height="1.8" fill="#6cbcd4" fill-opacity="0.55" stroke="#2196b9" stroke-width="0.35"/>
<line x1="658" y1="310.85" x2="658" y2="312.65" stroke="#ffffff" stroke-width="0.7"/>
<text x="678.4" y="316.75" font-size="9.2" text-anchor="middle" font-weight="normal" fill="#231f20" letter-spacing="0.2">***</text>
<line x1="580.8" y1="332.2" x2="583.6" y2="332.2" stroke="#4a4a4a" stroke-width="0.6"/>
<text x="577" y="334.95" font-size="7.8" text-anchor="end" font-weight="normal" fill="#231f20">006</text>
<path d="M587.3 334.8 L589.53 334.63 L592.71 334.39 L596.37 334.1 L600 333.8 L603.59 333.47 L607.36 333.1 L611.2 332.73 L615 332.4 L618.75 332.1 L622.5 331.83 L626.25 331.58 L630 331.4 L633.87 331.28 L637.81 331.23 L641.6 331.2 L645 331.2 L647.95 331.22 L650.56 331.26 L652.9 331.33 L655 331.4 L656.92 331.5 L658.62 331.61 L660.02 331.72 L661 331.8 L661 339.8 L660.02 339.88 L658.62 339.99 L656.92 340.1 L655 340.2 L652.9 340.27 L650.56 340.34 L647.95 340.38 L645 340.4 L641.6 340.4 L637.81 340.38 L633.87 340.32 L630 340.2 L626.25 340.02 L622.5 339.78 L618.75 339.5 L615 339.2 L611.2 338.87 L607.36 338.5 L603.59 338.13 L600 337.8 L596.37 337.5 L592.71 337.21 L589.53 336.97 L587.3 336.8Z" fill="#e3b5ab" stroke="#b9604e" stroke-width="0.5" stroke-linejoin="round"/>
<rect x="630" y="334.9" width="25" height="1.8" fill="#c98a7e" fill-opacity="0.55" stroke="#b9604e" stroke-width="0.35"/>
<line x1="642" y1="334.9" x2="642" y2="336.7" stroke="#ffffff" stroke-width="0.7"/>
<path d="M587.3 327.8 L598.31 327.8 L614.39 327.81 L630.59 327.78 L642 327.7 L646.56 327.55 L647.16 327.34 L646.22 327.09 L646.2 326.8 L647.58 326.45 L649.11 326.03 L650.64 325.63 L652 325.3 L653.13 325.04 L654.11 324.82 L655.04 324.69 L656 324.7 L657 324.9 L658 325.26 L659 325.69 L660 326.1 L661 326.52 L662 326.98 L663 327.39 L664 327.7 L665.09 327.85 L666.25 327.9 L667.28 327.9 L668 327.9 L668 328.7 L667.28 328.7 L666.25 328.7 L665.09 328.75 L664 328.9 L663 329.21 L662 329.63 L661 330.08 L660 330.5 L659 330.91 L658 331.34 L657 331.7 L656 331.9 L655.04 331.91 L654.11 331.78 L653.13 331.56 L652 331.3 L650.64 330.97 L649.11 330.57 L647.58 330.15 L646.2 329.8 L646.22 329.51 L647.16 329.26 L646.56 329.05 L642 328.9 L630.59 328.82 L614.39 328.79 L598.31 328.8 L587.3 328.8Z" fill="#a6d8e6" stroke="#2196b9" stroke-width="0.5" stroke-linejoin="round"/>
<rect x="653" y="327.4" width="6" height="1.8" fill="#6cbcd4" fill-opacity="0.55" stroke="#2196b9" stroke-width="0.35"/>
<line x1="656" y1="327.4" x2="656" y2="329.2" stroke="#ffffff" stroke-width="0.7"/>
<text x="678.4" y="333.3" font-size="9.2" text-anchor="middle" font-weight="normal" fill="#231f20" letter-spacing="0.2">***</text>
<line x1="580.8" y1="348.75" x2="583.6" y2="348.75" stroke="#4a4a4a" stroke-width="0.6"/>
<text x="577" y="351.5" font-size="7.8" text-anchor="end" font-weight="normal" fill="#231f20">004</text>
<path d="M587.3 349.35 L588.14 349.56 L589.34 349.86 L590.69 350.16 L592 350.35 L593.23 350.4 L594.48 350.38 L595.74 350.28 L597 350.15 L598.23 349.94 L599.44 349.66 L600.68 349.38 L602 349.15 L603.45 348.99 L605 348.86 L606.55 348.78 L608 348.75 L609.31 348.78 L610.52 348.85 L611.73 348.98 L613 349.15 L614.34 349.4 L615.71 349.71 L617.13 350.05 L618.6 350.35 L620.12 350.63 L621.69 350.89 L623.31 351.14 L625 351.35 L626.95 351.52 L629.1 351.66 L631.05 351.77 L632.4 351.85 L632.4 352.85 L631.05 352.93 L629.1 353.04 L626.95 353.18 L625 353.35 L623.31 353.56 L621.69 353.81 L620.12 354.07 L618.6 354.35 L617.13 354.65 L615.71 354.99 L614.34 355.3 L613 355.55 L611.73 355.73 L610.52 355.85 L609.31 355.93 L608 355.95 L606.55 355.92 L605 355.84 L603.45 355.71 L602 355.55 L600.68 355.32 L599.44 355.04 L598.23 354.76 L597 354.55 L595.74 354.42 L594.48 354.33 L593.23 354.3 L592 354.35 L590.69 354.54 L589.34 354.84 L588.14 355.14 L587.3 355.35Z" fill="#e3b5ab" stroke="#b9604e" stroke-width="0.5" stroke-linejoin="round"/>
<rect x="600" y="351.45" width="12" height="1.8" fill="#c98a7e" fill-opacity="0.55" stroke="#b9604e" stroke-width="0.35"/>
<line x1="605" y1="351.45" x2="605" y2="353.25" stroke="#ffffff" stroke-width="0.7"/>
<path d="M587.3 343.35 L587.61 343.4 L588.02 343.48 L588.75 343.56 L590 343.65 L592.03 343.77 L594.67 343.91 L597.47 344.03 L600 344.05 L602.17 343.95 L604.21 343.77 L606.15 343.55 L608 343.35 L609.73 343.19 L611.34 343.04 L612.93 342.87 L614.6 342.65 L616.39 342.33 L618.25 341.93 L620.13 341.55 L622 341.25 L623.85 341.05 L625.69 340.9 L627.54 340.83 L629.4 340.85 L631.25 340.97 L633.09 341.18 L634.98 341.47 L637 341.85 L639.4 342.41 L642.08 343.11 L644.51 343.79 L646.2 344.25 L646.2 345.45 L644.51 345.91 L642.08 346.59 L639.4 347.29 L637 347.85 L634.98 348.23 L633.09 348.53 L631.25 348.73 L629.4 348.85 L627.54 348.87 L625.69 348.8 L623.85 348.65 L622 348.45 L620.13 348.15 L618.25 347.77 L616.39 347.37 L614.6 347.05 L612.93 346.83 L611.34 346.66 L609.73 346.51 L608 346.35 L606.15 346.15 L604.21 345.93 L602.17 345.75 L600 345.65 L597.47 345.68 L594.67 345.79 L592.03 345.93 L590 346.05 L588.75 346.14 L588.02 346.23 L587.61 346.3 L587.3 346.35Z" fill="#a6d8e6" stroke="#2196b9" stroke-width="0.5" stroke-linejoin="round"/>
<rect x="620" y="343.95" width="15" height="1.8" fill="#6cbcd4" fill-opacity="0.55" stroke="#2196b9" stroke-width="0.35"/>
<line x1="628" y1="343.95" x2="628" y2="345.75" stroke="#ffffff" stroke-width="0.7"/>
<text x="678.4" y="349.85" font-size="9.2" text-anchor="middle" font-weight="normal" fill="#231f20" letter-spacing="0.2">***</text>
<line x1="580.8" y1="365.3" x2="583.6" y2="365.3" stroke="#4a4a4a" stroke-width="0.6"/>
<text x="577" y="368.05" font-size="7.8" text-anchor="end" font-weight="normal" fill="#231f20">003</text>
<path d="M587.3 358.4 L587.51 358.32 L587.81 358.19 L588.15 358.12 L588.5 358.2 L588.84 358.51 L589.2 358.98 L589.58 359.49 L590 359.9 L589.93 360.2 L589.55 360.44 L589.89 360.64 L592 360.8 L597.16 360.9 L604.48 360.96 L611.73 360.98 L616.7 361 L616.7 361.8 L611.73 361.82 L604.48 361.84 L597.16 361.9 L592 362 L589.89 362.16 L589.55 362.36 L589.93 362.6 L590 362.9 L589.58 363.31 L589.2 363.82 L588.84 364.29 L588.5 364.6 L588.15 364.68 L587.81 364.61 L587.51 364.48 L587.3 364.4Z" fill="#a6d8e6" stroke="#2196b9" stroke-width="0.5" stroke-linejoin="round"/>
<text x="678.6" y="364.2" font-size="7.8" text-anchor="middle" font-weight="normal" fill="#231f20">NS</text>
<line x1="580.8" y1="381.85" x2="583.6" y2="381.85" stroke="#4a4a4a" stroke-width="0.6"/>
<text x="577" y="384.6" font-size="7.8" text-anchor="end" font-weight="normal" fill="#231f20">002</text>
<path d="M587.3 382.45 L588.63 382.38 L590.52 382.28 L592.73 382.16 L595 382.05 L597.42 381.95 L600.08 381.84 L602.7 381.74 L605 381.65 L606.85 381.57 L608.41 381.5 L609.87 381.45 L611.4 381.45 L613.05 381.5 L614.72 381.6 L616.39 381.72 L618 381.85 L619.6 382 L621.18 382.16 L622.68 382.32 L624 382.45 L625.17 382.53 L626.23 382.59 L627.09 382.62 L627.7 382.65 L627.7 388.25 L627.09 388.28 L626.23 388.31 L625.17 388.37 L624 388.45 L622.68 388.58 L621.18 388.74 L619.6 388.9 L618 389.05 L616.39 389.18 L614.72 389.3 L613.05 389.4 L611.4 389.45 L609.87 389.45 L608.41 389.4 L606.85 389.33 L605 389.25 L602.7 389.16 L600.08 389.06 L597.42 388.95 L595 388.85 L592.73 388.74 L590.52 388.63 L588.63 388.52 L587.3 388.45Z" fill="#e3b5ab" stroke="#b9604e" stroke-width="0.5" stroke-linejoin="round"/>
<rect x="600" y="384.55" width="20" height="1.8" fill="#c98a7e" fill-opacity="0.55" stroke="#b9604e" stroke-width="0.35"/>
<line x1="610" y1="384.55" x2="610" y2="386.35" stroke="#ffffff" stroke-width="0.7"/>
<path d="M587.3 377.35 L592.81 377.35 L600.84 377.35 L609.02 377.33 L615 377.25 L617.87 377.12 L618.98 376.95 L619.35 376.73 L620 376.45 L621.08 376.06 L622.08 375.58 L623.04 375.1 L624 374.75 L624.91 374.53 L625.77 374.39 L626.67 374.34 L627.7 374.35 L628.87 374.45 L630.14 374.64 L631.52 374.89 L633 375.15 L634.7 375.45 L636.58 375.81 L638.42 376.16 L640 376.45 L641.13 376.67 L641.98 376.86 L642.83 377.01 L644 377.15 L645.78 377.28 L647.95 377.39 L649.99 377.49 L651.4 377.55 L651.4 378.35 L649.99 378.41 L647.95 378.51 L645.78 378.62 L644 378.75 L642.83 378.89 L641.98 379.04 L641.13 379.23 L640 379.45 L638.42 379.74 L636.58 380.09 L634.7 380.45 L633 380.75 L631.52 381.01 L630.14 381.26 L628.87 381.45 L627.7 381.55 L626.67 381.56 L625.77 381.51 L624.91 381.37 L624 381.15 L623.04 380.8 L622.08 380.33 L621.08 379.84 L620 379.45 L619.35 379.17 L618.98 378.95 L617.87 378.78 L615 378.65 L609.02 378.57 L600.84 378.55 L592.81 378.55 L587.3 378.55Z" fill="#a6d8e6" stroke="#2196b9" stroke-width="0.5" stroke-linejoin="round"/>
<rect x="622" y="377.05" width="10" height="1.8" fill="#6cbcd4" fill-opacity="0.55" stroke="#2196b9" stroke-width="0.35"/>
<line x1="627" y1="377.05" x2="627" y2="378.85" stroke="#ffffff" stroke-width="0.7"/>
<text x="678.4" y="382.95" font-size="9.2" text-anchor="middle" font-weight="normal" fill="#231f20" letter-spacing="0.2">***</text>
<rect x="587" y="368.2" width="1.2" height="1" fill="#e0a8a0"/>
<rect x="587" y="371.2" width="1.2" height="1" fill="#e0a8a0"/>
<line x1="587.6" y1="391.2" x2="587.6" y2="394" stroke="#4a4a4a" stroke-width="0.6"/>
<text x="587.6" y="404.9" font-size="7.8" text-anchor="middle" font-weight="normal" fill="#231f20">0</text>
<line x1="611.4" y1="391.2" x2="611.4" y2="394" stroke="#4a4a4a" stroke-width="0.6"/>
<text x="613.2" y="404.8" font-size="7.8" text-anchor="middle" fill="#231f20">10<tspan font-size="5.62" dy="-3">−3</tspan></text>
<line x1="633.6" y1="391.2" x2="633.6" y2="394" stroke="#4a4a4a" stroke-width="0.6"/>
<text x="635.4" y="404.8" font-size="7.8" text-anchor="middle" fill="#231f20">10<tspan font-size="5.62" dy="-3">−2</tspan></text>
<line x1="655.9" y1="391.2" x2="655.9" y2="394" stroke="#4a4a4a" stroke-width="0.6"/>
<text x="657.7" y="404.8" font-size="7.8" text-anchor="middle" fill="#231f20">10<tspan font-size="5.62" dy="-3">−1</tspan></text>
<line x1="678.1" y1="391.2" x2="678.1" y2="394" stroke="#4a4a4a" stroke-width="0.6"/>
<text x="679.9" y="404.8" font-size="7.8" text-anchor="middle" fill="#231f20">10<tspan font-size="5.62" dy="-3">0</tspan></text>
<text x="632.7" y="416.5" font-size="7.8" text-anchor="middle" font-weight="normal" fill="#231f20">VAF</text>
<rect x="580.2" y="426.5" width="9.6" height="10.6" fill="#a6d8e6" stroke="#2196b9" stroke-width="0.9"/>
<rect x="582" y="428.8" width="6.0" height="5.6" fill="#4fb0cf"/>
<line x1="582" y1="431.6" x2="588" y2="431.6" stroke="#ffffff" stroke-width="0.6"/>
<line x1="582" y1="435.2" x2="588" y2="435.2" stroke="#ffffff" stroke-width="0.5"/>
<text x="593.6" y="435" font-size="7.8" text-anchor="start" font-weight="normal" fill="#231f20">Clonal</text>
<rect x="624.7" y="426.5" width="9.6" height="10.6" fill="#e3b5ab" stroke="#b9604e" stroke-width="0.9"/>
<rect x="626.5" y="428.8" width="6.0" height="5.6" fill="#c47a6c"/>
<line x1="626.5" y1="431.6" x2="632.5" y2="431.6" stroke="#ffffff" stroke-width="0.6"/>
<line x1="626.5" y1="435.2" x2="632.5" y2="435.2" stroke="#ffffff" stroke-width="0.5"/>
<text x="638" y="435" font-size="7.8" text-anchor="start" font-weight="normal" fill="#231f20">Subclonal</text>
<text x="24.6" y="453" font-size="7.8" text-anchor="start" font-weight="normal" fill="#231f20">Clone</text>
<rect x="50" y="446.7" width="7.3" height="7.3" fill="#c1380f"/>
<text x="62" y="453" font-size="7.8" text-anchor="start" font-weight="normal" fill="#231f20">A</text>
<rect x="76.15" y="446.7" width="7.3" height="7.3" fill="#eba21f"/>
<text x="88.15" y="453" font-size="7.8" text-anchor="start" font-weight="normal" fill="#231f20">B</text>
<rect x="102.3" y="446.7" width="7.3" height="7.3" fill="#5a7a1c"/>
<text x="114.3" y="453" font-size="7.8" text-anchor="start" font-weight="normal" fill="#231f20">C</text>
<rect x="128.45" y="446.7" width="7.3" height="7.3" fill="#93b4d1"/>
<text x="140.45" y="453" font-size="7.8" text-anchor="start" font-weight="normal" fill="#231f20">D</text>
<rect x="154.6" y="446.7" width="7.3" height="7.3" fill="#3c4a90"/>
<text x="166.6" y="453" font-size="7.8" text-anchor="start" font-weight="normal" fill="#231f20">E</text>
<rect x="180.75" y="446.7" width="7.3" height="7.3" fill="#e0761e"/>
<text x="192.75" y="453" font-size="7.8" text-anchor="start" font-weight="normal" fill="#231f20">F</text>
<text x="247.6" y="453" font-size="7.8" text-anchor="start" font-weight="normal" fill="#231f20">SV</text>
<rect x="262.1" y="446.6" width="1.2" height="7.8" fill="#d9772a"/>
<text x="267.3" y="453" font-size="7.8" text-anchor="start" font-weight="normal" fill="#231f20">Inversion</text>
<rect x="316" y="446.6" width="1.2" height="7.8" fill="#f6c662"/>
<text x="321.2" y="453" font-size="7.8" text-anchor="start" font-weight="normal" fill="#231f20">Foldback</text>
<rect x="370.2" y="446.6" width="1.2" height="7.8" fill="#e0203a"/>
<text x="375.4" y="453" font-size="7.8" text-anchor="start" font-weight="normal" fill="#231f20">Duplication</text>
<rect x="431.4" y="446.6" width="1.2" height="7.8" fill="#8fcbe6"/>
<text x="436.6" y="453" font-size="7.8" text-anchor="start" font-weight="normal" fill="#231f20">Deletion</text>
<rect x="482.8" y="446.6" width="1.2" height="7.8" fill="#333333"/>
<text x="488" y="453" font-size="7.8" text-anchor="start" font-weight="normal" fill="#231f20">Translocation</text>
</svg>
</body></html>
